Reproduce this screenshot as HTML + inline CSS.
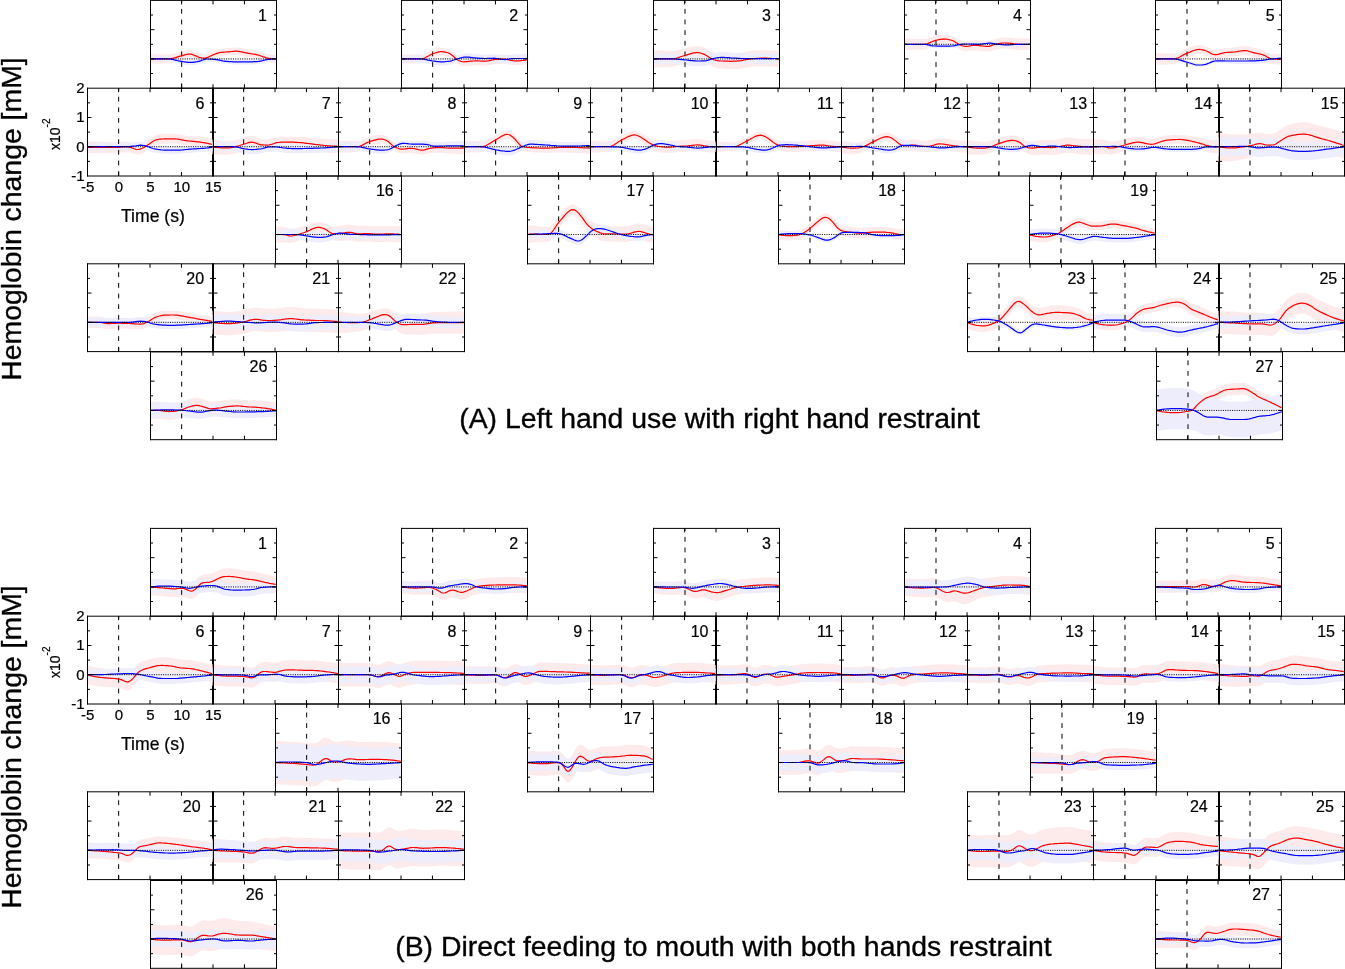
<!DOCTYPE html>
<html><head><meta charset="utf-8"><style>
html,body{margin:0;padding:0;background:#fff;}
svg{display:block;will-change:transform;}
text{font-family:"Liberation Sans",sans-serif;fill:#000;stroke:#000;stroke-width:0.22px;}
.pn{font-size:16px;text-anchor:middle;}
.ax{font-size:15px;}
.x10{font-size:14px;}
.sup{font-size:10px;}
.tl{font-size:17.6px;}
.big{font-size:28.4px;stroke:#000;stroke-width:0.35px;}
</style></head><body>
<svg width="1345" height="969" viewBox="0 0 1345 969">
<clipPath id="cA1"><rect x="150.20" y="0.40" width="125.67" height="87.80"/></clipPath>
<g clip-path="url(#cA1)">
<polygon points="150.2,54.3 152.6,54.3 154.9,54.3 157.3,54.3 159.6,54.3 162.0,54.4 164.3,54.4 166.7,54.4 169.1,54.3 171.4,54.0 173.8,53.5 176.1,52.9 178.5,52.2 180.8,51.6 183.2,51.0 185.5,50.5 187.9,50.1 190.3,50.0 192.6,50.6 195.0,51.6 197.3,52.7 199.7,53.5 202.0,54.1 204.4,54.3 206.8,54.0 209.1,53.1 211.5,52.1 213.8,51.0 216.2,50.1 218.5,49.3 220.9,48.9 223.2,48.6 225.6,48.4 228.0,48.2 230.3,47.9 232.7,47.7 235.0,47.5 237.4,47.6 239.7,47.8 242.1,48.3 244.5,48.8 246.8,49.2 249.2,49.6 251.5,50.0 253.9,50.3 256.2,50.7 258.6,51.2 260.9,52.0 263.3,52.9 265.7,53.6 268.0,54.1 270.4,54.5 272.7,54.7 275.1,54.8 275.9,54.8 275.9,63.0 275.1,63.0 272.7,62.8 270.4,62.5 268.0,62.2 265.7,61.6 263.3,60.8 260.9,59.9 258.6,59.1 256.2,58.5 253.9,58.1 251.5,57.7 249.2,57.3 246.8,56.9 244.5,56.4 242.1,55.8 239.7,55.4 237.4,55.1 235.0,55.0 232.7,55.1 230.3,55.3 228.0,55.5 225.6,55.7 223.2,55.8 220.9,56.0 218.5,56.5 216.2,57.2 213.8,58.1 211.5,59.2 209.1,60.3 206.8,61.4 204.4,61.9 202.0,61.8 199.7,61.3 197.3,60.6 195.0,59.6 192.6,58.7 190.3,58.3 187.9,58.5 185.5,59.0 183.2,59.7 180.8,60.4 178.5,61.1 176.1,61.8 173.8,62.5 171.4,63.0 169.1,63.3 166.7,63.4 164.3,63.5 162.0,63.5 159.6,63.5 157.3,63.6 154.9,63.6 152.6,63.6 150.2,63.6" fill="#fdeaea"/>
<polygon points="150.2,56.3 152.6,56.3 154.9,56.3 157.3,56.3 159.6,56.3 162.0,56.3 164.3,56.3 166.7,56.3 169.1,56.4 171.4,56.6 173.8,57.1 176.1,57.6 178.5,58.2 180.8,58.6 183.2,59.0 185.5,59.4 187.9,59.6 190.3,59.7 192.6,59.6 195.0,59.4 197.3,59.0 199.7,58.4 202.0,57.6 204.4,56.8 206.8,56.4 209.1,56.4 211.5,56.5 213.8,56.7 216.2,57.0 218.5,57.4 220.9,57.9 223.2,58.3 225.6,58.7 228.0,58.9 230.3,59.0 232.7,59.1 235.0,59.2 237.4,59.2 239.7,59.2 242.1,59.2 244.5,59.2 246.8,59.2 249.2,59.2 251.5,59.2 253.9,59.1 256.2,59.0 258.6,58.7 260.9,58.3 263.3,57.7 265.7,57.2 268.0,56.8 270.4,56.6 272.7,56.4 275.1,56.3 275.9,56.3 275.9,61.6 275.1,61.6 272.7,61.7 270.4,61.9 268.0,62.1 265.7,62.5 263.3,63.0 260.9,63.6 258.6,64.0 256.2,64.2 253.9,64.4 251.5,64.4 249.2,64.5 246.8,64.5 244.5,64.5 242.1,64.5 239.7,64.5 237.4,64.5 235.0,64.5 232.7,64.4 230.3,64.3 228.0,64.1 225.6,63.9 223.2,63.6 220.9,63.2 218.5,62.7 216.2,62.3 213.8,62.0 211.5,61.8 209.1,61.7 206.8,61.7 204.4,62.1 202.0,62.9 199.7,63.7 197.3,64.3 195.0,64.7 192.6,64.9 190.3,65.0 187.9,64.9 185.5,64.7 183.2,64.3 180.8,63.9 178.5,63.4 176.1,62.9 173.8,62.3 171.4,61.9 169.1,61.7 166.7,61.6 164.3,61.6 162.0,61.6 159.6,61.6 157.3,61.6 154.9,61.6 152.6,61.6 150.2,61.6" fill="#ededfc"/>
<line x1="181.65" y1="88.20" x2="181.65" y2="0.40" stroke="#000" stroke-width="1" stroke-dasharray="4.8 5.84"/>
<path d="M150.2,58.9L151.8,58.9L153.3,58.9L154.9,58.9L156.5,58.9L158.1,58.9L159.6,58.9L161.2,58.9L162.8,58.9L164.3,58.9L165.9,58.9L167.5,58.9L169.1,58.9L170.6,58.7L172.2,58.4L173.8,58.0L175.3,57.6L176.9,57.1L178.5,56.6L180.0,56.2L181.6,55.8L183.2,55.3L184.8,54.9L186.3,54.5L187.9,54.2L189.5,54.1L191.0,54.2L192.6,54.6L194.2,55.2L195.8,55.9L197.3,56.6L198.9,57.2L200.5,57.7L202.0,58.0L203.6,58.2L205.2,58.1L206.8,57.7L208.3,57.1L209.9,56.3L211.5,55.6L213.0,54.9L214.6,54.2L216.2,53.6L217.7,53.1L219.3,52.7L220.9,52.4L222.5,52.3L224.0,52.1L225.6,52.0L227.2,51.9L228.7,51.8L230.3,51.6L231.9,51.5L233.5,51.3L235.0,51.2L236.6,51.2L238.2,51.4L239.7,51.6L241.3,51.9L242.9,52.2L244.5,52.6L246.0,52.9L247.6,53.2L249.2,53.5L250.7,53.7L252.3,54.0L253.9,54.2L255.4,54.4L257.0,54.8L258.6,55.1L260.2,55.7L261.7,56.3L263.3,56.9L264.9,57.4L266.4,57.9L268.0,58.2L269.6,58.4L271.2,58.6L272.7,58.8L274.3,58.9L275.9,58.9" fill="none" stroke="#ff0000" stroke-width="1.2"/>
<path d="M150.2,58.9L151.8,58.9L153.3,58.9L154.9,58.9L156.5,58.9L158.1,58.9L159.6,58.9L161.2,58.9L162.8,58.9L164.3,58.9L165.9,58.9L167.5,58.9L169.1,59.0L170.6,59.1L172.2,59.4L173.8,59.7L175.3,60.1L176.9,60.5L178.5,60.8L180.0,61.1L181.6,61.4L183.2,61.7L184.8,61.9L186.3,62.1L187.9,62.3L189.5,62.4L191.0,62.4L192.6,62.3L194.2,62.1L195.8,61.9L197.3,61.7L198.9,61.3L200.5,60.9L202.0,60.3L203.6,59.7L205.2,59.2L206.8,59.0L208.3,59.0L209.9,59.1L211.5,59.2L213.0,59.3L214.6,59.4L216.2,59.6L217.7,59.9L219.3,60.2L220.9,60.5L222.5,60.9L224.0,61.1L225.6,61.3L227.2,61.4L228.7,61.6L230.3,61.7L231.9,61.7L233.5,61.8L235.0,61.8L236.6,61.9L238.2,61.9L239.7,61.9L241.3,61.9L242.9,61.9L244.5,61.9L246.0,61.9L247.6,61.9L249.2,61.8L250.7,61.8L252.3,61.8L253.9,61.7L255.4,61.7L257.0,61.6L258.6,61.4L260.2,61.1L261.7,60.8L263.3,60.3L264.9,60.0L266.4,59.7L268.0,59.4L269.6,59.3L271.2,59.2L272.7,59.0L274.3,59.0L275.9,58.9" fill="none" stroke="#0000ff" stroke-width="1.2"/>
<line x1="150.20" y1="58.93" x2="275.87" y2="58.93" stroke="#000" stroke-width="1" stroke-dasharray="1 1.3"/>
</g>
<path d="M181.62,0.40v4M181.62,88.20v-4M213.03,0.40v4M213.03,88.20v-4M244.45,0.40v4M244.45,88.20v-4M150.50,15.03h2.5M276.50,15.03h-2.5M150.50,29.67h4M276.50,29.67h-4M150.50,44.30h2.5M276.50,44.30h-2.5M150.50,58.93h4M276.50,58.93h-4M150.50,73.57h2.5M276.50,73.57h-2.5" stroke="#000" stroke-width="1" fill="none"/>
<path d="M150.00,0.40H277.00M150.00,88.20H277.00M150.50,-0.10V88.70M276.50,-0.10V88.70" stroke="#000" stroke-width="1" fill="none"/>
<text x="262.50" y="20.80" class="pn">1</text>
<clipPath id="cA2"><rect x="401.20" y="0.40" width="125.67" height="87.80"/></clipPath>
<g clip-path="url(#cA2)">
<polygon points="401.2,54.3 403.6,54.3 405.9,54.4 408.3,54.4 410.6,54.5 413.0,54.5 415.3,54.6 417.7,54.6 420.1,54.6 422.4,54.4 424.8,53.7 427.1,52.5 429.5,51.2 431.8,50.1 434.2,49.3 436.5,48.6 438.9,48.1 441.3,47.9 443.6,48.0 446.0,48.4 448.3,49.1 450.7,50.2 453.0,52.0 455.4,53.9 457.8,55.6 460.1,56.8 462.5,57.3 464.8,57.3 467.2,57.2 469.5,56.9 471.9,56.7 474.2,56.5 476.6,56.5 479.0,56.6 481.3,56.7 483.7,56.8 486.0,56.7 488.4,56.4 490.7,56.0 493.1,55.5 495.5,55.1 497.8,54.9 500.2,54.7 502.5,54.6 504.9,54.7 507.2,55.1 509.6,55.7 511.9,56.1 514.3,56.4 516.7,56.4 519.0,56.4 521.4,56.2 523.7,56.0 526.1,55.7 526.9,55.6 526.9,64.3 526.1,64.4 523.7,64.7 521.4,65.0 519.0,65.1 516.7,65.2 514.3,65.2 511.9,64.9 509.6,64.4 507.2,63.9 504.9,63.5 502.5,63.4 500.2,63.5 497.8,63.7 495.5,63.9 493.1,64.2 490.7,64.7 488.4,65.2 486.0,65.5 483.7,65.6 481.3,65.5 479.0,65.3 476.6,65.3 474.2,65.3 471.9,65.5 469.5,65.7 467.2,65.9 464.8,66.1 462.5,66.0 460.1,65.4 457.8,64.1 455.4,62.3 453.0,60.2 450.7,58.3 448.3,57.1 446.0,56.3 443.6,55.8 441.3,55.6 438.9,55.8 436.5,56.4 434.2,57.2 431.8,58.2 429.5,59.4 427.1,60.8 424.8,62.1 422.4,62.9 420.1,63.2 417.7,63.3 415.3,63.3 413.0,63.4 410.6,63.4 408.3,63.5 405.9,63.5 403.6,63.6 401.2,63.6" fill="#fdeaea"/>
<polygon points="401.2,55.4 403.6,55.4 405.9,55.4 408.3,55.4 410.6,55.4 413.0,55.4 415.3,55.4 417.7,55.3 420.1,55.3 422.4,55.4 424.8,55.7 427.1,56.2 429.5,56.8 431.8,57.2 434.2,57.6 436.5,57.8 438.9,58.0 441.3,58.1 443.6,58.0 446.0,57.9 448.3,57.6 450.7,57.2 453.0,56.6 455.4,55.8 457.8,55.0 460.1,54.3 462.5,53.7 464.8,53.4 467.2,53.3 469.5,53.4 471.9,53.7 474.2,53.9 476.6,54.1 479.0,54.3 481.3,54.4 483.7,54.5 486.0,54.5 488.4,54.4 490.7,54.3 493.1,54.2 495.5,54.2 497.8,54.5 500.2,54.9 502.5,55.3 504.9,55.3 507.2,55.1 509.6,54.8 511.9,54.4 514.3,54.3 516.7,54.2 519.0,54.2 521.4,54.2 523.7,54.1 526.1,54.1 526.9,54.1 526.9,62.9 526.1,62.9 523.7,62.9 521.4,62.8 519.0,62.8 516.7,62.8 514.3,62.8 511.9,62.9 509.6,63.2 507.2,63.5 504.9,63.7 502.5,63.6 500.2,63.2 497.8,62.7 495.5,62.4 493.1,62.3 490.7,62.4 488.4,62.4 486.0,62.5 483.7,62.4 481.3,62.3 479.0,62.2 476.6,62.0 474.2,61.7 471.9,61.4 469.5,61.2 467.2,61.0 464.8,61.0 462.5,61.3 460.1,61.9 457.8,62.6 455.4,63.3 453.0,64.1 450.7,64.6 448.3,65.0 446.0,65.3 443.6,65.5 441.3,65.5 438.9,65.4 436.5,65.2 434.2,64.9 431.8,64.5 429.5,64.1 427.1,63.5 424.8,63.0 422.4,62.7 420.1,62.5 417.7,62.5 415.3,62.5 413.0,62.5 410.6,62.5 408.3,62.5 405.9,62.5 403.6,62.5 401.2,62.4" fill="#ededfc"/>
<line x1="432.65" y1="88.20" x2="432.65" y2="0.40" stroke="#000" stroke-width="1" stroke-dasharray="4.8 5.84"/>
<path d="M401.2,58.9L402.8,58.9L404.3,58.9L405.9,58.9L407.5,58.9L409.1,58.9L410.6,58.9L412.2,58.9L413.8,58.9L415.3,58.9L416.9,58.9L418.5,58.9L420.1,58.9L421.6,58.8L423.2,58.6L424.8,58.0L426.3,57.1L427.9,56.2L429.5,55.2L431.0,54.5L432.6,53.8L434.2,53.3L435.8,52.7L437.3,52.3L438.9,51.9L440.5,51.7L442.0,51.7L443.6,51.9L445.2,52.1L446.8,52.5L448.3,53.0L449.9,53.7L451.5,54.7L453.0,56.0L454.6,57.5L456.2,58.8L457.8,59.9L459.3,60.8L460.9,61.4L462.5,61.7L464.0,61.8L465.6,61.7L467.2,61.6L468.7,61.4L470.3,61.2L471.9,61.1L473.5,61.0L475.0,60.9L476.6,60.9L478.2,60.9L479.7,61.0L481.3,61.1L482.9,61.2L484.5,61.2L486.0,61.2L487.6,61.0L489.2,60.7L490.7,60.3L492.3,60.0L493.9,59.7L495.5,59.5L497.0,59.3L498.6,59.2L500.2,59.1L501.7,59.0L503.3,59.0L504.9,59.1L506.4,59.3L508.0,59.6L509.6,60.1L511.2,60.4L512.7,60.7L514.3,60.8L515.9,60.8L517.4,60.8L519.0,60.8L520.6,60.7L522.2,60.5L523.7,60.4L525.3,60.1L526.9,59.9" fill="none" stroke="#ff0000" stroke-width="1.2"/>
<path d="M401.2,58.9L402.8,58.9L404.3,58.9L405.9,58.9L407.5,58.9L409.1,58.9L410.6,58.9L412.2,58.9L413.8,58.9L415.3,58.9L416.9,58.9L418.5,58.9L420.1,58.9L421.6,59.0L423.2,59.1L424.8,59.3L426.3,59.7L427.9,60.1L429.5,60.4L431.0,60.7L432.6,61.0L434.2,61.2L435.8,61.4L437.3,61.6L438.9,61.7L440.5,61.8L442.0,61.8L443.6,61.8L445.2,61.7L446.8,61.5L448.3,61.3L449.9,61.1L451.5,60.8L453.0,60.3L454.6,59.8L456.2,59.3L457.8,58.8L459.3,58.3L460.9,57.9L462.5,57.5L464.0,57.2L465.6,57.1L467.2,57.1L468.7,57.2L470.3,57.4L471.9,57.6L473.5,57.8L475.0,57.9L476.6,58.1L478.2,58.2L479.7,58.3L481.3,58.4L482.9,58.4L484.5,58.5L486.0,58.5L487.6,58.4L489.2,58.4L490.7,58.3L492.3,58.3L493.9,58.2L495.5,58.3L497.0,58.5L498.6,58.7L500.2,59.1L501.7,59.4L503.3,59.5L504.9,59.6L506.4,59.5L508.0,59.2L509.6,59.0L511.2,58.7L512.7,58.6L514.3,58.5L515.9,58.5L517.4,58.5L519.0,58.5L520.6,58.5L522.2,58.5L523.7,58.5L525.3,58.5L526.9,58.5" fill="none" stroke="#0000ff" stroke-width="1.2"/>
<line x1="401.20" y1="58.93" x2="526.87" y2="58.93" stroke="#000" stroke-width="1" stroke-dasharray="1 1.3"/>
</g>
<path d="M432.62,0.40v4M432.62,88.20v-4M464.03,0.40v4M464.03,88.20v-4M495.45,0.40v4M495.45,88.20v-4M401.50,15.03h2.5M527.50,15.03h-2.5M401.50,29.67h4M527.50,29.67h-4M401.50,44.30h2.5M527.50,44.30h-2.5M401.50,58.93h4M527.50,58.93h-4M401.50,73.57h2.5M527.50,73.57h-2.5" stroke="#000" stroke-width="1" fill="none"/>
<path d="M401.00,0.40H528.00M401.00,88.20H528.00M401.50,-0.10V88.70M527.50,-0.10V88.70" stroke="#000" stroke-width="1" fill="none"/>
<text x="513.80" y="20.80" class="pn">2</text>
<clipPath id="cA3"><rect x="653.20" y="0.40" width="125.67" height="87.80"/></clipPath>
<g clip-path="url(#cA3)">
<polygon points="653.2,50.2 655.6,50.3 657.9,50.4 660.3,50.5 662.6,50.7 665.0,50.8 667.3,50.9 669.7,51.0 672.1,51.1 674.4,50.9 676.8,50.5 679.1,49.9 681.5,49.2 683.8,48.6 686.2,48.0 688.5,47.4 690.9,46.9 693.3,46.4 695.6,46.1 698.0,46.1 700.3,46.5 702.7,47.1 705.0,48.0 707.4,49.3 709.8,50.8 712.1,52.0 714.5,52.7 716.8,53.2 719.2,53.4 721.5,53.4 723.9,53.5 726.2,53.5 728.6,53.6 731.0,53.6 733.3,53.5 735.7,53.4 738.0,53.2 740.4,52.9 742.7,52.5 745.1,52.0 747.5,51.5 749.8,51.1 752.2,50.8 754.5,50.6 756.9,50.4 759.2,50.3 761.6,50.2 763.9,50.2 766.3,50.2 768.7,50.2 771.0,50.3 773.4,50.4 775.7,50.5 778.1,50.6 778.9,50.7 778.9,67.0 778.1,67.0 775.7,66.8 773.4,66.6 771.0,66.5 768.7,66.4 766.3,66.3 763.9,66.3 761.6,66.2 759.2,66.3 756.9,66.3 754.5,66.5 752.2,66.7 749.8,66.9 747.5,67.3 745.1,67.7 742.7,68.1 740.4,68.4 738.0,68.7 735.7,68.9 733.3,69.0 731.0,69.0 728.6,68.9 726.2,68.8 723.9,68.7 721.5,68.5 719.2,68.3 716.8,67.9 714.5,67.2 712.1,66.2 709.8,64.8 707.4,63.1 705.0,61.6 702.7,60.5 700.3,59.7 698.0,59.2 695.6,59.3 693.3,59.7 690.9,60.4 688.5,61.2 686.2,62.1 683.8,62.9 681.5,63.8 679.1,64.7 676.8,65.6 674.4,66.2 672.1,66.6 669.7,66.8 667.3,67.0 665.0,67.1 662.6,67.2 660.3,67.3 657.9,67.5 655.6,67.6 653.2,67.7" fill="#fdeaea"/>
<polygon points="653.2,53.7 655.6,53.7 657.9,53.7 660.3,53.7 662.6,53.7 665.0,53.7 667.3,53.7 669.7,53.7 672.1,53.7 674.4,53.8 676.8,53.9 679.1,54.1 681.5,54.3 683.8,54.5 686.2,54.8 688.5,55.0 690.9,55.3 693.3,55.5 695.6,55.6 698.0,55.7 700.3,55.7 702.7,55.6 705.0,55.5 707.4,55.1 709.8,54.3 712.1,53.6 714.5,53.0 716.8,52.6 719.2,52.3 721.5,52.1 723.9,52.1 726.2,52.3 728.6,52.4 731.0,52.6 733.3,52.8 735.7,52.9 738.0,53.1 740.4,53.2 742.7,53.3 745.1,53.3 747.5,53.4 749.8,53.4 752.2,53.4 754.5,53.4 756.9,53.4 759.2,53.4 761.6,53.4 763.9,53.4 766.3,53.3 768.7,53.3 771.0,53.3 773.4,53.3 775.7,53.3 778.1,53.2 778.9,53.2 778.9,63.8 778.1,63.8 775.7,63.8 773.4,63.8 771.0,63.8 768.7,63.9 766.3,63.9 763.9,63.9 761.6,63.9 759.2,63.9 756.9,63.9 754.5,63.9 752.2,63.9 749.8,63.9 747.5,63.9 745.1,63.9 742.7,63.8 740.4,63.7 738.0,63.6 735.7,63.5 733.3,63.3 731.0,63.2 728.6,63.0 726.2,62.8 723.9,62.7 721.5,62.7 719.2,62.8 716.8,63.1 714.5,63.6 712.1,64.1 709.8,64.8 707.4,65.6 705.0,66.0 702.7,66.2 700.3,66.2 698.0,66.2 695.6,66.2 693.3,66.0 690.9,65.8 688.5,65.6 686.2,65.3 683.8,65.1 681.5,64.8 679.1,64.6 676.8,64.4 674.4,64.3 672.1,64.2 669.7,64.2 667.3,64.2 665.0,64.2 662.6,64.2 660.3,64.2 657.9,64.2 655.6,64.2 653.2,64.2" fill="#ededfc"/>
<line x1="685.00" y1="88.20" x2="685.00" y2="0.40" stroke="#000" stroke-width="1" stroke-dasharray="4.8 5.84"/>
<path d="M653.2,58.9L654.8,58.9L656.3,58.9L657.9,58.9L659.5,58.9L661.1,58.9L662.6,58.9L664.2,58.9L665.8,58.9L667.3,58.9L668.9,58.9L670.5,58.9L672.1,58.9L673.6,58.7L675.2,58.5L676.8,58.1L678.3,57.6L679.9,57.0L681.5,56.5L683.0,56.0L684.6,55.5L686.2,55.1L687.8,54.6L689.3,54.1L690.9,53.6L692.5,53.2L694.0,52.9L695.6,52.7L697.2,52.6L698.8,52.7L700.3,53.0L701.9,53.5L703.5,54.1L705.0,54.8L706.6,55.6L708.2,56.7L709.8,57.8L711.3,58.8L712.9,59.5L714.5,60.0L716.0,60.4L717.6,60.7L719.2,60.8L720.7,61.0L722.3,61.0L723.9,61.1L725.5,61.1L727.0,61.2L728.6,61.2L730.2,61.3L731.7,61.3L733.3,61.2L734.9,61.2L736.5,61.1L738.0,60.9L739.6,60.8L741.2,60.6L742.7,60.3L744.3,60.0L745.9,59.7L747.5,59.4L749.0,59.1L750.6,58.9L752.2,58.7L753.7,58.6L755.3,58.5L756.9,58.4L758.4,58.3L760.0,58.2L761.6,58.2L763.2,58.2L764.7,58.2L766.3,58.2L767.9,58.3L769.4,58.3L771.0,58.4L772.6,58.5L774.2,58.5L775.7,58.7L777.3,58.8L778.9,58.9" fill="none" stroke="#ff0000" stroke-width="1.2"/>
<path d="M653.2,58.9L654.8,58.9L656.3,58.9L657.9,58.9L659.5,58.9L661.1,58.9L662.6,58.9L664.2,58.9L665.8,58.9L667.3,58.9L668.9,58.9L670.5,58.9L672.1,58.9L673.6,59.0L675.2,59.1L676.8,59.2L678.3,59.3L679.9,59.4L681.5,59.6L683.0,59.7L684.6,59.9L686.2,60.0L687.8,60.2L689.3,60.4L690.9,60.6L692.5,60.7L694.0,60.8L695.6,60.9L697.2,61.0L698.8,61.0L700.3,61.0L701.9,60.9L703.5,60.9L705.0,60.8L706.6,60.6L708.2,60.1L709.8,59.6L711.3,59.0L712.9,58.6L714.5,58.3L716.0,58.0L717.6,57.7L719.2,57.5L720.7,57.4L722.3,57.4L723.9,57.4L725.5,57.5L727.0,57.6L728.6,57.7L730.2,57.8L731.7,58.0L733.3,58.1L734.9,58.2L736.5,58.2L738.0,58.3L739.6,58.4L741.2,58.5L742.7,58.5L744.3,58.6L745.9,58.6L747.5,58.6L749.0,58.6L750.6,58.6L752.2,58.6L753.7,58.6L755.3,58.6L756.9,58.6L758.4,58.6L760.0,58.6L761.6,58.6L763.2,58.6L764.7,58.6L766.3,58.6L767.9,58.6L769.4,58.6L771.0,58.6L772.6,58.6L774.2,58.5L775.7,58.5L777.3,58.5L778.9,58.5" fill="none" stroke="#0000ff" stroke-width="1.2"/>
<line x1="653.20" y1="58.93" x2="778.87" y2="58.93" stroke="#000" stroke-width="1" stroke-dasharray="1 1.3"/>
</g>
<path d="M684.62,0.40v4M684.62,88.20v-4M716.04,0.40v4M716.04,88.20v-4M747.45,0.40v4M747.45,88.20v-4M653.50,15.03h2.5M779.50,15.03h-2.5M653.50,29.67h4M779.50,29.67h-4M653.50,44.30h2.5M779.50,44.30h-2.5M653.50,58.93h4M779.50,58.93h-4M653.50,73.57h2.5M779.50,73.57h-2.5" stroke="#000" stroke-width="1" fill="none"/>
<path d="M653.00,0.40H780.00M653.00,88.20H780.00M653.50,-0.10V88.70M779.50,-0.10V88.70" stroke="#000" stroke-width="1" fill="none"/>
<text x="766.35" y="20.80" class="pn">3</text>
<clipPath id="cA4"><rect x="904.20" y="0.40" width="125.67" height="87.80"/></clipPath>
<g clip-path="url(#cA4)">
<polygon points="904.2,38.5 906.6,38.5 908.9,38.6 911.3,38.7 913.6,38.8 916.0,38.9 918.3,39.0 920.7,39.0 923.1,39.1 925.4,39.0 927.8,38.5 930.1,37.6 932.5,36.7 934.8,35.9 937.2,35.4 939.5,35.0 941.9,34.8 944.3,34.7 946.6,34.8 949.0,35.2 951.3,35.7 953.7,36.6 956.0,37.8 958.4,39.2 960.8,40.3 963.1,41.1 965.5,41.4 967.8,41.2 970.2,40.8 972.5,40.4 974.9,40.2 977.2,40.2 979.6,40.4 982.0,40.7 984.3,41.0 986.7,41.1 989.0,40.9 991.4,40.3 993.7,39.4 996.1,38.7 998.5,38.2 1000.8,37.8 1003.2,37.6 1005.5,37.5 1007.9,37.6 1010.2,37.7 1012.6,37.9 1014.9,38.3 1017.3,38.5 1019.7,38.6 1022.0,38.6 1024.4,38.5 1026.7,38.5 1029.1,38.5 1029.9,38.5 1029.9,50.1 1029.1,50.1 1026.7,50.1 1024.4,50.1 1022.0,50.0 1019.7,50.0 1017.3,49.9 1014.9,49.6 1012.6,49.2 1010.2,48.9 1007.9,48.7 1005.5,48.6 1003.2,48.5 1000.8,48.7 998.5,49.0 996.1,49.5 993.7,50.1 991.4,50.9 989.0,51.5 986.7,51.6 984.3,51.4 982.0,51.1 979.6,50.7 977.2,50.5 974.9,50.4 972.5,50.5 970.2,50.8 967.8,51.1 965.5,51.2 963.1,50.8 960.8,49.9 958.4,48.7 956.0,47.2 953.7,45.8 951.3,44.9 949.0,44.2 946.6,43.7 944.3,43.6 941.9,43.7 939.5,44.1 937.2,44.7 934.8,45.4 932.5,46.3 930.1,47.5 927.8,48.5 925.4,49.2 923.1,49.4 920.7,49.6 918.3,49.6 916.0,49.7 913.6,49.8 911.3,49.9 908.9,50.0 906.6,50.1 904.2,50.1" fill="#fdeaea"/>
<polygon points="904.2,42.3 906.6,42.3 908.9,42.3 911.3,42.3 913.6,42.3 916.0,42.3 918.3,42.3 920.7,42.3 923.1,42.3 925.4,42.4 927.8,42.8 930.1,43.4 932.5,43.8 934.8,43.9 937.2,44.0 939.5,44.1 941.9,44.1 944.3,44.1 946.6,44.1 949.0,44.0 951.3,43.9 953.7,43.7 956.0,43.3 958.4,42.7 960.8,42.3 963.1,42.1 965.5,42.0 967.8,42.0 970.2,42.0 972.5,42.0 974.9,42.1 977.2,42.2 979.6,42.2 982.0,42.0 984.3,41.7 986.7,41.4 989.0,41.2 991.4,41.3 993.7,41.6 996.1,42.0 998.5,42.3 1000.8,42.5 1003.2,42.7 1005.5,42.8 1007.9,42.8 1010.2,42.7 1012.6,42.5 1014.9,42.4 1017.3,42.3 1019.7,42.3 1022.0,42.3 1024.4,42.3 1026.7,42.3 1029.1,42.3 1029.9,42.3 1029.9,46.3 1029.1,46.3 1026.7,46.3 1024.4,46.3 1022.0,46.3 1019.7,46.4 1017.3,46.4 1014.9,46.5 1012.6,46.6 1010.2,46.8 1007.9,46.9 1005.5,46.9 1003.2,46.8 1000.8,46.6 998.5,46.4 996.1,46.1 993.7,45.7 991.4,45.4 989.0,45.3 986.7,45.5 984.3,45.8 982.0,46.1 979.6,46.3 977.2,46.3 974.9,46.2 972.5,46.1 970.2,46.1 967.8,46.1 965.5,46.1 963.1,46.2 960.8,46.4 958.4,46.8 956.0,47.4 953.7,47.8 951.3,48.0 949.0,48.1 946.6,48.2 944.3,48.2 941.9,48.2 939.5,48.2 937.2,48.1 934.8,48.0 932.5,47.9 930.1,47.5 927.8,46.9 925.4,46.5 923.1,46.4 920.7,46.3 918.3,46.3 916.0,46.3 913.6,46.3 911.3,46.3 908.9,46.3 906.6,46.3 904.2,46.3" fill="#ededfc"/>
<line x1="936.00" y1="88.20" x2="936.00" y2="0.40" stroke="#000" stroke-width="1" stroke-dasharray="4.8 5.84"/>
<path d="M904.2,44.3L905.8,44.3L907.3,44.3L908.9,44.3L910.5,44.3L912.1,44.3L913.6,44.3L915.2,44.3L916.8,44.3L918.3,44.3L919.9,44.3L921.5,44.3L923.1,44.3L924.6,44.2L926.2,44.0L927.8,43.6L929.3,42.9L930.9,42.2L932.5,41.5L934.0,40.9L935.6,40.4L937.2,40.0L938.8,39.7L940.3,39.4L941.9,39.2L943.5,39.1L945.0,39.1L946.6,39.2L948.2,39.5L949.8,39.8L951.3,40.3L952.9,40.8L954.5,41.5L956.0,42.5L957.6,43.5L959.2,44.4L960.8,45.1L962.3,45.8L963.9,46.2L965.5,46.4L967.0,46.3L968.6,46.1L970.2,45.8L971.7,45.5L973.3,45.3L974.9,45.2L976.5,45.3L978.0,45.4L979.6,45.6L981.2,45.8L982.7,46.0L984.3,46.2L985.9,46.3L987.5,46.4L989.0,46.3L990.6,45.9L992.2,45.3L993.7,44.8L995.3,44.3L996.9,43.9L998.5,43.6L1000.0,43.3L1001.6,43.1L1003.2,43.0L1004.7,43.0L1006.3,43.1L1007.9,43.1L1009.4,43.2L1011.0,43.3L1012.6,43.5L1014.2,43.8L1015.7,44.0L1017.3,44.2L1018.9,44.3L1020.4,44.3L1022.0,44.3L1023.6,44.3L1025.2,44.3L1026.7,44.3L1028.3,44.3L1029.9,44.3" fill="none" stroke="#ff0000" stroke-width="1.2"/>
<path d="M904.2,44.3L905.8,44.3L907.3,44.3L908.9,44.3L910.5,44.3L912.1,44.3L913.6,44.3L915.2,44.3L916.8,44.3L918.3,44.3L919.9,44.3L921.5,44.3L923.1,44.3L924.6,44.4L926.2,44.5L927.8,44.8L929.3,45.2L930.9,45.6L932.5,45.8L934.0,46.0L935.6,46.0L937.2,46.1L938.8,46.1L940.3,46.2L941.9,46.2L943.5,46.2L945.0,46.2L946.6,46.2L948.2,46.1L949.8,46.1L951.3,46.0L952.9,45.9L954.5,45.7L956.0,45.4L957.6,44.9L959.2,44.6L960.8,44.3L962.3,44.2L963.9,44.1L965.5,44.1L967.0,44.0L968.6,44.0L970.2,44.0L971.7,44.1L973.3,44.1L974.9,44.2L976.5,44.2L978.0,44.3L979.6,44.2L981.2,44.1L982.7,43.9L984.3,43.7L985.9,43.5L987.5,43.3L989.0,43.2L990.6,43.2L992.2,43.4L993.7,43.6L995.3,43.9L996.9,44.2L998.5,44.3L1000.0,44.5L1001.6,44.6L1003.2,44.7L1004.7,44.8L1006.3,44.9L1007.9,44.8L1009.4,44.8L1011.0,44.7L1012.6,44.6L1014.2,44.5L1015.7,44.4L1017.3,44.3L1018.9,44.3L1020.4,44.3L1022.0,44.3L1023.6,44.3L1025.2,44.3L1026.7,44.3L1028.3,44.3L1029.9,44.3" fill="none" stroke="#0000ff" stroke-width="1.2"/>
<line x1="904.20" y1="44.30" x2="1029.87" y2="44.30" stroke="#000" stroke-width="1" stroke-dasharray="1 1.3"/>
</g>
<path d="M935.62,0.40v4M935.62,88.20v-4M967.04,0.40v4M967.04,88.20v-4M998.45,0.40v4M998.45,88.20v-4M904.50,15.03h2.5M1030.50,15.03h-2.5M904.50,29.67h4M1030.50,29.67h-4M904.50,44.30h2.5M1030.50,44.30h-2.5M904.50,58.93h4M1030.50,58.93h-4M904.50,73.57h2.5M1030.50,73.57h-2.5" stroke="#000" stroke-width="1" fill="none"/>
<path d="M904.00,0.40H1031.00M904.00,88.20H1031.00M904.50,-0.10V88.70M1030.50,-0.10V88.70" stroke="#000" stroke-width="1" fill="none"/>
<text x="1017.55" y="20.80" class="pn">4</text>
<clipPath id="cA5"><rect x="1155.20" y="0.40" width="125.67" height="87.80"/></clipPath>
<g clip-path="url(#cA5)">
<polygon points="1155.2,53.1 1157.6,53.2 1159.9,53.2 1162.3,53.3 1164.6,53.4 1167.0,53.5 1169.3,53.5 1171.7,53.6 1174.1,53.6 1176.4,53.2 1178.8,52.4 1181.1,51.2 1183.5,50.0 1185.8,48.9 1188.2,48.0 1190.5,47.1 1192.9,46.2 1195.3,45.5 1197.6,45.1 1200.0,45.1 1202.3,45.4 1204.7,46.0 1207.0,46.9 1209.4,48.1 1211.8,49.4 1214.1,50.1 1216.5,50.1 1218.8,49.7 1221.2,49.1 1223.5,48.5 1225.9,48.1 1228.2,47.9 1230.6,47.8 1233.0,47.6 1235.3,47.4 1237.7,47.0 1240.0,46.6 1242.4,46.2 1244.7,46.1 1247.1,46.3 1249.5,46.8 1251.8,47.5 1254.2,48.1 1256.5,48.5 1258.9,49.0 1261.2,49.5 1263.6,50.2 1265.9,51.3 1268.3,52.6 1270.7,53.5 1273.0,53.9 1275.4,54.0 1277.7,54.0 1280.1,54.0 1280.9,54.0 1280.9,64.5 1280.1,64.5 1277.7,64.4 1275.4,64.3 1273.0,64.1 1270.7,63.6 1268.3,62.6 1265.9,61.3 1263.6,60.1 1261.2,59.2 1258.9,58.6 1256.5,58.1 1254.2,57.5 1251.8,56.9 1249.5,56.1 1247.1,55.5 1244.7,55.2 1242.4,55.2 1240.0,55.5 1237.7,55.9 1235.3,56.2 1233.0,56.4 1230.6,56.6 1228.2,56.7 1225.9,56.9 1223.5,57.3 1221.2,57.8 1218.8,58.4 1216.5,58.9 1214.1,58.9 1211.8,58.2 1209.4,56.9 1207.0,55.7 1204.7,54.8 1202.3,54.2 1200.0,53.9 1197.6,54.0 1195.3,54.5 1192.9,55.4 1190.5,56.4 1188.2,57.5 1185.8,58.6 1183.5,59.8 1181.1,61.2 1178.8,62.5 1176.4,63.5 1174.1,64.0 1171.7,64.2 1169.3,64.3 1167.0,64.4 1164.6,64.5 1162.3,64.6 1159.9,64.6 1157.6,64.7 1155.2,64.8" fill="#fdeaea"/>
<polygon points="1155.2,56.9 1157.6,56.9 1159.9,56.9 1162.3,56.9 1164.6,56.9 1167.0,57.0 1169.3,57.0 1171.7,57.0 1174.1,57.1 1176.4,57.3 1178.8,57.8 1181.1,58.5 1183.5,59.2 1185.8,59.9 1188.2,60.7 1190.5,61.4 1192.9,62.2 1195.3,62.8 1197.6,63.1 1200.0,63.2 1202.3,63.1 1204.7,62.8 1207.0,62.1 1209.4,61.0 1211.8,59.9 1214.1,59.1 1216.5,58.7 1218.8,58.6 1221.2,58.5 1223.5,58.5 1225.9,58.4 1228.2,58.4 1230.6,58.3 1233.0,58.2 1235.3,58.1 1237.7,58.1 1240.0,58.1 1242.4,58.1 1244.7,58.1 1247.1,58.0 1249.5,58.0 1251.8,58.0 1254.2,57.9 1256.5,57.8 1258.9,57.7 1261.2,57.5 1263.6,57.2 1265.9,56.8 1268.3,56.4 1270.7,56.1 1273.0,55.9 1275.4,55.7 1277.7,55.5 1280.1,55.4 1280.9,55.3 1280.9,61.2 1280.1,61.2 1277.7,61.3 1275.4,61.5 1273.0,61.7 1270.7,62.0 1268.3,62.3 1265.9,62.7 1263.6,63.0 1261.2,63.3 1258.9,63.5 1256.5,63.7 1254.2,63.7 1251.8,63.8 1249.5,63.9 1247.1,63.9 1244.7,63.9 1242.4,63.9 1240.0,63.9 1237.7,63.9 1235.3,63.8 1233.0,63.8 1230.6,63.7 1228.2,63.6 1225.9,63.5 1223.5,63.3 1221.2,63.2 1218.8,63.1 1216.5,63.1 1214.1,63.3 1211.8,63.9 1209.4,64.8 1207.0,65.7 1204.7,66.4 1202.3,66.7 1200.0,66.8 1197.6,66.7 1195.3,66.4 1192.9,65.8 1190.5,65.1 1188.2,64.4 1185.8,63.7 1183.5,63.0 1181.1,62.3 1178.8,61.6 1176.4,61.2 1174.1,60.9 1171.7,60.9 1169.3,60.9 1167.0,60.9 1164.6,60.9 1162.3,60.9 1159.9,61.0 1157.6,61.0 1155.2,61.0" fill="#ededfc"/>
<line x1="1187.00" y1="88.20" x2="1187.00" y2="0.40" stroke="#000" stroke-width="1" stroke-dasharray="4.8 5.84"/>
<path d="M1155.2,58.9L1156.8,58.9L1158.3,58.9L1159.9,58.9L1161.5,58.9L1163.1,58.9L1164.6,58.9L1166.2,58.9L1167.8,58.9L1169.3,58.9L1170.9,58.9L1172.5,58.9L1174.1,58.8L1175.6,58.6L1177.2,58.2L1178.8,57.5L1180.3,56.7L1181.9,55.8L1183.5,54.9L1185.0,54.1L1186.6,53.4L1188.2,52.7L1189.8,52.1L1191.3,51.4L1192.9,50.8L1194.5,50.2L1196.0,49.8L1197.6,49.5L1199.2,49.4L1200.8,49.5L1202.3,49.8L1203.9,50.2L1205.5,50.7L1207.0,51.3L1208.6,52.1L1210.2,53.0L1211.8,53.9L1213.3,54.5L1214.9,54.7L1216.5,54.6L1218.0,54.3L1219.6,53.9L1221.2,53.4L1222.7,53.1L1224.3,52.7L1225.9,52.5L1227.5,52.4L1229.0,52.3L1230.6,52.2L1232.2,52.1L1233.7,52.0L1235.3,51.8L1236.9,51.6L1238.5,51.3L1240.0,51.0L1241.6,50.8L1243.2,50.6L1244.7,50.6L1246.3,50.7L1247.9,51.0L1249.5,51.5L1251.0,51.9L1252.6,52.4L1254.2,52.8L1255.7,53.2L1257.3,53.5L1258.9,53.8L1260.4,54.1L1262.0,54.5L1263.6,55.1L1265.2,55.8L1266.7,56.7L1268.3,57.6L1269.9,58.4L1271.4,58.8L1273.0,59.0L1274.6,59.1L1276.2,59.1L1277.7,59.2L1279.3,59.2L1280.9,59.2" fill="none" stroke="#ff0000" stroke-width="1.2"/>
<path d="M1155.2,58.9L1156.8,58.9L1158.3,58.9L1159.9,58.9L1161.5,58.9L1163.1,58.9L1164.6,58.9L1166.2,58.9L1167.8,58.9L1169.3,58.9L1170.9,58.9L1172.5,58.9L1174.1,59.0L1175.6,59.1L1177.2,59.3L1178.8,59.7L1180.3,60.1L1181.9,60.6L1183.5,61.1L1185.0,61.6L1186.6,62.0L1188.2,62.5L1189.8,63.0L1191.3,63.5L1192.9,64.0L1194.5,64.5L1196.0,64.8L1197.6,65.0L1199.2,65.0L1200.8,65.0L1202.3,64.9L1203.9,64.7L1205.5,64.4L1207.0,63.9L1208.6,63.3L1210.2,62.6L1211.8,61.9L1213.3,61.3L1214.9,61.0L1216.5,60.9L1218.0,60.9L1219.6,60.9L1221.2,60.9L1222.7,60.9L1224.3,60.9L1225.9,61.0L1227.5,61.0L1229.0,61.0L1230.6,61.0L1232.2,61.0L1233.7,61.0L1235.3,61.0L1236.9,61.0L1238.5,61.0L1240.0,61.0L1241.6,61.0L1243.2,61.0L1244.7,61.0L1246.3,61.0L1247.9,61.0L1249.5,60.9L1251.0,60.9L1252.6,60.9L1254.2,60.8L1255.7,60.8L1257.3,60.7L1258.9,60.6L1260.4,60.5L1262.0,60.3L1263.6,60.1L1265.2,59.9L1266.7,59.6L1268.3,59.4L1269.9,59.1L1271.4,58.9L1273.0,58.8L1274.6,58.7L1276.2,58.5L1277.7,58.4L1279.3,58.3L1280.9,58.2" fill="none" stroke="#0000ff" stroke-width="1.2"/>
<line x1="1155.20" y1="58.93" x2="1280.87" y2="58.93" stroke="#000" stroke-width="1" stroke-dasharray="1 1.3"/>
</g>
<path d="M1186.62,0.40v4M1186.62,88.20v-4M1218.04,0.40v4M1218.04,88.20v-4M1249.45,0.40v4M1249.45,88.20v-4M1155.50,15.03h2.5M1281.50,15.03h-2.5M1155.50,29.67h4M1281.50,29.67h-4M1155.50,44.30h2.5M1281.50,44.30h-2.5M1155.50,58.93h4M1281.50,58.93h-4M1155.50,73.57h2.5M1281.50,73.57h-2.5" stroke="#000" stroke-width="1" fill="none"/>
<path d="M1155.00,0.40H1282.00M1155.00,88.20H1282.00M1155.50,-0.10V88.70M1281.50,-0.10V88.70" stroke="#000" stroke-width="1" fill="none"/>
<text x="1270.20" y="20.80" class="pn">5</text>
<clipPath id="cA6"><rect x="87.20" y="88.20" width="125.67" height="87.80"/></clipPath>
<g clip-path="url(#cA6)">
<polygon points="87.2,141.5 89.6,141.5 91.9,141.5 94.3,141.6 96.6,141.6 99.0,141.6 101.3,141.7 103.7,141.7 106.1,141.7 108.4,141.8 110.8,141.8 113.1,141.8 115.5,141.9 117.8,141.9 120.2,141.8 122.5,141.7 124.9,141.6 127.3,141.6 129.6,141.9 132.0,142.7 134.3,143.6 136.7,144.2 139.0,144.1 141.4,143.5 143.8,142.4 146.1,141.0 148.5,139.4 150.8,137.9 153.2,136.4 155.5,135.3 157.9,134.6 160.2,134.3 162.6,134.1 165.0,134.1 167.3,134.0 169.7,134.0 172.0,134.1 174.4,134.1 176.7,134.3 179.1,134.6 181.5,135.1 183.8,135.4 186.2,135.7 188.5,135.9 190.9,136.1 193.2,136.2 195.6,136.4 197.9,136.6 200.3,136.8 202.7,137.0 205.0,137.4 207.4,137.7 209.7,138.1 212.1,138.5 212.9,138.5 212.9,150.2 212.1,150.1 209.7,149.6 207.4,149.0 205.0,148.5 202.7,148.0 200.3,147.5 197.9,147.1 195.6,146.8 193.2,146.5 190.9,146.2 188.5,145.8 186.2,145.5 183.8,145.0 181.5,144.5 179.1,144.1 176.7,143.8 174.4,143.6 172.0,143.6 169.7,143.6 167.3,143.7 165.0,143.7 162.6,143.9 160.2,144.1 157.9,144.4 155.5,145.1 153.2,146.3 150.8,147.8 148.5,149.4 146.1,151.1 143.8,152.5 141.4,153.7 139.0,154.4 136.7,154.5 134.3,154.0 132.0,153.1 129.6,152.4 127.3,152.2 124.9,152.2 122.5,152.4 120.2,152.6 117.8,152.7 115.5,152.8 113.1,152.8 110.8,152.8 108.4,152.9 106.1,152.9 103.7,152.9 101.3,153.0 99.0,153.0 96.6,153.0 94.3,153.1 91.9,153.1 89.6,153.1 87.2,153.2" fill="#fdeaea"/>
<polygon points="87.2,142.9 89.6,142.9 91.9,142.9 94.3,142.9 96.6,143.0 99.0,143.0 101.3,143.0 103.7,143.0 106.1,143.0 108.4,143.0 110.8,143.0 113.1,143.0 115.5,143.0 117.8,143.0 120.2,143.0 122.5,143.0 124.9,143.0 127.3,143.0 129.6,142.9 132.0,142.6 134.3,142.3 136.7,141.9 139.0,141.7 141.4,141.6 143.8,141.9 146.1,142.5 148.5,143.2 150.8,144.0 153.2,144.9 155.5,145.4 157.9,145.8 160.2,146.1 162.6,146.4 165.0,146.5 167.3,146.6 169.7,146.6 172.0,146.6 174.4,146.6 176.7,146.6 179.1,146.5 181.5,146.4 183.8,146.2 186.2,145.9 188.5,145.7 190.9,145.5 193.2,145.4 195.6,145.2 197.9,145.1 200.3,145.0 202.7,144.8 205.0,144.6 207.4,144.4 209.7,144.2 212.1,144.0 212.9,143.9 212.9,150.9 212.1,151.0 209.7,151.2 207.4,151.5 205.0,151.7 202.7,151.9 200.3,152.0 197.9,152.2 195.6,152.3 193.2,152.5 190.9,152.7 188.5,152.9 186.2,153.1 183.8,153.3 181.5,153.6 179.1,153.7 176.7,153.8 174.4,153.8 172.0,153.9 169.7,153.9 167.3,153.8 165.0,153.8 162.6,153.6 160.2,153.4 157.9,153.1 155.5,152.7 153.2,152.2 150.8,151.4 148.5,150.5 146.1,149.8 143.8,149.2 141.4,149.0 139.0,149.0 136.7,149.3 134.3,149.7 132.0,150.0 129.6,150.3 127.3,150.4 124.9,150.4 122.5,150.5 120.2,150.5 117.8,150.5 115.5,150.5 113.1,150.5 110.8,150.5 108.4,150.5 106.1,150.5 103.7,150.5 101.3,150.5 99.0,150.5 96.6,150.5 94.3,150.5 91.9,150.5 89.6,150.5 87.2,150.5" fill="#ededfc"/>
<line x1="118.65" y1="176.00" x2="118.65" y2="88.20" stroke="#000" stroke-width="1" stroke-dasharray="4.8 5.84"/>
<path d="M87.2,147.3L88.8,147.3L90.3,147.3L91.9,147.3L93.5,147.3L95.1,147.3L96.6,147.3L98.2,147.3L99.8,147.3L101.3,147.3L102.9,147.3L104.5,147.3L106.1,147.3L107.6,147.3L109.2,147.3L110.8,147.3L112.3,147.3L113.9,147.3L115.5,147.3L117.0,147.3L118.6,147.3L120.2,147.2L121.8,147.2L123.3,147.0L124.9,146.9L126.5,146.8L128.0,146.9L129.6,147.1L131.2,147.6L132.8,148.2L134.3,148.8L135.9,149.3L137.5,149.5L139.0,149.3L140.6,148.9L142.2,148.3L143.8,147.5L145.3,146.6L146.9,145.5L148.5,144.4L150.0,143.4L151.6,142.3L153.2,141.3L154.7,140.5L156.3,139.8L157.9,139.5L159.5,139.2L161.0,139.1L162.6,139.0L164.2,138.9L165.7,138.9L167.3,138.8L168.9,138.8L170.5,138.8L172.0,138.8L173.6,138.8L175.2,138.9L176.7,139.0L178.3,139.2L179.9,139.5L181.5,139.8L183.0,140.1L184.6,140.4L186.2,140.6L187.7,140.8L189.3,141.0L190.9,141.1L192.4,141.3L194.0,141.4L195.6,141.6L197.2,141.8L198.7,141.9L200.3,142.1L201.9,142.4L203.4,142.6L205.0,142.9L206.6,143.2L208.2,143.5L209.7,143.8L211.3,144.2L212.9,144.4" fill="none" stroke="#ff0000" stroke-width="1.2"/>
<path d="M87.2,146.7L88.8,146.7L90.3,146.7L91.9,146.7L93.5,146.7L95.1,146.7L96.6,146.7L98.2,146.7L99.8,146.7L101.3,146.7L102.9,146.7L104.5,146.7L106.1,146.7L107.6,146.7L109.2,146.7L110.8,146.7L112.3,146.7L113.9,146.7L115.5,146.7L117.0,146.7L118.6,146.7L120.2,146.7L121.8,146.7L123.3,146.7L124.9,146.7L126.5,146.7L128.0,146.7L129.6,146.6L131.2,146.4L132.8,146.2L134.3,146.0L135.9,145.8L137.5,145.5L139.0,145.3L140.6,145.2L142.2,145.3L143.8,145.5L145.3,145.9L146.9,146.3L148.5,146.8L150.0,147.4L151.6,148.0L153.2,148.5L154.7,148.9L156.3,149.2L157.9,149.5L159.5,149.7L161.0,149.9L162.6,150.0L164.2,150.1L165.7,150.2L167.3,150.2L168.9,150.2L170.5,150.2L172.0,150.2L173.6,150.2L175.2,150.2L176.7,150.2L178.3,150.2L179.9,150.1L181.5,150.0L183.0,149.8L184.6,149.7L186.2,149.5L187.7,149.4L189.3,149.2L190.9,149.1L192.4,149.0L194.0,148.9L195.6,148.8L197.2,148.7L198.7,148.6L200.3,148.5L201.9,148.4L203.4,148.3L205.0,148.2L206.6,148.0L208.2,147.9L209.7,147.7L211.3,147.5L212.9,147.4" fill="none" stroke="#0000ff" stroke-width="1.2"/>
<line x1="87.20" y1="146.73" x2="212.87" y2="146.73" stroke="#000" stroke-width="1" stroke-dasharray="1 1.3"/>
</g>
<path d="M118.62,88.20v4M118.62,176.00v-4M150.03,88.20v4M150.03,176.00v-4M181.45,88.20v4M181.45,176.00v-4M87.50,102.83h2.5M212.50,102.83h-2.5M87.50,117.47h4M212.50,117.47h-4M87.50,132.10h2.5M212.50,132.10h-2.5M87.50,146.73h4M212.50,146.73h-4M87.50,161.37h2.5M212.50,161.37h-2.5" stroke="#000" stroke-width="1" fill="none"/>
<path d="M87.00,88.20H213.00M87.00,176.00H213.00M87.50,87.70V176.50M212.50,87.70V176.50" stroke="#000" stroke-width="1" fill="none"/>
<text x="199.95" y="108.60" class="pn">6</text>
<clipPath id="cA7"><rect x="212.20" y="88.20" width="125.67" height="87.80"/></clipPath>
<g clip-path="url(#cA7)">
<polygon points="212.2,139.6 214.6,139.9 216.9,140.3 219.3,140.6 221.6,140.8 224.0,140.9 226.3,141.0 228.7,141.0 231.1,140.8 233.4,140.4 235.8,140.0 238.1,139.4 240.5,138.7 242.8,138.1 245.2,137.4 247.5,136.7 249.9,136.2 252.3,136.1 254.6,136.6 257.0,137.5 259.3,138.4 261.7,138.9 264.0,139.2 266.4,139.3 268.8,139.2 271.1,138.8 273.5,138.1 275.8,137.4 278.2,137.0 280.5,136.8 282.9,136.8 285.2,136.8 287.6,136.7 290.0,136.7 292.3,136.7 294.7,136.8 297.0,136.8 299.4,136.9 301.7,137.0 304.1,137.1 306.5,137.3 308.8,137.6 311.2,137.8 313.5,138.1 315.9,138.3 318.2,138.5 320.6,138.6 322.9,138.8 325.3,139.0 327.7,139.1 330.0,139.2 332.4,139.2 334.7,139.3 337.1,139.3 337.9,139.3 337.9,153.3 337.1,153.2 334.7,153.1 332.4,152.9 330.0,152.7 327.7,152.4 325.3,152.1 322.9,151.8 320.6,151.5 318.2,151.1 315.9,150.8 313.5,150.4 311.2,150.0 308.8,149.6 306.5,149.2 304.1,148.8 301.7,148.5 299.4,148.2 297.0,148.0 294.7,147.8 292.3,147.6 290.0,147.5 287.6,147.4 285.2,147.4 282.9,147.6 280.5,147.7 278.2,148.0 275.8,148.5 273.5,149.3 271.1,150.1 268.8,150.7 266.4,150.9 264.0,150.9 261.7,150.7 259.3,150.4 257.0,149.6 254.6,148.8 252.3,148.4 249.9,148.7 247.5,149.3 245.2,150.1 242.8,150.9 240.5,151.7 238.1,152.5 235.8,153.2 233.4,153.8 231.1,154.3 228.7,154.6 226.3,154.8 224.0,154.8 221.6,154.8 219.3,154.8 216.9,154.6 214.6,154.4 212.2,154.2" fill="#fdeaea"/>
<polygon points="212.2,142.1 214.6,142.1 216.9,142.1 219.3,142.1 221.6,142.1 224.0,142.1 226.3,142.1 228.7,142.1 231.1,142.1 233.4,142.1 235.8,142.2 238.1,142.6 240.5,143.2 242.8,143.8 245.2,144.3 247.5,144.6 249.9,144.8 252.3,144.9 254.6,144.8 257.0,144.6 259.3,144.3 261.7,143.9 264.0,143.4 266.4,142.8 268.8,142.3 271.1,142.1 273.5,142.1 275.8,142.3 278.2,142.4 280.5,142.7 282.9,143.1 285.2,143.4 287.6,143.7 290.0,143.8 292.3,143.9 294.7,143.9 297.0,143.9 299.4,143.9 301.7,143.9 304.1,143.8 306.5,143.8 308.8,143.7 311.2,143.6 313.5,143.6 315.9,143.5 318.2,143.4 320.6,143.4 322.9,143.3 325.3,143.1 327.7,143.0 330.0,142.8 332.4,142.6 334.7,142.4 337.1,142.2 337.9,142.1 337.9,151.5 337.1,151.5 334.7,151.8 332.4,152.0 330.0,152.2 327.7,152.4 325.3,152.5 322.9,152.6 320.6,152.7 318.2,152.8 315.9,152.9 313.5,152.9 311.2,153.0 308.8,153.1 306.5,153.1 304.1,153.2 301.7,153.2 299.4,153.3 297.0,153.3 294.7,153.3 292.3,153.2 290.0,153.2 287.6,153.0 285.2,152.8 282.9,152.5 280.5,152.1 278.2,151.8 275.8,151.6 273.5,151.5 271.1,151.5 268.8,151.7 266.4,152.1 264.0,152.7 261.7,153.3 259.3,153.7 257.0,154.0 254.6,154.2 252.3,154.3 249.9,154.2 247.5,154.0 245.2,153.6 242.8,153.2 240.5,152.6 238.1,152.0 235.8,151.6 233.4,151.4 231.1,151.4 228.7,151.4 226.3,151.4 224.0,151.4 221.6,151.4 219.3,151.4 216.9,151.4 214.6,151.4 212.2,151.4" fill="#ededfc"/>
<line x1="243.65" y1="176.00" x2="243.65" y2="88.20" stroke="#000" stroke-width="1" stroke-dasharray="4.8 5.84"/>
<path d="M212.2,146.9L213.8,147.0L215.3,147.3L216.9,147.5L218.5,147.6L220.1,147.7L221.6,147.8L223.2,147.9L224.8,147.9L226.3,147.9L227.9,147.9L229.5,147.8L231.1,147.6L232.6,147.3L234.2,147.0L235.8,146.6L237.3,146.2L238.9,145.7L240.5,145.2L242.0,144.7L243.6,144.2L245.2,143.7L246.8,143.2L248.3,142.7L249.9,142.4L251.5,142.2L253.0,142.3L254.6,142.6L256.2,143.2L257.8,143.9L259.3,144.4L260.9,144.8L262.5,144.9L264.0,145.0L265.6,145.1L267.2,145.1L268.8,145.0L270.3,144.7L271.9,144.2L273.5,143.7L275.0,143.1L276.6,142.7L278.2,142.5L279.7,142.3L281.3,142.2L282.9,142.2L284.5,142.1L286.0,142.1L287.6,142.1L289.2,142.1L290.7,142.1L292.3,142.2L293.9,142.2L295.5,142.3L297.0,142.4L298.6,142.5L300.2,142.6L301.7,142.7L303.3,142.9L304.9,143.1L306.5,143.3L308.0,143.5L309.6,143.7L311.2,143.9L312.7,144.1L314.3,144.3L315.9,144.5L317.4,144.7L319.0,144.9L320.6,145.1L322.2,145.2L323.7,145.4L325.3,145.5L326.9,145.7L328.4,145.8L330.0,145.9L331.6,146.0L333.2,146.1L334.7,146.2L336.3,146.2L337.9,146.3" fill="none" stroke="#ff0000" stroke-width="1.2"/>
<path d="M212.2,146.7L213.8,146.7L215.3,146.7L216.9,146.7L218.5,146.7L220.1,146.7L221.6,146.7L223.2,146.7L224.8,146.7L226.3,146.7L227.9,146.7L229.5,146.7L231.1,146.7L232.6,146.7L234.2,146.8L235.8,146.8L237.3,147.1L238.9,147.5L240.5,147.9L242.0,148.4L243.6,148.7L245.2,149.0L246.8,149.2L248.3,149.4L249.9,149.5L251.5,149.6L253.0,149.6L254.6,149.5L256.2,149.4L257.8,149.2L259.3,149.0L260.9,148.8L262.5,148.5L264.0,148.1L265.6,147.6L267.2,147.2L268.8,146.9L270.3,146.8L271.9,146.8L273.5,146.8L275.0,146.9L276.6,147.0L278.2,147.1L279.7,147.3L281.3,147.5L282.9,147.8L284.5,148.0L286.0,148.2L287.6,148.4L289.2,148.4L290.7,148.5L292.3,148.6L293.9,148.6L295.5,148.6L297.0,148.6L298.6,148.6L300.2,148.6L301.7,148.6L303.3,148.5L304.9,148.5L306.5,148.4L308.0,148.4L309.6,148.4L311.2,148.3L312.7,148.3L314.3,148.2L315.9,148.2L317.4,148.1L319.0,148.1L320.6,148.0L322.2,148.0L323.7,147.9L325.3,147.8L326.9,147.7L328.4,147.6L330.0,147.5L331.6,147.4L333.2,147.2L334.7,147.1L336.3,146.9L337.9,146.8" fill="none" stroke="#0000ff" stroke-width="1.2"/>
<line x1="212.20" y1="146.73" x2="337.87" y2="146.73" stroke="#000" stroke-width="1" stroke-dasharray="1 1.3"/>
</g>
<path d="M243.62,88.20v4M243.62,176.00v-4M275.03,88.20v4M275.03,176.00v-4M306.45,88.20v4M306.45,176.00v-4M213.50,102.83h2.5M338.50,102.83h-2.5M213.50,117.47h4M338.50,117.47h-4M213.50,132.10h2.5M338.50,132.10h-2.5M213.50,146.73h4M338.50,146.73h-4M213.50,161.37h2.5M338.50,161.37h-2.5" stroke="#000" stroke-width="1" fill="none"/>
<path d="M213.00,88.20H339.00M213.00,176.00H339.00M213.50,87.70V176.50M338.50,87.70V176.50" stroke="#000" stroke-width="1" fill="none"/>
<text x="326.10" y="108.60" class="pn">7</text>
<clipPath id="cA8"><rect x="338.20" y="88.20" width="125.67" height="87.80"/></clipPath>
<g clip-path="url(#cA8)">
<polygon points="338.2,140.6 340.6,140.7 342.9,140.8 345.3,140.9 347.6,141.0 350.0,141.1 352.3,141.2 354.7,141.2 357.1,141.3 359.4,141.0 361.8,140.2 364.1,139.1 366.5,137.9 368.8,137.1 371.2,136.3 373.5,135.7 375.9,135.2 378.3,134.8 380.6,134.7 383.0,135.0 385.3,135.7 387.7,136.9 390.0,138.8 392.4,140.9 394.8,142.5 397.1,143.6 399.5,144.4 401.8,144.7 404.2,144.6 406.5,144.3 408.9,144.0 411.2,143.9 413.6,144.2 416.0,144.6 418.3,145.2 420.7,145.5 423.0,145.5 425.4,145.0 427.7,144.3 430.1,143.6 432.5,143.1 434.8,142.9 437.2,142.7 439.5,142.6 441.9,142.5 444.2,142.6 446.6,142.7 448.9,142.7 451.3,142.7 453.7,142.7 456.0,142.6 458.4,142.5 460.7,142.5 463.1,142.4 463.9,142.4 463.9,154.0 463.1,154.0 460.7,153.9 458.4,153.9 456.0,153.8 453.7,153.7 451.3,153.6 448.9,153.5 446.6,153.2 444.2,153.0 441.9,152.8 439.5,152.7 437.2,152.7 434.8,152.7 432.5,152.7 430.1,153.0 427.7,153.6 425.4,154.2 423.0,154.5 420.7,154.4 418.3,154.0 416.0,153.4 413.6,152.9 411.2,152.7 408.9,152.8 406.5,153.1 404.2,153.4 401.8,153.5 399.5,153.1 397.1,152.4 394.8,151.3 392.4,149.6 390.0,147.6 387.7,145.7 385.3,144.5 383.0,143.8 380.6,143.6 378.3,143.9 375.9,144.4 373.5,145.1 371.2,146.0 368.8,146.9 366.5,148.0 364.1,149.3 361.8,150.6 359.4,151.5 357.1,152.0 354.7,152.2 352.3,152.3 350.0,152.4 347.6,152.5 345.3,152.6 342.9,152.7 340.6,152.8 338.2,152.8" fill="#fdeaea"/>
<polygon points="338.2,142.1 340.6,142.1 342.9,142.2 345.3,142.2 347.6,142.3 350.0,142.4 352.3,142.4 354.7,142.5 357.1,142.6 359.4,142.8 361.8,143.2 364.1,143.8 366.5,144.4 368.8,144.9 371.2,145.3 373.5,145.7 375.9,146.1 378.3,146.4 380.6,146.7 383.0,146.7 385.3,146.7 387.7,146.4 390.0,145.7 392.4,144.6 394.8,143.3 397.1,142.2 399.5,141.2 401.8,140.5 404.2,140.3 406.5,140.5 408.9,140.7 411.2,140.8 413.6,140.9 416.0,140.8 418.3,140.8 420.7,140.7 423.0,140.6 425.4,140.6 427.7,140.9 430.1,141.4 432.5,141.9 434.8,142.1 437.2,142.1 439.5,142.0 441.9,141.9 444.2,141.7 446.6,141.5 448.9,141.4 451.3,141.3 453.7,141.2 456.0,141.1 458.4,141.1 460.7,141.0 463.1,140.9 463.9,140.9 463.9,150.8 463.1,150.8 460.7,150.7 458.4,150.7 456.0,150.6 453.7,150.5 451.3,150.4 448.9,150.4 446.6,150.4 444.2,150.4 441.9,150.4 439.5,150.4 437.2,150.3 434.8,150.2 432.5,149.8 430.1,149.1 427.7,148.5 425.4,148.1 423.0,147.9 420.7,147.8 418.3,147.7 416.0,147.7 413.6,147.6 411.2,147.4 408.9,147.0 406.5,146.7 404.2,146.4 401.8,146.5 399.5,147.2 397.1,148.3 394.8,149.5 392.4,150.9 390.0,152.1 387.7,153.0 385.3,153.4 383.0,153.6 380.6,153.7 378.3,153.6 375.9,153.4 373.5,153.1 371.2,152.8 368.8,152.5 366.5,152.2 364.1,151.7 361.8,151.3 359.4,151.0 357.1,150.9 354.7,151.0 352.3,151.0 350.0,151.1 347.6,151.2 345.3,151.2 342.9,151.3 340.6,151.3 338.2,151.4" fill="#ededfc"/>
<line x1="369.65" y1="176.00" x2="369.65" y2="88.20" stroke="#000" stroke-width="1" stroke-dasharray="4.8 5.84"/>
<path d="M338.2,146.7L339.8,146.7L341.3,146.7L342.9,146.7L344.5,146.7L346.1,146.7L347.6,146.7L349.2,146.7L350.8,146.7L352.3,146.7L353.9,146.7L355.5,146.7L357.1,146.7L358.6,146.5L360.2,146.1L361.8,145.4L363.3,144.6L364.9,143.7L366.5,142.9L368.0,142.2L369.6,141.7L371.2,141.1L372.8,140.6L374.3,140.2L375.9,139.8L377.5,139.4L379.0,139.2L380.6,139.1L382.2,139.2L383.8,139.5L385.3,140.0L386.9,140.8L388.5,141.8L390.0,143.2L391.6,144.6L393.2,145.9L394.8,146.9L396.3,147.7L397.9,148.3L399.5,148.8L401.0,149.1L402.6,149.1L404.2,149.0L405.7,148.8L407.3,148.6L408.9,148.4L410.5,148.3L412.0,148.3L413.6,148.5L415.2,148.8L416.7,149.2L418.3,149.6L419.9,149.9L421.5,150.1L423.0,150.1L424.6,149.8L426.2,149.4L427.7,148.9L429.3,148.5L430.9,148.1L432.5,147.9L434.0,147.8L435.6,147.7L437.2,147.7L438.7,147.6L440.3,147.6L441.9,147.6L443.4,147.7L445.0,147.8L446.6,148.0L448.2,148.1L449.7,148.2L451.3,148.2L452.9,148.2L454.4,148.2L456.0,148.2L457.6,148.2L459.2,148.2L460.7,148.2L462.3,148.2L463.9,148.2" fill="none" stroke="#ff0000" stroke-width="1.2"/>
<path d="M338.2,146.7L339.8,146.7L341.3,146.7L342.9,146.7L344.5,146.7L346.1,146.7L347.6,146.7L349.2,146.7L350.8,146.7L352.3,146.7L353.9,146.7L355.5,146.7L357.1,146.8L358.6,146.8L360.2,147.0L361.8,147.3L363.3,147.6L364.9,147.9L366.5,148.3L368.0,148.6L369.6,148.8L371.2,149.1L372.8,149.3L374.3,149.5L375.9,149.8L377.5,149.9L379.0,150.1L380.6,150.2L382.2,150.2L383.8,150.2L385.3,150.0L386.9,149.8L388.5,149.5L390.0,149.0L391.6,148.2L393.2,147.3L394.8,146.4L396.3,145.6L397.9,144.8L399.5,144.1L401.0,143.6L402.6,143.4L404.2,143.3L405.7,143.5L407.3,143.6L408.9,143.9L410.5,144.0L412.0,144.2L413.6,144.2L415.2,144.2L416.7,144.2L418.3,144.2L419.9,144.2L421.5,144.2L423.0,144.2L424.6,144.3L426.2,144.4L427.7,144.6L429.3,145.0L430.9,145.5L432.5,145.9L434.0,146.1L435.6,146.2L437.2,146.3L438.7,146.2L440.3,146.2L441.9,146.1L443.4,146.0L445.0,146.0L446.6,145.9L448.2,145.9L449.7,145.9L451.3,145.9L452.9,145.9L454.4,145.9L456.0,145.9L457.6,145.9L459.2,145.9L460.7,145.9L462.3,145.9L463.9,145.9" fill="none" stroke="#0000ff" stroke-width="1.2"/>
<line x1="338.20" y1="146.73" x2="463.87" y2="146.73" stroke="#000" stroke-width="1" stroke-dasharray="1 1.3"/>
</g>
<path d="M369.62,88.20v4M369.62,176.00v-4M401.03,88.20v4M401.03,176.00v-4M432.45,88.20v4M432.45,176.00v-4M338.50,102.83h2.5M464.50,102.83h-2.5M338.50,117.47h4M464.50,117.47h-4M338.50,132.10h2.5M464.50,132.10h-2.5M338.50,146.73h4M464.50,146.73h-4M338.50,161.37h2.5M464.50,161.37h-2.5" stroke="#000" stroke-width="1" fill="none"/>
<path d="M338.00,88.20H465.00M338.00,176.00H465.00M338.50,87.70V176.50M464.50,87.70V176.50" stroke="#000" stroke-width="1" fill="none"/>
<text x="451.90" y="108.60" class="pn">8</text>
<clipPath id="cA9"><rect x="464.20" y="88.20" width="125.67" height="87.80"/></clipPath>
<g clip-path="url(#cA9)">
<polygon points="464.2,140.6 466.6,140.7 468.9,140.8 471.3,140.9 473.6,141.0 476.0,141.1 478.3,141.2 480.7,141.3 483.1,141.2 485.4,140.6 487.8,139.6 490.1,138.3 492.5,136.9 494.8,135.7 497.2,134.4 499.5,133.1 501.9,131.8 504.3,130.8 506.6,130.3 509.0,130.7 511.3,131.9 513.7,133.8 516.0,136.2 518.4,139.0 520.8,141.2 523.1,142.4 525.5,142.8 527.8,143.0 530.2,143.2 532.5,143.3 534.9,143.3 537.2,143.4 539.6,143.5 542.0,143.5 544.3,143.5 546.7,143.4 549.0,143.3 551.4,143.1 553.7,142.9 556.1,142.7 558.5,142.5 560.8,142.3 563.2,142.2 565.5,142.1 567.9,142.1 570.2,142.0 572.6,142.0 574.9,142.0 577.3,142.0 579.7,142.0 582.0,142.1 584.4,142.1 586.7,142.2 589.1,142.3 589.9,142.3 589.9,154.0 589.1,153.9 586.7,153.7 584.4,153.5 582.0,153.3 579.7,153.2 577.3,153.0 574.9,152.9 572.6,152.8 570.2,152.7 567.9,152.6 565.5,152.5 563.2,152.5 560.8,152.5 558.5,152.5 556.1,152.6 553.7,152.7 551.4,152.8 549.0,152.9 546.7,152.9 544.3,152.8 542.0,152.8 539.6,152.6 537.2,152.5 534.9,152.4 532.5,152.2 530.2,152.0 527.8,151.8 525.5,151.5 523.1,151.1 520.8,149.8 518.4,147.5 516.0,144.7 513.7,142.2 511.3,140.2 509.0,139.0 506.6,138.7 504.3,139.4 501.9,140.6 499.5,142.1 497.2,143.6 494.8,145.1 492.5,146.6 490.1,148.1 487.8,149.7 485.4,150.9 483.1,151.7 480.7,152.1 478.3,152.2 476.0,152.3 473.6,152.4 471.3,152.6 468.9,152.7 466.6,152.8 464.2,152.8" fill="#fdeaea"/>
<polygon points="464.2,142.6 466.6,142.6 468.9,142.6 471.3,142.6 473.6,142.6 476.0,142.6 478.3,142.6 480.7,142.7 483.1,142.8 485.4,143.1 487.8,143.7 490.1,144.3 492.5,145.0 494.8,145.5 497.2,145.9 499.5,146.3 501.9,146.7 504.3,147.0 506.6,147.2 509.0,147.2 511.3,146.9 513.7,146.2 516.0,145.4 518.4,144.3 520.8,143.2 523.1,142.2 525.5,141.2 527.8,140.5 530.2,140.1 532.5,140.1 534.9,140.2 537.2,140.3 539.6,140.5 542.0,140.6 544.3,140.8 546.7,141.0 549.0,141.2 551.4,141.3 553.7,141.5 556.1,141.7 558.5,141.9 560.8,142.0 563.2,142.0 565.5,142.0 567.9,142.0 570.2,142.0 572.6,142.0 574.9,142.0 577.3,142.0 579.7,141.9 582.0,141.8 584.4,141.8 586.7,141.6 589.1,141.5 589.9,141.5 589.9,149.7 589.1,149.7 586.7,149.8 584.4,150.0 582.0,150.0 579.7,150.1 577.3,150.2 574.9,150.2 572.6,150.2 570.2,150.2 567.9,150.2 565.5,150.2 563.2,150.2 560.8,150.2 558.5,150.0 556.1,149.9 553.7,149.7 551.4,149.5 549.0,149.3 546.7,149.2 544.3,149.0 542.0,148.8 539.6,148.7 537.2,148.5 534.9,148.4 532.5,148.3 530.2,148.3 527.8,148.7 525.5,149.4 523.1,150.4 520.8,151.4 518.4,152.5 516.0,153.6 513.7,154.4 511.3,155.1 509.0,155.4 506.6,155.4 504.3,155.2 501.9,154.9 499.5,154.5 497.2,154.1 494.8,153.7 492.5,153.2 490.1,152.5 487.8,151.9 485.4,151.3 483.1,151.0 480.7,150.9 478.3,150.8 476.0,150.8 473.6,150.8 471.3,150.8 468.9,150.8 466.6,150.8 464.2,150.8" fill="#ededfc"/>
<line x1="495.65" y1="176.00" x2="495.65" y2="88.20" stroke="#000" stroke-width="1" stroke-dasharray="4.8 5.84"/>
<path d="M464.2,146.7L465.8,146.7L467.3,146.7L468.9,146.7L470.5,146.7L472.1,146.7L473.6,146.7L475.2,146.7L476.8,146.7L478.3,146.7L479.9,146.7L481.5,146.7L483.1,146.5L484.6,146.1L486.2,145.5L487.8,144.6L489.3,143.7L490.9,142.7L492.5,141.7L494.0,140.8L495.6,139.9L497.2,139.0L498.8,138.1L500.3,137.1L501.9,136.1L503.5,135.3L505.0,134.7L506.6,134.4L508.2,134.5L509.8,135.0L511.3,136.0L512.9,137.3L514.5,138.7L516.0,140.4L517.6,142.3L519.2,144.2L520.8,145.7L522.3,146.6L523.9,147.0L525.5,147.2L527.0,147.4L528.6,147.5L530.2,147.6L531.7,147.7L533.3,147.8L534.9,147.9L536.5,147.9L538.0,148.0L539.6,148.1L541.2,148.1L542.7,148.2L544.3,148.2L545.9,148.2L547.5,148.1L549.0,148.1L550.6,148.0L552.2,147.9L553.7,147.8L555.3,147.7L556.9,147.6L558.5,147.5L560.0,147.4L561.6,147.4L563.2,147.3L564.7,147.3L566.3,147.3L567.9,147.3L569.4,147.3L571.0,147.4L572.6,147.4L574.2,147.4L575.7,147.5L577.3,147.5L578.9,147.6L580.4,147.6L582.0,147.7L583.6,147.8L585.2,147.9L586.7,148.0L588.3,148.1L589.9,148.1" fill="none" stroke="#ff0000" stroke-width="1.2"/>
<path d="M464.2,146.7L465.8,146.7L467.3,146.7L468.9,146.7L470.5,146.7L472.1,146.7L473.6,146.7L475.2,146.7L476.8,146.7L478.3,146.7L479.9,146.7L481.5,146.8L483.1,146.9L484.6,147.1L486.2,147.4L487.8,147.8L489.3,148.2L490.9,148.7L492.5,149.1L494.0,149.4L495.6,149.8L497.2,150.0L498.8,150.3L500.3,150.6L501.9,150.8L503.5,151.0L505.0,151.2L506.6,151.3L508.2,151.3L509.8,151.3L511.3,151.0L512.9,150.6L514.5,150.1L516.0,149.5L517.6,148.8L519.2,148.1L520.8,147.3L522.3,146.6L523.9,146.0L525.5,145.3L527.0,144.8L528.6,144.4L530.2,144.2L531.7,144.1L533.3,144.2L534.9,144.3L536.5,144.3L538.0,144.5L539.6,144.6L541.2,144.7L542.7,144.8L544.3,144.9L545.9,145.0L547.5,145.1L549.0,145.2L550.6,145.4L552.2,145.5L553.7,145.6L555.3,145.7L556.9,145.9L558.5,146.0L560.0,146.0L561.6,146.1L563.2,146.1L564.7,146.1L566.3,146.1L567.9,146.1L569.4,146.1L571.0,146.1L572.6,146.1L574.2,146.1L575.7,146.1L577.3,146.1L578.9,146.0L580.4,146.0L582.0,145.9L583.6,145.9L585.2,145.8L586.7,145.7L588.3,145.7L589.9,145.6" fill="none" stroke="#0000ff" stroke-width="1.2"/>
<line x1="464.20" y1="146.73" x2="589.87" y2="146.73" stroke="#000" stroke-width="1" stroke-dasharray="1 1.3"/>
</g>
<path d="M495.62,88.20v4M495.62,176.00v-4M527.03,88.20v4M527.03,176.00v-4M558.45,88.20v4M558.45,176.00v-4M464.50,102.83h2.5M590.50,102.83h-2.5M464.50,117.47h4M590.50,117.47h-4M464.50,132.10h2.5M590.50,132.10h-2.5M464.50,146.73h4M590.50,146.73h-4M464.50,161.37h2.5M590.50,161.37h-2.5" stroke="#000" stroke-width="1" fill="none"/>
<path d="M464.00,88.20H591.00M464.00,176.00H591.00M464.50,87.70V176.50M590.50,87.70V176.50" stroke="#000" stroke-width="1" fill="none"/>
<text x="577.70" y="108.60" class="pn">9</text>
<clipPath id="cA10"><rect x="590.20" y="88.20" width="125.67" height="87.80"/></clipPath>
<g clip-path="url(#cA10)">
<polygon points="590.2,140.6 592.6,140.7 594.9,140.8 597.3,141.0 599.6,141.1 602.0,141.2 604.3,141.3 606.7,141.4 609.1,141.4 611.4,141.0 613.8,140.0 616.1,138.6 618.5,137.2 620.8,135.9 623.2,134.8 625.5,133.7 627.9,132.6 630.3,131.8 632.6,131.2 635.0,131.1 637.3,131.5 639.7,132.4 642.0,133.6 644.4,134.9 646.8,136.4 649.1,137.7 651.5,138.8 653.8,139.7 656.2,140.3 658.5,140.6 660.9,140.9 663.2,141.0 665.6,141.2 668.0,141.3 670.3,141.2 672.7,141.1 675.0,140.8 677.4,140.6 679.7,140.4 682.1,140.3 684.5,140.2 686.8,140.1 689.2,139.9 691.5,139.6 693.9,139.3 696.2,139.1 698.6,139.1 700.9,139.4 703.3,139.8 705.7,140.2 708.0,140.5 710.4,140.7 712.7,140.8 715.1,140.9 715.9,140.9 715.9,152.6 715.1,152.6 712.7,152.5 710.4,152.4 708.0,152.2 705.7,151.9 703.3,151.5 700.9,151.1 698.6,150.8 696.2,150.8 693.9,151.0 691.5,151.3 689.2,151.6 686.8,151.8 684.5,151.9 682.1,152.0 679.7,152.1 677.4,152.3 675.0,152.5 672.7,152.8 670.3,152.9 668.0,153.0 665.6,152.9 663.2,152.7 660.9,152.5 658.5,152.1 656.2,151.5 653.8,150.5 651.5,149.3 649.1,147.8 646.8,146.0 644.4,144.2 642.0,142.5 639.7,140.9 637.3,139.6 635.0,139.0 632.6,139.1 630.3,139.8 627.9,140.9 625.5,142.2 623.2,143.6 620.8,145.0 618.5,146.5 616.1,148.2 613.8,149.8 611.4,151.0 609.1,151.7 606.7,152.0 604.3,152.1 602.0,152.3 599.6,152.4 597.3,152.5 594.9,152.6 592.6,152.7 590.2,152.8" fill="#fdeaea"/>
<polygon points="590.2,143.2 592.6,143.2 594.9,143.2 597.3,143.2 599.6,143.2 602.0,143.2 604.3,143.2 606.7,143.2 609.1,143.2 611.4,143.3 613.8,143.3 616.1,143.4 618.5,143.5 620.8,143.7 623.2,144.0 625.5,144.5 627.9,145.0 630.3,145.5 632.6,145.9 635.0,146.3 637.3,146.5 639.7,146.6 642.0,146.4 644.4,145.8 646.8,144.9 649.1,143.8 651.5,142.6 653.8,141.5 656.2,140.8 658.5,140.3 660.9,140.1 663.2,140.3 665.6,140.7 668.0,141.1 670.3,141.5 672.7,142.0 675.0,142.4 677.4,142.8 679.7,143.1 682.1,143.3 684.5,143.4 686.8,143.6 689.2,143.8 691.5,144.1 693.9,144.4 696.2,144.6 698.6,144.6 700.9,144.4 703.3,144.1 705.7,143.8 708.0,143.6 710.4,143.5 712.7,143.3 715.1,143.3 715.9,143.2 715.9,150.3 715.1,150.3 712.7,150.4 710.4,150.5 708.0,150.6 705.7,150.9 703.3,151.1 700.9,151.4 698.6,151.6 696.2,151.6 693.9,151.4 691.5,151.1 689.2,150.8 686.8,150.6 684.5,150.5 682.1,150.3 679.7,150.1 677.4,149.9 675.0,149.5 672.7,149.0 670.3,148.5 668.0,148.1 665.6,147.7 663.2,147.3 660.9,147.2 658.5,147.3 656.2,147.8 653.8,148.6 651.5,149.6 649.1,150.8 646.8,151.9 644.4,152.8 642.0,153.4 639.7,153.6 637.3,153.6 635.0,153.3 632.6,152.9 630.3,152.5 627.9,152.0 625.5,151.5 623.2,151.0 620.8,150.7 618.5,150.5 616.1,150.4 613.8,150.3 611.4,150.3 609.1,150.3 606.7,150.2 604.3,150.2 602.0,150.2 599.6,150.2 597.3,150.2 594.9,150.2 592.6,150.2 590.2,150.2" fill="#ededfc"/>
<line x1="621.65" y1="176.00" x2="621.65" y2="88.20" stroke="#000" stroke-width="1" stroke-dasharray="4.8 5.84"/>
<path d="M590.2,146.7L591.8,146.7L593.3,146.7L594.9,146.7L596.5,146.7L598.1,146.7L599.6,146.7L601.2,146.7L602.8,146.7L604.3,146.7L605.9,146.7L607.5,146.7L609.1,146.6L610.6,146.3L612.2,145.8L613.8,144.9L615.3,143.9L616.9,142.9L618.5,141.8L620.0,140.9L621.6,140.0L623.2,139.2L624.8,138.4L626.3,137.5L627.9,136.8L629.5,136.1L631.0,135.5L632.6,135.1L634.2,134.9L635.8,135.0L637.3,135.5L638.9,136.2L640.5,137.1L642.0,138.1L643.6,139.1L645.2,140.1L646.8,141.2L648.3,142.3L649.9,143.2L651.5,144.1L653.0,144.8L654.6,145.4L656.2,145.9L657.7,146.3L659.3,146.5L660.9,146.7L662.5,146.8L664.0,147.0L665.6,147.1L667.2,147.1L668.7,147.1L670.3,147.1L671.9,147.0L673.5,146.9L675.0,146.7L676.6,146.5L678.2,146.4L679.7,146.3L681.3,146.2L682.9,146.1L684.5,146.0L686.0,146.0L687.6,145.9L689.2,145.7L690.7,145.6L692.3,145.4L693.9,145.2L695.4,145.0L697.0,144.9L698.6,144.9L700.2,145.1L701.7,145.4L703.3,145.7L704.9,146.0L706.4,146.2L708.0,146.4L709.6,146.5L711.2,146.6L712.7,146.6L714.3,146.7L715.9,146.7" fill="none" stroke="#ff0000" stroke-width="1.2"/>
<path d="M590.2,146.7L591.8,146.7L593.3,146.7L594.9,146.7L596.5,146.7L598.1,146.7L599.6,146.7L601.2,146.7L602.8,146.7L604.3,146.7L605.9,146.7L607.5,146.7L609.1,146.7L610.6,146.8L612.2,146.8L613.8,146.8L615.3,146.9L616.9,146.9L618.5,147.0L620.0,147.1L621.6,147.3L623.2,147.5L624.8,147.8L626.3,148.2L627.9,148.5L629.5,148.9L631.0,149.2L632.6,149.4L634.2,149.7L635.8,149.9L637.3,150.1L638.9,150.2L640.5,150.1L642.0,149.9L643.6,149.5L645.2,149.1L646.8,148.5L648.3,147.7L649.9,146.9L651.5,146.0L653.0,145.3L654.6,144.7L656.2,144.2L657.7,143.9L659.3,143.6L660.9,143.6L662.5,143.7L664.0,143.9L665.6,144.2L667.2,144.4L668.7,144.7L670.3,145.0L671.9,145.3L673.5,145.6L675.0,146.0L676.6,146.3L678.2,146.5L679.7,146.6L681.3,146.8L682.9,146.9L684.5,146.9L686.0,147.0L687.6,147.1L689.2,147.3L690.7,147.5L692.3,147.7L693.9,147.9L695.4,148.0L697.0,148.1L698.6,148.1L700.2,148.0L701.7,147.8L703.3,147.6L704.9,147.4L706.4,147.3L708.0,147.1L709.6,147.0L711.2,146.9L712.7,146.8L714.3,146.8L715.9,146.8" fill="none" stroke="#0000ff" stroke-width="1.2"/>
<line x1="590.20" y1="146.73" x2="715.87" y2="146.73" stroke="#000" stroke-width="1" stroke-dasharray="1 1.3"/>
</g>
<path d="M621.62,88.20v4M621.62,176.00v-4M653.04,88.20v4M653.04,176.00v-4M684.45,88.20v4M684.45,176.00v-4M590.50,102.83h2.5M715.50,102.83h-2.5M590.50,117.47h4M715.50,117.47h-4M590.50,132.10h2.5M715.50,132.10h-2.5M590.50,146.73h4M715.50,146.73h-4M590.50,161.37h2.5M715.50,161.37h-2.5" stroke="#000" stroke-width="1" fill="none"/>
<path d="M590.00,88.20H716.00M590.00,176.00H716.00M590.50,87.70V176.50M715.50,87.70V176.50" stroke="#000" stroke-width="1" fill="none"/>
<text x="699.60" y="108.60" class="pn">10</text>
<clipPath id="cA11"><rect x="715.20" y="88.20" width="125.67" height="87.80"/></clipPath>
<g clip-path="url(#cA11)">
<polygon points="715.2,141.5 717.6,141.6 719.9,141.7 722.3,141.8 724.6,141.9 727.0,142.0 729.3,142.1 731.7,142.2 734.1,142.2 736.4,141.9 738.8,141.1 741.1,140.0 743.5,138.9 745.8,137.7 748.2,136.6 750.5,135.4 752.9,134.2 755.3,133.1 757.6,132.3 760.0,131.9 762.3,132.1 764.7,132.8 767.0,133.9 769.4,135.3 771.8,136.9 774.1,138.5 776.5,139.7 778.8,140.5 781.2,141.0 783.5,141.2 785.9,141.2 788.2,141.3 790.6,141.4 793.0,141.4 795.3,141.4 797.7,141.4 800.0,141.3 802.4,141.1 804.7,140.9 807.1,140.7 809.5,140.5 811.8,140.4 814.2,140.2 816.5,140.1 818.9,140.0 821.2,139.9 823.6,140.0 825.9,140.2 828.3,140.5 830.7,140.8 833.0,141.1 835.4,141.2 837.7,141.4 840.1,141.4 840.9,141.4 840.9,152.0 840.1,152.0 837.7,151.9 835.4,151.8 833.0,151.6 830.7,151.4 828.3,151.0 825.9,150.7 823.6,150.5 821.2,150.4 818.9,150.5 816.5,150.6 814.2,150.8 811.8,150.9 809.5,151.1 807.1,151.2 804.7,151.4 802.4,151.6 800.0,151.8 797.7,151.9 795.3,152.0 793.0,152.0 790.6,151.9 788.2,151.9 785.9,151.7 783.5,151.5 781.2,151.0 778.8,150.2 776.5,149.0 774.1,147.4 771.8,145.4 769.4,143.4 767.0,141.6 764.7,140.2 762.3,139.1 760.0,138.6 757.6,139.0 755.3,139.9 752.9,141.2 750.5,142.6 748.2,144.0 745.8,145.4 743.5,146.8 741.1,148.2 738.8,149.5 736.4,150.5 734.1,151.0 731.7,151.2 729.3,151.3 727.0,151.5 724.6,151.6 722.3,151.7 719.9,151.8 717.6,151.9 715.2,152.0" fill="#fdeaea"/>
<polygon points="715.2,143.5 717.6,143.5 719.9,143.5 722.3,143.5 724.6,143.5 727.0,143.5 729.3,143.5 731.7,143.5 734.1,143.5 736.4,143.5 738.8,143.6 741.1,143.7 743.5,143.8 745.8,144.0 748.2,144.3 750.5,144.8 752.9,145.3 755.3,145.8 757.6,146.2 760.0,146.6 762.3,146.9 764.7,146.9 767.0,146.6 769.4,146.1 771.8,145.3 774.1,144.2 776.5,143.0 778.8,142.2 781.2,141.8 783.5,141.6 785.9,141.5 788.2,141.5 790.6,141.6 793.0,141.7 795.3,141.9 797.7,142.1 800.0,142.3 802.4,142.6 804.7,142.9 807.1,143.2 809.5,143.4 811.8,143.7 814.2,144.0 816.5,144.3 818.9,144.5 821.2,144.6 823.6,144.6 825.9,144.6 828.3,144.5 830.7,144.3 833.0,144.2 835.4,144.0 837.7,143.8 840.1,143.6 840.9,143.6 840.9,150.0 840.1,150.1 837.7,150.3 835.4,150.4 833.0,150.6 830.7,150.8 828.3,150.9 825.9,151.0 823.6,151.1 821.2,151.1 818.9,150.9 816.5,150.7 814.2,150.4 811.8,150.2 809.5,149.9 807.1,149.6 804.7,149.3 802.4,149.0 800.0,148.7 797.7,148.5 795.3,148.3 793.0,148.2 790.6,148.0 788.2,148.0 785.9,147.9 783.5,148.0 781.2,148.2 778.8,148.6 776.5,149.5 774.1,150.6 771.8,151.7 769.4,152.5 767.0,153.1 764.7,153.3 762.3,153.3 760.0,153.0 757.6,152.7 755.3,152.2 752.9,151.7 750.5,151.2 748.2,150.7 745.8,150.4 743.5,150.3 741.1,150.1 738.8,150.0 736.4,150.0 734.1,150.0 731.7,150.0 729.3,150.0 727.0,150.0 724.6,150.0 722.3,150.0 719.9,150.0 717.6,150.0 715.2,150.0" fill="#ededfc"/>
<line x1="747.00" y1="176.00" x2="747.00" y2="88.20" stroke="#000" stroke-width="1" stroke-dasharray="4.8 5.84"/>
<path d="M715.2,146.7L716.8,146.7L718.3,146.7L719.9,146.7L721.5,146.7L723.1,146.7L724.6,146.7L726.2,146.7L727.8,146.7L729.3,146.7L730.9,146.7L732.5,146.7L734.1,146.7L735.6,146.4L737.2,146.0L738.8,145.3L740.3,144.5L741.9,143.7L743.5,142.8L745.0,142.0L746.6,141.1L748.2,140.3L749.8,139.4L751.3,138.5L752.9,137.7L754.5,136.8L756.0,136.1L757.6,135.6L759.2,135.3L760.8,135.2L762.3,135.5L763.9,136.1L765.5,136.8L767.0,137.7L768.6,138.7L770.2,139.9L771.8,141.2L773.3,142.4L774.9,143.6L776.5,144.4L778.0,145.1L779.6,145.6L781.2,146.0L782.7,146.3L784.3,146.4L785.9,146.5L787.5,146.6L789.0,146.6L790.6,146.7L792.2,146.7L793.7,146.7L795.3,146.7L796.9,146.7L798.5,146.6L800.0,146.5L801.6,146.4L803.2,146.3L804.7,146.2L806.3,146.0L807.9,145.9L809.5,145.8L811.0,145.7L812.6,145.6L814.2,145.5L815.7,145.4L817.3,145.3L818.9,145.2L820.4,145.2L822.0,145.2L823.6,145.2L825.2,145.3L826.7,145.5L828.3,145.8L829.9,146.0L831.4,146.2L833.0,146.3L834.6,146.5L836.2,146.6L837.7,146.6L839.3,146.7L840.9,146.7" fill="none" stroke="#ff0000" stroke-width="1.2"/>
<path d="M715.2,146.7L716.8,146.7L718.3,146.7L719.9,146.7L721.5,146.7L723.1,146.7L724.6,146.7L726.2,146.7L727.8,146.7L729.3,146.7L730.9,146.7L732.5,146.7L734.1,146.7L735.6,146.8L737.2,146.8L738.8,146.8L740.3,146.9L741.9,146.9L743.5,147.0L745.0,147.1L746.6,147.3L748.2,147.5L749.8,147.8L751.3,148.2L752.9,148.5L754.5,148.9L756.0,149.2L757.6,149.5L759.2,149.7L760.8,149.9L762.3,150.1L763.9,150.2L765.5,150.1L767.0,149.9L768.6,149.5L770.2,149.1L771.8,148.5L773.3,147.8L774.9,147.0L776.5,146.2L778.0,145.6L779.6,145.2L781.2,145.0L782.7,144.8L784.3,144.8L785.9,144.7L787.5,144.7L789.0,144.8L790.6,144.8L792.2,144.9L793.7,145.0L795.3,145.1L796.9,145.2L798.5,145.4L800.0,145.5L801.6,145.7L803.2,145.9L804.7,146.1L806.3,146.3L807.9,146.5L809.5,146.7L811.0,146.8L812.6,147.0L814.2,147.2L815.7,147.4L817.3,147.6L818.9,147.7L820.4,147.8L822.0,147.9L823.6,147.9L825.2,147.8L826.7,147.8L828.3,147.7L829.9,147.6L831.4,147.5L833.0,147.4L834.6,147.3L836.2,147.2L837.7,147.0L839.3,146.9L840.9,146.8" fill="none" stroke="#0000ff" stroke-width="1.2"/>
<line x1="715.20" y1="146.73" x2="840.87" y2="146.73" stroke="#000" stroke-width="1" stroke-dasharray="1 1.3"/>
</g>
<path d="M746.62,88.20v4M746.62,176.00v-4M778.04,88.20v4M778.04,176.00v-4M809.45,88.20v4M809.45,176.00v-4M716.50,102.83h2.5M841.50,102.83h-2.5M716.50,117.47h4M841.50,117.47h-4M716.50,132.10h2.5M841.50,132.10h-2.5M716.50,146.73h4M841.50,146.73h-4M716.50,161.37h2.5M841.50,161.37h-2.5" stroke="#000" stroke-width="1" fill="none"/>
<path d="M716.00,88.20H842.00M716.00,176.00H842.00M716.50,87.70V176.50M841.50,87.70V176.50" stroke="#000" stroke-width="1" fill="none"/>
<text x="825.20" y="108.60" class="pn">11</text>
<clipPath id="cA12"><rect x="841.20" y="88.20" width="125.67" height="87.80"/></clipPath>
<g clip-path="url(#cA12)">
<polygon points="841.2,140.5 843.6,141.0 845.9,141.5 848.3,141.8 850.6,142.1 853.0,142.3 855.3,142.4 857.7,142.3 860.1,142.0 862.4,141.5 864.8,140.8 867.1,139.8 869.5,138.7 871.8,137.6 874.2,136.6 876.5,135.5 878.9,134.5 881.3,133.6 883.6,132.9 886.0,132.5 888.3,132.6 890.7,133.3 893.0,134.5 895.4,136.1 897.8,137.9 900.1,139.3 902.5,140.0 904.8,140.2 907.2,140.1 909.5,139.7 911.9,139.3 914.2,139.2 916.6,139.6 919.0,140.1 921.3,140.4 923.7,140.4 926.0,140.4 928.4,140.4 930.7,140.0 933.1,139.4 935.5,138.7 937.8,138.2 940.2,138.1 942.5,138.2 944.9,138.5 947.2,138.9 949.6,139.2 951.9,139.6 954.3,140.0 956.7,140.3 959.0,140.5 961.4,140.7 963.7,140.8 966.1,140.9 966.9,140.9 966.9,152.6 966.1,152.6 963.7,152.5 961.4,152.4 959.0,152.2 956.7,152.0 954.3,151.7 951.9,151.3 949.6,150.9 947.2,150.6 944.9,150.2 942.5,149.9 940.2,149.8 937.8,149.9 935.5,150.4 933.1,151.1 930.7,151.7 928.4,152.1 926.0,152.1 923.7,152.1 921.3,152.1 919.0,151.8 916.6,151.3 914.2,150.9 911.9,150.9 909.5,151.2 907.2,151.3 904.8,151.1 902.5,150.5 900.1,149.4 897.8,147.6 895.4,145.5 893.0,143.5 890.7,142.0 888.3,141.1 886.0,141.0 883.6,141.5 881.3,142.4 878.9,143.6 876.5,144.8 874.2,146.1 871.8,147.4 869.5,148.7 867.1,150.1 864.8,151.3 862.4,152.2 860.1,152.9 857.7,153.5 855.3,153.8 853.0,154.0 850.6,154.1 848.3,154.0 845.9,153.9 843.6,153.6 841.2,153.3" fill="#fdeaea"/>
<polygon points="841.2,143.2 843.6,143.1 845.9,143.1 848.3,143.0 850.6,143.0 853.0,143.0 855.3,142.9 857.7,142.9 860.1,142.9 862.4,143.0 864.8,143.1 867.1,143.4 869.5,143.7 871.8,144.1 874.2,144.5 876.5,144.9 878.9,145.3 881.3,145.7 883.6,146.0 886.0,146.4 888.3,146.6 890.7,146.5 893.0,146.0 895.4,145.2 897.8,144.1 900.1,142.7 902.5,142.0 904.8,141.8 907.2,141.8 909.5,141.8 911.9,141.8 914.2,142.0 916.6,142.3 919.0,142.6 921.3,142.8 923.7,142.9 926.0,143.0 928.4,143.2 930.7,143.4 933.1,143.7 935.5,144.0 937.8,144.3 940.2,144.3 942.5,144.3 944.9,144.2 947.2,144.1 949.6,144.0 951.9,143.7 954.3,143.5 956.7,143.3 959.0,143.2 961.4,143.2 963.7,143.2 966.1,143.2 966.9,143.2 966.9,150.2 966.1,150.2 963.7,150.2 961.4,150.2 959.0,150.3 956.7,150.3 954.3,150.5 951.9,150.8 949.6,151.0 947.2,151.1 944.9,151.3 942.5,151.3 940.2,151.4 937.8,151.3 935.5,151.0 933.1,150.7 930.7,150.4 928.4,150.2 926.0,150.1 923.7,150.0 921.3,149.8 919.0,149.6 916.6,149.4 914.2,149.1 911.9,148.9 909.5,148.8 907.2,148.8 904.8,148.8 902.5,149.0 900.1,149.8 897.8,151.1 895.4,152.3 893.0,153.1 890.7,153.5 888.3,153.6 886.0,153.4 883.6,153.1 881.3,152.7 878.9,152.3 876.5,151.9 874.2,151.5 871.8,151.2 869.5,150.8 867.1,150.4 864.8,150.1 862.4,150.0 860.1,150.0 857.7,150.0 855.3,150.0 853.0,150.0 850.6,150.0 848.3,150.0 845.9,150.1 843.6,150.2 841.2,150.2" fill="#ededfc"/>
<line x1="873.00" y1="176.00" x2="873.00" y2="88.20" stroke="#000" stroke-width="1" stroke-dasharray="4.8 5.84"/>
<path d="M841.2,146.9L842.8,147.1L844.3,147.4L845.9,147.7L847.5,147.9L849.1,148.0L850.6,148.1L852.2,148.2L853.8,148.2L855.3,148.1L856.9,148.0L858.5,147.8L860.1,147.5L861.6,147.1L863.2,146.7L864.8,146.1L866.3,145.4L867.9,144.6L869.5,143.7L871.0,142.9L872.6,142.1L874.2,141.4L875.8,140.6L877.3,139.8L878.9,139.0L880.5,138.3L882.0,137.7L883.6,137.2L885.2,136.8L886.8,136.6L888.3,136.8L889.9,137.2L891.5,138.0L893.0,138.9L894.6,140.1L896.2,141.4L897.8,142.8L899.3,144.0L900.9,144.8L902.5,145.3L904.0,145.6L905.6,145.7L907.2,145.7L908.7,145.6L910.3,145.3L911.9,145.1L913.5,145.0L915.0,145.1L916.6,145.4L918.2,145.8L919.7,146.1L921.3,146.2L922.9,146.3L924.5,146.3L926.0,146.3L927.6,146.3L929.2,146.2L930.7,145.9L932.3,145.5L933.9,145.1L935.5,144.6L937.0,144.2L938.6,143.9L940.2,143.9L941.7,144.0L943.3,144.2L944.9,144.4L946.4,144.6L948.0,144.8L949.6,145.1L951.2,145.3L952.7,145.6L954.3,145.8L955.9,146.0L957.4,146.2L959.0,146.4L960.6,146.5L962.2,146.6L963.7,146.6L965.3,146.7L966.9,146.7" fill="none" stroke="#ff0000" stroke-width="1.2"/>
<path d="M841.2,146.7L842.8,146.7L844.3,146.6L845.9,146.6L847.5,146.6L849.1,146.5L850.6,146.5L852.2,146.5L853.8,146.5L855.3,146.5L856.9,146.4L858.5,146.4L860.1,146.4L861.6,146.4L863.2,146.5L864.8,146.6L866.3,146.7L867.9,147.0L869.5,147.3L871.0,147.5L872.6,147.8L874.2,148.0L875.8,148.3L877.3,148.5L878.9,148.8L880.5,149.0L882.0,149.3L883.6,149.6L885.2,149.8L886.8,150.0L888.3,150.1L889.9,150.1L891.5,149.9L893.0,149.6L894.6,149.1L896.2,148.5L897.8,147.6L899.3,146.6L900.9,145.8L902.5,145.4L904.0,145.3L905.6,145.3L907.2,145.3L908.7,145.3L910.3,145.3L911.9,145.3L913.5,145.5L915.0,145.6L916.6,145.8L918.2,146.0L919.7,146.2L921.3,146.3L922.9,146.4L924.5,146.5L926.0,146.5L927.6,146.6L929.2,146.7L930.7,146.9L932.3,147.1L933.9,147.3L935.5,147.5L937.0,147.7L938.6,147.8L940.2,147.9L941.7,147.9L943.3,147.8L944.9,147.8L946.4,147.7L948.0,147.6L949.6,147.5L951.2,147.3L952.7,147.2L954.3,147.0L955.9,146.9L957.4,146.8L959.0,146.7L960.6,146.7L962.2,146.7L963.7,146.7L965.3,146.7L966.9,146.7" fill="none" stroke="#0000ff" stroke-width="1.2"/>
<line x1="841.20" y1="146.73" x2="966.87" y2="146.73" stroke="#000" stroke-width="1" stroke-dasharray="1 1.3"/>
</g>
<path d="M872.62,88.20v4M872.62,176.00v-4M904.04,88.20v4M904.04,176.00v-4M935.45,88.20v4M935.45,176.00v-4M841.50,102.83h2.5M967.50,102.83h-2.5M841.50,117.47h4M967.50,117.47h-4M841.50,132.10h2.5M967.50,132.10h-2.5M841.50,146.73h4M967.50,146.73h-4M841.50,161.37h2.5M967.50,161.37h-2.5" stroke="#000" stroke-width="1" fill="none"/>
<path d="M841.00,88.20H968.00M841.00,176.00H968.00M841.50,87.70V176.50M967.50,87.70V176.50" stroke="#000" stroke-width="1" fill="none"/>
<text x="951.90" y="108.60" class="pn">12</text>
<clipPath id="cA13"><rect x="967.20" y="88.20" width="125.67" height="87.80"/></clipPath>
<g clip-path="url(#cA13)">
<polygon points="967.2,139.7 969.6,140.1 971.9,140.6 974.3,141.0 976.6,141.3 979.0,141.5 981.3,141.7 983.7,141.7 986.1,141.6 988.4,141.3 990.8,140.8 993.1,140.1 995.5,139.2 997.8,138.4 1000.2,137.7 1002.5,137.1 1004.9,136.5 1007.3,136.0 1009.6,135.7 1012.0,135.6 1014.3,135.7 1016.7,136.0 1019.0,136.8 1021.4,138.2 1023.8,139.7 1026.1,140.8 1028.5,141.3 1030.8,141.4 1033.2,141.1 1035.5,140.7 1037.9,140.2 1040.2,140.0 1042.6,139.9 1045.0,139.9 1047.3,140.0 1049.7,140.1 1052.0,140.0 1054.4,139.8 1056.7,139.5 1059.1,139.0 1061.5,138.6 1063.8,138.0 1066.2,137.6 1068.5,137.5 1070.9,137.6 1073.2,137.9 1075.6,138.2 1077.9,138.5 1080.3,138.7 1082.7,138.8 1085.0,139.0 1087.4,139.1 1089.7,139.2 1092.1,139.2 1092.9,139.3 1092.9,155.0 1092.1,155.0 1089.7,154.9 1087.4,154.8 1085.0,154.6 1082.7,154.4 1080.3,154.2 1077.9,153.9 1075.6,153.7 1073.2,153.3 1070.9,153.0 1068.5,152.8 1066.2,152.9 1063.8,153.2 1061.5,153.7 1059.1,154.1 1056.7,154.5 1054.4,154.8 1052.0,155.0 1049.7,155.0 1047.3,154.9 1045.0,154.7 1042.6,154.6 1040.2,154.7 1037.9,154.8 1035.5,155.0 1033.2,155.0 1030.8,154.7 1028.5,154.1 1026.1,153.1 1023.8,151.5 1021.4,149.4 1019.0,147.5 1016.7,146.3 1014.3,145.5 1012.0,145.3 1009.6,145.5 1007.3,146.1 1004.9,146.8 1002.5,147.6 1000.2,148.5 997.8,149.5 995.5,150.6 993.1,151.7 990.8,152.7 988.4,153.5 986.1,154.1 983.7,154.5 981.3,154.7 979.0,154.8 976.6,154.8 974.3,154.8 971.9,154.7 969.6,154.4 967.2,154.2" fill="#fdeaea"/>
<polygon points="967.2,143.8 969.6,143.8 971.9,143.8 974.3,143.8 976.6,143.8 979.0,143.8 981.3,143.8 983.7,143.8 986.1,143.8 988.4,143.8 990.8,143.9 993.1,144.1 995.5,144.5 997.8,144.9 1000.2,145.3 1002.5,145.6 1004.9,145.9 1007.3,146.2 1009.6,146.3 1012.0,146.4 1014.3,146.3 1016.7,146.1 1019.0,145.7 1021.4,145.0 1023.8,144.3 1026.1,143.6 1028.5,143.0 1030.8,142.6 1033.2,142.5 1035.5,142.8 1037.9,143.2 1040.2,143.6 1042.6,143.7 1045.0,143.6 1047.3,143.4 1049.7,143.2 1052.0,143.1 1054.4,143.2 1056.7,143.4 1059.1,143.6 1061.5,143.9 1063.8,144.2 1066.2,144.4 1068.5,144.6 1070.9,144.6 1073.2,144.6 1075.6,144.4 1077.9,144.3 1080.3,144.2 1082.7,144.1 1085.0,144.0 1087.4,144.0 1089.7,143.9 1092.1,143.8 1092.9,143.8 1092.9,149.7 1092.1,149.7 1089.7,149.7 1087.4,149.8 1085.0,149.9 1082.7,150.0 1080.3,150.1 1077.9,150.2 1075.6,150.3 1073.2,150.4 1070.9,150.5 1068.5,150.4 1066.2,150.3 1063.8,150.0 1061.5,149.7 1059.1,149.5 1056.7,149.3 1054.4,149.1 1052.0,149.0 1049.7,149.0 1047.3,149.2 1045.0,149.5 1042.6,149.6 1040.2,149.4 1037.9,149.0 1035.5,148.6 1033.2,148.4 1030.8,148.4 1028.5,148.8 1026.1,149.4 1023.8,150.1 1021.4,150.9 1019.0,151.5 1016.7,151.9 1014.3,152.1 1012.0,152.2 1009.6,152.2 1007.3,152.0 1004.9,151.8 1002.5,151.5 1000.2,151.1 997.8,150.8 995.5,150.3 993.1,149.9 990.8,149.7 988.4,149.7 986.1,149.7 983.7,149.7 981.3,149.7 979.0,149.7 976.6,149.7 974.3,149.7 971.9,149.7 969.6,149.7 967.2,149.7" fill="#ededfc"/>
<line x1="999.00" y1="176.00" x2="999.00" y2="88.20" stroke="#000" stroke-width="1" stroke-dasharray="4.8 5.84"/>
<path d="M967.2,146.9L968.8,147.1L970.3,147.4L971.9,147.6L973.5,147.8L975.1,148.0L976.6,148.1L978.2,148.1L979.8,148.2L981.3,148.2L982.9,148.2L984.5,148.1L986.1,147.9L987.6,147.6L989.2,147.2L990.8,146.8L992.3,146.2L993.9,145.6L995.5,144.9L997.0,144.2L998.6,143.6L1000.2,143.1L1001.8,142.6L1003.3,142.1L1004.9,141.6L1006.5,141.2L1008.0,140.9L1009.6,140.6L1011.2,140.4L1012.8,140.4L1014.3,140.5L1015.9,140.9L1017.5,141.4L1019.0,142.1L1020.6,143.1L1022.2,144.4L1023.8,145.7L1025.3,146.7L1026.9,147.3L1028.5,147.8L1030.0,148.0L1031.6,148.1L1033.2,148.1L1034.7,147.9L1036.3,147.7L1037.9,147.5L1039.5,147.4L1041.0,147.2L1042.6,147.2L1044.2,147.3L1045.7,147.3L1047.3,147.4L1048.9,147.5L1050.5,147.6L1052.0,147.6L1053.6,147.4L1055.2,147.3L1056.7,147.0L1058.3,146.7L1059.9,146.5L1061.5,146.1L1063.0,145.8L1064.6,145.5L1066.2,145.2L1067.7,145.1L1069.3,145.1L1070.9,145.3L1072.4,145.5L1074.0,145.8L1075.6,145.9L1077.2,146.1L1078.7,146.3L1080.3,146.4L1081.9,146.6L1083.4,146.7L1085.0,146.8L1086.6,146.9L1088.2,147.0L1089.7,147.0L1091.3,147.1L1092.9,147.2" fill="none" stroke="#ff0000" stroke-width="1.2"/>
<path d="M967.2,146.7L968.8,146.7L970.3,146.7L971.9,146.7L973.5,146.7L975.1,146.7L976.6,146.7L978.2,146.7L979.8,146.7L981.3,146.7L982.9,146.7L984.5,146.7L986.1,146.7L987.6,146.7L989.2,146.7L990.8,146.8L992.3,146.9L993.9,147.1L995.5,147.4L997.0,147.7L998.6,148.0L1000.2,148.2L1001.8,148.4L1003.3,148.7L1004.9,148.9L1006.5,149.0L1008.0,149.2L1009.6,149.3L1011.2,149.3L1012.8,149.3L1014.3,149.2L1015.9,149.1L1017.5,148.9L1019.0,148.6L1020.6,148.2L1022.2,147.7L1023.8,147.2L1025.3,146.7L1026.9,146.3L1028.5,145.9L1030.0,145.6L1031.6,145.4L1033.2,145.4L1034.7,145.5L1036.3,145.8L1037.9,146.1L1039.5,146.4L1041.0,146.6L1042.6,146.7L1044.2,146.6L1045.7,146.5L1047.3,146.3L1048.9,146.2L1050.5,146.1L1052.0,146.0L1053.6,146.1L1055.2,146.2L1056.7,146.3L1058.3,146.5L1059.9,146.6L1061.5,146.8L1063.0,147.0L1064.6,147.2L1066.2,147.4L1067.7,147.5L1069.3,147.6L1070.9,147.6L1072.4,147.5L1074.0,147.4L1075.6,147.4L1077.2,147.3L1078.7,147.2L1080.3,147.1L1081.9,147.1L1083.4,147.0L1085.0,147.0L1086.6,146.9L1088.2,146.9L1089.7,146.8L1091.3,146.8L1092.9,146.7" fill="none" stroke="#0000ff" stroke-width="1.2"/>
<line x1="967.20" y1="146.73" x2="1092.87" y2="146.73" stroke="#000" stroke-width="1" stroke-dasharray="1 1.3"/>
</g>
<path d="M998.62,88.20v4M998.62,176.00v-4M1030.04,88.20v4M1030.04,176.00v-4M1061.45,88.20v4M1061.45,176.00v-4M967.50,102.83h2.5M1093.50,102.83h-2.5M967.50,117.47h4M1093.50,117.47h-4M967.50,132.10h2.5M1093.50,132.10h-2.5M967.50,146.73h4M1093.50,146.73h-4M967.50,161.37h2.5M1093.50,161.37h-2.5" stroke="#000" stroke-width="1" fill="none"/>
<path d="M967.00,88.20H1094.00M967.00,176.00H1094.00M967.50,87.70V176.50M1093.50,87.70V176.50" stroke="#000" stroke-width="1" fill="none"/>
<text x="1078.25" y="108.60" class="pn">13</text>
<clipPath id="cA14"><rect x="1093.20" y="88.20" width="125.67" height="87.80"/></clipPath>
<g clip-path="url(#cA14)">
<polygon points="1093.2,139.5 1095.6,139.5 1097.9,139.6 1100.3,139.7 1102.6,139.8 1105.0,140.1 1107.3,140.6 1109.7,141.2 1112.1,141.4 1114.4,141.2 1116.8,140.8 1119.1,140.3 1121.5,139.7 1123.8,139.2 1126.2,138.6 1128.5,138.1 1130.9,137.5 1133.3,137.1 1135.6,136.7 1138.0,136.7 1140.3,136.9 1142.7,137.5 1145.0,138.1 1147.4,138.7 1149.8,139.1 1152.1,139.1 1154.5,138.8 1156.8,138.2 1159.2,137.4 1161.5,136.6 1163.9,136.0 1166.2,135.6 1168.6,135.4 1171.0,135.2 1173.3,135.1 1175.7,135.0 1178.0,135.0 1180.4,135.0 1182.7,135.1 1185.1,135.3 1187.5,135.5 1189.8,135.9 1192.2,136.2 1194.5,136.6 1196.9,137.0 1199.2,137.5 1201.6,138.0 1203.9,138.6 1206.3,139.2 1208.7,139.7 1211.0,139.9 1213.4,139.9 1215.7,139.8 1218.1,139.8 1218.9,139.8 1218.9,153.7 1218.1,153.6 1215.7,153.4 1213.4,153.2 1211.0,152.8 1208.7,152.3 1206.3,151.5 1203.9,150.6 1201.6,149.7 1199.2,148.8 1196.9,148.0 1194.5,147.2 1192.2,146.5 1189.8,145.9 1187.5,145.2 1185.1,144.6 1182.7,144.1 1180.4,143.9 1178.0,143.9 1175.7,144.1 1173.3,144.3 1171.0,144.5 1168.6,144.8 1166.2,145.1 1163.9,145.6 1161.5,146.3 1159.2,147.2 1156.8,148.1 1154.5,148.8 1152.1,149.3 1149.8,149.3 1147.4,149.0 1145.0,148.6 1142.7,148.1 1140.3,147.7 1138.0,147.7 1135.6,147.9 1133.3,148.4 1130.9,149.1 1128.5,149.8 1126.2,150.6 1123.8,151.3 1121.5,152.1 1119.1,152.8 1116.8,153.5 1114.4,154.1 1112.1,154.5 1109.7,154.5 1107.3,154.1 1105.0,153.8 1102.6,153.7 1100.3,153.8 1097.9,153.9 1095.6,153.9 1093.2,154.0" fill="#fdeaea"/>
<polygon points="1093.2,144.1 1095.6,144.0 1097.9,144.0 1100.3,143.9 1102.6,143.9 1105.0,143.9 1107.3,143.8 1109.7,143.8 1112.1,143.8 1114.4,143.8 1116.8,143.8 1119.1,144.0 1121.5,144.3 1123.8,144.8 1126.2,145.3 1128.5,145.6 1130.9,145.9 1133.3,146.2 1135.6,146.3 1138.0,146.4 1140.3,146.4 1142.7,146.2 1145.0,146.0 1147.4,145.6 1149.8,145.2 1152.1,144.8 1154.5,144.7 1156.8,144.8 1159.2,145.2 1161.5,145.7 1163.9,146.0 1166.2,146.3 1168.6,146.5 1171.0,146.6 1173.3,146.7 1175.7,146.7 1178.0,146.7 1180.4,146.7 1182.7,146.7 1185.1,146.7 1187.5,146.7 1189.8,146.7 1192.2,146.6 1194.5,146.5 1196.9,146.3 1199.2,145.8 1201.6,145.2 1203.9,144.7 1206.3,144.4 1208.7,144.3 1211.0,144.2 1213.4,144.2 1215.7,144.1 1218.1,144.1 1218.9,144.1 1218.9,149.4 1218.1,149.4 1215.7,149.4 1213.4,149.4 1211.0,149.5 1208.7,149.6 1206.3,149.7 1203.9,150.0 1201.6,150.5 1199.2,151.1 1196.9,151.5 1194.5,151.8 1192.2,151.9 1189.8,152.0 1187.5,152.0 1185.1,152.0 1182.7,152.0 1180.4,152.0 1178.0,152.0 1175.7,152.0 1173.3,152.0 1171.0,151.9 1168.6,151.8 1166.2,151.5 1163.9,151.3 1161.5,150.9 1159.2,150.5 1156.8,150.1 1154.5,149.9 1152.1,150.1 1149.8,150.5 1147.4,150.9 1145.0,151.3 1142.7,151.5 1140.3,151.6 1138.0,151.7 1135.6,151.6 1133.3,151.4 1130.9,151.2 1128.5,150.9 1126.2,150.5 1123.8,150.1 1121.5,149.6 1119.1,149.2 1116.8,149.1 1114.4,149.1 1112.1,149.1 1109.7,149.1 1107.3,149.1 1105.0,149.1 1102.6,149.1 1100.3,149.2 1097.9,149.2 1095.6,149.3 1093.2,149.3" fill="#ededfc"/>
<line x1="1125.00" y1="176.00" x2="1125.00" y2="88.20" stroke="#000" stroke-width="1" stroke-dasharray="4.8 5.84"/>
<path d="M1093.2,146.7L1094.8,146.7L1096.3,146.7L1097.9,146.7L1099.5,146.7L1101.1,146.7L1102.6,146.7L1104.2,146.8L1105.8,147.0L1107.3,147.4L1108.9,147.8L1110.5,148.0L1112.1,148.0L1113.6,147.8L1115.2,147.5L1116.8,147.1L1118.3,146.7L1119.9,146.3L1121.5,145.9L1123.0,145.5L1124.6,145.0L1126.2,144.6L1127.8,144.2L1129.3,143.7L1130.9,143.3L1132.5,142.9L1134.0,142.6L1135.6,142.3L1137.2,142.2L1138.8,142.2L1140.3,142.3L1141.9,142.6L1143.5,142.9L1145.0,143.3L1146.6,143.7L1148.2,144.0L1149.8,144.2L1151.3,144.3L1152.9,144.1L1154.5,143.8L1156.0,143.4L1157.6,142.9L1159.2,142.3L1160.7,141.7L1162.3,141.2L1163.9,140.8L1165.5,140.4L1167.0,140.2L1168.6,140.1L1170.2,139.9L1171.7,139.8L1173.3,139.7L1174.9,139.6L1176.5,139.5L1178.0,139.5L1179.6,139.4L1181.2,139.5L1182.7,139.6L1184.3,139.8L1185.9,140.1L1187.5,140.4L1189.0,140.7L1190.6,141.0L1192.2,141.4L1193.7,141.7L1195.3,142.1L1196.9,142.5L1198.4,142.9L1200.0,143.4L1201.6,143.8L1203.2,144.3L1204.7,144.9L1206.3,145.4L1207.9,145.8L1209.4,146.2L1211.0,146.3L1212.6,146.5L1214.2,146.6L1215.7,146.7L1217.3,146.7L1218.9,146.7" fill="none" stroke="#ff0000" stroke-width="1.2"/>
<path d="M1093.2,146.7L1094.8,146.7L1096.3,146.6L1097.9,146.6L1099.5,146.6L1101.1,146.5L1102.6,146.5L1104.2,146.5L1105.8,146.5L1107.3,146.5L1108.9,146.5L1110.5,146.5L1112.1,146.4L1113.6,146.4L1115.2,146.4L1116.8,146.5L1118.3,146.5L1119.9,146.7L1121.5,146.9L1123.0,147.3L1124.6,147.6L1126.2,147.9L1127.8,148.2L1129.3,148.4L1130.9,148.6L1132.5,148.7L1134.0,148.9L1135.6,149.0L1137.2,149.0L1138.8,149.0L1140.3,149.0L1141.9,148.9L1143.5,148.8L1145.0,148.6L1146.6,148.4L1148.2,148.1L1149.8,147.8L1151.3,147.5L1152.9,147.3L1154.5,147.3L1156.0,147.4L1157.6,147.6L1159.2,147.9L1160.7,148.2L1162.3,148.4L1163.9,148.7L1165.5,148.8L1167.0,149.0L1168.6,149.1L1170.2,149.2L1171.7,149.3L1173.3,149.4L1174.9,149.4L1176.5,149.4L1178.0,149.4L1179.6,149.4L1181.2,149.4L1182.7,149.4L1184.3,149.4L1185.9,149.4L1187.5,149.4L1189.0,149.3L1190.6,149.3L1192.2,149.3L1193.7,149.2L1195.3,149.1L1196.9,148.9L1198.4,148.7L1200.0,148.3L1201.6,147.9L1203.2,147.5L1204.7,147.2L1206.3,147.0L1207.9,146.9L1209.4,146.9L1211.0,146.8L1212.6,146.8L1214.2,146.8L1215.7,146.8L1217.3,146.7L1218.9,146.7" fill="none" stroke="#0000ff" stroke-width="1.2"/>
<line x1="1093.20" y1="146.73" x2="1218.87" y2="146.73" stroke="#000" stroke-width="1" stroke-dasharray="1 1.3"/>
</g>
<path d="M1124.62,88.20v4M1124.62,176.00v-4M1156.04,88.20v4M1156.04,176.00v-4M1187.45,88.20v4M1187.45,176.00v-4M1093.50,102.83h2.5M1218.50,102.83h-2.5M1093.50,117.47h4M1218.50,117.47h-4M1093.50,132.10h2.5M1218.50,132.10h-2.5M1093.50,146.73h4M1218.50,146.73h-4M1093.50,161.37h2.5M1218.50,161.37h-2.5" stroke="#000" stroke-width="1" fill="none"/>
<path d="M1093.00,88.20H1219.00M1093.00,176.00H1219.00M1093.50,87.70V176.50M1218.50,87.70V176.50" stroke="#000" stroke-width="1" fill="none"/>
<text x="1203.25" y="108.60" class="pn">14</text>
<clipPath id="cA15"><rect x="1218.20" y="88.20" width="125.67" height="87.80"/></clipPath>
<g clip-path="url(#cA15)">
<polygon points="1218.2,132.3 1220.6,132.7 1222.9,133.2 1225.3,133.6 1227.6,134.0 1230.0,134.3 1232.3,134.5 1234.7,134.6 1237.1,134.7 1239.4,134.6 1241.8,134.5 1244.1,134.4 1246.5,134.3 1248.8,134.1 1251.2,133.9 1253.5,133.4 1255.9,133.0 1258.3,132.7 1260.6,132.8 1263.0,133.3 1265.3,133.8 1267.7,134.0 1270.0,134.0 1272.4,133.8 1274.8,133.2 1277.1,131.9 1279.5,130.3 1281.8,128.6 1284.2,127.0 1286.5,125.7 1288.9,124.7 1291.2,124.1 1293.6,123.5 1296.0,123.1 1298.3,122.7 1300.7,122.5 1303.0,122.3 1305.4,122.4 1307.7,122.6 1310.1,123.0 1312.5,123.7 1314.8,124.4 1317.2,125.1 1319.5,125.7 1321.9,126.3 1324.2,126.8 1326.6,127.4 1328.9,128.0 1331.3,128.6 1333.7,129.3 1336.0,129.9 1338.4,130.7 1340.7,131.4 1343.1,132.0 1343.9,132.1 1343.9,158.4 1343.1,158.3 1340.7,157.5 1338.4,156.6 1336.0,155.8 1333.7,154.9 1331.3,154.1 1328.9,153.4 1326.6,152.6 1324.2,151.9 1321.9,151.2 1319.5,150.5 1317.2,149.7 1314.8,148.9 1312.5,148.0 1310.1,147.2 1307.7,146.6 1305.4,146.2 1303.0,146.1 1300.7,146.1 1298.3,146.2 1296.0,146.4 1293.6,146.7 1291.2,147.2 1288.9,147.7 1286.5,148.6 1284.2,149.8 1281.8,151.2 1279.5,152.8 1277.1,154.3 1274.8,155.5 1272.4,156.0 1270.0,156.1 1267.7,156.0 1265.3,155.7 1263.0,155.1 1260.6,154.7 1258.3,154.9 1255.9,155.5 1253.5,156.4 1251.2,157.3 1248.8,158.0 1246.5,158.5 1244.1,159.0 1241.8,159.6 1239.4,160.1 1237.1,160.6 1234.7,161.0 1232.3,161.2 1230.0,161.4 1227.6,161.6 1225.3,161.6 1222.9,161.6 1220.6,161.5 1218.2,161.4" fill="#fdeaea"/>
<polygon points="1218.2,137.4 1220.6,137.3 1222.9,137.3 1225.3,137.3 1227.6,137.2 1230.0,137.2 1232.3,137.2 1234.7,137.2 1237.1,137.2 1239.4,137.2 1241.8,137.2 1244.1,137.3 1246.5,137.3 1248.8,137.5 1251.2,137.8 1253.5,138.2 1255.9,138.5 1258.3,138.7 1260.6,138.7 1263.0,138.6 1265.3,138.4 1267.7,138.3 1270.0,138.2 1272.4,138.2 1274.8,138.2 1277.1,138.4 1279.5,138.8 1281.8,139.5 1284.2,140.1 1286.5,140.8 1288.9,141.3 1291.2,141.8 1293.6,142.1 1296.0,142.3 1298.3,142.5 1300.7,142.6 1303.0,142.6 1305.4,142.6 1307.7,142.5 1310.1,142.3 1312.5,142.2 1314.8,142.0 1317.2,141.7 1319.5,141.4 1321.9,141.1 1324.2,140.8 1326.6,140.4 1328.9,140.1 1331.3,139.8 1333.7,139.5 1336.0,139.1 1338.4,138.8 1340.7,138.5 1343.1,138.3 1343.9,138.2 1343.9,155.8 1343.1,155.8 1340.7,156.1 1338.4,156.4 1336.0,156.7 1333.7,157.0 1331.3,157.3 1328.9,157.7 1326.6,158.0 1324.2,158.3 1321.9,158.6 1319.5,159.0 1317.2,159.3 1314.8,159.5 1312.5,159.7 1310.1,159.9 1307.7,160.0 1305.4,160.1 1303.0,160.2 1300.7,160.1 1298.3,160.1 1296.0,159.9 1293.6,159.8 1291.2,159.5 1288.9,159.0 1286.5,158.5 1284.2,157.9 1281.8,157.3 1279.5,156.7 1277.1,156.3 1274.8,156.2 1272.4,156.2 1270.0,156.2 1267.7,156.3 1265.3,156.5 1263.0,156.7 1260.6,156.9 1258.3,156.9 1255.9,156.7 1253.5,156.4 1251.2,156.1 1248.8,155.8 1246.5,155.6 1244.1,155.6 1241.8,155.6 1239.4,155.7 1237.1,155.7 1234.7,155.7 1232.3,155.7 1230.0,155.8 1227.6,155.8 1225.3,155.9 1222.9,155.9 1220.6,156.0 1218.2,156.1" fill="#ededfc"/>
<line x1="1250.00" y1="176.00" x2="1250.00" y2="88.20" stroke="#000" stroke-width="1" stroke-dasharray="4.8 5.84"/>
<path d="M1218.2,146.8L1219.8,147.0L1221.3,147.2L1222.9,147.4L1224.5,147.6L1226.1,147.7L1227.6,147.8L1229.2,147.8L1230.8,147.9L1232.3,147.9L1233.9,147.8L1235.5,147.8L1237.1,147.6L1238.6,147.4L1240.2,147.2L1241.8,147.0L1243.3,146.8L1244.9,146.6L1246.5,146.4L1248.0,146.2L1249.6,145.9L1251.2,145.6L1252.8,145.2L1254.3,144.7L1255.9,144.2L1257.5,143.9L1259.0,143.7L1260.6,143.7L1262.2,144.0L1263.8,144.4L1265.3,144.8L1266.9,145.0L1268.5,145.1L1270.0,145.1L1271.6,145.0L1273.2,144.9L1274.8,144.5L1276.3,143.7L1277.9,142.6L1279.5,141.5L1281.0,140.4L1282.6,139.4L1284.2,138.4L1285.7,137.5L1287.3,136.7L1288.9,136.2L1290.5,135.8L1292.0,135.4L1293.6,135.1L1295.2,134.9L1296.7,134.6L1298.3,134.4L1299.9,134.3L1301.5,134.2L1303.0,134.2L1304.6,134.2L1306.2,134.3L1307.7,134.5L1309.3,134.9L1310.9,135.3L1312.5,135.8L1314.0,136.4L1315.6,136.9L1317.2,137.4L1318.7,137.9L1320.3,138.3L1321.9,138.8L1323.4,139.2L1325.0,139.6L1326.6,140.0L1328.2,140.5L1329.7,140.9L1331.3,141.4L1332.9,141.9L1334.4,142.4L1336.0,142.9L1337.6,143.4L1339.2,143.9L1340.7,144.4L1342.3,145.0L1343.9,145.3" fill="none" stroke="#ff0000" stroke-width="1.2"/>
<path d="M1218.2,146.7L1219.8,146.7L1221.3,146.6L1222.9,146.6L1224.5,146.6L1226.1,146.6L1227.6,146.5L1229.2,146.5L1230.8,146.5L1232.3,146.5L1233.9,146.5L1235.5,146.5L1237.1,146.5L1238.6,146.4L1240.2,146.4L1241.8,146.4L1243.3,146.4L1244.9,146.4L1246.5,146.5L1248.0,146.5L1249.6,146.7L1251.2,146.9L1252.8,147.2L1254.3,147.4L1255.9,147.6L1257.5,147.8L1259.0,147.9L1260.6,147.8L1262.2,147.7L1263.8,147.6L1265.3,147.5L1266.9,147.3L1268.5,147.2L1270.0,147.2L1271.6,147.2L1273.2,147.2L1274.8,147.2L1276.3,147.2L1277.9,147.4L1279.5,147.7L1281.0,148.1L1282.6,148.6L1284.2,149.0L1285.7,149.4L1287.3,149.8L1288.9,150.2L1290.5,150.5L1292.0,150.8L1293.6,150.9L1295.2,151.1L1296.7,151.2L1298.3,151.3L1299.9,151.3L1301.5,151.4L1303.0,151.4L1304.6,151.4L1306.2,151.3L1307.7,151.3L1309.3,151.2L1310.9,151.1L1312.5,151.0L1314.0,150.8L1315.6,150.7L1317.2,150.5L1318.7,150.3L1320.3,150.1L1321.9,149.9L1323.4,149.7L1325.0,149.4L1326.6,149.2L1328.2,149.0L1329.7,148.8L1331.3,148.6L1332.9,148.3L1334.4,148.1L1336.0,147.9L1337.6,147.7L1339.2,147.5L1340.7,147.3L1342.3,147.1L1343.9,147.0" fill="none" stroke="#0000ff" stroke-width="1.2"/>
<line x1="1218.20" y1="146.73" x2="1343.87" y2="146.73" stroke="#000" stroke-width="1" stroke-dasharray="1 1.3"/>
</g>
<path d="M1249.62,88.20v4M1249.62,176.00v-4M1281.04,88.20v4M1281.04,176.00v-4M1312.45,88.20v4M1312.45,176.00v-4M1219.50,102.83h2.5M1344.50,102.83h-2.5M1219.50,117.47h4M1344.50,117.47h-4M1219.50,132.10h2.5M1344.50,132.10h-2.5M1219.50,146.73h4M1344.50,146.73h-4M1219.50,161.37h2.5M1344.50,161.37h-2.5" stroke="#000" stroke-width="1" fill="none"/>
<path d="M1219.00,88.20H1345.00M1219.00,176.00H1345.00M1219.50,87.70V176.50M1344.50,87.70V176.50" stroke="#000" stroke-width="1" fill="none"/>
<text x="1329.70" y="108.60" class="pn">15</text>
<clipPath id="cA16"><rect x="275.20" y="176.00" width="125.67" height="87.80"/></clipPath>
<g clip-path="url(#cA16)">
<polygon points="275.2,226.4 277.6,226.5 279.9,226.7 282.3,226.8 284.6,227.2 287.0,227.8 289.3,228.5 291.7,228.8 294.1,228.6 296.4,228.2 298.8,227.7 301.1,227.1 303.5,226.5 305.8,225.8 308.2,225.0 310.5,224.0 312.9,223.1 315.3,222.4 317.6,222.0 320.0,222.0 322.3,222.4 324.7,223.0 327.0,224.2 329.4,225.6 331.8,226.6 334.1,226.8 336.5,226.5 338.8,226.1 341.2,225.7 343.5,225.2 345.9,224.7 348.2,224.5 350.6,224.6 353.0,225.0 355.3,225.5 357.7,225.8 360.0,225.9 362.4,225.8 364.7,225.8 367.1,225.8 369.5,225.8 371.8,225.9 374.2,226.1 376.5,226.2 378.9,226.3 381.2,226.2 383.6,226.1 385.9,226.0 388.3,225.9 390.7,226.0 393.0,226.0 395.4,226.2 397.7,226.3 400.1,226.5 400.9,226.6 400.9,242.4 400.1,242.3 397.7,242.1 395.4,242.0 393.0,241.8 390.7,241.8 388.3,241.7 385.9,241.8 383.6,241.9 381.2,242.0 378.9,242.1 376.5,242.0 374.2,241.9 371.8,241.7 369.5,241.6 367.1,241.6 364.7,241.6 362.4,241.6 360.0,241.7 357.7,241.6 355.3,241.3 353.0,240.8 350.6,240.4 348.2,240.3 345.9,240.4 343.5,240.7 341.2,240.8 338.8,240.8 336.5,240.7 334.1,240.5 331.8,239.9 329.4,238.4 327.0,236.5 324.7,234.9 322.3,233.8 320.0,233.0 317.6,232.9 315.3,233.4 312.9,234.4 310.5,235.6 308.2,236.9 305.8,238.0 303.5,239.0 301.1,240.0 298.8,240.8 296.4,241.7 294.1,242.4 291.7,243.0 289.3,243.0 287.0,242.6 284.6,242.3 282.3,242.3 279.9,242.4 277.6,242.6 275.2,242.7" fill="#fdeaea"/>
<polygon points="275.2,229.3 277.6,229.3 279.9,229.3 282.3,229.3 284.6,229.3 287.0,229.3 289.3,229.3 291.7,229.3 294.1,229.4 296.4,229.4 298.8,229.5 301.1,229.8 303.5,230.2 305.8,230.7 308.2,231.1 310.5,231.4 312.9,231.8 315.3,232.1 317.6,232.3 320.0,232.3 322.3,232.2 324.7,232.0 327.0,231.5 329.4,230.8 331.8,230.0 334.1,229.3 336.5,228.7 338.8,228.3 341.2,228.2 343.5,228.4 345.9,228.8 348.2,229.1 350.6,229.3 353.0,229.4 355.3,229.5 357.7,229.6 360.0,229.7 362.4,229.8 364.7,229.8 367.1,229.9 369.5,230.0 371.8,230.0 374.2,230.0 376.5,230.0 378.9,230.0 381.2,230.0 383.6,230.0 385.9,230.0 388.3,230.0 390.7,230.0 393.0,230.0 395.4,230.0 397.7,229.9 400.1,229.9 400.9,229.9 400.9,239.2 400.1,239.3 397.7,239.3 395.4,239.4 393.0,239.4 390.7,239.5 388.3,239.5 385.9,239.5 383.6,239.6 381.2,239.6 378.9,239.6 376.5,239.6 374.2,239.6 371.8,239.6 369.5,239.6 367.1,239.6 364.7,239.5 362.4,239.5 360.0,239.4 357.7,239.4 355.3,239.3 353.0,239.3 350.6,239.2 348.2,239.0 345.9,238.6 343.5,238.3 341.2,238.2 338.8,238.3 336.5,238.7 334.1,239.3 331.8,240.0 329.4,240.9 327.0,241.6 324.7,242.0 322.3,242.3 320.0,242.5 317.6,242.4 315.3,242.2 312.9,242.0 310.5,241.6 308.2,241.3 305.8,240.9 303.5,240.5 301.1,240.1 298.8,239.8 296.4,239.7 294.1,239.7 291.7,239.7 289.3,239.7 287.0,239.7 284.6,239.8 282.3,239.8 279.9,239.8 277.6,239.8 275.2,239.8" fill="#ededfc"/>
<line x1="306.65" y1="263.80" x2="306.65" y2="176.00" stroke="#000" stroke-width="1" stroke-dasharray="4.8 5.84"/>
<path d="M275.2,234.5L276.8,234.5L278.3,234.5L279.9,234.5L281.5,234.5L283.1,234.6L284.6,234.7L286.2,235.0L287.8,235.4L289.3,235.8L290.9,236.0L292.5,235.8L294.1,235.5L295.6,235.1L297.2,234.7L298.8,234.3L300.3,233.8L301.9,233.3L303.5,232.8L305.0,232.2L306.6,231.6L308.2,230.9L309.8,230.2L311.3,229.4L312.9,228.7L314.5,228.1L316.0,227.6L317.6,227.4L319.2,227.4L320.8,227.6L322.3,228.0L323.9,228.6L325.5,229.3L327.0,230.3L328.6,231.5L330.2,232.6L331.8,233.4L333.3,233.7L334.9,233.7L336.5,233.6L338.0,233.5L339.6,233.4L341.2,233.3L342.7,233.1L344.3,232.8L345.9,232.6L347.5,232.4L349.0,232.3L350.6,232.4L352.2,232.7L353.7,233.1L355.3,233.4L356.9,233.7L358.5,233.8L360.0,233.8L361.6,233.8L363.2,233.7L364.7,233.7L366.3,233.7L367.9,233.7L369.5,233.7L371.0,233.8L372.6,233.9L374.2,234.0L375.7,234.1L377.3,234.2L378.9,234.2L380.4,234.2L382.0,234.1L383.6,234.0L385.2,233.9L386.7,233.8L388.3,233.8L389.9,233.8L391.4,233.9L393.0,233.9L394.6,234.0L396.2,234.1L397.7,234.2L399.3,234.4L400.9,234.5" fill="none" stroke="#ff0000" stroke-width="1.2"/>
<path d="M275.2,234.5L276.8,234.5L278.3,234.5L279.9,234.5L281.5,234.5L283.1,234.5L284.6,234.5L286.2,234.5L287.8,234.5L289.3,234.5L290.9,234.5L292.5,234.5L294.1,234.5L295.6,234.5L297.2,234.6L298.8,234.6L300.3,234.8L301.9,235.1L303.5,235.4L305.0,235.7L306.6,235.9L308.2,236.2L309.8,236.4L311.3,236.7L312.9,236.9L314.5,237.1L316.0,237.2L317.6,237.4L319.2,237.4L320.8,237.4L322.3,237.3L323.9,237.1L325.5,236.9L327.0,236.6L328.6,236.1L330.2,235.6L331.8,235.0L333.3,234.5L334.9,234.1L336.5,233.7L338.0,233.4L339.6,233.2L341.2,233.2L342.7,233.3L344.3,233.5L345.9,233.7L347.5,233.9L349.0,234.1L350.6,234.3L352.2,234.3L353.7,234.4L355.3,234.4L356.9,234.5L358.5,234.5L360.0,234.6L361.6,234.6L363.2,234.6L364.7,234.7L366.3,234.7L367.9,234.8L369.5,234.8L371.0,234.8L372.6,234.8L374.2,234.8L375.7,234.8L377.3,234.8L378.9,234.8L380.4,234.8L382.0,234.8L383.6,234.8L385.2,234.8L386.7,234.8L388.3,234.8L389.9,234.8L391.4,234.7L393.0,234.7L394.6,234.7L396.2,234.7L397.7,234.6L399.3,234.6L400.9,234.6" fill="none" stroke="#0000ff" stroke-width="1.2"/>
<line x1="275.20" y1="234.53" x2="400.87" y2="234.53" stroke="#000" stroke-width="1" stroke-dasharray="1 1.3"/>
</g>
<path d="M306.62,176.00v4M306.62,263.80v-4M338.03,176.00v4M338.03,263.80v-4M369.45,176.00v4M369.45,263.80v-4M275.50,190.63h2.5M401.50,190.63h-2.5M275.50,205.27h4M401.50,205.27h-4M275.50,219.90h2.5M401.50,219.90h-2.5M275.50,234.53h4M401.50,234.53h-4M275.50,249.17h2.5M401.50,249.17h-2.5" stroke="#000" stroke-width="1" fill="none"/>
<path d="M275.00,176.00H402.00M275.00,263.80H402.00M275.50,175.50V264.30M401.50,175.50V264.30" stroke="#000" stroke-width="1" fill="none"/>
<text x="384.85" y="196.40" class="pn">16</text>
<clipPath id="cA17"><rect x="527.20" y="176.00" width="125.67" height="87.80"/></clipPath>
<g clip-path="url(#cA17)">
<polygon points="527.2,225.7 529.6,225.6 531.9,225.6 534.3,225.8 536.6,226.1 539.0,226.4 541.3,226.8 543.7,227.0 546.1,227.2 548.4,227.1 550.8,226.0 553.1,223.7 555.5,220.5 557.8,217.3 560.2,214.5 562.5,211.8 564.9,209.3 567.3,207.0 569.6,205.3 572.0,204.4 574.3,204.6 576.7,205.9 579.0,208.0 581.4,210.6 583.8,213.7 586.1,216.6 588.5,219.0 590.8,220.9 593.2,222.4 595.5,223.6 597.9,224.6 600.2,225.5 602.6,226.1 605.0,226.4 607.3,226.5 609.7,226.4 612.0,226.4 614.4,226.4 616.7,226.3 619.1,226.4 621.5,226.4 623.8,226.4 626.2,226.3 628.5,225.9 630.9,225.3 633.2,224.6 635.6,223.9 637.9,223.5 640.3,223.6 642.7,224.1 645.0,224.8 647.4,225.5 649.7,226.0 652.1,226.3 652.9,226.3 652.9,242.7 652.1,242.6 649.7,242.3 647.4,241.7 645.0,240.9 642.7,240.1 640.3,239.6 637.9,239.5 635.6,239.8 633.2,240.3 630.9,241.0 628.5,241.6 626.2,241.9 623.8,241.9 621.5,241.8 619.1,241.7 616.7,241.6 614.4,241.5 612.0,241.5 609.7,241.5 607.3,241.4 605.0,241.3 602.6,240.9 600.2,240.2 597.9,239.2 595.5,238.0 593.2,236.5 590.8,234.6 588.5,232.3 586.1,229.5 583.8,226.1 581.4,222.7 579.0,219.6 576.7,217.1 574.3,215.5 572.0,215.2 569.6,216.4 567.3,218.4 564.9,221.1 562.5,224.0 560.2,227.0 557.8,230.1 555.5,233.7 553.1,237.3 550.8,240.0 548.4,241.4 546.1,241.8 543.7,242.0 541.3,242.1 539.0,242.2 536.6,242.2 534.3,242.3 531.9,242.5 529.6,242.8 527.2,243.1" fill="#fdeaea"/>
<polygon points="527.2,230.4 529.6,230.3 531.9,230.3 534.3,230.2 536.6,230.1 539.0,230.0 541.3,229.9 543.7,229.8 546.1,229.7 548.4,229.6 550.8,229.5 553.1,229.4 555.5,229.3 557.8,229.4 560.2,229.7 562.5,230.5 564.9,231.5 567.3,232.7 569.6,233.8 572.0,234.9 574.3,235.9 576.7,236.7 579.0,236.7 581.4,235.9 583.8,234.1 586.1,232.0 588.5,229.7 590.8,227.5 593.2,225.9 595.5,225.0 597.9,224.5 600.2,224.4 602.6,224.7 605.0,225.2 607.3,225.9 609.7,226.7 612.0,227.4 614.4,228.2 616.7,229.1 619.1,229.9 621.5,230.5 623.8,231.1 626.2,231.6 628.5,231.9 630.9,232.2 633.2,232.5 635.6,232.7 637.9,232.7 640.3,232.4 642.7,232.0 645.0,231.5 647.4,231.1 649.7,230.7 652.1,230.5 652.9,230.5 652.9,238.7 652.1,238.7 649.7,238.9 647.4,239.2 645.0,239.7 642.7,240.2 640.3,240.6 637.9,240.9 635.6,240.9 633.2,240.7 630.9,240.4 628.5,240.1 626.2,239.8 623.8,239.3 621.5,238.7 619.1,238.1 616.7,237.3 614.4,236.4 612.0,235.6 609.7,234.9 607.3,234.1 605.0,233.4 602.6,232.9 600.2,232.6 597.9,232.7 595.5,233.2 593.2,234.1 590.8,235.7 588.5,237.9 586.1,240.2 583.8,242.3 581.4,244.1 579.0,244.9 576.7,244.8 574.3,244.1 572.0,243.0 569.6,242.0 567.3,240.9 564.9,239.7 562.5,238.7 560.2,237.9 557.8,237.6 555.5,237.5 553.1,237.6 550.8,237.7 548.4,237.8 546.1,237.9 543.7,238.0 541.3,238.1 539.0,238.2 536.6,238.3 534.3,238.4 531.9,238.5 529.6,238.5 527.2,238.6" fill="#ededfc"/>
<line x1="558.65" y1="263.80" x2="558.65" y2="176.00" stroke="#000" stroke-width="1" stroke-dasharray="4.8 5.84"/>
<path d="M527.2,234.4L528.8,234.3L530.3,234.1L531.9,234.0L533.5,234.0L535.1,234.0L536.6,234.1L538.2,234.2L539.8,234.4L541.3,234.5L542.9,234.5L544.5,234.5L546.1,234.5L547.6,234.5L549.2,234.1L550.8,233.2L552.3,231.6L553.9,229.5L555.5,227.1L557.0,224.7L558.6,222.6L560.2,220.7L561.8,218.8L563.3,217.0L564.9,215.2L566.5,213.4L568.0,211.9L569.6,210.7L571.2,209.9L572.8,209.6L574.3,209.8L575.9,210.8L577.5,212.1L579.0,213.7L580.6,215.6L582.2,217.7L583.8,219.9L585.3,222.1L586.9,224.1L588.5,225.7L590.0,227.1L591.6,228.4L593.2,229.5L594.7,230.4L596.3,231.2L597.9,231.9L599.5,232.6L601.0,233.2L602.6,233.6L604.2,233.8L605.7,233.9L607.3,233.9L608.9,233.9L610.5,233.9L612.0,233.9L613.6,233.9L615.2,234.0L616.7,234.0L618.3,234.0L619.9,234.1L621.5,234.1L623.0,234.2L624.6,234.2L626.2,234.1L627.7,234.0L629.3,233.6L630.9,233.2L632.4,232.7L634.0,232.2L635.6,231.8L637.2,231.5L638.7,231.4L640.3,231.5L641.9,231.9L643.4,232.3L645.0,232.8L646.6,233.4L648.2,233.8L649.7,234.2L651.3,234.4L652.9,234.5" fill="none" stroke="#ff0000" stroke-width="1.2"/>
<path d="M527.2,234.5L528.8,234.5L530.3,234.4L531.9,234.4L533.5,234.3L535.1,234.2L536.6,234.2L538.2,234.1L539.8,234.1L541.3,234.0L542.9,233.9L544.5,233.9L546.1,233.8L547.6,233.7L549.2,233.7L550.8,233.6L552.3,233.5L553.9,233.4L555.5,233.4L557.0,233.4L558.6,233.5L560.2,233.8L561.8,234.2L563.3,234.9L564.9,235.6L566.5,236.4L568.0,237.2L569.6,237.9L571.2,238.6L572.8,239.3L574.3,240.0L575.9,240.6L577.5,241.0L579.0,241.0L580.6,240.5L582.2,239.6L583.8,238.3L585.3,236.8L586.9,235.4L588.5,233.8L590.0,232.2L591.6,230.9L593.2,229.9L594.7,229.3L596.3,228.8L597.9,228.6L599.5,228.5L601.0,228.6L602.6,228.8L604.2,229.1L605.7,229.5L607.3,230.0L608.9,230.5L610.5,231.0L612.0,231.5L613.6,232.1L615.2,232.6L616.7,233.2L618.3,233.8L619.9,234.2L621.5,234.7L623.0,235.0L624.6,235.4L626.2,235.7L627.7,235.9L629.3,236.2L630.9,236.4L632.4,236.5L634.0,236.7L635.6,236.8L637.2,236.8L638.7,236.8L640.3,236.6L641.9,236.3L643.4,235.9L645.0,235.6L646.6,235.3L648.2,235.0L649.7,234.8L651.3,234.7L652.9,234.6" fill="none" stroke="#0000ff" stroke-width="1.2"/>
<line x1="527.20" y1="234.53" x2="652.87" y2="234.53" stroke="#000" stroke-width="1" stroke-dasharray="1 1.3"/>
</g>
<path d="M558.62,176.00v4M558.62,263.80v-4M590.04,176.00v4M590.04,263.80v-4M621.45,176.00v4M621.45,263.80v-4M527.50,190.63h2.5M653.50,190.63h-2.5M527.50,205.27h4M653.50,205.27h-4M527.50,219.90h2.5M653.50,219.90h-2.5M527.50,234.53h4M653.50,234.53h-4M527.50,249.17h2.5M653.50,249.17h-2.5" stroke="#000" stroke-width="1" fill="none"/>
<path d="M527.00,176.00H654.00M527.00,263.80H654.00M527.50,175.50V264.30M653.50,175.50V264.30" stroke="#000" stroke-width="1" fill="none"/>
<text x="635.50" y="196.40" class="pn">17</text>
<clipPath id="cA18"><rect x="778.20" y="176.00" width="125.67" height="87.80"/></clipPath>
<g clip-path="url(#cA18)">
<polygon points="778.2,229.7 780.6,230.0 782.9,230.4 785.3,230.6 787.6,230.8 790.0,230.9 792.3,230.9 794.7,230.8 797.1,230.5 799.4,230.0 801.8,229.3 804.1,228.1 806.5,226.6 808.8,224.8 811.2,223.0 813.5,221.0 815.9,219.0 818.3,217.1 820.6,215.3 823.0,213.9 825.3,213.3 827.7,213.7 830.0,215.1 832.4,217.3 834.8,220.1 837.1,222.6 839.5,224.5 841.8,225.7 844.2,226.2 846.5,226.5 848.9,226.8 851.2,227.0 853.6,227.4 856.0,227.7 858.3,227.9 860.7,228.0 863.0,227.8 865.4,227.5 867.7,227.2 870.1,227.1 872.5,227.0 874.8,226.9 877.2,226.8 879.5,226.8 881.9,226.8 884.2,226.9 886.6,227.1 888.9,227.3 891.3,227.7 893.7,228.1 896.0,228.6 898.4,229.0 900.7,229.2 903.1,229.3 903.9,229.3 903.9,239.8 903.1,239.8 900.7,239.8 898.4,239.6 896.0,239.2 893.7,238.6 891.3,238.2 888.9,237.9 886.6,237.6 884.2,237.4 881.9,237.4 879.5,237.3 877.2,237.4 874.8,237.4 872.5,237.5 870.1,237.6 867.7,237.8 865.4,238.0 863.0,238.3 860.7,238.5 858.3,238.5 856.0,238.2 853.6,237.9 851.2,237.6 848.9,237.3 846.5,236.9 844.2,236.4 841.8,235.6 839.5,234.2 837.1,232.1 834.8,229.3 832.4,226.2 830.0,223.8 827.7,222.2 825.3,221.6 823.0,222.2 820.6,223.7 818.3,225.5 815.9,227.5 813.5,229.6 811.2,231.7 808.8,233.6 806.5,235.5 804.1,237.1 801.8,238.4 799.4,239.2 797.1,239.7 794.7,240.1 792.3,240.3 790.0,240.4 787.6,240.4 785.3,240.3 782.9,240.2 780.6,239.9 778.2,239.6" fill="#fdeaea"/>
<polygon points="778.2,232.1 780.6,231.9 782.9,231.7 785.3,231.5 787.6,231.4 790.0,231.3 792.3,231.3 794.7,231.3 797.1,231.3 799.4,231.3 801.8,231.4 804.1,231.6 806.5,232.0 808.8,232.4 811.2,232.9 813.5,233.6 815.9,234.5 818.3,235.3 820.6,236.2 823.0,237.0 825.3,237.7 827.7,237.8 830.0,237.3 832.4,236.3 834.8,235.0 837.1,233.4 839.5,231.7 841.8,230.6 844.2,230.2 846.5,230.1 848.9,230.0 851.2,230.0 853.6,230.0 856.0,230.0 858.3,230.1 860.7,230.2 863.0,230.4 865.4,230.7 867.7,231.2 870.1,231.8 872.5,232.3 874.8,232.7 877.2,233.0 879.5,233.2 881.9,233.3 884.2,233.4 886.6,233.4 888.9,233.4 891.3,233.3 893.7,233.3 896.0,233.2 898.4,233.0 900.7,232.8 903.1,232.6 903.9,232.6 903.9,237.2 903.1,237.3 900.7,237.5 898.4,237.7 896.0,237.8 893.7,238.0 891.3,238.0 888.9,238.0 886.6,238.0 884.2,238.0 881.9,238.0 879.5,237.9 877.2,237.7 874.8,237.4 872.5,237.0 870.1,236.4 867.7,235.9 865.4,235.4 863.0,235.1 860.7,234.9 858.3,234.8 856.0,234.7 853.6,234.7 851.2,234.7 848.9,234.7 846.5,234.7 844.2,234.8 841.8,235.2 839.5,236.4 837.1,238.0 834.8,239.7 832.4,241.0 830.0,241.9 827.7,242.5 825.3,242.3 823.0,241.7 820.6,240.9 818.3,240.0 815.9,239.1 813.5,238.3 811.2,237.6 808.8,237.1 806.5,236.6 804.1,236.3 801.8,236.1 799.4,236.0 797.1,236.0 794.7,236.0 792.3,236.0 790.0,236.0 787.6,236.1 785.3,236.2 782.9,236.4 780.6,236.6 778.2,236.8" fill="#ededfc"/>
<line x1="810.00" y1="263.80" x2="810.00" y2="176.00" stroke="#000" stroke-width="1" stroke-dasharray="4.8 5.84"/>
<path d="M778.2,234.7L779.8,234.8L781.3,235.1L782.9,235.3L784.5,235.4L786.1,235.6L787.6,235.6L789.2,235.7L790.8,235.7L792.3,235.6L793.9,235.5L795.5,235.4L797.1,235.1L798.6,234.8L800.2,234.4L801.8,233.9L803.3,233.1L804.9,232.1L806.5,231.0L808.0,229.9L809.6,228.6L811.2,227.4L812.8,226.0L814.3,224.6L815.9,223.2L817.5,221.9L819.0,220.7L820.6,219.4L822.2,218.3L823.8,217.6L825.3,217.3L826.9,217.5L828.5,218.3L830.0,219.3L831.6,220.8L833.2,222.7L834.8,224.7L836.3,226.7L837.9,228.2L839.5,229.4L841.0,230.4L842.6,231.0L844.2,231.4L845.7,231.6L847.3,231.8L848.9,232.0L850.5,232.2L852.0,232.4L853.6,232.6L855.2,232.9L856.7,233.1L858.3,233.2L859.9,233.3L861.5,233.2L863.0,233.0L864.6,232.8L866.2,232.6L867.7,232.5L869.3,232.4L870.9,232.3L872.5,232.2L874.0,232.2L875.6,232.1L877.2,232.1L878.7,232.1L880.3,232.1L881.9,232.1L883.4,232.1L885.0,232.2L886.6,232.4L888.2,232.5L889.7,232.7L891.3,232.9L892.9,233.2L894.4,233.6L896.0,233.9L897.6,234.2L899.2,234.4L900.7,234.5L902.3,234.5L903.9,234.5" fill="none" stroke="#ff0000" stroke-width="1.2"/>
<path d="M778.2,234.5L779.8,234.4L781.3,234.2L782.9,234.1L784.5,233.9L786.1,233.8L787.6,233.7L789.2,233.7L790.8,233.7L792.3,233.7L793.9,233.7L795.5,233.7L797.1,233.7L798.6,233.7L800.2,233.7L801.8,233.7L803.3,233.9L804.9,234.1L806.5,234.3L808.0,234.6L809.6,234.9L811.2,235.2L812.8,235.7L814.3,236.2L815.9,236.8L817.5,237.4L819.0,237.9L820.6,238.5L822.2,239.1L823.8,239.7L825.3,240.1L826.9,240.2L828.5,240.1L830.0,239.7L831.6,239.0L833.2,238.2L834.8,237.4L836.3,236.3L837.9,235.1L839.5,233.9L841.0,233.1L842.6,232.6L844.2,232.5L845.7,232.4L847.3,232.4L848.9,232.4L850.5,232.4L852.0,232.3L853.6,232.3L855.2,232.4L856.7,232.4L858.3,232.4L859.9,232.5L861.5,232.6L863.0,232.7L864.6,232.9L866.2,233.1L867.7,233.5L869.3,233.9L870.9,234.3L872.5,234.6L874.0,234.9L875.6,235.2L877.2,235.4L878.7,235.5L880.3,235.6L881.9,235.7L883.4,235.7L885.0,235.7L886.6,235.7L888.2,235.7L889.7,235.7L891.3,235.7L892.9,235.7L894.4,235.6L896.0,235.5L897.6,235.4L899.2,235.3L900.7,235.1L902.3,235.0L903.9,234.9" fill="none" stroke="#0000ff" stroke-width="1.2"/>
<line x1="778.20" y1="234.53" x2="903.87" y2="234.53" stroke="#000" stroke-width="1" stroke-dasharray="1 1.3"/>
</g>
<path d="M809.62,176.00v4M809.62,263.80v-4M841.04,176.00v4M841.04,263.80v-4M872.45,176.00v4M872.45,263.80v-4M778.50,190.63h2.5M904.50,190.63h-2.5M778.50,205.27h4M904.50,205.27h-4M778.50,219.90h2.5M904.50,219.90h-2.5M778.50,234.53h4M904.50,234.53h-4M778.50,249.17h2.5M904.50,249.17h-2.5" stroke="#000" stroke-width="1" fill="none"/>
<path d="M778.00,176.00H905.00M778.00,263.80H905.00M778.50,175.50V264.30M904.50,175.50V264.30" stroke="#000" stroke-width="1" fill="none"/>
<text x="887.05" y="196.40" class="pn">18</text>
<clipPath id="cA19"><rect x="1029.20" y="176.00" width="125.67" height="87.80"/></clipPath>
<g clip-path="url(#cA19)">
<polygon points="1029.2,229.0 1031.6,229.6 1033.9,230.2 1036.3,230.8 1038.6,231.2 1041.0,231.5 1043.3,231.6 1045.7,231.6 1048.1,231.4 1050.4,231.0 1052.8,230.4 1055.1,229.7 1057.5,228.8 1059.8,227.7 1062.2,226.3 1064.5,224.8 1066.9,223.2 1069.3,221.8 1071.6,220.5 1074.0,219.3 1076.3,218.4 1078.7,218.1 1081.0,218.4 1083.4,219.2 1085.8,220.1 1088.1,220.9 1090.5,221.6 1092.8,221.9 1095.2,222.0 1097.5,221.9 1099.9,221.8 1102.2,221.5 1104.6,221.1 1107.0,220.6 1109.3,220.2 1111.7,219.9 1114.0,219.9 1116.4,220.1 1118.7,220.4 1121.1,220.9 1123.5,221.3 1125.8,221.7 1128.2,222.2 1130.5,222.7 1132.9,223.2 1135.2,223.7 1137.6,224.4 1139.9,225.1 1142.3,225.8 1144.7,226.5 1147.0,227.2 1149.4,227.7 1151.7,228.1 1154.1,228.5 1154.9,228.6 1154.9,237.3 1154.1,237.3 1151.7,236.9 1149.4,236.4 1147.0,235.9 1144.7,235.2 1142.3,234.5 1139.9,233.7 1137.6,233.0 1135.2,232.4 1132.9,231.8 1130.5,231.3 1128.2,230.8 1125.8,230.3 1123.5,229.8 1121.1,229.4 1118.7,228.9 1116.4,228.5 1114.0,228.3 1111.7,228.4 1109.3,228.6 1107.0,229.0 1104.6,229.5 1102.2,229.9 1099.9,230.1 1097.5,230.3 1095.2,230.3 1092.8,230.2 1090.5,229.9 1088.1,229.2 1085.8,228.3 1083.4,227.4 1081.0,226.7 1078.7,226.4 1076.3,226.8 1074.0,227.8 1071.6,229.2 1069.3,230.7 1066.9,232.3 1064.5,234.0 1062.2,235.7 1059.8,237.2 1057.5,238.5 1055.1,239.5 1052.8,240.4 1050.4,241.2 1048.1,241.8 1045.7,242.1 1043.3,242.3 1041.0,242.3 1038.6,242.2 1036.3,242.0 1033.9,241.6 1031.6,241.1 1029.2,240.6" fill="#fdeaea"/>
<polygon points="1029.2,229.7 1031.6,229.5 1033.9,229.2 1036.3,228.9 1038.6,228.7 1041.0,228.6 1043.3,228.5 1045.7,228.5 1048.1,228.6 1050.4,228.7 1052.8,228.8 1055.1,229.0 1057.5,229.3 1059.8,229.8 1062.2,230.4 1064.5,231.1 1066.9,231.9 1069.3,232.6 1071.6,233.4 1074.0,234.2 1076.3,234.8 1078.7,235.2 1081.0,235.3 1083.4,234.9 1085.8,234.2 1088.1,233.5 1090.5,232.8 1092.8,232.3 1095.2,232.2 1097.5,232.3 1099.9,232.7 1102.2,233.0 1104.6,233.4 1107.0,233.7 1109.3,233.9 1111.7,234.1 1114.0,234.2 1116.4,234.3 1118.7,234.3 1121.1,234.3 1123.5,234.3 1125.8,234.3 1128.2,234.3 1130.5,234.2 1132.9,234.0 1135.2,233.7 1137.6,233.4 1139.9,233.1 1142.3,232.7 1144.7,232.3 1147.0,232.0 1149.4,231.7 1151.7,231.4 1154.1,231.2 1154.9,231.1 1154.9,238.7 1154.1,238.8 1151.7,239.1 1149.4,239.4 1147.0,239.7 1144.7,240.1 1142.3,240.5 1139.9,240.9 1137.6,241.2 1135.2,241.6 1132.9,241.9 1130.5,242.1 1128.2,242.3 1125.8,242.3 1123.5,242.4 1121.1,242.4 1118.7,242.4 1116.4,242.4 1114.0,242.4 1111.7,242.3 1109.3,242.2 1107.0,242.0 1104.6,241.7 1102.2,241.4 1099.9,241.1 1097.5,240.8 1095.2,240.6 1092.8,240.8 1090.5,241.3 1088.1,242.0 1085.8,242.8 1083.4,243.5 1081.0,243.9 1078.7,243.9 1076.3,243.5 1074.0,242.9 1071.6,242.2 1069.3,241.4 1066.9,240.7 1064.5,240.0 1062.2,239.3 1059.8,238.7 1057.5,238.3 1055.1,238.0 1052.8,237.9 1050.4,237.8 1048.1,237.7 1045.7,237.7 1043.3,237.7 1041.0,237.8 1038.6,237.9 1036.3,238.2 1033.9,238.5 1031.6,238.8 1029.2,239.1" fill="#ededfc"/>
<line x1="1061.00" y1="263.80" x2="1061.00" y2="176.00" stroke="#000" stroke-width="1" stroke-dasharray="4.8 5.84"/>
<path d="M1029.2,234.7L1030.8,235.1L1032.3,235.5L1033.9,235.9L1035.5,236.3L1037.1,236.5L1038.6,236.7L1040.2,236.9L1041.8,236.9L1043.3,237.0L1044.9,237.0L1046.5,236.8L1048.1,236.6L1049.6,236.3L1051.2,235.9L1052.8,235.4L1054.3,234.9L1055.9,234.3L1057.5,233.7L1059.0,233.0L1060.6,232.0L1062.2,231.0L1063.8,229.9L1065.3,228.8L1066.9,227.7L1068.5,226.8L1070.0,225.8L1071.6,224.8L1073.2,223.9L1074.8,223.1L1076.3,222.5L1077.9,222.2L1079.5,222.2L1081.0,222.5L1082.6,223.0L1084.2,223.6L1085.8,224.2L1087.3,224.8L1088.9,225.3L1090.5,225.8L1092.0,226.1L1093.6,226.2L1095.2,226.2L1096.7,226.1L1098.3,226.1L1099.9,226.0L1101.5,225.8L1103.0,225.6L1104.6,225.3L1106.2,225.0L1107.7,224.7L1109.3,224.4L1110.9,224.2L1112.5,224.1L1114.0,224.1L1115.6,224.2L1117.2,224.4L1118.7,224.7L1120.3,225.0L1121.9,225.3L1123.5,225.6L1125.0,225.9L1126.6,226.2L1128.2,226.5L1129.7,226.8L1131.3,227.1L1132.9,227.5L1134.4,227.9L1136.0,228.2L1137.6,228.7L1139.2,229.1L1140.7,229.7L1142.3,230.2L1143.9,230.7L1145.4,231.1L1147.0,231.5L1148.6,231.9L1150.2,232.2L1151.7,232.5L1153.3,232.8L1154.9,233.0" fill="none" stroke="#ff0000" stroke-width="1.2"/>
<path d="M1029.2,234.4L1030.8,234.3L1032.3,234.0L1033.9,233.8L1035.5,233.6L1037.1,233.5L1038.6,233.3L1040.2,233.2L1041.8,233.1L1043.3,233.1L1044.9,233.1L1046.5,233.1L1048.1,233.1L1049.6,233.2L1051.2,233.3L1052.8,233.4L1054.3,233.5L1055.9,233.6L1057.5,233.8L1059.0,234.0L1060.6,234.4L1062.2,234.9L1063.8,235.3L1065.3,235.8L1066.9,236.3L1068.5,236.8L1070.0,237.3L1071.6,237.8L1073.2,238.3L1074.8,238.8L1076.3,239.2L1077.9,239.5L1079.5,239.7L1081.0,239.7L1082.6,239.4L1084.2,239.0L1085.8,238.5L1087.3,238.0L1088.9,237.5L1090.5,237.1L1092.0,236.7L1093.6,236.4L1095.2,236.4L1096.7,236.5L1098.3,236.6L1099.9,236.9L1101.5,237.1L1103.0,237.3L1104.6,237.5L1106.2,237.7L1107.7,237.9L1109.3,238.1L1110.9,238.2L1112.5,238.3L1114.0,238.3L1115.6,238.3L1117.2,238.3L1118.7,238.3L1120.3,238.3L1121.9,238.3L1123.5,238.3L1125.0,238.3L1126.6,238.3L1128.2,238.3L1129.7,238.2L1131.3,238.1L1132.9,237.9L1134.4,237.7L1136.0,237.5L1137.6,237.3L1139.2,237.1L1140.7,236.9L1142.3,236.6L1143.9,236.3L1145.4,236.1L1147.0,235.9L1148.6,235.6L1150.2,235.4L1151.7,235.2L1153.3,235.0L1154.9,234.9" fill="none" stroke="#0000ff" stroke-width="1.2"/>
<line x1="1029.20" y1="234.53" x2="1154.87" y2="234.53" stroke="#000" stroke-width="1" stroke-dasharray="1 1.3"/>
</g>
<path d="M1060.62,176.00v4M1060.62,263.80v-4M1092.04,176.00v4M1092.04,263.80v-4M1123.45,176.00v4M1123.45,263.80v-4M1029.50,190.63h2.5M1155.50,190.63h-2.5M1029.50,205.27h4M1155.50,205.27h-4M1029.50,219.90h2.5M1155.50,219.90h-2.5M1029.50,234.53h4M1155.50,234.53h-4M1029.50,249.17h2.5M1155.50,249.17h-2.5" stroke="#000" stroke-width="1" fill="none"/>
<path d="M1029.00,176.00H1156.00M1029.00,263.80H1156.00M1029.50,175.50V264.30M1155.50,175.50V264.30" stroke="#000" stroke-width="1" fill="none"/>
<text x="1139.20" y="196.40" class="pn">19</text>
<clipPath id="cA20"><rect x="87.20" y="263.80" width="125.67" height="87.80"/></clipPath>
<g clip-path="url(#cA20)">
<polygon points="87.2,316.5 89.6,316.5 91.9,316.5 94.3,316.6 96.6,316.6 99.0,316.7 101.3,316.9 103.7,317.4 106.1,317.9 108.4,318.0 110.8,318.0 113.1,317.9 115.5,317.8 117.8,317.8 120.2,317.8 122.5,317.9 124.9,318.0 127.3,318.1 129.6,318.3 132.0,318.4 134.3,318.6 136.7,318.8 139.0,319.0 141.4,318.9 143.8,318.5 146.1,317.6 148.5,316.4 150.8,315.0 153.2,313.6 155.5,312.5 157.9,311.8 160.2,311.2 162.6,310.9 165.0,310.7 167.3,310.7 169.7,310.8 172.0,310.8 174.4,310.9 176.7,311.1 179.1,311.3 181.5,311.7 183.8,312.1 186.2,312.5 188.5,312.9 190.9,313.3 193.2,313.7 195.6,314.1 197.9,314.5 200.3,314.9 202.7,315.2 205.0,315.6 207.4,316.0 209.7,316.3 212.1,316.6 212.9,316.7 212.9,326.0 212.1,325.9 209.7,325.6 207.4,325.2 205.0,324.7 202.7,324.3 200.3,323.9 197.9,323.4 195.6,322.9 193.2,322.5 190.9,322.0 188.5,321.5 186.2,321.1 183.8,320.6 181.5,320.1 179.1,319.7 176.7,319.3 174.4,319.2 172.0,319.2 169.7,319.3 167.3,319.5 165.0,319.6 162.6,319.9 160.2,320.5 157.9,321.2 155.5,322.1 153.2,323.3 150.8,324.9 148.5,326.4 146.1,327.6 143.8,328.6 141.4,329.1 139.0,329.2 136.7,329.1 134.3,329.0 132.0,328.9 129.6,328.8 127.3,328.7 124.9,328.7 122.5,328.6 120.2,328.6 117.8,328.7 115.5,328.8 113.1,328.9 110.8,329.0 108.4,329.1 106.1,329.0 103.7,328.6 101.3,328.2 99.0,328.0 96.6,328.1 94.3,328.1 91.9,328.1 89.6,328.2 87.2,328.2" fill="#fdeaea"/>
<polygon points="87.2,317.7 89.6,317.7 91.9,317.7 94.3,317.7 96.6,317.7 99.0,317.8 101.3,317.8 103.7,317.8 106.1,317.8 108.4,317.8 110.8,317.9 113.1,317.9 115.5,317.9 117.8,317.9 120.2,318.0 122.5,318.0 124.9,318.0 127.3,318.0 129.6,318.0 132.0,317.9 134.3,317.6 136.7,317.3 139.0,317.1 141.4,317.1 143.8,317.3 146.1,317.7 148.5,318.3 150.8,319.1 153.2,319.8 155.5,320.2 157.9,320.6 160.2,320.9 162.6,321.1 165.0,321.2 167.3,321.3 169.7,321.3 172.0,321.4 174.4,321.4 176.7,321.4 179.1,321.3 181.5,321.2 183.8,321.1 186.2,320.9 188.5,320.8 190.9,320.6 193.2,320.5 195.6,320.4 197.9,320.3 200.3,320.2 202.7,320.0 205.0,319.9 207.4,319.7 209.7,319.5 212.1,319.2 212.9,319.2 212.9,326.2 212.1,326.3 209.7,326.5 207.4,326.8 205.0,327.1 202.7,327.3 200.3,327.4 197.9,327.6 195.6,327.8 193.2,327.9 190.9,328.1 188.5,328.3 186.2,328.5 183.8,328.7 181.5,328.9 179.1,329.0 176.7,329.1 174.4,329.1 172.0,329.2 169.7,329.2 167.3,329.2 165.0,329.2 162.6,329.0 160.2,328.9 157.9,328.6 155.5,328.3 153.2,327.9 150.8,327.3 148.5,326.6 146.1,325.9 143.8,325.6 141.4,325.4 139.0,325.5 136.7,325.7 134.3,326.1 132.0,326.4 129.6,326.6 127.3,326.6 124.9,326.7 122.5,326.7 120.2,326.7 117.8,326.7 115.5,326.8 113.1,326.8 110.8,326.8 108.4,326.8 106.1,326.8 103.7,326.9 101.3,326.9 99.0,326.9 96.6,326.9 94.3,327.0 91.9,327.0 89.6,327.0 87.2,327.0" fill="#ededfc"/>
<line x1="118.65" y1="351.60" x2="118.65" y2="263.80" stroke="#000" stroke-width="1" stroke-dasharray="4.8 5.84"/>
<path d="M87.2,322.3L88.8,322.3L90.3,322.3L91.9,322.3L93.5,322.3L95.1,322.3L96.6,322.3L98.2,322.3L99.8,322.4L101.3,322.5L102.9,322.8L104.5,323.2L106.1,323.5L107.6,323.6L109.2,323.6L110.8,323.5L112.3,323.4L113.9,323.4L115.5,323.3L117.0,323.2L118.6,323.2L120.2,323.2L121.8,323.3L123.3,323.3L124.9,323.3L126.5,323.4L128.0,323.5L129.6,323.5L131.2,323.6L132.8,323.7L134.3,323.8L135.9,323.9L137.5,324.0L139.0,324.1L140.6,324.1L142.2,324.0L143.8,323.6L145.3,323.0L146.9,322.3L148.5,321.5L150.0,320.5L151.6,319.4L153.2,318.4L154.7,317.6L156.3,317.0L157.9,316.5L159.5,316.0L161.0,315.6L162.6,315.4L164.2,315.2L165.7,315.1L167.3,315.1L168.9,315.1L170.5,315.0L172.0,315.0L173.6,315.0L175.2,315.1L176.7,315.2L178.3,315.4L179.9,315.6L181.5,315.9L183.0,316.2L184.6,316.5L186.2,316.8L187.7,317.1L189.3,317.4L190.9,317.7L192.4,317.9L194.0,318.2L195.6,318.5L197.2,318.8L198.7,319.1L200.3,319.4L201.9,319.6L203.4,319.9L205.0,320.2L206.6,320.4L208.2,320.7L209.7,320.9L211.3,321.2L212.9,321.4" fill="none" stroke="#ff0000" stroke-width="1.2"/>
<path d="M87.2,322.3L88.8,322.3L90.3,322.3L91.9,322.3L93.5,322.3L95.1,322.3L96.6,322.3L98.2,322.3L99.8,322.3L101.3,322.3L102.9,322.3L104.5,322.3L106.1,322.3L107.6,322.3L109.2,322.3L110.8,322.3L112.3,322.3L113.9,322.3L115.5,322.3L117.0,322.3L118.6,322.3L120.2,322.3L121.8,322.3L123.3,322.3L124.9,322.3L126.5,322.3L128.0,322.3L129.6,322.3L131.2,322.2L132.8,322.1L134.3,321.8L135.9,321.6L137.5,321.4L139.0,321.3L140.6,321.2L142.2,321.3L143.8,321.4L145.3,321.6L146.9,321.9L148.5,322.4L150.0,323.0L151.6,323.5L153.2,323.9L154.7,324.2L156.3,324.4L157.9,324.6L159.5,324.8L161.0,324.9L162.6,325.1L164.2,325.2L165.7,325.2L167.3,325.3L168.9,325.3L170.5,325.3L172.0,325.3L173.6,325.3L175.2,325.3L176.7,325.2L178.3,325.2L179.9,325.1L181.5,325.1L183.0,324.9L184.6,324.8L186.2,324.7L187.7,324.6L189.3,324.5L190.9,324.3L192.4,324.3L194.0,324.2L195.6,324.1L197.2,324.0L198.7,323.9L200.3,323.8L201.9,323.7L203.4,323.6L205.0,323.5L206.6,323.3L208.2,323.2L209.7,323.0L211.3,322.8L212.9,322.7" fill="none" stroke="#0000ff" stroke-width="1.2"/>
<line x1="87.20" y1="322.33" x2="212.87" y2="322.33" stroke="#000" stroke-width="1" stroke-dasharray="1 1.3"/>
</g>
<path d="M118.62,263.80v4M118.62,351.60v-4M150.03,263.80v4M150.03,351.60v-4M181.45,263.80v4M181.45,351.60v-4M87.50,278.43h2.5M212.50,278.43h-2.5M87.50,293.07h4M212.50,293.07h-4M87.50,307.70h2.5M212.50,307.70h-2.5M87.50,322.33h4M212.50,322.33h-4M87.50,336.97h2.5M212.50,336.97h-2.5" stroke="#000" stroke-width="1" fill="none"/>
<path d="M87.00,263.80H213.00M87.00,351.60H213.00M87.50,263.30V352.10M212.50,263.30V352.10" stroke="#000" stroke-width="1" fill="none"/>
<text x="195.20" y="284.20" class="pn">20</text>
<clipPath id="cA21"><rect x="212.20" y="263.80" width="125.67" height="87.80"/></clipPath>
<g clip-path="url(#cA21)">
<polygon points="212.2,310.8 214.6,311.0 216.9,311.3 219.3,311.5 221.6,311.7 224.0,311.8 226.3,311.9 228.7,311.9 231.1,311.8 233.4,311.7 235.8,311.4 238.1,311.1 240.5,310.7 242.8,310.3 245.2,309.8 247.5,309.2 249.9,308.5 252.3,307.9 254.6,307.7 257.0,307.7 259.3,307.9 261.7,308.2 264.0,308.5 266.4,308.8 268.8,308.8 271.1,308.8 273.5,308.7 275.8,308.5 278.2,308.3 280.5,308.1 282.9,307.7 285.2,307.4 287.6,307.1 290.0,306.9 292.3,307.0 294.7,307.2 297.0,307.5 299.4,307.8 301.7,308.0 304.1,308.2 306.5,308.4 308.8,308.5 311.2,308.6 313.5,308.7 315.9,308.7 318.2,308.8 320.6,308.8 322.9,308.9 325.3,308.9 327.7,309.0 330.0,309.2 332.4,309.4 334.7,309.6 337.1,309.8 337.9,309.8 337.9,333.2 337.1,333.2 334.7,333.0 332.4,332.8 330.0,332.6 327.7,332.4 325.3,332.3 322.9,332.3 320.6,332.2 318.2,332.2 315.9,332.2 313.5,332.1 311.2,332.0 308.8,331.9 306.5,331.8 304.1,331.6 301.7,331.5 299.4,331.2 297.0,330.9 294.7,330.6 292.3,330.4 290.0,330.3 287.6,330.5 285.2,330.8 282.9,331.1 280.5,331.5 278.2,331.8 275.8,332.0 273.5,332.1 271.1,332.2 268.8,332.2 266.4,332.2 264.0,332.0 261.7,331.6 259.3,331.3 257.0,331.1 254.6,331.1 252.3,331.4 249.9,331.9 247.5,332.6 245.2,333.2 242.8,333.7 240.5,334.1 238.1,334.5 235.8,334.8 233.4,335.1 231.1,335.2 228.7,335.3 226.3,335.3 224.0,335.3 221.6,335.1 219.3,335.0 216.9,334.7 214.6,334.4 212.2,334.2" fill="#fdeaea"/>
<polygon points="212.2,314.9 214.6,314.7 216.9,314.5 219.3,314.2 221.6,314.1 224.0,314.0 226.3,313.9 228.7,313.9 231.1,313.9 233.4,314.0 235.8,314.2 238.1,314.4 240.5,314.5 242.8,314.7 245.2,314.9 247.5,315.0 249.9,315.2 252.3,315.4 254.6,315.5 257.0,315.6 259.3,315.6 261.7,315.5 264.0,315.3 266.4,315.1 268.8,314.9 271.1,314.8 273.5,314.8 275.8,314.9 278.2,315.0 280.5,315.2 282.9,315.4 285.2,315.7 287.6,316.0 290.0,316.4 292.3,316.6 294.7,316.8 297.0,316.9 299.4,316.9 301.7,316.8 304.1,316.7 306.5,316.5 308.8,316.2 311.2,315.8 313.5,315.5 315.9,315.3 318.2,315.2 320.6,315.2 322.9,315.1 325.3,315.1 327.7,315.1 330.0,315.0 332.4,315.0 334.7,315.0 337.1,315.0 337.9,315.0 337.9,329.7 337.1,329.7 334.7,329.7 332.4,329.7 330.0,329.7 327.7,329.7 325.3,329.7 322.9,329.8 320.6,329.8 318.2,329.9 315.9,329.9 313.5,330.1 311.2,330.4 308.8,330.8 306.5,331.1 304.1,331.3 301.7,331.4 299.4,331.5 297.0,331.5 294.7,331.5 292.3,331.3 290.0,331.0 287.6,330.7 285.2,330.3 282.9,330.1 280.5,329.8 278.2,329.6 275.8,329.5 273.5,329.4 271.1,329.4 268.8,329.5 266.4,329.7 264.0,329.9 261.7,330.1 259.3,330.2 257.0,330.2 254.6,330.1 252.3,330.0 249.9,329.8 247.5,329.7 245.2,329.5 242.8,329.3 240.5,329.2 238.1,329.0 235.8,328.8 233.4,328.7 231.1,328.6 228.7,328.5 226.3,328.5 224.0,328.6 221.6,328.7 219.3,328.9 216.9,329.1 214.6,329.3 212.2,329.5" fill="#ededfc"/>
<line x1="243.65" y1="351.60" x2="243.65" y2="263.80" stroke="#000" stroke-width="1" stroke-dasharray="4.8 5.84"/>
<path d="M212.2,322.4L213.8,322.6L215.3,322.8L216.9,323.0L218.5,323.2L220.1,323.3L221.6,323.4L223.2,323.5L224.8,323.6L226.3,323.6L227.9,323.6L229.5,323.6L231.1,323.6L232.6,323.4L234.2,323.3L235.8,323.1L237.3,322.9L238.9,322.7L240.5,322.4L242.0,322.2L243.6,321.9L245.2,321.5L246.8,321.1L248.3,320.6L249.9,320.2L251.5,319.8L253.0,319.5L254.6,319.3L256.2,319.3L257.8,319.4L259.3,319.6L260.9,319.8L262.5,320.1L264.0,320.3L265.6,320.4L267.2,320.5L268.8,320.5L270.3,320.5L271.9,320.5L273.5,320.4L275.0,320.3L276.6,320.2L278.2,320.1L279.7,319.9L281.3,319.7L282.9,319.4L284.5,319.2L286.0,318.9L287.6,318.8L289.2,318.6L290.7,318.6L292.3,318.6L293.9,318.8L295.5,319.0L297.0,319.2L298.6,319.4L300.2,319.6L301.7,319.8L303.3,319.9L304.9,320.0L306.5,320.1L308.0,320.2L309.6,320.2L311.2,320.3L312.7,320.4L314.3,320.4L315.9,320.5L317.4,320.5L319.0,320.5L320.6,320.5L322.2,320.5L323.7,320.6L325.3,320.6L326.9,320.7L328.4,320.8L330.0,320.9L331.6,321.0L333.2,321.1L334.7,321.3L336.3,321.4L337.9,321.5" fill="none" stroke="#ff0000" stroke-width="1.2"/>
<path d="M212.2,322.3L213.8,322.1L215.3,321.9L216.9,321.8L218.5,321.6L220.1,321.5L221.6,321.4L223.2,321.3L224.8,321.2L226.3,321.2L227.9,321.2L229.5,321.2L231.1,321.2L232.6,321.3L234.2,321.4L235.8,321.5L237.3,321.6L238.9,321.7L240.5,321.9L242.0,322.0L243.6,322.1L245.2,322.2L246.8,322.3L248.3,322.4L249.9,322.5L251.5,322.6L253.0,322.7L254.6,322.8L256.2,322.9L257.8,322.9L259.3,322.9L260.9,322.8L262.5,322.7L264.0,322.6L265.6,322.5L267.2,322.3L268.8,322.2L270.3,322.1L271.9,322.1L273.5,322.1L275.0,322.1L276.6,322.2L278.2,322.3L279.7,322.4L281.3,322.6L282.9,322.7L284.5,322.9L286.0,323.1L287.6,323.3L289.2,323.6L290.7,323.8L292.3,324.0L293.9,324.1L295.5,324.2L297.0,324.2L298.6,324.2L300.2,324.2L301.7,324.1L303.3,324.1L304.9,324.0L306.5,323.8L308.0,323.6L309.6,323.4L311.2,323.1L312.7,322.8L314.3,322.7L315.9,322.6L317.4,322.6L319.0,322.5L320.6,322.5L322.2,322.5L323.7,322.4L325.3,322.4L326.9,322.4L328.4,322.4L330.0,322.4L331.6,322.4L333.2,322.3L334.7,322.3L336.3,322.3L337.9,322.3" fill="none" stroke="#0000ff" stroke-width="1.2"/>
<line x1="212.20" y1="322.33" x2="337.87" y2="322.33" stroke="#000" stroke-width="1" stroke-dasharray="1 1.3"/>
</g>
<path d="M243.62,263.80v4M243.62,351.60v-4M275.03,263.80v4M275.03,351.60v-4M306.45,263.80v4M306.45,351.60v-4M213.50,278.43h2.5M338.50,278.43h-2.5M213.50,293.07h4M338.50,293.07h-4M213.50,307.70h2.5M338.50,307.70h-2.5M213.50,322.33h4M338.50,322.33h-4M213.50,336.97h2.5M338.50,336.97h-2.5" stroke="#000" stroke-width="1" fill="none"/>
<path d="M213.00,263.80H339.00M213.00,351.60H339.00M213.50,263.30V352.10M338.50,263.30V352.10" stroke="#000" stroke-width="1" fill="none"/>
<text x="321.20" y="284.20" class="pn">21</text>
<clipPath id="cA22"><rect x="338.20" y="263.80" width="125.67" height="87.80"/></clipPath>
<g clip-path="url(#cA22)">
<polygon points="338.2,311.6 340.6,311.8 342.9,312.1 345.3,312.4 347.6,312.7 350.0,312.9 352.3,313.2 354.7,313.4 357.1,313.7 359.4,313.8 361.8,313.8 364.1,313.5 366.5,312.9 368.8,312.3 371.2,311.6 373.5,310.9 375.9,310.2 378.3,309.5 380.6,308.8 383.0,308.4 385.3,308.2 387.7,308.5 390.0,309.5 392.4,311.0 394.8,312.8 397.1,314.1 399.5,314.9 401.8,315.2 404.2,315.1 406.5,314.7 408.9,314.3 411.2,314.0 413.6,313.9 416.0,313.9 418.3,313.9 420.7,313.9 423.0,313.8 425.4,313.5 427.7,313.0 430.1,312.6 432.5,312.3 434.8,312.1 437.2,312.0 439.5,311.9 441.9,311.9 444.2,311.8 446.6,311.8 448.9,311.7 451.3,311.7 453.7,311.7 456.0,311.6 458.4,311.6 460.7,311.6 463.1,311.5 463.9,311.5 463.9,333.7 463.1,333.7 460.7,333.7 458.4,333.7 456.0,333.6 453.7,333.6 451.3,333.6 448.9,333.5 446.6,333.5 444.2,333.4 441.9,333.4 439.5,333.4 437.2,333.4 434.8,333.5 432.5,333.6 430.1,333.8 427.7,334.1 425.4,334.5 423.0,334.8 420.7,334.8 418.3,334.7 416.0,334.7 413.6,334.6 411.2,334.6 408.9,334.7 406.5,334.6 404.2,334.3 401.8,333.6 399.5,332.5 397.1,330.8 394.8,328.6 392.4,325.9 390.0,323.5 387.7,321.8 385.3,321.0 383.0,321.2 380.6,322.1 378.3,323.2 375.9,324.3 373.5,325.5 371.2,326.7 368.8,327.9 366.5,329.0 364.1,330.0 361.8,330.8 359.4,331.3 357.1,331.6 354.7,331.8 352.3,332.0 350.0,332.3 347.6,332.5 345.3,332.7 342.9,332.8 340.6,333.0 338.2,333.1" fill="#fdeaea"/>
<polygon points="338.2,316.5 340.6,316.5 342.9,316.5 345.3,316.5 347.6,316.5 350.0,316.5 352.3,316.5 354.7,316.5 357.1,316.5 359.4,316.5 361.8,316.5 364.1,316.5 366.5,316.6 368.8,316.8 371.2,317.0 373.5,317.3 375.9,317.7 378.3,318.1 380.6,318.5 383.0,318.9 385.3,319.2 387.7,319.3 390.0,319.0 392.4,318.3 394.8,317.4 397.1,316.3 399.5,315.3 401.8,314.5 404.2,313.8 406.5,313.5 408.9,313.5 411.2,313.6 413.6,313.7 416.0,313.9 418.3,314.0 420.7,314.1 423.0,314.2 425.4,314.3 427.7,314.5 430.1,314.9 432.5,315.2 434.8,315.6 437.2,315.8 439.5,316.0 441.9,316.1 444.2,316.3 446.6,316.4 448.9,316.4 451.3,316.5 453.7,316.5 456.0,316.5 458.4,316.5 460.7,316.5 463.1,316.5 463.9,316.5 463.9,328.2 463.1,328.2 460.7,328.2 458.4,328.2 456.0,328.2 453.7,328.2 451.3,328.2 448.9,328.2 446.6,328.1 444.2,328.0 441.9,327.9 439.5,327.7 437.2,327.5 434.8,327.3 432.5,326.9 430.1,326.6 427.7,326.2 425.4,326.0 423.0,325.9 420.7,325.8 418.3,325.7 416.0,325.6 413.6,325.4 411.2,325.3 408.9,325.2 406.5,325.2 404.2,325.6 401.8,326.2 399.5,327.1 397.1,328.0 394.8,329.1 392.4,330.0 390.0,330.7 387.7,331.0 385.3,330.9 383.0,330.6 380.6,330.2 378.3,329.8 375.9,329.4 373.5,329.0 371.2,328.7 368.8,328.5 366.5,328.3 364.1,328.2 361.8,328.2 359.4,328.2 357.1,328.2 354.7,328.2 352.3,328.2 350.0,328.2 347.6,328.2 345.3,328.2 342.9,328.2 340.6,328.2 338.2,328.2" fill="#ededfc"/>
<line x1="369.65" y1="351.60" x2="369.65" y2="263.80" stroke="#000" stroke-width="1" stroke-dasharray="4.8 5.84"/>
<path d="M338.2,322.4L339.8,322.4L341.3,322.4L342.9,322.5L344.5,322.5L346.1,322.5L347.6,322.6L349.2,322.6L350.8,322.6L352.3,322.6L353.9,322.6L355.5,322.6L357.1,322.6L358.6,322.6L360.2,322.5L361.8,322.3L363.3,322.0L364.9,321.5L366.5,321.0L368.0,320.4L369.6,319.8L371.2,319.2L372.8,318.6L374.3,317.9L375.9,317.2L377.5,316.6L379.0,316.0L380.6,315.4L382.2,314.9L383.8,314.6L385.3,314.5L386.9,314.8L388.5,315.4L390.0,316.4L391.6,317.7L393.2,319.2L394.8,320.8L396.3,322.0L397.9,323.0L399.5,323.7L401.0,324.3L402.6,324.6L404.2,324.7L405.7,324.7L407.3,324.6L408.9,324.5L410.5,324.4L412.0,324.3L413.6,324.3L415.2,324.3L416.7,324.3L418.3,324.3L419.9,324.3L421.5,324.4L423.0,324.3L424.6,324.1L426.2,323.9L427.7,323.6L429.3,323.3L430.9,323.1L432.5,322.9L434.0,322.8L435.6,322.8L437.2,322.7L438.7,322.7L440.3,322.6L441.9,322.6L443.4,322.6L445.0,322.6L446.6,322.6L448.2,322.6L449.7,322.6L451.3,322.6L452.9,322.6L454.4,322.6L456.0,322.6L457.6,322.6L459.2,322.6L460.7,322.6L462.3,322.6L463.9,322.6" fill="none" stroke="#ff0000" stroke-width="1.2"/>
<path d="M338.2,322.3L339.8,322.3L341.3,322.3L342.9,322.3L344.5,322.3L346.1,322.3L347.6,322.3L349.2,322.3L350.8,322.3L352.3,322.3L353.9,322.3L355.5,322.3L357.1,322.3L358.6,322.3L360.2,322.3L361.8,322.3L363.3,322.4L364.9,322.4L366.5,322.5L368.0,322.6L369.6,322.7L371.2,322.8L372.8,323.0L374.3,323.3L375.9,323.5L377.5,323.8L379.0,324.1L380.6,324.3L382.2,324.6L383.8,324.9L385.3,325.1L386.9,325.2L388.5,325.1L390.0,324.9L391.6,324.5L393.2,323.9L394.8,323.3L396.3,322.5L397.9,321.8L399.5,321.2L401.0,320.6L402.6,320.1L404.2,319.7L405.7,319.4L407.3,319.3L408.9,319.3L410.5,319.4L412.0,319.5L413.6,319.6L415.2,319.7L416.7,319.8L418.3,319.9L419.9,319.9L421.5,320.0L423.0,320.0L424.6,320.1L426.2,320.2L427.7,320.4L429.3,320.6L430.9,320.8L432.5,321.1L434.0,321.3L435.6,321.5L437.2,321.7L438.7,321.8L440.3,321.9L441.9,322.0L443.4,322.1L445.0,322.2L446.6,322.2L448.2,322.3L449.7,322.3L451.3,322.3L452.9,322.3L454.4,322.3L456.0,322.3L457.6,322.3L459.2,322.3L460.7,322.3L462.3,322.3L463.9,322.3" fill="none" stroke="#0000ff" stroke-width="1.2"/>
<line x1="338.20" y1="322.33" x2="463.87" y2="322.33" stroke="#000" stroke-width="1" stroke-dasharray="1 1.3"/>
</g>
<path d="M369.62,263.80v4M369.62,351.60v-4M401.03,263.80v4M401.03,351.60v-4M432.45,263.80v4M432.45,351.60v-4M338.50,278.43h2.5M464.50,278.43h-2.5M338.50,293.07h4M464.50,293.07h-4M338.50,307.70h2.5M464.50,307.70h-2.5M338.50,322.33h4M464.50,322.33h-4M338.50,336.97h2.5M464.50,336.97h-2.5" stroke="#000" stroke-width="1" fill="none"/>
<path d="M338.00,263.80H465.00M338.00,351.60H465.00M338.50,263.30V352.10M464.50,263.30V352.10" stroke="#000" stroke-width="1" fill="none"/>
<text x="447.60" y="284.20" class="pn">22</text>
<clipPath id="cA23"><rect x="967.20" y="263.80" width="125.67" height="87.80"/></clipPath>
<g clip-path="url(#cA23)">
<polygon points="967.2,316.3 969.6,317.0 971.9,317.8 974.3,318.5 976.6,319.0 979.0,319.4 981.3,319.6 983.7,319.6 986.1,319.5 988.4,319.0 990.8,318.4 993.1,317.5 995.5,316.5 997.8,315.3 1000.2,313.6 1002.5,311.3 1004.9,308.6 1007.3,305.9 1009.6,303.2 1012.0,300.4 1014.3,298.0 1016.7,296.3 1019.0,295.9 1021.4,296.7 1023.8,298.3 1026.1,300.1 1028.5,302.3 1030.8,304.4 1033.2,306.1 1035.5,307.5 1037.9,308.2 1040.2,308.1 1042.6,307.6 1045.0,307.0 1047.3,306.5 1049.7,306.0 1052.0,305.5 1054.4,305.2 1056.7,305.2 1059.1,305.2 1061.5,305.3 1063.8,305.5 1066.2,305.7 1068.5,305.9 1070.9,306.2 1073.2,306.7 1075.6,307.4 1077.9,308.2 1080.3,309.2 1082.7,310.5 1085.0,311.7 1087.4,312.6 1089.7,313.2 1092.1,313.6 1092.9,313.6 1092.9,326.5 1092.1,326.5 1089.7,326.2 1087.4,325.8 1085.0,325.0 1082.7,323.9 1080.3,322.7 1077.9,321.8 1075.6,321.0 1073.2,320.5 1070.9,320.1 1068.5,319.9 1066.2,319.8 1063.8,319.7 1061.5,319.7 1059.1,319.7 1056.7,319.7 1054.4,319.7 1052.0,319.9 1049.7,320.1 1047.3,320.4 1045.0,320.7 1042.6,321.1 1040.2,321.3 1037.9,321.2 1035.5,320.3 1033.2,318.7 1030.8,316.7 1028.5,314.4 1026.1,312.1 1023.8,310.0 1021.4,308.2 1019.0,307.2 1016.7,307.5 1014.3,309.2 1012.0,311.8 1009.6,314.6 1007.3,317.4 1004.9,320.2 1002.5,323.0 1000.2,325.3 997.8,327.1 995.5,328.4 993.1,329.5 990.8,330.4 988.4,331.2 986.1,331.7 983.7,331.9 981.3,331.9 979.0,331.8 976.6,331.6 974.3,331.1 971.9,330.5 969.6,329.8 967.2,329.1" fill="#fdeaea"/>
<polygon points="967.2,319.5 969.6,319.0 971.9,318.3 974.3,317.8 976.6,317.4 979.0,317.0 981.3,316.8 983.7,316.7 986.1,316.7 988.4,316.8 990.8,317.0 993.1,317.3 995.5,317.7 997.8,318.1 1000.2,318.8 1002.5,319.9 1004.9,321.2 1007.3,322.7 1009.6,324.2 1012.0,325.8 1014.3,327.6 1016.7,329.1 1019.0,330.0 1021.4,329.8 1023.8,328.4 1026.1,326.5 1028.5,324.7 1030.8,322.9 1033.2,321.8 1035.5,321.4 1037.9,321.5 1040.2,321.8 1042.6,322.1 1045.0,322.5 1047.3,323.0 1049.7,323.4 1052.0,323.8 1054.4,324.2 1056.7,324.5 1059.1,324.7 1061.5,324.9 1063.8,325.0 1066.2,325.2 1068.5,325.2 1070.9,325.2 1073.2,325.1 1075.6,324.8 1077.9,324.5 1080.3,324.1 1082.7,323.7 1085.0,323.0 1087.4,322.3 1089.7,321.5 1092.1,320.8 1092.9,320.6 1092.9,325.9 1092.1,326.0 1089.7,326.8 1087.4,327.6 1085.0,328.3 1082.7,328.9 1080.3,329.4 1077.9,329.8 1075.6,330.1 1073.2,330.3 1070.9,330.5 1068.5,330.5 1066.2,330.4 1063.8,330.3 1061.5,330.1 1059.1,329.9 1056.7,329.7 1054.4,329.5 1052.0,329.1 1049.7,328.7 1047.3,328.2 1045.0,327.8 1042.6,327.4 1040.2,327.1 1037.9,326.7 1035.5,326.6 1033.2,327.0 1030.8,328.2 1028.5,329.9 1026.1,331.8 1023.8,333.7 1021.4,335.0 1019.0,335.2 1016.7,334.4 1014.3,332.8 1012.0,331.1 1009.6,329.5 1007.3,328.0 1004.9,326.5 1002.5,325.2 1000.2,324.1 997.8,323.4 995.5,322.9 993.1,322.5 990.8,322.2 988.4,322.0 986.1,321.9 983.7,322.0 981.3,322.1 979.0,322.3 976.6,322.6 974.3,323.1 971.9,323.6 969.6,324.2 967.2,324.7" fill="#ededfc"/>
<line x1="999.00" y1="351.60" x2="999.00" y2="263.80" stroke="#000" stroke-width="1" stroke-dasharray="4.8 5.84"/>
<path d="M967.2,322.6L968.8,323.1L970.3,323.7L971.9,324.2L973.5,324.6L975.1,325.0L976.6,325.3L978.2,325.5L979.8,325.7L981.3,325.8L982.9,325.8L984.5,325.8L986.1,325.6L987.6,325.3L989.2,324.9L990.8,324.4L992.3,323.8L993.9,323.2L995.5,322.4L997.0,321.6L998.6,320.7L1000.2,319.6L1001.8,318.0L1003.3,316.3L1004.9,314.4L1006.5,312.6L1008.0,310.8L1009.6,308.9L1011.2,307.0L1012.8,305.1L1014.3,303.5L1015.9,302.2L1017.5,301.5L1019.0,301.4L1020.6,301.9L1022.2,302.9L1023.8,304.1L1025.3,305.4L1026.9,306.8L1028.5,308.3L1030.0,309.9L1031.6,311.3L1033.2,312.5L1034.7,313.5L1036.3,314.3L1037.9,314.8L1039.5,314.8L1041.0,314.7L1042.6,314.3L1044.2,314.0L1045.7,313.7L1047.3,313.4L1048.9,313.2L1050.5,312.9L1052.0,312.7L1053.6,312.5L1055.2,312.4L1056.7,312.4L1058.3,312.4L1059.9,312.4L1061.5,312.5L1063.0,312.6L1064.6,312.6L1066.2,312.7L1067.7,312.8L1069.3,312.9L1070.9,313.1L1072.4,313.4L1074.0,313.7L1075.6,314.2L1077.2,314.7L1078.7,315.3L1080.3,315.9L1081.9,316.8L1083.4,317.6L1085.0,318.4L1086.6,319.0L1088.2,319.4L1089.7,319.8L1091.3,320.0L1092.9,320.1" fill="none" stroke="#ff0000" stroke-width="1.2"/>
<path d="M967.2,322.1L968.8,321.8L970.3,321.4L971.9,321.0L973.5,320.6L975.1,320.3L976.6,320.0L978.2,319.8L979.8,319.6L981.3,319.4L982.9,319.3L984.5,319.3L986.1,319.3L987.6,319.3L989.2,319.4L990.8,319.6L992.3,319.8L993.9,320.0L995.5,320.3L997.0,320.6L998.6,320.9L1000.2,321.4L1001.8,322.1L1003.3,322.9L1004.9,323.9L1006.5,324.8L1008.0,325.8L1009.6,326.8L1011.2,327.9L1012.8,329.1L1014.3,330.2L1015.9,331.3L1017.5,332.2L1019.0,332.7L1020.6,332.8L1022.2,332.2L1023.8,331.1L1025.3,329.8L1026.9,328.5L1028.5,327.3L1030.0,326.1L1031.6,325.0L1033.2,324.3L1034.7,324.0L1036.3,323.9L1037.9,324.1L1039.5,324.3L1041.0,324.5L1042.6,324.8L1044.2,325.0L1045.7,325.3L1047.3,325.6L1048.9,325.9L1050.5,326.2L1052.0,326.5L1053.6,326.7L1055.2,326.9L1056.7,327.1L1058.3,327.2L1059.9,327.4L1061.5,327.5L1063.0,327.6L1064.6,327.7L1066.2,327.8L1067.7,327.8L1069.3,327.9L1070.9,327.8L1072.4,327.8L1074.0,327.6L1075.6,327.5L1077.2,327.3L1078.7,327.0L1080.3,326.8L1081.9,326.5L1083.4,326.1L1085.0,325.7L1086.6,325.2L1088.2,324.7L1089.7,324.1L1091.3,323.6L1092.9,323.2" fill="none" stroke="#0000ff" stroke-width="1.2"/>
<line x1="967.20" y1="322.33" x2="1092.87" y2="322.33" stroke="#000" stroke-width="1" stroke-dasharray="1 1.3"/>
</g>
<path d="M998.62,263.80v4M998.62,351.60v-4M1030.04,263.80v4M1030.04,351.60v-4M1061.45,263.80v4M1061.45,351.60v-4M967.50,278.43h2.5M1093.50,278.43h-2.5M967.50,293.07h4M1093.50,293.07h-4M967.50,307.70h2.5M1093.50,307.70h-2.5M967.50,322.33h4M1093.50,322.33h-4M967.50,336.97h2.5M1093.50,336.97h-2.5" stroke="#000" stroke-width="1" fill="none"/>
<path d="M967.00,263.80H1094.00M967.00,351.60H1094.00M967.50,263.30V352.10M1093.50,263.30V352.10" stroke="#000" stroke-width="1" fill="none"/>
<text x="1076.35" y="284.20" class="pn">23</text>
<clipPath id="cA24"><rect x="1093.20" y="263.80" width="125.67" height="87.80"/></clipPath>
<g clip-path="url(#cA24)">
<polygon points="1093.2,317.3 1095.6,317.9 1097.9,318.5 1100.3,319.0 1102.6,319.4 1105.0,319.7 1107.3,319.9 1109.7,320.1 1112.1,320.1 1114.4,320.0 1116.8,319.7 1119.1,319.2 1121.5,318.6 1123.8,317.9 1126.2,316.9 1128.5,315.5 1130.9,313.8 1133.3,311.6 1135.6,309.4 1138.0,307.4 1140.3,305.9 1142.7,304.8 1145.0,304.0 1147.4,303.6 1149.8,303.3 1152.1,302.9 1154.5,302.4 1156.8,301.8 1159.2,301.0 1161.5,300.3 1163.9,299.7 1166.2,299.1 1168.6,298.6 1171.0,298.2 1173.3,297.8 1175.7,297.5 1178.0,297.4 1180.4,297.6 1182.7,298.1 1185.1,299.2 1187.5,300.8 1189.8,302.4 1192.2,303.6 1194.5,304.5 1196.9,305.3 1199.2,306.1 1201.6,307.1 1203.9,308.2 1206.3,309.4 1208.7,310.6 1211.0,311.7 1213.4,312.7 1215.7,313.6 1218.1,314.4 1218.9,314.6 1218.9,325.2 1218.1,325.1 1215.7,324.6 1213.4,323.9 1211.0,323.2 1208.7,322.4 1206.3,321.5 1203.9,320.6 1201.6,319.7 1199.2,318.7 1196.9,317.7 1194.5,316.6 1192.2,315.4 1189.8,313.8 1187.5,311.9 1185.1,310.0 1182.7,308.6 1180.4,307.7 1178.0,307.2 1175.7,307.1 1173.3,307.2 1171.0,307.6 1168.6,308.1 1166.2,308.6 1163.9,309.2 1161.5,309.9 1159.2,310.6 1156.8,311.4 1154.5,312.1 1152.1,312.6 1149.8,313.0 1147.4,313.3 1145.0,313.8 1142.7,314.6 1140.3,315.8 1138.0,317.3 1135.6,319.3 1133.3,321.6 1130.9,323.8 1128.5,325.6 1126.2,327.0 1123.8,328.0 1121.5,328.8 1119.1,329.4 1116.8,329.9 1114.4,330.2 1112.1,330.3 1109.7,330.4 1107.3,330.3 1105.0,330.1 1102.6,329.8 1100.3,329.4 1097.9,329.0 1095.6,328.4 1093.2,327.9" fill="#fdeaea"/>
<polygon points="1093.2,315.5 1095.6,315.1 1097.9,314.7 1100.3,314.3 1102.6,314.0 1105.0,313.9 1107.3,313.8 1109.7,313.9 1112.1,314.0 1114.4,314.0 1116.8,314.1 1119.1,314.2 1121.5,314.2 1123.8,314.3 1126.2,314.6 1128.5,315.2 1130.9,316.0 1133.3,317.0 1135.6,318.2 1138.0,319.4 1140.3,320.5 1142.7,321.3 1145.0,321.6 1147.4,321.7 1149.8,321.6 1152.1,321.5 1154.5,321.5 1156.8,321.8 1159.2,322.4 1161.5,323.1 1163.9,323.9 1166.2,324.7 1168.6,325.3 1171.0,325.8 1173.3,326.3 1175.7,326.8 1178.0,327.1 1180.4,327.2 1182.7,327.0 1185.1,326.6 1187.5,326.0 1189.8,325.4 1192.2,324.9 1194.5,324.4 1196.9,324.0 1199.2,323.5 1201.6,323.1 1203.9,322.6 1206.3,322.1 1208.7,321.5 1211.0,320.9 1213.4,320.2 1215.7,319.5 1218.1,318.9 1218.9,318.8 1218.9,328.2 1218.1,328.3 1215.7,328.9 1213.4,329.7 1211.0,330.4 1208.7,331.0 1206.3,331.6 1203.9,332.2 1201.6,332.7 1199.2,333.2 1196.9,333.7 1194.5,334.2 1192.2,334.7 1189.8,335.2 1187.5,335.9 1185.1,336.5 1182.7,337.0 1180.4,337.2 1178.0,337.1 1175.7,336.8 1173.3,336.4 1171.0,335.9 1168.6,335.4 1166.2,334.8 1163.9,334.1 1161.5,333.4 1159.2,332.7 1156.8,332.1 1154.5,331.9 1152.1,331.9 1149.8,332.0 1147.4,332.1 1145.0,332.2 1142.7,331.9 1140.3,331.2 1138.0,330.3 1135.6,329.2 1133.3,328.1 1130.9,327.2 1128.5,326.6 1126.2,326.1 1123.8,326.0 1121.5,326.0 1119.1,326.1 1116.8,326.2 1114.4,326.3 1112.1,326.3 1109.7,326.4 1107.3,326.5 1105.0,326.7 1102.6,326.9 1100.3,327.4 1097.9,327.9 1095.6,328.4 1093.2,328.9" fill="#ededfc"/>
<line x1="1125.00" y1="351.60" x2="1125.00" y2="263.80" stroke="#000" stroke-width="1" stroke-dasharray="4.8 5.84"/>
<path d="M1093.2,322.5L1094.8,322.9L1096.3,323.3L1097.9,323.7L1099.5,324.1L1101.1,324.4L1102.6,324.6L1104.2,324.8L1105.8,325.0L1107.3,325.1L1108.9,325.2L1110.5,325.2L1112.1,325.2L1113.6,325.2L1115.2,325.0L1116.8,324.8L1118.3,324.5L1119.9,324.1L1121.5,323.7L1123.0,323.2L1124.6,322.7L1126.2,322.0L1127.8,321.1L1129.3,320.1L1130.9,318.8L1132.5,317.4L1134.0,315.9L1135.6,314.3L1137.2,312.9L1138.8,311.8L1140.3,310.8L1141.9,310.0L1143.5,309.3L1145.0,308.9L1146.6,308.6L1148.2,308.3L1149.8,308.1L1151.3,307.9L1152.9,307.6L1154.5,307.3L1156.0,306.8L1157.6,306.3L1159.2,305.8L1160.7,305.3L1162.3,304.8L1163.9,304.4L1165.5,304.1L1167.0,303.7L1168.6,303.3L1170.2,303.0L1171.7,302.7L1173.3,302.5L1174.9,302.3L1176.5,302.2L1178.0,302.2L1179.6,302.4L1181.2,302.8L1182.7,303.3L1184.3,304.1L1185.9,305.1L1187.5,306.4L1189.0,307.6L1190.6,308.7L1192.2,309.6L1193.7,310.3L1195.3,310.9L1196.9,311.5L1198.4,312.1L1200.0,312.7L1201.6,313.4L1203.2,314.1L1204.7,314.8L1206.3,315.5L1207.9,316.1L1209.4,316.8L1211.0,317.4L1212.6,318.0L1214.2,318.6L1215.7,319.1L1217.3,319.6L1218.9,319.9" fill="none" stroke="#ff0000" stroke-width="1.2"/>
<path d="M1093.2,322.2L1094.8,321.9L1096.3,321.6L1097.9,321.3L1099.5,321.0L1101.1,320.7L1102.6,320.5L1104.2,320.3L1105.8,320.2L1107.3,320.2L1108.9,320.1L1110.5,320.1L1112.1,320.1L1113.6,320.1L1115.2,320.1L1116.8,320.1L1118.3,320.1L1119.9,320.1L1121.5,320.1L1123.0,320.1L1124.6,320.2L1126.2,320.3L1127.8,320.6L1129.3,321.1L1130.9,321.6L1132.5,322.2L1134.0,322.9L1135.6,323.6L1137.2,324.5L1138.8,325.2L1140.3,325.9L1141.9,326.5L1143.5,326.8L1145.0,326.9L1146.6,326.9L1148.2,326.9L1149.8,326.8L1151.3,326.7L1152.9,326.6L1154.5,326.7L1156.0,326.8L1157.6,327.1L1159.2,327.5L1160.7,328.0L1162.3,328.5L1163.9,329.0L1165.5,329.5L1167.0,330.0L1168.6,330.4L1170.2,330.7L1171.7,331.0L1173.3,331.4L1174.9,331.7L1176.5,331.9L1178.0,332.1L1179.6,332.2L1181.2,332.2L1182.7,332.0L1184.3,331.7L1185.9,331.4L1187.5,330.9L1189.0,330.5L1190.6,330.1L1192.2,329.8L1193.7,329.4L1195.3,329.1L1196.9,328.8L1198.4,328.5L1200.0,328.2L1201.6,327.9L1203.2,327.6L1204.7,327.2L1206.3,326.9L1207.9,326.5L1209.4,326.0L1211.0,325.6L1212.6,325.2L1214.2,324.7L1215.7,324.2L1217.3,323.8L1218.9,323.4" fill="none" stroke="#0000ff" stroke-width="1.2"/>
<line x1="1093.20" y1="322.33" x2="1218.87" y2="322.33" stroke="#000" stroke-width="1" stroke-dasharray="1 1.3"/>
</g>
<path d="M1124.62,263.80v4M1124.62,351.60v-4M1156.04,263.80v4M1156.04,351.60v-4M1187.45,263.80v4M1187.45,351.60v-4M1093.50,278.43h2.5M1218.50,278.43h-2.5M1093.50,293.07h4M1218.50,293.07h-4M1093.50,307.70h2.5M1218.50,307.70h-2.5M1093.50,322.33h4M1218.50,322.33h-4M1093.50,336.97h2.5M1218.50,336.97h-2.5" stroke="#000" stroke-width="1" fill="none"/>
<path d="M1093.00,263.80H1219.00M1093.00,351.60H1219.00M1093.50,263.30V352.10M1218.50,263.30V352.10" stroke="#000" stroke-width="1" fill="none"/>
<text x="1201.95" y="284.20" class="pn">24</text>
<clipPath id="cA25"><rect x="1218.20" y="263.80" width="125.67" height="87.80"/></clipPath>
<g clip-path="url(#cA25)">
<polygon points="1218.2,311.0 1220.6,311.0 1222.9,311.1 1225.3,311.3 1227.6,311.4 1230.0,311.5 1232.3,311.6 1234.7,311.8 1237.1,312.0 1239.4,312.1 1241.8,312.3 1244.1,312.5 1246.5,312.6 1248.8,312.7 1251.2,312.7 1253.5,312.7 1255.9,312.8 1258.3,312.8 1260.6,312.9 1263.0,313.1 1265.3,313.5 1267.7,313.9 1270.0,314.2 1272.4,313.9 1274.8,312.8 1277.1,311.1 1279.5,308.8 1281.8,305.7 1284.2,302.5 1286.5,299.7 1288.9,297.7 1291.2,296.1 1293.6,294.8 1296.0,293.8 1298.3,293.1 1300.7,292.7 1303.0,292.7 1305.4,293.1 1307.7,293.8 1310.1,294.8 1312.5,296.3 1314.8,297.8 1317.2,299.2 1319.5,300.4 1321.9,301.6 1324.2,302.6 1326.6,303.6 1328.9,304.6 1331.3,305.5 1333.7,306.4 1336.0,307.1 1338.4,307.8 1340.7,308.4 1343.1,308.9 1343.9,309.0 1343.9,332.4 1343.1,332.2 1340.7,331.6 1338.4,330.9 1336.0,330.1 1333.7,329.2 1331.3,328.2 1328.9,327.2 1326.6,326.1 1324.2,324.9 1321.9,323.7 1319.5,322.5 1317.2,321.1 1314.8,319.6 1312.5,317.9 1310.1,316.3 1307.7,315.1 1305.4,314.3 1303.0,313.8 1300.7,313.8 1298.3,314.3 1296.0,315.1 1293.6,316.1 1291.2,317.4 1288.9,319.0 1286.5,321.1 1284.2,323.9 1281.8,327.2 1279.5,330.3 1277.1,332.7 1274.8,334.5 1272.4,335.6 1270.0,335.9 1267.7,335.7 1265.3,335.4 1263.0,335.0 1260.6,334.8 1258.3,334.8 1255.9,334.8 1253.5,334.8 1251.2,334.9 1248.8,334.9 1246.5,334.8 1244.1,334.8 1241.8,334.7 1239.4,334.5 1237.1,334.4 1234.7,334.3 1232.3,334.2 1230.0,334.1 1227.6,334.0 1225.3,333.9 1222.9,333.9 1220.6,333.8 1218.2,333.8" fill="#fdeaea"/>
<polygon points="1218.2,316.2 1220.6,316.2 1222.9,316.1 1225.3,316.1 1227.6,316.0 1230.0,316.0 1232.3,315.9 1234.7,315.8 1237.1,315.7 1239.4,315.6 1241.8,315.5 1244.1,315.3 1246.5,315.2 1248.8,315.1 1251.2,315.0 1253.5,314.9 1255.9,314.8 1258.3,314.7 1260.6,314.6 1263.0,314.5 1265.3,314.3 1267.7,314.1 1270.0,313.9 1272.4,313.7 1274.8,313.8 1277.1,314.4 1279.5,315.5 1281.8,317.1 1284.2,318.7 1286.5,320.1 1288.9,321.4 1291.2,322.4 1293.6,323.0 1296.0,323.4 1298.3,323.6 1300.7,323.7 1303.0,323.7 1305.4,323.5 1307.7,323.2 1310.1,322.9 1312.5,322.5 1314.8,322.1 1317.2,321.6 1319.5,321.2 1321.9,320.7 1324.2,320.3 1326.6,319.9 1328.9,319.5 1331.3,319.1 1333.7,318.7 1336.0,318.3 1338.4,317.9 1340.7,317.6 1343.1,317.3 1343.9,317.2 1343.9,328.9 1343.1,328.9 1340.7,329.2 1338.4,329.5 1336.0,329.8 1333.7,330.1 1331.3,330.5 1328.9,330.8 1326.6,331.1 1324.2,331.5 1321.9,331.9 1319.5,332.3 1317.2,332.6 1314.8,333.0 1312.5,333.3 1310.1,333.7 1307.7,334.0 1305.4,334.2 1303.0,334.3 1300.7,334.3 1298.3,334.2 1296.0,334.0 1293.6,333.7 1291.2,333.1 1288.9,332.2 1286.5,331.0 1284.2,329.6 1281.8,328.0 1279.5,326.5 1277.1,325.4 1274.8,324.9 1272.4,324.8 1270.0,325.1 1267.7,325.4 1265.3,325.6 1263.0,325.8 1260.6,326.0 1258.3,326.1 1255.9,326.3 1253.5,326.4 1251.2,326.6 1248.8,326.7 1246.5,326.9 1244.1,327.1 1241.8,327.3 1239.4,327.4 1237.1,327.6 1234.7,327.8 1232.3,327.9 1230.0,328.0 1227.6,328.1 1225.3,328.2 1222.9,328.3 1220.6,328.4 1218.2,328.5" fill="#ededfc"/>
<line x1="1250.00" y1="351.60" x2="1250.00" y2="263.80" stroke="#000" stroke-width="1" stroke-dasharray="4.8 5.84"/>
<path d="M1218.2,322.4L1219.8,322.4L1221.3,322.4L1222.9,322.5L1224.5,322.6L1226.1,322.6L1227.6,322.7L1229.2,322.8L1230.8,322.8L1232.3,322.9L1233.9,323.0L1235.5,323.1L1237.1,323.2L1238.6,323.3L1240.2,323.4L1241.8,323.5L1243.3,323.6L1244.9,323.7L1246.5,323.7L1248.0,323.8L1249.6,323.8L1251.2,323.8L1252.8,323.8L1254.3,323.8L1255.9,323.8L1257.5,323.8L1259.0,323.8L1260.6,323.8L1262.2,323.9L1263.8,324.1L1265.3,324.4L1266.9,324.7L1268.5,325.0L1270.0,325.1L1271.6,325.0L1273.2,324.5L1274.8,323.7L1276.3,322.6L1277.9,321.3L1279.5,319.7L1281.0,317.7L1282.6,315.4L1284.2,313.1L1285.7,311.2L1287.3,309.6L1288.9,308.3L1290.5,307.2L1292.0,306.2L1293.6,305.4L1295.2,304.7L1296.7,304.1L1298.3,303.6L1299.9,303.3L1301.5,303.1L1303.0,303.2L1304.6,303.5L1306.2,303.9L1307.7,304.4L1309.3,305.1L1310.9,306.0L1312.5,307.1L1314.0,308.2L1315.6,309.2L1317.2,310.2L1318.7,311.0L1320.3,311.9L1321.9,312.6L1323.4,313.4L1325.0,314.1L1326.6,314.9L1328.2,315.5L1329.7,316.2L1331.3,316.9L1332.9,317.5L1334.4,318.1L1336.0,318.6L1337.6,319.1L1339.2,319.6L1340.7,320.1L1342.3,320.4L1343.9,320.7" fill="none" stroke="#ff0000" stroke-width="1.2"/>
<path d="M1218.2,322.3L1219.8,322.3L1221.3,322.3L1222.9,322.2L1224.5,322.2L1226.1,322.1L1227.6,322.1L1229.2,322.0L1230.8,322.0L1232.3,321.9L1233.9,321.8L1235.5,321.8L1237.1,321.7L1238.6,321.6L1240.2,321.5L1241.8,321.4L1243.3,321.3L1244.9,321.2L1246.5,321.1L1248.0,321.0L1249.6,320.9L1251.2,320.8L1252.8,320.7L1254.3,320.6L1255.9,320.5L1257.5,320.5L1259.0,320.4L1260.6,320.3L1262.2,320.2L1263.8,320.1L1265.3,320.0L1266.9,319.8L1268.5,319.7L1270.0,319.5L1271.6,319.3L1273.2,319.2L1274.8,319.3L1276.3,319.6L1277.9,320.2L1279.5,321.0L1281.0,322.0L1282.6,323.1L1284.2,324.2L1285.7,325.1L1287.3,326.0L1288.9,326.8L1290.5,327.5L1292.0,328.1L1293.6,328.4L1295.2,328.6L1296.7,328.8L1298.3,328.9L1299.9,329.0L1301.5,329.0L1303.0,329.0L1304.6,329.0L1306.2,328.8L1307.7,328.6L1309.3,328.4L1310.9,328.1L1312.5,327.9L1314.0,327.7L1315.6,327.4L1317.2,327.1L1318.7,326.9L1320.3,326.6L1321.9,326.3L1323.4,326.0L1325.0,325.8L1326.6,325.5L1328.2,325.3L1329.7,325.0L1331.3,324.8L1332.9,324.5L1334.4,324.3L1336.0,324.1L1337.6,323.8L1339.2,323.6L1340.7,323.4L1342.3,323.2L1343.9,323.0" fill="none" stroke="#0000ff" stroke-width="1.2"/>
<line x1="1218.20" y1="322.33" x2="1343.87" y2="322.33" stroke="#000" stroke-width="1" stroke-dasharray="1 1.3"/>
</g>
<path d="M1249.62,263.80v4M1249.62,351.60v-4M1281.04,263.80v4M1281.04,351.60v-4M1312.45,263.80v4M1312.45,351.60v-4M1219.50,278.43h2.5M1344.50,278.43h-2.5M1219.50,293.07h4M1344.50,293.07h-4M1219.50,307.70h2.5M1344.50,307.70h-2.5M1219.50,322.33h4M1344.50,322.33h-4M1219.50,336.97h2.5M1344.50,336.97h-2.5" stroke="#000" stroke-width="1" fill="none"/>
<path d="M1219.00,263.80H1345.00M1219.00,351.60H1345.00M1219.50,263.30V352.10M1344.50,263.30V352.10" stroke="#000" stroke-width="1" fill="none"/>
<text x="1328.35" y="284.20" class="pn">25</text>
<clipPath id="cA26"><rect x="150.20" y="351.90" width="125.67" height="87.80"/></clipPath>
<g clip-path="url(#cA26)">
<polygon points="150.2,401.7 152.6,401.7 154.9,401.8 157.3,401.8 159.6,401.9 162.0,402.2 164.3,402.6 166.7,403.0 169.1,403.2 171.4,403.2 173.8,403.0 176.1,402.8 178.5,402.4 180.8,401.9 183.2,401.2 185.5,400.3 187.9,399.5 190.3,398.7 192.6,398.2 195.0,397.8 197.3,397.8 199.7,398.2 202.0,398.8 204.4,399.6 206.8,400.5 209.1,401.2 211.5,401.4 213.8,401.4 216.2,401.3 218.5,401.1 220.9,400.8 223.2,400.5 225.6,400.1 228.0,399.8 230.3,399.6 232.7,399.5 235.0,399.4 237.4,399.4 239.7,399.5 242.1,399.7 244.5,399.9 246.8,400.1 249.2,400.2 251.5,400.2 253.9,400.2 256.2,400.3 258.6,400.4 260.9,400.5 263.3,400.8 265.7,401.0 268.0,401.3 270.4,401.6 272.7,402.0 275.1,402.3 275.9,402.4 275.9,417.6 275.1,417.5 272.7,417.0 270.4,416.5 268.0,416.1 265.7,415.6 263.3,415.2 260.9,414.8 258.6,414.5 256.2,414.3 253.9,414.1 251.5,413.9 249.2,413.7 246.8,413.5 244.5,413.1 242.1,412.8 239.7,412.5 237.4,412.4 235.0,412.5 232.7,412.7 230.3,413.0 228.0,413.3 225.6,413.8 223.2,414.3 220.9,414.8 218.5,415.2 216.2,415.5 213.8,415.8 211.5,416.0 209.1,415.8 206.8,415.3 204.4,414.6 202.0,414.0 199.7,413.4 197.3,413.2 195.0,413.3 192.6,413.8 190.3,414.4 187.9,415.3 185.5,416.2 183.2,417.2 180.8,418.1 178.5,418.7 176.1,419.1 173.8,419.5 171.4,419.7 169.1,419.9 166.7,419.8 164.3,419.5 162.0,419.2 159.6,419.1 157.3,419.1 154.9,419.1 152.6,419.2 150.2,419.2" fill="#fdeaea"/>
<polygon points="150.2,402.5 152.6,402.4 154.9,402.4 157.3,402.3 159.6,402.3 162.0,402.3 164.3,402.3 166.7,402.3 169.1,402.4 171.4,402.5 173.8,402.6 176.1,402.7 178.5,402.8 180.8,403.0 183.2,403.2 185.5,403.5 187.9,403.8 190.3,404.2 192.6,404.5 195.0,404.9 197.3,405.3 199.7,405.5 202.0,405.4 204.4,405.0 206.8,404.6 209.1,404.2 211.5,403.9 213.8,403.7 216.2,403.7 218.5,403.8 220.9,404.1 223.2,404.5 225.6,404.7 228.0,405.0 230.3,405.3 232.7,405.5 235.0,405.7 237.4,405.8 239.7,405.8 242.1,405.8 244.5,405.8 246.8,405.8 249.2,405.8 251.5,405.8 253.9,405.7 256.2,405.7 258.6,405.7 260.9,405.6 263.3,405.6 265.7,405.5 268.0,405.4 270.4,405.2 272.7,405.1 275.1,405.0 275.9,404.9 275.9,416.7 275.1,416.7 272.7,416.9 270.4,417.1 268.0,417.2 265.7,417.4 263.3,417.5 260.9,417.6 258.6,417.7 256.2,417.8 253.9,417.9 251.5,417.9 249.2,418.0 246.8,418.0 244.5,418.1 242.1,418.2 239.7,418.2 237.4,418.2 235.0,418.1 232.7,418.0 230.3,417.8 228.0,417.6 225.6,417.4 223.2,417.1 220.9,416.9 218.5,416.6 216.2,416.5 213.8,416.6 211.5,416.9 209.1,417.3 206.8,417.7 204.4,418.3 202.0,418.8 199.7,419.0 197.3,418.9 195.0,418.6 192.6,418.4 190.3,418.1 187.9,417.9 185.5,417.6 183.2,417.5 180.8,417.4 178.5,417.3 176.1,417.3 173.8,417.3 171.4,417.3 169.1,417.3 166.7,417.4 164.3,417.5 162.0,417.6 159.6,417.7 157.3,417.8 154.9,418.0 152.6,418.1 150.2,418.3" fill="#ededfc"/>
<line x1="181.65" y1="439.70" x2="181.65" y2="351.90" stroke="#000" stroke-width="1" stroke-dasharray="4.8 5.84"/>
<path d="M150.2,410.4L151.8,410.4L153.3,410.4L154.9,410.4L156.5,410.4L158.1,410.4L159.6,410.5L161.2,410.6L162.8,410.8L164.3,411.1L165.9,411.3L167.5,411.5L169.1,411.6L170.6,411.5L172.2,411.4L173.8,411.3L175.3,411.1L176.9,410.8L178.5,410.5L180.0,410.2L181.6,409.8L183.2,409.2L184.8,408.6L186.3,407.9L187.9,407.3L189.5,406.8L191.0,406.4L192.6,405.9L194.2,405.6L195.8,405.4L197.3,405.4L198.9,405.6L200.5,406.0L202.0,406.4L203.6,406.9L205.2,407.4L206.8,407.9L208.3,408.4L209.9,408.7L211.5,408.8L213.0,408.7L214.6,408.6L216.2,408.4L217.7,408.2L219.3,408.0L220.9,407.8L222.5,407.5L224.0,407.2L225.6,406.9L227.2,406.6L228.7,406.4L230.3,406.3L231.9,406.2L233.5,406.1L235.0,406.0L236.6,405.9L238.2,405.9L239.7,406.0L241.3,406.1L242.9,406.3L244.5,406.5L246.0,406.7L247.6,406.8L249.2,407.0L250.7,407.0L252.3,407.1L253.9,407.2L255.4,407.2L257.0,407.3L258.6,407.5L260.2,407.6L261.7,407.8L263.3,408.0L264.9,408.2L266.4,408.4L268.0,408.7L269.6,408.9L271.2,409.2L272.7,409.5L274.3,409.8L275.9,410.0" fill="none" stroke="#ff0000" stroke-width="1.2"/>
<path d="M150.2,410.4L151.8,410.3L153.3,410.3L154.9,410.2L156.5,410.1L158.1,410.0L159.6,410.0L161.2,409.9L162.8,409.9L164.3,409.9L165.9,409.9L167.5,409.9L169.1,409.9L170.6,409.9L172.2,409.9L173.8,409.9L175.3,410.0L176.9,410.0L178.5,410.1L180.0,410.1L181.6,410.2L183.2,410.3L184.8,410.5L186.3,410.7L187.9,410.8L189.5,411.0L191.0,411.2L192.6,411.4L194.2,411.7L195.8,411.9L197.3,412.1L198.9,412.2L200.5,412.2L202.0,412.1L203.6,411.9L205.2,411.5L206.8,411.1L208.3,410.8L209.9,410.6L211.5,410.4L213.0,410.2L214.6,410.1L216.2,410.1L217.7,410.1L219.3,410.3L220.9,410.5L222.5,410.7L224.0,410.9L225.6,411.1L227.2,411.2L228.7,411.4L230.3,411.5L231.9,411.7L233.5,411.8L235.0,411.9L236.6,412.0L238.2,412.0L239.7,412.0L241.3,412.0L242.9,412.0L244.5,412.0L246.0,411.9L247.6,411.9L249.2,411.9L250.7,411.9L252.3,411.8L253.9,411.8L255.4,411.8L257.0,411.7L258.6,411.7L260.2,411.7L261.7,411.6L263.3,411.6L264.9,411.5L266.4,411.4L268.0,411.3L269.6,411.2L271.2,411.1L272.7,411.0L274.3,410.9L275.9,410.8" fill="none" stroke="#0000ff" stroke-width="1.2"/>
<line x1="150.20" y1="410.43" x2="275.87" y2="410.43" stroke="#000" stroke-width="1" stroke-dasharray="1 1.3"/>
</g>
<path d="M181.62,351.90v4M181.62,439.70v-4M213.03,351.90v4M213.03,439.70v-4M244.45,351.90v4M244.45,439.70v-4M150.50,366.53h2.5M276.50,366.53h-2.5M150.50,381.17h4M276.50,381.17h-4M150.50,395.80h2.5M276.50,395.80h-2.5M150.50,410.43h4M276.50,410.43h-4M150.50,425.07h2.5M276.50,425.07h-2.5" stroke="#000" stroke-width="1" fill="none"/>
<path d="M150.00,351.90H277.00M150.00,439.70H277.00M150.50,351.40V440.20M276.50,351.40V440.20" stroke="#000" stroke-width="1" fill="none"/>
<text x="258.45" y="372.30" class="pn">26</text>
<clipPath id="cA27"><rect x="1156.20" y="351.90" width="125.67" height="87.80"/></clipPath>
<g clip-path="url(#cA27)">
<polygon points="1156.2,404.8 1158.6,405.2 1160.9,405.6 1163.3,406.0 1165.6,406.4 1168.0,406.6 1170.3,406.8 1172.7,406.9 1175.1,406.9 1177.4,406.8 1179.8,406.6 1182.1,406.3 1184.5,405.9 1186.8,405.5 1189.2,405.1 1191.5,404.4 1193.9,402.7 1196.3,400.3 1198.6,397.8 1201.0,395.7 1203.3,394.0 1205.7,392.5 1208.0,391.4 1210.4,390.6 1212.8,389.9 1215.1,389.1 1217.5,388.0 1219.8,386.7 1222.2,385.4 1224.5,384.5 1226.9,383.9 1229.2,383.6 1231.6,383.5 1234.0,383.3 1236.3,383.2 1238.7,383.0 1241.0,382.8 1243.4,382.8 1245.7,383.3 1248.1,384.4 1250.5,385.7 1252.8,387.1 1255.2,388.7 1257.5,390.3 1259.9,391.6 1262.2,392.8 1264.6,393.8 1266.9,394.8 1269.3,395.8 1271.7,396.9 1274.0,398.1 1276.4,399.2 1278.7,400.4 1281.1,401.4 1281.9,401.7 1281.9,413.4 1281.1,413.2 1278.7,412.1 1276.4,410.9 1274.0,409.8 1271.7,408.6 1269.3,407.5 1266.9,406.5 1264.6,405.5 1262.2,404.5 1259.9,403.4 1257.5,402.0 1255.2,400.5 1252.8,398.9 1250.5,397.4 1248.1,396.1 1245.7,395.0 1243.4,394.5 1241.0,394.5 1238.7,394.7 1236.3,394.9 1234.0,395.0 1231.6,395.2 1229.2,395.3 1226.9,395.6 1224.5,396.2 1222.2,397.1 1219.8,398.4 1217.5,399.7 1215.1,400.8 1212.8,401.6 1210.4,402.3 1208.0,403.1 1205.7,404.2 1203.3,405.7 1201.0,407.4 1198.6,409.5 1196.3,412.0 1193.9,414.4 1191.5,416.1 1189.2,416.8 1186.8,417.2 1184.5,417.6 1182.1,418.0 1179.8,418.3 1177.4,418.5 1175.1,418.6 1172.7,418.6 1170.3,418.5 1168.0,418.3 1165.6,418.1 1163.3,417.7 1160.9,417.3 1158.6,416.9 1156.2,416.5" fill="#fdeaea"/>
<polygon points="1156.2,389.5 1158.6,389.2 1160.9,388.9 1163.3,388.6 1165.6,388.4 1168.0,388.2 1170.3,388.0 1172.7,388.0 1175.1,387.9 1177.4,388.0 1179.8,388.1 1182.1,388.2 1184.5,388.4 1186.8,388.7 1189.2,389.1 1191.5,389.8 1193.9,390.7 1196.3,391.9 1198.6,393.4 1201.0,395.1 1203.3,396.6 1205.7,397.8 1208.0,398.5 1210.4,398.8 1212.8,399.0 1215.1,399.2 1217.5,399.5 1219.8,400.0 1222.2,400.5 1224.5,401.0 1226.9,401.5 1229.2,401.7 1231.6,401.8 1234.0,401.8 1236.3,401.7 1238.7,401.6 1241.0,401.5 1243.4,401.4 1245.7,401.3 1248.1,401.0 1250.5,400.4 1252.8,399.7 1255.2,399.0 1257.5,398.4 1259.9,398.0 1262.2,397.7 1264.6,397.5 1266.9,397.3 1269.3,396.9 1271.7,396.5 1274.0,395.9 1276.4,395.2 1278.7,394.4 1281.1,393.6 1281.9,393.5 1281.9,430.3 1281.1,430.5 1278.7,431.2 1276.4,432.0 1274.0,432.6 1271.7,433.2 1269.3,433.6 1266.9,433.9 1264.6,434.1 1262.2,434.3 1259.9,434.5 1257.5,434.9 1255.2,435.5 1252.8,436.2 1250.5,436.8 1248.1,437.3 1245.7,437.6 1243.4,437.6 1241.0,437.5 1238.7,437.4 1236.3,437.3 1234.0,437.2 1231.6,437.1 1229.2,436.8 1226.9,436.4 1224.5,435.8 1222.2,435.3 1219.8,435.0 1217.5,434.9 1215.1,435.1 1212.8,435.3 1210.4,435.5 1208.0,435.6 1205.7,435.4 1203.3,434.7 1201.0,433.6 1198.6,432.3 1196.3,431.2 1193.9,430.5 1191.5,430.0 1189.2,429.8 1186.8,429.6 1184.5,429.5 1182.1,429.3 1179.8,429.2 1177.4,429.2 1175.1,429.2 1172.7,429.2 1170.3,429.3 1168.0,429.5 1165.6,429.7 1163.3,430.0 1160.9,430.4 1158.6,430.8 1156.2,431.1" fill="#ededfc"/>
<line x1="1188.00" y1="439.70" x2="1188.00" y2="351.90" stroke="#000" stroke-width="1" stroke-dasharray="4.8 5.84"/>
<path d="M1156.2,410.6L1157.8,410.8L1159.3,411.2L1160.9,411.5L1162.5,411.8L1164.1,412.0L1165.6,412.2L1167.2,412.4L1168.8,412.5L1170.3,412.6L1171.9,412.7L1173.5,412.7L1175.1,412.7L1176.6,412.7L1178.2,412.6L1179.8,412.5L1181.3,412.3L1182.9,412.0L1184.5,411.8L1186.0,411.5L1187.6,411.3L1189.2,411.0L1190.8,410.6L1192.3,409.9L1193.9,408.7L1195.5,407.0L1197.0,405.2L1198.6,403.6L1200.2,402.2L1201.8,400.9L1203.3,399.8L1204.9,398.8L1206.5,397.9L1208.0,397.2L1209.6,396.7L1211.2,396.2L1212.8,395.8L1214.3,395.3L1215.9,394.6L1217.5,393.8L1219.0,393.0L1220.6,392.1L1222.2,391.2L1223.7,390.5L1225.3,390.0L1226.9,389.7L1228.5,389.5L1230.0,389.4L1231.6,389.3L1233.2,389.2L1234.7,389.1L1236.3,389.0L1237.9,388.9L1239.5,388.8L1241.0,388.6L1242.6,388.6L1244.2,388.7L1245.7,389.1L1247.3,389.8L1248.9,390.6L1250.5,391.5L1252.0,392.5L1253.6,393.5L1255.2,394.6L1256.7,395.7L1258.3,396.7L1259.9,397.5L1261.4,398.3L1263.0,399.0L1264.6,399.6L1266.2,400.3L1267.7,401.0L1269.3,401.7L1270.9,402.4L1272.4,403.2L1274.0,403.9L1275.6,404.7L1277.2,405.5L1278.7,406.3L1280.3,407.1L1281.9,407.6" fill="none" stroke="#ff0000" stroke-width="1.2"/>
<path d="M1156.2,410.3L1157.8,410.1L1159.3,409.9L1160.9,409.6L1162.5,409.4L1164.1,409.2L1165.6,409.0L1167.2,408.9L1168.8,408.8L1170.3,408.7L1171.9,408.6L1173.5,408.6L1175.1,408.5L1176.6,408.6L1178.2,408.6L1179.8,408.7L1181.3,408.7L1182.9,408.8L1184.5,408.9L1186.0,409.1L1187.6,409.2L1189.2,409.4L1190.8,409.7L1192.3,410.1L1193.9,410.5L1195.5,411.1L1197.0,411.9L1198.6,412.8L1200.2,413.8L1201.8,414.8L1203.3,415.7L1204.9,416.4L1206.5,416.9L1208.0,417.1L1209.6,417.2L1211.2,417.2L1212.8,417.2L1214.3,417.2L1215.9,417.2L1217.5,417.2L1219.0,417.3L1220.6,417.6L1222.2,417.9L1223.7,418.2L1225.3,418.6L1226.9,418.9L1228.5,419.2L1230.0,419.4L1231.6,419.5L1233.2,419.5L1234.7,419.5L1236.3,419.5L1237.9,419.5L1239.5,419.5L1241.0,419.5L1242.6,419.5L1244.2,419.5L1245.7,419.4L1247.3,419.3L1248.9,419.0L1250.5,418.7L1252.0,418.2L1253.6,417.7L1255.2,417.3L1256.7,416.8L1258.3,416.5L1259.9,416.2L1261.4,416.1L1263.0,415.9L1264.6,415.8L1266.2,415.7L1267.7,415.5L1269.3,415.3L1270.9,415.0L1272.4,414.7L1274.0,414.3L1275.6,413.8L1277.2,413.3L1278.7,412.8L1280.3,412.3L1281.9,411.8" fill="none" stroke="#0000ff" stroke-width="1.2"/>
<line x1="1156.20" y1="410.43" x2="1281.87" y2="410.43" stroke="#000" stroke-width="1" stroke-dasharray="1 1.3"/>
</g>
<path d="M1187.62,351.90v4M1187.62,439.70v-4M1219.04,351.90v4M1219.04,439.70v-4M1250.45,351.90v4M1250.45,439.70v-4M1156.50,366.53h2.5M1282.50,366.53h-2.5M1156.50,381.17h4M1282.50,381.17h-4M1156.50,395.80h2.5M1282.50,395.80h-2.5M1156.50,410.43h4M1282.50,410.43h-4M1156.50,425.07h2.5M1282.50,425.07h-2.5" stroke="#000" stroke-width="1" fill="none"/>
<path d="M1156.00,351.90H1283.00M1156.00,439.70H1283.00M1156.50,351.40V440.20M1282.50,351.40V440.20" stroke="#000" stroke-width="1" fill="none"/>
<text x="1264.50" y="372.30" class="pn">27</text>
<text x="84.60" y="93.20" class="ax" text-anchor="end">2</text>
<text x="84.60" y="122.47" class="ax" text-anchor="end">1</text>
<text x="84.60" y="151.73" class="ax" text-anchor="end">0</text>
<text x="84.60" y="181.00" class="ax" text-anchor="end">-1</text>
<text x="87.60" y="192.00" class="ax" text-anchor="middle">-5</text>
<text x="119.02" y="192.00" class="ax" text-anchor="middle">0</text>
<text x="150.44" y="192.00" class="ax" text-anchor="middle">5</text>
<text x="181.85" y="192.00" class="ax" text-anchor="middle">10</text>
<text x="213.27" y="192.00" class="ax" text-anchor="middle">15</text>
<text x="121" y="221.90" class="tl">Time (s)</text>
<text transform="translate(59.9,150.00) rotate(-90)" class="x10">x10</text>
<text transform="translate(50.1,127.40) rotate(-90)" class="sup">-2</text>
<text transform="translate(20.9,380.80) rotate(-90)" class="big">Hemoglobin change [mM]</text>
<clipPath id="cB1"><rect x="150.20" y="528.40" width="125.67" height="87.80"/></clipPath>
<g clip-path="url(#cB1)">
<polygon points="150.2,578.8 152.6,579.0 154.9,579.1 157.3,579.3 159.6,579.5 162.0,579.7 164.3,579.9 166.7,580.2 169.1,580.4 171.4,580.6 173.8,580.7 176.1,580.6 178.5,580.3 180.8,580.1 183.2,580.3 185.5,581.0 187.9,581.9 190.3,582.7 192.6,582.6 195.0,581.2 197.3,578.9 199.7,576.6 202.0,575.1 204.4,574.4 206.8,574.2 209.1,574.0 211.5,573.5 213.8,572.5 216.2,571.4 218.5,570.2 220.9,569.2 223.2,568.6 225.6,568.4 228.0,568.3 230.3,568.3 232.7,568.5 235.0,568.8 237.4,569.2 239.7,569.6 242.1,570.0 244.5,570.5 246.8,570.9 249.2,571.2 251.5,571.4 253.9,571.6 256.2,572.1 258.6,572.6 260.9,573.2 263.3,573.7 265.7,574.2 268.0,574.7 270.4,575.2 272.7,575.7 275.1,576.1 275.9,576.2 275.9,592.6 275.1,592.5 272.7,592.1 270.4,591.6 268.0,591.1 265.7,590.6 263.3,590.1 260.9,589.6 258.6,589.0 256.2,588.5 253.9,588.0 251.5,587.8 249.2,587.6 246.8,587.3 244.5,586.9 242.1,586.4 239.7,585.9 237.4,585.5 235.0,585.2 232.7,584.9 230.3,584.7 228.0,584.6 225.6,584.7 223.2,585.0 220.9,585.6 218.5,586.6 216.2,587.8 213.8,588.9 211.5,589.9 209.1,590.4 206.8,590.6 204.4,590.8 202.0,591.4 199.7,593.0 197.3,595.3 195.0,597.6 192.6,599.0 190.3,599.1 187.9,598.3 185.5,597.4 183.2,596.7 180.8,596.5 178.5,596.7 176.1,597.0 173.8,597.1 171.4,597.0 169.1,596.8 166.7,596.6 164.3,596.3 162.0,596.1 159.6,595.9 157.3,595.7 154.9,595.5 152.6,595.3 150.2,595.2" fill="#fdeaea"/>
<polygon points="150.2,580.1 152.6,580.0 154.9,579.8 157.3,579.6 159.6,579.5 162.0,579.4 164.3,579.4 166.7,579.4 169.1,579.5 171.4,579.6 173.8,579.7 176.1,579.9 178.5,580.1 180.8,580.3 183.2,580.7 185.5,581.2 187.9,581.5 190.3,581.5 192.6,581.2 195.0,580.7 197.3,580.2 199.7,579.9 202.0,579.6 204.4,579.3 206.8,579.1 209.1,578.9 211.5,578.9 213.8,579.1 216.2,579.5 218.5,580.2 220.9,581.2 223.2,582.1 225.6,582.7 228.0,583.1 230.3,583.3 232.7,583.5 235.0,583.6 237.4,583.6 239.7,583.6 242.1,583.5 244.5,583.5 246.8,583.4 249.2,583.3 251.5,583.1 253.9,582.8 256.2,582.3 258.6,581.7 260.9,581.1 263.3,580.8 265.7,580.7 268.0,580.5 270.4,580.5 272.7,580.4 275.1,580.4 275.9,580.4 275.9,593.2 275.1,593.2 272.7,593.3 270.4,593.4 268.0,593.5 265.7,593.6 263.3,593.8 260.9,594.1 258.6,594.6 256.2,595.3 253.9,595.8 251.5,596.1 249.2,596.3 246.8,596.4 244.5,596.5 242.1,596.6 239.7,596.6 237.4,596.7 235.0,596.6 232.7,596.6 230.3,596.4 228.0,596.2 225.6,595.8 223.2,595.2 220.9,594.3 218.5,593.3 216.2,592.6 213.8,592.2 211.5,592.1 209.1,592.1 206.8,592.3 204.4,592.5 202.0,592.8 199.7,593.1 197.3,593.5 195.0,593.9 192.6,594.5 190.3,594.8 187.9,594.8 185.5,594.5 183.2,594.0 180.8,593.7 178.5,593.4 176.1,593.2 173.8,593.1 171.4,593.0 169.1,592.9 166.7,592.8 164.3,592.8 162.0,592.8 159.6,592.9 157.3,593.0 154.9,593.2 152.6,593.4 150.2,593.6" fill="#ededfc"/>
<line x1="181.65" y1="616.20" x2="181.65" y2="528.40" stroke="#000" stroke-width="1" stroke-dasharray="4.8 5.84"/>
<path d="M150.2,587.0L151.8,587.1L153.3,587.2L154.9,587.3L156.5,587.5L158.1,587.6L159.6,587.7L161.2,587.9L162.8,588.0L164.3,588.1L165.9,588.3L167.5,588.4L169.1,588.6L170.6,588.7L172.2,588.8L173.8,588.9L175.3,588.9L176.9,588.7L178.5,588.5L180.0,588.3L181.6,588.3L183.2,588.5L184.8,588.9L186.3,589.4L187.9,590.1L189.5,590.8L191.0,591.2L192.6,591.0L194.2,590.1L195.8,588.7L197.3,587.1L198.9,585.5L200.5,584.1L202.0,583.1L203.6,582.7L205.2,582.5L206.8,582.4L208.3,582.3L209.9,582.1L211.5,581.7L213.0,581.1L214.6,580.4L216.2,579.6L217.7,578.8L219.3,578.0L220.9,577.4L222.5,576.9L224.0,576.7L225.6,576.5L227.2,576.5L228.7,576.4L230.3,576.5L231.9,576.6L233.5,576.7L235.0,577.0L236.6,577.2L238.2,577.5L239.7,577.7L241.3,578.0L242.9,578.4L244.5,578.7L246.0,579.0L247.6,579.2L249.2,579.4L250.7,579.5L252.3,579.6L253.9,579.8L255.4,580.1L257.0,580.4L258.6,580.8L260.2,581.2L261.7,581.6L263.3,581.9L264.9,582.3L266.4,582.6L268.0,582.9L269.6,583.3L271.2,583.6L272.7,583.9L274.3,584.2L275.9,584.5" fill="none" stroke="#ff0000" stroke-width="1.2"/>
<path d="M150.2,586.9L151.8,586.8L153.3,586.6L154.9,586.5L156.5,586.3L158.1,586.2L159.6,586.2L161.2,586.1L162.8,586.1L164.3,586.1L165.9,586.1L167.5,586.1L169.1,586.2L170.6,586.2L172.2,586.3L173.8,586.4L175.3,586.5L176.9,586.6L178.5,586.7L180.0,586.9L181.6,587.1L183.2,587.4L184.8,587.7L186.3,588.0L187.9,588.2L189.5,588.3L191.0,588.1L192.6,587.8L194.2,587.5L195.8,587.1L197.3,586.9L198.9,586.6L200.5,586.4L202.0,586.2L203.6,586.0L205.2,585.8L206.8,585.7L208.3,585.6L209.9,585.5L211.5,585.5L213.0,585.6L214.6,585.7L216.2,586.0L217.7,586.4L219.3,587.1L220.9,587.8L222.5,588.4L224.0,589.0L225.6,589.3L227.2,589.5L228.7,589.7L230.3,589.9L231.9,590.0L233.5,590.1L235.0,590.1L236.6,590.1L238.2,590.1L239.7,590.1L241.3,590.1L242.9,590.0L244.5,590.0L246.0,589.9L247.6,589.9L249.2,589.8L250.7,589.7L252.3,589.5L253.9,589.3L255.4,589.0L257.0,588.6L258.6,588.1L260.2,587.7L261.7,587.5L263.3,587.3L264.9,587.2L266.4,587.1L268.0,587.0L269.6,586.9L271.2,586.9L272.7,586.8L274.3,586.8L275.9,586.8" fill="none" stroke="#0000ff" stroke-width="1.2"/>
<line x1="150.20" y1="586.93" x2="275.87" y2="586.93" stroke="#000" stroke-width="1" stroke-dasharray="1 1.3"/>
</g>
<path d="M181.62,528.40v4M181.62,616.20v-4M213.03,528.40v4M213.03,616.20v-4M244.45,528.40v4M244.45,616.20v-4M150.50,543.03h2.5M276.50,543.03h-2.5M150.50,557.67h4M276.50,557.67h-4M150.50,572.30h2.5M276.50,572.30h-2.5M150.50,586.93h4M276.50,586.93h-4M150.50,601.57h2.5M276.50,601.57h-2.5" stroke="#000" stroke-width="1" fill="none"/>
<path d="M150.00,528.40H277.00M150.00,616.20H277.00M150.50,527.90V616.70M276.50,527.90V616.70" stroke="#000" stroke-width="1" fill="none"/>
<text x="262.50" y="548.80" class="pn">1</text>
<clipPath id="cB2"><rect x="401.20" y="528.40" width="125.67" height="87.80"/></clipPath>
<g clip-path="url(#cB2)">
<polygon points="401.2,580.6 403.6,580.8 405.9,581.0 408.3,581.2 410.6,581.3 413.0,581.4 415.3,581.4 417.7,581.3 420.1,581.1 422.4,580.9 424.8,580.7 427.1,580.5 429.5,580.5 431.8,580.9 434.2,581.6 436.5,582.6 438.9,583.9 441.3,585.1 443.6,585.6 446.0,585.1 448.3,584.0 450.7,583.1 453.0,582.8 455.4,583.3 457.8,584.1 460.1,584.7 462.5,584.7 464.8,584.2 467.2,583.2 469.5,582.1 471.9,581.0 474.2,579.9 476.6,579.2 479.0,578.7 481.3,578.3 483.7,578.0 486.0,577.8 488.4,577.7 490.7,577.5 493.1,577.4 495.5,577.3 497.8,577.2 500.2,577.2 502.5,577.2 504.9,577.1 507.2,577.1 509.6,577.1 511.9,577.1 514.3,577.1 516.7,577.1 519.0,577.2 521.4,577.4 523.7,577.6 526.1,577.8 526.9,577.8 526.9,593.6 526.1,593.5 523.7,593.3 521.4,593.1 519.0,592.9 516.7,592.8 514.3,592.7 511.9,592.7 509.6,592.7 507.2,592.6 504.9,592.6 502.5,592.6 500.2,592.6 497.8,592.6 495.5,592.6 493.1,592.7 490.7,592.8 488.4,592.9 486.0,593.0 483.7,593.2 481.3,593.5 479.0,593.8 476.6,594.3 474.2,595.0 471.9,596.0 469.5,597.1 467.2,598.2 464.8,599.1 462.5,599.6 460.1,599.5 457.8,598.9 455.4,598.1 453.0,597.6 450.7,597.8 448.3,598.7 446.0,599.7 443.6,600.2 441.3,599.6 438.9,598.3 436.5,596.9 434.2,595.8 431.8,595.0 429.5,594.5 427.1,594.4 424.8,594.5 422.4,594.6 420.1,594.7 417.7,594.8 415.3,594.8 413.0,594.7 410.6,594.6 408.3,594.3 405.9,594.1 403.6,593.8 401.2,593.5" fill="#fdeaea"/>
<polygon points="401.2,581.7 403.6,581.7 405.9,581.7 408.3,581.7 410.6,581.7 413.0,581.7 415.3,581.7 417.7,581.7 420.1,581.7 422.4,581.7 424.8,581.7 427.1,581.7 429.5,581.7 431.8,581.8 434.2,582.0 436.5,582.4 438.9,582.9 441.3,583.0 443.6,582.5 446.0,581.7 448.3,581.0 450.7,580.5 453.0,580.1 455.4,579.8 457.8,579.4 460.1,579.0 462.5,578.7 464.8,578.5 467.2,578.5 469.5,579.0 471.9,579.7 474.2,580.8 476.6,581.7 479.0,582.2 481.3,582.6 483.7,582.8 486.0,583.1 488.4,583.4 490.7,583.7 493.1,583.8 495.5,583.9 497.8,583.9 500.2,583.8 502.5,583.7 504.9,583.6 507.2,583.3 509.6,582.9 511.9,582.6 514.3,582.3 516.7,582.2 519.0,582.0 521.4,581.9 523.7,581.9 526.1,581.8 526.9,581.8 526.9,591.8 526.1,591.8 523.7,591.8 521.4,591.9 519.0,592.0 516.7,592.2 514.3,592.4 511.9,592.6 509.6,593.0 507.2,593.3 504.9,593.6 502.5,593.8 500.2,593.9 497.8,594.0 495.5,594.0 493.1,593.9 490.7,593.8 488.4,593.5 486.0,593.3 483.7,593.0 481.3,592.7 479.0,592.4 476.6,591.8 474.2,590.9 471.9,590.0 469.5,589.2 467.2,588.8 464.8,588.7 462.5,588.9 460.1,589.3 457.8,589.7 455.4,590.1 453.0,590.4 450.7,590.8 448.3,591.3 446.0,592.0 443.6,592.8 441.3,593.3 438.9,593.2 436.5,592.8 434.2,592.4 431.8,592.2 429.5,592.1 427.1,592.1 424.8,592.1 422.4,592.2 420.1,592.2 417.7,592.2 415.3,592.2 413.0,592.2 410.6,592.2 408.3,592.2 405.9,592.2 403.6,592.2 401.2,592.2" fill="#ededfc"/>
<line x1="432.65" y1="616.20" x2="432.65" y2="528.40" stroke="#000" stroke-width="1" stroke-dasharray="4.8 5.84"/>
<path d="M401.2,587.0L402.8,587.2L404.3,587.4L405.9,587.5L407.5,587.7L409.1,587.8L410.6,587.9L412.2,588.0L413.8,588.1L415.3,588.1L416.9,588.1L418.5,588.0L420.1,587.9L421.6,587.8L423.2,587.7L424.8,587.6L426.3,587.5L427.9,587.4L429.5,587.5L431.0,587.7L432.6,588.1L434.2,588.7L435.8,589.3L437.3,590.1L438.9,591.1L440.5,592.0L442.0,592.8L443.6,593.0L445.2,592.8L446.8,592.1L448.3,591.3L449.9,590.6L451.5,590.1L453.0,590.1L454.6,590.4L456.2,590.9L457.8,591.5L459.3,592.0L460.9,592.3L462.5,592.3L464.0,591.9L465.6,591.4L467.2,590.7L468.7,590.0L470.3,589.2L471.9,588.5L473.5,587.7L475.0,587.1L476.6,586.7L478.2,586.4L479.7,586.1L481.3,585.9L482.9,585.7L484.5,585.6L486.0,585.4L487.6,585.3L489.2,585.2L490.7,585.2L492.3,585.1L493.9,585.0L495.5,585.0L497.0,584.9L498.6,584.9L500.2,584.9L501.7,584.9L503.3,584.9L504.9,584.9L506.4,584.9L508.0,584.9L509.6,584.9L511.2,584.9L512.7,584.9L514.3,584.9L515.9,584.9L517.4,585.0L519.0,585.1L520.6,585.2L522.2,585.3L523.7,585.5L525.3,585.6L526.9,585.7" fill="none" stroke="#ff0000" stroke-width="1.2"/>
<path d="M401.2,586.9L402.8,586.9L404.3,586.9L405.9,586.9L407.5,586.9L409.1,586.9L410.6,586.9L412.2,586.9L413.8,586.9L415.3,586.9L416.9,586.9L418.5,586.9L420.1,586.9L421.6,586.9L423.2,586.9L424.8,586.9L426.3,586.9L427.9,586.9L429.5,586.9L431.0,586.9L432.6,587.0L434.2,587.2L435.8,587.5L437.3,587.8L438.9,588.1L440.5,588.2L442.0,588.1L443.6,587.7L445.2,587.2L446.8,586.6L448.3,586.1L449.9,585.8L451.5,585.5L453.0,585.3L454.6,585.0L456.2,584.8L457.8,584.6L459.3,584.3L460.9,584.0L462.5,583.8L464.0,583.6L465.6,583.5L467.2,583.6L468.7,583.9L470.3,584.3L471.9,584.8L473.5,585.5L475.0,586.2L476.6,586.8L478.2,587.2L479.7,587.5L481.3,587.7L482.9,587.8L484.5,588.0L486.0,588.2L487.6,588.4L489.2,588.6L490.7,588.7L492.3,588.9L493.9,588.9L495.5,589.0L497.0,589.0L498.6,588.9L500.2,588.9L501.7,588.8L503.3,588.7L504.9,588.6L506.4,588.4L508.0,588.2L509.6,587.9L511.2,587.7L512.7,587.5L514.3,587.3L515.9,587.2L517.4,587.1L519.0,587.0L520.6,587.0L522.2,586.9L523.7,586.8L525.3,586.8L526.9,586.8" fill="none" stroke="#0000ff" stroke-width="1.2"/>
<line x1="401.20" y1="586.93" x2="526.87" y2="586.93" stroke="#000" stroke-width="1" stroke-dasharray="1 1.3"/>
</g>
<path d="M432.62,528.40v4M432.62,616.20v-4M464.03,528.40v4M464.03,616.20v-4M495.45,528.40v4M495.45,616.20v-4M401.50,543.03h2.5M527.50,543.03h-2.5M401.50,557.67h4M527.50,557.67h-4M401.50,572.30h2.5M527.50,572.30h-2.5M401.50,586.93h4M527.50,586.93h-4M401.50,601.57h2.5M527.50,601.57h-2.5" stroke="#000" stroke-width="1" fill="none"/>
<path d="M401.00,528.40H528.00M401.00,616.20H528.00M401.50,527.90V616.70M527.50,527.90V616.70" stroke="#000" stroke-width="1" fill="none"/>
<text x="513.80" y="548.80" class="pn">2</text>
<clipPath id="cB3"><rect x="653.20" y="528.40" width="125.67" height="87.80"/></clipPath>
<g clip-path="url(#cB3)">
<polygon points="653.2,580.9 655.6,581.1 657.9,581.4 660.3,581.6 662.6,581.7 665.0,581.8 667.3,581.8 669.7,581.8 672.1,581.8 674.4,581.6 676.8,581.3 679.1,581.0 681.5,580.7 683.8,580.8 686.2,581.3 688.5,582.2 690.9,583.2 693.3,584.0 695.6,584.2 698.0,583.8 700.3,583.1 702.7,582.5 705.0,582.5 707.4,582.9 709.8,583.4 712.1,583.8 714.5,584.2 716.8,584.3 719.2,584.1 721.5,583.7 723.9,583.1 726.2,582.5 728.6,582.0 731.0,581.4 733.3,580.8 735.7,580.3 738.0,579.9 740.4,579.5 742.7,579.2 745.1,578.9 747.5,578.7 749.8,578.5 752.2,578.2 754.5,578.0 756.9,577.9 759.2,577.8 761.6,577.7 763.9,577.6 766.3,577.6 768.7,577.6 771.0,577.6 773.4,577.7 775.7,577.9 778.1,578.0 778.9,578.1 778.9,592.7 778.1,592.7 775.7,592.5 773.4,592.3 771.0,592.2 768.7,592.2 766.3,592.2 763.9,592.3 761.6,592.3 759.2,592.4 756.9,592.5 754.5,592.7 752.2,592.9 749.8,593.1 747.5,593.3 745.1,593.6 742.7,593.8 740.4,594.2 738.0,594.6 735.7,595.0 733.3,595.7 731.0,596.5 728.6,597.4 726.2,598.3 723.9,599.1 721.5,600.0 719.2,600.7 716.8,601.0 714.5,600.7 712.1,600.1 709.8,599.2 707.4,598.3 705.0,597.5 702.7,597.2 700.3,597.6 698.0,598.2 695.6,598.5 693.3,598.1 690.9,597.2 688.5,596.1 686.2,595.1 683.8,594.5 681.5,594.4 679.1,594.5 676.8,594.7 674.4,594.9 672.1,594.9 669.7,594.9 667.3,594.8 665.0,594.6 662.6,594.4 660.3,594.2 657.9,593.9 655.6,593.5 653.2,593.2" fill="#fdeaea"/>
<polygon points="653.2,582.2 655.6,582.2 657.9,582.2 660.3,582.2 662.6,582.2 665.0,582.2 667.3,582.2 669.7,582.2 672.1,582.2 674.4,582.2 676.8,582.2 679.1,582.2 681.5,582.2 683.8,582.3 686.2,582.6 688.5,583.0 690.9,583.3 693.3,583.3 695.6,583.0 698.0,582.5 700.3,581.9 702.7,581.4 705.0,580.8 707.4,580.3 709.8,579.9 712.1,579.5 714.5,579.1 716.8,578.7 719.2,578.5 721.5,578.6 723.9,578.8 726.2,579.2 728.6,579.7 731.0,580.3 733.3,580.9 735.7,581.6 738.0,582.1 740.4,582.5 742.7,582.9 745.1,583.2 747.5,583.2 749.8,583.2 752.2,583.1 754.5,583.0 756.9,582.9 759.2,582.6 761.6,582.3 763.9,582.0 766.3,581.9 768.7,581.8 771.0,581.7 773.4,581.6 775.7,581.6 778.1,581.5 778.9,581.5 778.9,592.1 778.1,592.1 775.7,592.1 773.4,592.1 771.0,592.1 768.7,592.2 766.3,592.3 763.9,592.4 761.6,592.7 759.2,593.0 756.9,593.2 754.5,593.3 752.2,593.4 749.8,593.5 747.5,593.5 745.1,593.4 742.7,593.1 740.4,592.7 738.0,592.3 735.7,591.7 733.3,591.0 731.0,590.4 728.6,589.8 726.2,589.3 723.9,588.8 721.5,588.6 719.2,588.5 716.8,588.7 714.5,589.0 712.1,589.4 709.8,589.8 707.4,590.2 705.0,590.7 702.7,591.2 700.3,591.7 698.0,592.3 695.6,592.8 693.3,593.1 690.9,593.0 688.5,592.7 686.2,592.2 683.8,592.0 681.5,591.9 679.1,591.8 676.8,591.8 674.4,591.8 672.1,591.8 669.7,591.7 667.3,591.7 665.0,591.7 662.6,591.7 660.3,591.7 657.9,591.6 655.6,591.6 653.2,591.6" fill="#ededfc"/>
<line x1="685.00" y1="616.20" x2="685.00" y2="528.40" stroke="#000" stroke-width="1" stroke-dasharray="4.8 5.84"/>
<path d="M653.2,587.0L654.8,587.2L656.3,587.4L657.9,587.6L659.5,587.8L661.1,587.9L662.6,588.1L664.2,588.2L665.8,588.3L667.3,588.3L668.9,588.4L670.5,588.4L672.1,588.4L673.6,588.3L675.2,588.2L676.8,588.0L678.3,587.8L679.9,587.7L681.5,587.5L683.0,587.5L684.6,587.7L686.2,588.1L687.8,588.8L689.3,589.5L690.9,590.2L692.5,590.9L694.0,591.3L695.6,591.4L697.2,591.2L698.8,590.8L700.3,590.3L701.9,589.9L703.5,589.8L705.0,589.9L706.6,590.3L708.2,590.9L709.8,591.3L711.3,591.8L712.9,592.2L714.5,592.5L716.0,592.7L717.6,592.6L719.2,592.4L720.7,592.1L722.3,591.6L723.9,591.1L725.5,590.6L727.0,590.2L728.6,589.7L730.2,589.2L731.7,588.7L733.3,588.2L734.9,587.8L736.5,587.5L738.0,587.2L739.6,587.0L741.2,586.7L742.7,586.5L744.3,586.3L745.9,586.2L747.5,586.0L749.0,585.8L750.6,585.7L752.2,585.6L753.7,585.4L755.3,585.3L756.9,585.2L758.4,585.1L760.0,585.1L761.6,585.0L763.2,585.0L764.7,584.9L766.3,584.9L767.9,584.9L769.4,584.9L771.0,584.9L772.6,585.0L774.2,585.1L775.7,585.2L777.3,585.3L778.9,585.4" fill="none" stroke="#ff0000" stroke-width="1.2"/>
<path d="M653.2,586.9L654.8,586.9L656.3,586.9L657.9,586.9L659.5,586.9L661.1,586.9L662.6,586.9L664.2,586.9L665.8,587.0L667.3,587.0L668.9,587.0L670.5,587.0L672.1,587.0L673.6,587.0L675.2,587.0L676.8,587.0L678.3,587.0L679.9,587.0L681.5,587.1L683.0,587.1L684.6,587.2L686.2,587.4L687.8,587.7L689.3,588.0L690.9,588.2L692.5,588.3L694.0,588.2L695.6,587.9L697.2,587.6L698.8,587.2L700.3,586.8L701.9,586.4L703.5,586.1L705.0,585.8L706.6,585.4L708.2,585.1L709.8,584.8L711.3,584.5L712.9,584.3L714.5,584.0L716.0,583.8L717.6,583.6L719.2,583.5L720.7,583.5L722.3,583.6L723.9,583.8L725.5,584.1L727.0,584.4L728.6,584.8L730.2,585.1L731.7,585.5L733.3,586.0L734.9,586.4L736.5,586.8L738.0,587.2L739.6,587.5L741.2,587.8L742.7,588.0L744.3,588.2L745.9,588.3L747.5,588.4L749.0,588.4L750.6,588.3L752.2,588.3L753.7,588.2L755.3,588.1L756.9,588.0L758.4,587.9L760.0,587.7L761.6,587.5L763.2,587.3L764.7,587.2L766.3,587.1L767.9,587.0L769.4,587.0L771.0,586.9L772.6,586.9L774.2,586.8L775.7,586.8L777.3,586.8L778.9,586.8" fill="none" stroke="#0000ff" stroke-width="1.2"/>
<line x1="653.20" y1="586.93" x2="778.87" y2="586.93" stroke="#000" stroke-width="1" stroke-dasharray="1 1.3"/>
</g>
<path d="M684.62,528.40v4M684.62,616.20v-4M716.04,528.40v4M716.04,616.20v-4M747.45,528.40v4M747.45,616.20v-4M653.50,543.03h2.5M779.50,543.03h-2.5M653.50,557.67h4M779.50,557.67h-4M653.50,572.30h2.5M779.50,572.30h-2.5M653.50,586.93h4M779.50,586.93h-4M653.50,601.57h2.5M779.50,601.57h-2.5" stroke="#000" stroke-width="1" fill="none"/>
<path d="M653.00,528.40H780.00M653.00,616.20H780.00M653.50,527.90V616.70M779.50,527.90V616.70" stroke="#000" stroke-width="1" fill="none"/>
<text x="766.35" y="548.80" class="pn">3</text>
<clipPath id="cB4"><rect x="904.20" y="528.40" width="125.67" height="87.80"/></clipPath>
<g clip-path="url(#cB4)">
<polygon points="904.2,578.2 906.6,578.4 908.9,578.6 911.3,578.8 913.6,578.9 916.0,578.9 918.3,579.0 920.7,579.0 923.1,578.9 925.4,578.8 927.8,578.6 930.1,578.3 932.5,578.2 934.8,578.2 937.2,578.8 939.5,579.9 941.9,581.1 944.3,582.3 946.6,582.8 949.0,582.4 951.3,581.6 953.7,580.8 956.0,580.6 958.4,580.9 960.8,581.5 963.1,581.9 965.5,582.0 967.8,581.8 970.2,581.4 972.5,580.9 974.9,580.4 977.2,579.9 979.6,579.3 982.0,578.7 984.3,578.2 986.7,577.9 989.0,577.7 991.4,577.4 993.7,577.2 996.1,576.9 998.5,576.6 1000.8,576.3 1003.2,576.1 1005.5,576.0 1007.9,576.0 1010.2,576.0 1012.6,576.1 1014.9,576.1 1017.3,576.2 1019.7,576.3 1022.0,576.4 1024.4,576.7 1026.7,577.1 1029.1,577.5 1029.9,577.5 1029.9,595.1 1029.1,595.0 1026.7,594.7 1024.4,594.4 1022.0,594.1 1019.7,594.1 1017.3,594.0 1014.9,594.0 1012.6,594.0 1010.2,594.1 1007.9,594.1 1005.5,594.2 1003.2,594.3 1000.8,594.6 998.5,594.9 996.1,595.2 993.7,595.6 991.4,595.9 989.0,596.2 986.7,596.5 984.3,596.9 982.0,597.4 979.6,598.2 977.2,599.3 974.9,600.4 972.5,601.6 970.2,602.7 967.8,603.7 965.5,604.3 963.1,604.2 960.8,603.5 958.4,602.5 956.0,601.6 953.7,601.3 951.3,601.6 949.0,602.0 946.6,602.1 944.3,601.4 941.9,600.2 939.5,598.9 937.2,597.7 934.8,597.0 932.5,596.8 930.1,596.9 927.8,597.1 925.4,597.2 923.1,597.2 920.7,597.2 918.3,597.1 916.0,597.0 913.6,596.8 911.3,596.6 908.9,596.3 906.6,596.1 904.2,595.8" fill="#fdeaea"/>
<polygon points="904.2,580.2 906.6,580.2 908.9,580.3 911.3,580.3 913.6,580.3 916.0,580.3 918.3,580.4 920.7,580.4 923.1,580.4 925.4,580.4 927.8,580.4 930.1,580.4 932.5,580.4 934.8,580.4 937.2,580.4 939.5,580.4 941.9,580.4 944.3,580.3 946.6,580.2 949.0,579.8 951.3,579.4 953.7,578.9 956.0,578.4 958.4,577.9 960.8,577.4 963.1,577.0 965.5,576.7 967.8,576.6 970.2,576.8 972.5,577.1 974.9,577.6 977.2,578.2 979.6,578.9 982.0,579.7 984.3,580.3 986.7,580.8 989.0,581.0 991.4,581.3 993.7,581.5 996.1,581.5 998.5,581.5 1000.8,581.5 1003.2,581.4 1005.5,581.2 1007.9,581.1 1010.2,581.0 1012.6,580.9 1014.9,580.9 1017.3,580.8 1019.7,580.7 1022.0,580.6 1024.4,580.5 1026.7,580.4 1029.1,580.4 1029.9,580.4 1029.9,593.3 1029.1,593.3 1026.7,593.3 1024.4,593.4 1022.0,593.5 1019.7,593.6 1017.3,593.7 1014.9,593.8 1012.6,593.9 1010.2,594.0 1007.9,594.1 1005.5,594.2 1003.2,594.4 1000.8,594.5 998.5,594.6 996.1,594.6 993.7,594.5 991.4,594.3 989.0,594.1 986.7,593.8 984.3,593.4 982.0,592.8 979.6,592.0 977.2,591.3 974.9,590.7 972.5,590.2 970.2,589.9 967.8,589.8 965.5,589.9 963.1,590.2 960.8,590.6 958.4,591.1 956.0,591.6 953.7,592.1 951.3,592.6 949.0,593.1 946.6,593.4 944.3,593.6 941.9,593.7 939.5,593.7 937.2,593.7 934.8,593.7 932.5,593.7 930.1,593.7 927.8,593.8 925.4,593.8 923.1,593.8 920.7,593.8 918.3,593.8 916.0,593.7 913.6,593.7 911.3,593.7 908.9,593.7 906.6,593.7 904.2,593.7" fill="#ededfc"/>
<line x1="936.00" y1="616.20" x2="936.00" y2="528.40" stroke="#000" stroke-width="1" stroke-dasharray="4.8 5.84"/>
<path d="M904.2,587.0L905.8,587.1L907.3,587.3L908.9,587.5L910.5,587.6L912.1,587.7L913.6,587.8L915.2,587.9L916.8,588.0L918.3,588.0L919.9,588.1L921.5,588.1L923.1,588.1L924.6,588.0L926.2,587.9L927.8,587.8L929.3,587.7L930.9,587.6L932.5,587.5L934.0,587.5L935.6,587.7L937.2,588.2L938.8,589.0L940.3,589.8L941.9,590.7L943.5,591.5L945.0,592.2L946.6,592.5L948.2,592.5L949.8,592.1L951.3,591.6L952.9,591.1L954.5,590.9L956.0,591.0L957.6,591.4L959.2,591.9L960.8,592.5L962.3,592.9L963.9,593.2L965.5,593.2L967.0,593.0L968.6,592.6L970.2,592.1L971.7,591.5L973.3,591.0L974.9,590.4L976.5,589.9L978.0,589.3L979.6,588.7L981.2,588.3L982.7,587.8L984.3,587.5L985.9,587.3L987.5,587.1L989.0,586.9L990.6,586.7L992.2,586.6L993.7,586.4L995.3,586.2L996.9,586.0L998.5,585.7L1000.0,585.5L1001.6,585.4L1003.2,585.2L1004.7,585.1L1006.3,585.1L1007.9,585.0L1009.4,585.0L1011.0,585.0L1012.6,585.1L1014.2,585.1L1015.7,585.1L1017.3,585.1L1018.9,585.1L1020.4,585.2L1022.0,585.3L1023.6,585.4L1025.2,585.6L1026.7,585.9L1028.3,586.2L1029.9,586.4" fill="none" stroke="#ff0000" stroke-width="1.2"/>
<path d="M904.2,586.9L905.8,587.0L907.3,587.0L908.9,587.0L910.5,587.0L912.1,587.0L913.6,587.0L915.2,587.0L916.8,587.0L918.3,587.1L919.9,587.1L921.5,587.1L923.1,587.1L924.6,587.1L926.2,587.1L927.8,587.1L929.3,587.1L930.9,587.1L932.5,587.1L934.0,587.1L935.6,587.1L937.2,587.1L938.8,587.1L940.3,587.0L941.9,587.0L943.5,587.0L945.0,586.9L946.6,586.8L948.2,586.6L949.8,586.3L951.3,586.0L952.9,585.6L954.5,585.3L956.0,585.0L957.6,584.7L959.2,584.3L960.8,584.0L962.3,583.7L963.9,583.5L965.5,583.3L967.0,583.2L968.6,583.2L970.2,583.3L971.7,583.5L973.3,583.8L974.9,584.1L976.5,584.5L978.0,584.9L979.6,585.5L981.2,586.0L982.7,586.5L984.3,586.9L985.9,587.2L987.5,587.4L989.0,587.6L990.6,587.8L992.2,587.9L993.7,588.0L995.3,588.1L996.9,588.1L998.5,588.1L1000.0,588.0L1001.6,587.9L1003.2,587.9L1004.7,587.8L1006.3,587.7L1007.9,587.6L1009.4,587.5L1011.0,587.5L1012.6,587.4L1014.2,587.4L1015.7,587.3L1017.3,587.2L1018.9,587.2L1020.4,587.1L1022.0,587.1L1023.6,587.0L1025.2,586.9L1026.7,586.9L1028.3,586.8L1029.9,586.8" fill="none" stroke="#0000ff" stroke-width="1.2"/>
<line x1="904.20" y1="586.93" x2="1029.87" y2="586.93" stroke="#000" stroke-width="1" stroke-dasharray="1 1.3"/>
</g>
<path d="M935.62,528.40v4M935.62,616.20v-4M967.04,528.40v4M967.04,616.20v-4M998.45,528.40v4M998.45,616.20v-4M904.50,543.03h2.5M1030.50,543.03h-2.5M904.50,557.67h4M1030.50,557.67h-4M904.50,572.30h2.5M1030.50,572.30h-2.5M904.50,586.93h4M1030.50,586.93h-4M904.50,601.57h2.5M1030.50,601.57h-2.5" stroke="#000" stroke-width="1" fill="none"/>
<path d="M904.00,528.40H1031.00M904.00,616.20H1031.00M904.50,527.90V616.70M1030.50,527.90V616.70" stroke="#000" stroke-width="1" fill="none"/>
<text x="1017.55" y="548.80" class="pn">4</text>
<clipPath id="cB5"><rect x="1155.20" y="528.40" width="125.67" height="87.80"/></clipPath>
<g clip-path="url(#cB5)">
<polygon points="1155.2,580.8 1157.6,580.7 1159.9,580.6 1162.3,580.6 1164.6,580.5 1167.0,580.5 1169.3,580.4 1171.7,580.4 1174.1,580.4 1176.4,580.4 1178.8,580.4 1181.1,580.4 1183.5,580.4 1185.8,580.4 1188.2,580.5 1190.5,580.6 1192.9,580.8 1195.3,580.7 1197.6,580.2 1200.0,579.4 1202.3,578.7 1204.7,578.5 1207.0,579.0 1209.4,579.7 1211.8,580.1 1214.1,580.0 1216.5,579.6 1218.8,578.9 1221.2,577.9 1223.5,576.7 1225.9,575.7 1228.2,575.0 1230.6,574.6 1233.0,574.5 1235.3,574.6 1237.7,575.0 1240.0,575.5 1242.4,575.8 1244.7,576.1 1247.1,576.2 1249.5,576.3 1251.8,576.3 1254.2,576.4 1256.5,576.5 1258.9,576.6 1261.2,576.8 1263.6,577.1 1265.9,577.4 1268.3,577.8 1270.7,578.1 1273.0,578.5 1275.4,578.8 1277.7,579.2 1280.1,579.4 1280.9,579.5 1280.9,591.8 1280.1,591.7 1277.7,591.4 1275.4,591.1 1273.0,590.8 1270.7,590.4 1268.3,590.1 1265.9,589.7 1263.6,589.4 1261.2,589.1 1258.9,588.9 1256.5,588.8 1254.2,588.7 1251.8,588.6 1249.5,588.6 1247.1,588.5 1244.7,588.4 1242.4,588.1 1240.0,587.7 1237.7,587.3 1235.3,586.9 1233.0,586.8 1230.6,586.9 1228.2,587.3 1225.9,588.0 1223.5,589.0 1221.2,590.2 1218.8,591.2 1216.5,591.9 1214.1,592.3 1211.8,592.4 1209.4,592.0 1207.0,591.2 1204.7,590.8 1202.3,590.9 1200.0,591.7 1197.6,592.5 1195.3,593.0 1192.9,593.1 1190.5,592.9 1188.2,592.8 1185.8,592.7 1183.5,592.6 1181.1,592.6 1178.8,592.6 1176.4,592.7 1174.1,592.7 1171.7,592.7 1169.3,592.7 1167.0,592.7 1164.6,592.8 1162.3,592.8 1159.9,592.9 1157.6,593.0 1155.2,593.0" fill="#fdeaea"/>
<polygon points="1155.2,582.9 1157.6,582.9 1159.9,583.0 1162.3,583.2 1164.6,583.3 1167.0,583.4 1169.3,583.5 1171.7,583.6 1174.1,583.7 1176.4,583.7 1178.8,583.8 1181.1,583.9 1183.5,584.0 1185.8,584.2 1188.2,584.5 1190.5,585.0 1192.9,585.4 1195.3,585.6 1197.6,585.6 1200.0,585.5 1202.3,585.3 1204.7,585.0 1207.0,584.5 1209.4,583.8 1211.8,583.1 1214.1,582.4 1216.5,581.9 1218.8,581.6 1221.2,581.8 1223.5,582.5 1225.9,583.2 1228.2,583.8 1230.6,584.3 1233.0,584.8 1235.3,585.1 1237.7,585.3 1240.0,585.5 1242.4,585.7 1244.7,585.8 1247.1,585.9 1249.5,585.9 1251.8,585.8 1254.2,585.7 1256.5,585.5 1258.9,585.2 1261.2,584.9 1263.6,584.4 1265.9,584.0 1268.3,583.8 1270.7,583.7 1273.0,583.6 1275.4,583.5 1277.7,583.4 1280.1,583.4 1280.9,583.4 1280.9,590.5 1280.1,590.5 1277.7,590.5 1275.4,590.6 1273.0,590.7 1270.7,590.8 1268.3,590.9 1265.9,591.2 1263.6,591.6 1261.2,592.1 1258.9,592.5 1256.5,592.7 1254.2,593.0 1251.8,593.1 1249.5,593.2 1247.1,593.2 1244.7,593.2 1242.4,593.1 1240.0,592.9 1237.7,592.8 1235.3,592.6 1233.0,592.3 1230.6,591.8 1228.2,591.3 1225.9,590.7 1223.5,590.0 1221.2,589.4 1218.8,589.2 1216.5,589.5 1214.1,590.1 1211.8,590.8 1209.4,591.5 1207.0,592.2 1204.7,592.7 1202.3,593.0 1200.0,593.2 1197.6,593.4 1195.3,593.4 1192.9,593.2 1190.5,592.8 1188.2,592.4 1185.8,592.1 1183.5,591.9 1181.1,591.9 1178.8,591.8 1176.4,591.7 1174.1,591.7 1171.7,591.6 1169.3,591.5 1167.0,591.4 1164.6,591.4 1162.3,591.3 1159.9,591.2 1157.6,591.1 1155.2,591.1" fill="#ededfc"/>
<line x1="1187.00" y1="616.20" x2="1187.00" y2="528.40" stroke="#000" stroke-width="1" stroke-dasharray="4.8 5.84"/>
<path d="M1155.2,586.9L1156.8,586.9L1158.3,586.8L1159.9,586.8L1161.5,586.7L1163.1,586.7L1164.6,586.6L1166.2,586.6L1167.8,586.6L1169.3,586.6L1170.9,586.5L1172.5,586.5L1174.1,586.5L1175.6,586.5L1177.2,586.5L1178.8,586.5L1180.3,586.5L1181.9,586.5L1183.5,586.5L1185.0,586.5L1186.6,586.5L1188.2,586.6L1189.8,586.7L1191.3,586.9L1192.9,587.0L1194.5,587.0L1196.0,586.8L1197.6,586.4L1199.2,585.8L1200.8,585.2L1202.3,584.7L1203.9,584.5L1205.5,584.6L1207.0,585.1L1208.6,585.6L1210.2,586.1L1211.8,586.3L1213.3,586.3L1214.9,586.1L1216.5,585.8L1218.0,585.3L1219.6,584.8L1221.2,584.1L1222.7,583.2L1224.3,582.4L1225.9,581.8L1227.5,581.3L1229.0,581.0L1230.6,580.7L1232.2,580.6L1233.7,580.6L1235.3,580.8L1236.9,581.0L1238.5,581.3L1240.0,581.6L1241.6,581.9L1243.2,582.1L1244.7,582.2L1246.3,582.3L1247.9,582.4L1249.5,582.4L1251.0,582.5L1252.6,582.5L1254.2,582.5L1255.7,582.6L1257.3,582.7L1258.9,582.7L1260.4,582.9L1262.0,583.0L1263.6,583.2L1265.2,583.4L1266.7,583.7L1268.3,583.9L1269.9,584.2L1271.4,584.4L1273.0,584.6L1274.6,584.9L1276.2,585.1L1277.7,585.3L1279.3,585.5L1280.9,585.7" fill="none" stroke="#ff0000" stroke-width="1.2"/>
<path d="M1155.2,587.0L1156.8,587.0L1158.3,587.1L1159.9,587.1L1161.5,587.2L1163.1,587.2L1164.6,587.3L1166.2,587.4L1167.8,587.4L1169.3,587.5L1170.9,587.5L1172.5,587.6L1174.1,587.7L1175.6,587.7L1177.2,587.8L1178.8,587.8L1180.3,587.9L1181.9,587.9L1183.5,588.0L1185.0,588.1L1186.6,588.2L1188.2,588.4L1189.8,588.7L1191.3,589.1L1192.9,589.3L1194.5,589.5L1196.0,589.5L1197.6,589.5L1199.2,589.4L1200.8,589.3L1202.3,589.2L1203.9,589.0L1205.5,588.7L1207.0,588.3L1208.6,587.9L1210.2,587.4L1211.8,586.9L1213.3,586.5L1214.9,586.0L1216.5,585.6L1218.0,585.4L1219.6,585.3L1221.2,585.6L1222.7,586.0L1224.3,586.5L1225.9,587.0L1227.5,587.4L1229.0,587.8L1230.6,588.1L1232.2,588.4L1233.7,588.7L1235.3,588.8L1236.9,589.0L1238.5,589.1L1240.0,589.2L1241.6,589.3L1243.2,589.4L1244.7,589.5L1246.3,589.5L1247.9,589.5L1249.5,589.5L1251.0,589.5L1252.6,589.4L1254.2,589.3L1255.7,589.2L1257.3,589.1L1258.9,588.9L1260.4,588.6L1262.0,588.3L1263.6,588.0L1265.2,587.7L1266.7,587.5L1268.3,587.4L1269.9,587.3L1271.4,587.2L1273.0,587.1L1274.6,587.1L1276.2,587.0L1277.7,587.0L1279.3,586.9L1280.9,586.9" fill="none" stroke="#0000ff" stroke-width="1.2"/>
<line x1="1155.20" y1="586.93" x2="1280.87" y2="586.93" stroke="#000" stroke-width="1" stroke-dasharray="1 1.3"/>
</g>
<path d="M1186.62,528.40v4M1186.62,616.20v-4M1218.04,528.40v4M1218.04,616.20v-4M1249.45,528.40v4M1249.45,616.20v-4M1155.50,543.03h2.5M1281.50,543.03h-2.5M1155.50,557.67h4M1281.50,557.67h-4M1155.50,572.30h2.5M1281.50,572.30h-2.5M1155.50,586.93h4M1281.50,586.93h-4M1155.50,601.57h2.5M1281.50,601.57h-2.5" stroke="#000" stroke-width="1" fill="none"/>
<path d="M1155.00,528.40H1282.00M1155.00,616.20H1282.00M1155.50,527.90V616.70M1281.50,527.90V616.70" stroke="#000" stroke-width="1" fill="none"/>
<text x="1270.20" y="548.80" class="pn">5</text>
<clipPath id="cB6"><rect x="87.20" y="616.20" width="125.67" height="87.80"/></clipPath>
<g clip-path="url(#cB6)">
<polygon points="87.2,665.6 89.6,666.1 91.9,666.6 94.3,667.2 96.6,667.6 99.0,668.0 101.3,668.3 103.7,668.6 106.1,668.8 108.4,669.0 110.8,669.2 113.1,669.4 115.5,669.7 117.8,670.0 120.2,670.5 122.5,671.4 124.9,672.4 127.3,673.0 129.6,672.4 132.0,670.7 134.3,668.2 136.7,665.5 139.0,663.2 141.4,661.8 143.8,660.9 146.1,660.2 148.5,659.6 150.8,658.9 153.2,658.3 155.5,657.8 157.9,657.4 160.2,657.2 162.6,657.2 165.0,657.3 167.3,657.5 169.7,657.7 172.0,657.9 174.4,658.4 176.7,658.8 179.1,659.2 181.5,659.5 183.8,659.7 186.2,659.8 188.5,659.9 190.9,660.1 193.2,660.4 195.6,660.9 197.9,661.4 200.3,662.0 202.7,662.5 205.0,663.1 207.4,663.7 209.7,664.3 212.1,664.8 212.9,664.9 212.9,682.4 212.1,682.3 209.7,681.7 207.4,681.1 205.0,680.5 202.7,679.9 200.3,679.3 197.9,678.7 195.6,678.1 193.2,677.5 190.9,677.2 188.5,676.9 186.2,676.8 183.8,676.6 181.5,676.4 179.1,676.0 176.7,675.5 174.4,675.0 172.0,674.6 169.7,674.2 167.3,674.0 165.0,673.8 162.6,673.7 160.2,673.7 157.9,673.9 155.5,674.4 153.2,675.0 150.8,675.7 148.5,676.4 146.1,677.1 143.8,677.9 141.4,678.9 139.0,680.4 136.7,682.7 134.3,685.5 132.0,688.1 129.6,689.9 127.3,690.6 124.9,690.1 122.5,689.1 120.2,688.3 117.8,687.9 115.5,687.6 113.1,687.4 110.8,687.3 108.4,687.2 106.1,687.0 103.7,686.8 101.3,686.6 99.0,686.4 96.6,686.1 94.3,685.7 91.9,685.2 89.6,684.7 87.2,684.3" fill="#fdeaea"/>
<polygon points="87.2,669.2 89.6,669.2 91.9,669.2 94.3,669.2 96.6,669.2 99.0,669.2 101.3,669.1 103.7,669.0 106.1,668.9 108.4,668.8 110.8,668.7 113.1,668.6 115.5,668.5 117.8,668.4 120.2,668.3 122.5,668.2 124.9,668.2 127.3,668.1 129.6,668.1 132.0,668.2 134.3,668.4 136.7,668.6 139.0,669.0 141.4,669.4 143.8,669.9 146.1,670.4 148.5,670.9 150.8,671.4 153.2,671.8 155.5,672.2 157.9,672.6 160.2,673.0 162.6,673.1 165.0,673.2 167.3,673.2 169.7,673.2 172.0,673.2 174.4,673.2 176.7,673.1 179.1,672.9 181.5,672.7 183.8,672.5 186.2,672.3 188.5,672.1 190.9,671.9 193.2,671.7 195.6,671.5 197.9,671.3 200.3,671.0 202.7,670.8 205.0,670.6 207.4,670.3 209.7,670.1 212.1,669.9 212.9,669.8 212.9,680.4 212.1,680.4 209.7,680.6 207.4,680.9 205.0,681.2 202.7,681.4 200.3,681.6 197.9,681.9 195.6,682.1 193.2,682.3 190.9,682.5 188.5,682.8 186.2,683.0 183.8,683.2 181.5,683.4 179.1,683.6 176.7,683.8 174.4,683.9 172.0,683.9 169.7,683.9 167.3,683.9 165.0,683.9 162.6,683.9 160.2,683.7 157.9,683.4 155.5,683.0 153.2,682.6 150.8,682.2 148.5,681.7 146.1,681.2 143.8,680.8 141.4,680.3 139.0,679.9 136.7,679.5 134.3,679.3 132.0,679.1 129.6,679.1 127.3,679.1 124.9,679.1 122.5,679.2 120.2,679.3 117.8,679.4 115.5,679.5 113.1,679.6 110.8,679.7 108.4,679.8 106.1,680.0 103.7,680.1 101.3,680.2 99.0,680.2 96.6,680.3 94.3,680.3 91.9,680.3 89.6,680.3 87.2,680.3" fill="#ededfc"/>
<line x1="118.65" y1="704.00" x2="118.65" y2="616.20" stroke="#000" stroke-width="1" stroke-dasharray="4.8 5.84"/>
<path d="M87.2,674.9L88.8,675.2L90.3,675.6L91.9,675.9L93.5,676.3L95.1,676.6L96.6,676.9L98.2,677.1L99.8,677.3L101.3,677.5L102.9,677.6L104.5,677.8L106.1,677.9L107.6,678.1L109.2,678.2L110.8,678.3L112.3,678.4L113.9,678.5L115.5,678.6L117.0,678.8L118.6,679.0L120.2,679.4L121.8,679.9L123.3,680.6L124.9,681.3L126.5,681.9L128.0,681.9L129.6,681.3L131.2,680.2L132.8,678.7L134.3,676.9L135.9,675.0L137.5,673.1L139.0,671.7L140.6,670.7L142.2,670.0L143.8,669.4L145.3,668.9L146.9,668.4L148.5,668.0L150.0,667.6L151.6,667.1L153.2,666.7L154.7,666.3L156.3,665.9L157.9,665.6L159.5,665.5L161.0,665.4L162.6,665.4L164.2,665.5L165.7,665.6L167.3,665.7L168.9,665.8L170.5,666.0L172.0,666.2L173.6,666.5L175.2,666.8L176.7,667.2L178.3,667.5L179.9,667.8L181.5,668.0L183.0,668.1L184.6,668.2L186.2,668.3L187.7,668.4L189.3,668.5L190.9,668.6L192.4,668.8L194.0,669.1L195.6,669.5L197.2,669.8L198.7,670.2L200.3,670.6L201.9,671.0L203.4,671.4L205.0,671.8L206.6,672.2L208.2,672.6L209.7,673.0L211.3,673.4L212.9,673.7" fill="none" stroke="#ff0000" stroke-width="1.2"/>
<path d="M87.2,674.7L88.8,674.7L90.3,674.7L91.9,674.7L93.5,674.7L95.1,674.7L96.6,674.7L98.2,674.7L99.8,674.7L101.3,674.6L102.9,674.6L104.5,674.5L106.1,674.5L107.6,674.4L109.2,674.3L110.8,674.2L112.3,674.1L113.9,674.1L115.5,674.0L117.0,673.9L118.6,673.9L120.2,673.8L121.8,673.8L123.3,673.7L124.9,673.7L126.5,673.6L128.0,673.6L129.6,673.6L131.2,673.6L132.8,673.7L134.3,673.8L135.9,674.0L137.5,674.2L139.0,674.4L140.6,674.7L142.2,675.0L143.8,675.3L145.3,675.6L146.9,676.0L148.5,676.3L150.0,676.6L151.6,676.9L153.2,677.2L154.7,677.5L156.3,677.8L157.9,678.1L159.5,678.3L161.0,678.4L162.6,678.5L164.2,678.5L165.7,678.5L167.3,678.5L168.9,678.5L170.5,678.5L172.0,678.5L173.6,678.5L175.2,678.5L176.7,678.5L178.3,678.4L179.9,678.2L181.5,678.1L183.0,677.9L184.6,677.8L186.2,677.6L187.7,677.5L189.3,677.4L190.9,677.2L192.4,677.1L194.0,676.9L195.6,676.8L197.2,676.6L198.7,676.5L200.3,676.3L201.9,676.2L203.4,676.0L205.0,675.9L206.6,675.7L208.2,675.5L209.7,675.4L211.3,675.2L212.9,675.1" fill="none" stroke="#0000ff" stroke-width="1.2"/>
<line x1="87.20" y1="674.73" x2="212.87" y2="674.73" stroke="#000" stroke-width="1" stroke-dasharray="1 1.3"/>
</g>
<path d="M118.62,616.20v4M118.62,704.00v-4M150.03,616.20v4M150.03,704.00v-4M181.45,616.20v4M181.45,704.00v-4M87.50,630.83h2.5M212.50,630.83h-2.5M87.50,645.47h4M212.50,645.47h-4M87.50,660.10h2.5M212.50,660.10h-2.5M87.50,674.73h4M212.50,674.73h-4M87.50,689.37h2.5M212.50,689.37h-2.5" stroke="#000" stroke-width="1" fill="none"/>
<path d="M87.00,616.20H213.00M87.00,704.00H213.00M87.50,615.70V704.50M212.50,615.70V704.50" stroke="#000" stroke-width="1" fill="none"/>
<text x="199.95" y="636.60" class="pn">6</text>
<clipPath id="cB7"><rect x="212.20" y="616.20" width="125.67" height="87.80"/></clipPath>
<g clip-path="url(#cB7)">
<polygon points="212.2,664.3 214.6,664.5 216.9,664.8 219.3,665.1 221.6,665.4 224.0,665.6 226.3,665.7 228.7,665.8 231.1,665.9 233.4,665.9 235.8,666.0 238.1,666.1 240.5,666.2 242.8,666.3 245.2,666.5 247.5,666.9 249.9,667.5 252.3,667.7 254.6,666.9 257.0,665.2 259.3,663.4 261.7,662.1 264.0,661.7 266.4,661.8 268.8,662.0 271.1,662.4 273.5,662.7 275.8,662.5 278.2,662.0 280.5,661.4 282.9,660.8 285.2,660.4 287.6,660.2 290.0,660.1 292.3,660.1 294.7,660.2 297.0,660.3 299.4,660.4 301.7,660.4 304.1,660.5 306.5,660.5 308.8,660.5 311.2,660.6 313.5,660.6 315.9,660.7 318.2,660.9 320.6,661.1 322.9,661.4 325.3,661.7 327.7,662.0 330.0,662.3 332.4,662.7 334.7,663.1 337.1,663.4 337.9,663.5 337.9,683.4 337.1,683.3 334.7,682.9 332.4,682.5 330.0,682.2 327.7,681.8 325.3,681.5 322.9,681.1 320.6,680.9 318.2,680.6 315.9,680.4 313.5,680.3 311.2,680.2 308.8,680.2 306.5,680.1 304.1,680.1 301.7,680.0 299.4,679.9 297.0,679.8 294.7,679.7 292.3,679.6 290.0,679.5 287.6,679.6 285.2,679.8 282.9,680.2 280.5,680.7 278.2,681.4 275.8,681.9 273.5,682.0 271.1,681.8 268.8,681.5 266.4,681.3 264.0,681.3 261.7,681.8 259.3,683.2 257.0,685.0 254.6,686.7 252.3,687.7 249.9,687.6 247.5,687.0 245.2,686.7 242.8,686.5 240.5,686.5 238.1,686.4 235.8,686.4 233.4,686.4 231.1,686.4 228.7,686.4 226.3,686.4 224.0,686.3 221.6,686.2 219.3,686.0 216.9,685.8 214.6,685.5 212.2,685.4" fill="#fdeaea"/>
<polygon points="212.2,667.7 214.6,667.7 216.9,667.7 219.3,667.8 221.6,667.8 224.0,667.8 226.3,667.8 228.7,667.9 231.1,667.9 233.4,667.9 235.8,668.0 238.1,668.0 240.5,668.1 242.8,668.2 245.2,668.5 247.5,669.0 249.9,669.4 252.3,669.6 254.6,669.2 257.0,668.7 259.3,668.3 261.7,668.1 264.0,668.1 266.4,668.0 268.8,667.9 271.1,667.8 273.5,667.6 275.8,667.5 278.2,667.6 280.5,668.0 282.9,668.7 285.2,669.3 287.6,669.7 290.0,669.9 292.3,670.0 294.7,670.1 297.0,670.2 299.4,670.3 301.7,670.3 304.1,670.3 306.5,670.2 308.8,670.1 311.2,670.0 313.5,669.8 315.9,669.6 318.2,669.3 320.6,669.0 322.9,668.7 325.3,668.5 327.7,668.3 330.0,668.2 332.4,668.1 334.7,668.0 337.1,668.0 337.9,668.0 337.9,680.9 337.1,680.9 334.7,680.9 332.4,681.0 330.0,681.1 327.7,681.3 325.3,681.5 322.9,681.7 320.6,682.0 318.2,682.4 315.9,682.7 313.5,683.0 311.2,683.1 308.8,683.3 306.5,683.4 304.1,683.5 301.7,683.5 299.4,683.5 297.0,683.5 294.7,683.4 292.3,683.3 290.0,683.2 287.6,683.0 285.2,682.6 282.9,682.0 280.5,681.4 278.2,681.0 275.8,681.0 273.5,681.1 271.1,681.3 268.8,681.4 266.4,681.6 264.0,681.6 261.7,681.7 259.3,681.9 257.0,682.3 254.6,682.9 252.3,683.2 249.9,683.1 247.5,682.7 245.2,682.3 242.8,682.0 240.5,681.9 238.1,681.8 235.8,681.8 233.4,681.8 231.1,681.8 228.7,681.8 226.3,681.7 224.0,681.7 221.6,681.7 219.3,681.7 216.9,681.7 214.6,681.7 212.2,681.8" fill="#ededfc"/>
<line x1="243.65" y1="704.00" x2="243.65" y2="616.20" stroke="#000" stroke-width="1" stroke-dasharray="4.8 5.84"/>
<path d="M212.2,674.8L213.8,675.0L215.3,675.1L216.9,675.3L218.5,675.5L220.1,675.6L221.6,675.8L223.2,675.9L224.8,676.0L226.3,676.1L227.9,676.1L229.5,676.1L231.1,676.2L232.6,676.2L234.2,676.2L235.8,676.2L237.3,676.2L238.9,676.3L240.5,676.3L242.0,676.4L243.6,676.5L245.2,676.6L246.8,676.8L248.3,677.1L249.9,677.6L251.5,677.9L253.0,677.7L254.6,676.9L256.2,675.8L257.8,674.5L259.3,673.3L260.9,672.2L262.5,671.6L264.0,671.5L265.6,671.5L267.2,671.6L268.8,671.8L270.3,672.0L271.9,672.2L273.5,672.4L275.0,672.4L276.6,672.1L278.2,671.7L279.7,671.2L281.3,670.8L282.9,670.5L284.5,670.2L286.0,670.0L287.6,669.9L289.2,669.8L290.7,669.8L292.3,669.8L293.9,669.9L295.5,670.0L297.0,670.0L298.6,670.1L300.2,670.2L301.7,670.2L303.3,670.3L304.9,670.3L306.5,670.3L308.0,670.3L309.6,670.4L311.2,670.4L312.7,670.4L314.3,670.5L315.9,670.6L317.4,670.7L319.0,670.8L320.6,671.0L322.2,671.2L323.7,671.4L325.3,671.6L326.9,671.8L328.4,672.0L330.0,672.2L331.6,672.5L333.2,672.7L334.7,673.0L336.3,673.3L337.9,673.4" fill="none" stroke="#ff0000" stroke-width="1.2"/>
<path d="M212.2,674.7L213.8,674.7L215.3,674.7L216.9,674.7L218.5,674.7L220.1,674.7L221.6,674.8L223.2,674.8L224.8,674.8L226.3,674.8L227.9,674.8L229.5,674.8L231.1,674.8L232.6,674.9L234.2,674.9L235.8,674.9L237.3,674.9L238.9,674.9L240.5,675.0L242.0,675.0L243.6,675.1L245.2,675.4L246.8,675.7L248.3,676.0L249.9,676.3L251.5,676.5L253.0,676.4L254.6,676.1L256.2,675.6L257.8,675.3L259.3,675.0L260.9,674.9L262.5,674.9L264.0,674.8L265.6,674.8L267.2,674.8L268.8,674.7L270.3,674.6L271.9,674.5L273.5,674.4L275.0,674.3L276.6,674.2L278.2,674.3L279.7,674.5L281.3,674.9L282.9,675.4L284.5,675.8L286.0,676.1L287.6,676.4L289.2,676.5L290.7,676.6L292.3,676.7L293.9,676.8L295.5,676.8L297.0,676.9L298.6,676.9L300.2,676.9L301.7,676.9L303.3,676.9L304.9,676.9L306.5,676.8L308.0,676.7L309.6,676.7L311.2,676.6L312.7,676.5L314.3,676.3L315.9,676.2L317.4,676.0L319.0,675.7L320.6,675.5L322.2,675.3L323.7,675.1L325.3,675.0L326.9,674.8L328.4,674.8L330.0,674.7L331.6,674.6L333.2,674.5L334.7,674.5L336.3,674.5L337.9,674.4" fill="none" stroke="#0000ff" stroke-width="1.2"/>
<line x1="212.20" y1="674.73" x2="337.87" y2="674.73" stroke="#000" stroke-width="1" stroke-dasharray="1 1.3"/>
</g>
<path d="M243.62,616.20v4M243.62,704.00v-4M275.03,616.20v4M275.03,704.00v-4M306.45,616.20v4M306.45,704.00v-4M213.50,630.83h2.5M338.50,630.83h-2.5M213.50,645.47h4M338.50,645.47h-4M213.50,660.10h2.5M338.50,660.10h-2.5M213.50,674.73h4M338.50,674.73h-4M213.50,689.37h2.5M338.50,689.37h-2.5" stroke="#000" stroke-width="1" fill="none"/>
<path d="M213.00,616.20H339.00M213.00,704.00H339.00M213.50,615.70V704.50M338.50,615.70V704.50" stroke="#000" stroke-width="1" fill="none"/>
<text x="326.10" y="636.60" class="pn">7</text>
<clipPath id="cB8"><rect x="338.20" y="616.20" width="125.67" height="87.80"/></clipPath>
<g clip-path="url(#cB8)">
<polygon points="338.2,663.0 340.6,663.0 342.9,663.0 345.3,663.0 347.6,663.0 350.0,663.0 352.3,663.0 354.7,663.0 357.1,663.0 359.4,663.0 361.8,663.0 364.1,663.0 366.5,663.0 368.8,663.1 371.2,663.4 373.5,663.9 375.9,664.5 378.3,664.8 380.6,664.3 383.0,663.2 385.3,662.1 387.7,661.2 390.0,661.2 392.4,661.9 394.8,663.0 397.1,664.1 399.5,664.5 401.8,664.1 404.2,663.2 406.5,662.3 408.9,661.5 411.2,661.0 413.6,660.7 416.0,660.7 418.3,660.7 420.7,660.7 423.0,660.7 425.4,660.7 427.7,660.7 430.1,660.7 432.5,660.7 434.8,660.7 437.2,660.7 439.5,660.7 441.9,660.8 444.2,660.8 446.6,660.9 448.9,660.9 451.3,661.0 453.7,661.1 456.0,661.2 458.4,661.3 460.7,661.5 463.1,661.6 463.9,661.7 463.9,685.1 463.1,685.0 460.7,684.9 458.4,684.8 456.0,684.6 453.7,684.5 451.3,684.4 448.9,684.4 446.6,684.3 444.2,684.2 441.9,684.2 439.5,684.2 437.2,684.1 434.8,684.1 432.5,684.1 430.1,684.1 427.7,684.1 425.4,684.1 423.0,684.1 420.7,684.1 418.3,684.1 416.0,684.1 413.6,684.2 411.2,684.4 408.9,684.9 406.5,685.7 404.2,686.6 401.8,687.5 399.5,687.9 397.1,687.5 394.8,686.5 392.4,685.4 390.0,684.6 387.7,684.7 385.3,685.5 383.0,686.7 380.6,687.7 378.3,688.2 375.9,687.9 373.5,687.3 371.2,686.8 368.8,686.5 366.5,686.4 364.1,686.4 361.8,686.4 359.4,686.4 357.1,686.4 354.7,686.4 352.3,686.4 350.0,686.4 347.6,686.4 345.3,686.4 342.9,686.4 340.6,686.4 338.2,686.4" fill="#fdeaea"/>
<polygon points="338.2,666.2 340.6,666.2 342.9,666.2 345.3,666.2 347.6,666.2 350.0,666.2 352.3,666.2 354.7,666.2 357.1,666.2 359.4,666.2 361.8,666.2 364.1,666.2 366.5,666.3 368.8,666.3 371.2,666.6 373.5,667.3 375.9,668.0 378.3,668.3 380.6,668.1 383.0,667.4 385.3,666.8 387.7,666.4 390.0,666.1 392.4,665.8 394.8,665.4 397.1,664.9 399.5,664.3 401.8,663.9 404.2,664.0 406.5,664.5 408.9,665.2 411.2,665.8 413.6,666.3 416.0,666.7 418.3,667.0 420.7,667.3 423.0,667.6 425.4,667.8 427.7,668.0 430.1,668.1 432.5,668.1 434.8,668.1 437.2,668.0 439.5,667.8 441.9,667.7 444.2,667.5 446.6,667.3 448.9,667.1 451.3,666.9 453.7,666.8 456.0,666.6 458.4,666.5 460.7,666.4 463.1,666.3 463.9,666.3 463.9,683.3 463.1,683.3 460.7,683.4 458.4,683.5 456.0,683.6 453.7,683.8 451.3,683.9 448.9,684.1 446.6,684.3 444.2,684.5 441.9,684.6 439.5,684.8 437.2,684.9 434.8,685.0 432.5,685.1 430.1,685.1 427.7,685.0 425.4,684.8 423.0,684.5 420.7,684.3 418.3,684.0 416.0,683.6 413.6,683.2 411.2,682.8 408.9,682.2 406.5,681.5 404.2,680.9 401.8,680.9 399.5,681.3 397.1,681.9 394.8,682.4 392.4,682.8 390.0,683.1 387.7,683.4 385.3,683.8 383.0,684.4 380.6,685.0 378.3,685.3 375.9,685.0 373.5,684.2 371.2,683.6 368.8,683.3 366.5,683.2 364.1,683.2 361.8,683.2 359.4,683.2 357.1,683.2 354.7,683.2 352.3,683.2 350.0,683.2 347.6,683.2 345.3,683.2 342.9,683.2 340.6,683.2 338.2,683.2" fill="#ededfc"/>
<line x1="369.65" y1="704.00" x2="369.65" y2="616.20" stroke="#000" stroke-width="1" stroke-dasharray="4.8 5.84"/>
<path d="M338.2,674.7L339.8,674.7L341.3,674.7L342.9,674.7L344.5,674.7L346.1,674.7L347.6,674.7L349.2,674.7L350.8,674.7L352.3,674.7L353.9,674.7L355.5,674.7L357.1,674.7L358.6,674.7L360.2,674.7L361.8,674.7L363.3,674.7L364.9,674.7L366.5,674.7L368.0,674.7L369.6,674.8L371.2,675.0L372.8,675.4L374.3,675.9L375.9,676.3L377.5,676.5L379.0,676.5L380.6,676.0L382.2,675.3L383.8,674.6L385.3,673.8L386.9,673.1L388.5,672.7L390.0,672.8L391.6,673.3L393.2,674.0L394.8,674.8L396.3,675.5L397.9,676.1L399.5,676.3L401.0,676.1L402.6,675.5L404.2,674.8L405.7,674.2L407.3,673.7L408.9,673.2L410.5,672.8L412.0,672.5L413.6,672.4L415.2,672.4L416.7,672.4L418.3,672.4L419.9,672.4L421.5,672.4L423.0,672.4L424.6,672.4L426.2,672.4L427.7,672.4L429.3,672.4L430.9,672.4L432.5,672.4L434.0,672.4L435.6,672.4L437.2,672.4L438.7,672.4L440.3,672.5L441.9,672.5L443.4,672.5L445.0,672.6L446.6,672.6L448.2,672.6L449.7,672.7L451.3,672.7L452.9,672.8L454.4,672.8L456.0,672.9L457.6,673.0L459.2,673.1L460.7,673.2L462.3,673.3L463.9,673.4" fill="none" stroke="#ff0000" stroke-width="1.2"/>
<path d="M338.2,674.7L339.8,674.7L341.3,674.7L342.9,674.7L344.5,674.7L346.1,674.7L347.6,674.7L349.2,674.7L350.8,674.7L352.3,674.7L353.9,674.7L355.5,674.7L357.1,674.7L358.6,674.7L360.2,674.7L361.8,674.7L363.3,674.7L364.9,674.7L366.5,674.7L368.0,674.7L369.6,674.8L371.2,675.1L372.8,675.5L374.3,676.0L375.9,676.5L377.5,676.8L379.0,676.9L380.6,676.6L382.2,676.1L383.8,675.7L385.3,675.2L386.9,675.0L388.5,674.8L390.0,674.6L391.6,674.4L393.2,674.2L394.8,673.9L396.3,673.6L397.9,673.2L399.5,672.7L401.0,672.4L402.6,672.3L404.2,672.4L405.7,672.8L407.3,673.2L408.9,673.7L410.5,674.1L412.0,674.5L413.6,674.8L415.2,675.0L416.7,675.3L418.3,675.5L419.9,675.7L421.5,675.9L423.0,676.1L424.6,676.2L426.2,676.4L427.7,676.5L429.3,676.6L430.9,676.6L432.5,676.6L434.0,676.6L435.6,676.5L437.2,676.4L438.7,676.4L440.3,676.3L441.9,676.2L443.4,676.0L445.0,675.9L446.6,675.8L448.2,675.7L449.7,675.5L451.3,675.4L452.9,675.3L454.4,675.2L456.0,675.1L457.6,675.0L459.2,675.0L460.7,674.9L462.3,674.8L463.9,674.8" fill="none" stroke="#0000ff" stroke-width="1.2"/>
<line x1="338.20" y1="674.73" x2="463.87" y2="674.73" stroke="#000" stroke-width="1" stroke-dasharray="1 1.3"/>
</g>
<path d="M369.62,616.20v4M369.62,704.00v-4M401.03,616.20v4M401.03,704.00v-4M432.45,616.20v4M432.45,704.00v-4M338.50,630.83h2.5M464.50,630.83h-2.5M338.50,645.47h4M464.50,645.47h-4M338.50,660.10h2.5M464.50,660.10h-2.5M338.50,674.73h4M464.50,674.73h-4M338.50,689.37h2.5M464.50,689.37h-2.5" stroke="#000" stroke-width="1" fill="none"/>
<path d="M338.00,616.20H465.00M338.00,704.00H465.00M338.50,615.70V704.50M464.50,615.70V704.50" stroke="#000" stroke-width="1" fill="none"/>
<text x="451.90" y="636.60" class="pn">8</text>
<clipPath id="cB9"><rect x="464.20" y="616.20" width="125.67" height="87.80"/></clipPath>
<g clip-path="url(#cB9)">
<polygon points="464.2,666.0 466.6,666.1 468.9,666.2 471.3,666.3 473.6,666.4 476.0,666.5 478.3,666.5 480.7,666.5 483.1,666.5 485.4,666.5 487.8,666.3 490.1,666.2 492.5,666.1 494.8,666.1 497.2,666.4 499.5,667.2 501.9,668.2 504.3,668.8 506.6,668.4 509.0,667.3 511.3,665.7 513.7,664.4 516.0,664.0 518.4,664.7 520.8,665.8 523.1,666.9 525.5,667.5 527.8,667.2 530.2,666.4 532.5,665.4 534.9,664.2 537.2,663.2 539.6,662.6 542.0,662.5 544.3,662.5 546.7,662.6 549.0,662.7 551.4,662.8 553.7,662.9 556.1,663.0 558.5,663.0 560.8,663.1 563.2,663.2 565.5,663.2 567.9,663.3 570.2,663.4 572.6,663.5 574.9,663.7 577.3,663.8 579.7,663.9 582.0,664.1 584.4,664.2 586.7,664.3 589.1,664.4 589.9,664.4 589.9,682.0 589.1,682.0 586.7,681.9 584.4,681.8 582.0,681.6 579.7,681.5 577.3,681.4 574.9,681.2 572.6,681.1 570.2,681.0 567.9,680.9 565.5,680.8 563.2,680.7 560.8,680.7 558.5,680.6 556.1,680.5 553.7,680.4 551.4,680.4 549.0,680.3 546.7,680.2 544.3,680.1 542.0,680.1 539.6,680.2 537.2,680.8 534.9,681.8 532.5,683.0 530.2,684.0 527.8,684.8 525.5,685.1 523.1,684.5 520.8,683.4 518.4,682.2 516.0,681.6 513.7,681.9 511.3,683.3 509.0,684.8 506.6,686.0 504.3,686.3 501.9,685.8 499.5,684.8 497.2,684.0 494.8,683.6 492.5,683.6 490.1,683.8 487.8,683.9 485.4,684.0 483.1,684.1 480.7,684.1 478.3,684.1 476.0,684.0 473.6,684.0 471.3,683.9 468.9,683.8 466.6,683.7 464.2,683.6" fill="#fdeaea"/>
<polygon points="464.2,667.4 466.6,667.4 468.9,667.4 471.3,667.4 473.6,667.4 476.0,667.4 478.3,667.4 480.7,667.5 483.1,667.5 485.4,667.5 487.8,667.5 490.1,667.5 492.5,667.5 494.8,667.6 497.2,668.1 499.5,668.9 501.9,669.9 504.3,670.6 506.6,670.5 509.0,669.9 511.3,669.1 513.7,668.4 516.0,667.9 518.4,667.3 520.8,666.8 523.1,666.3 525.5,665.9 527.8,665.7 530.2,665.8 532.5,666.3 534.9,667.0 537.2,667.6 539.6,668.2 542.0,668.7 544.3,669.0 546.7,669.3 549.0,669.5 551.4,669.6 553.7,669.8 556.1,669.9 558.5,669.9 560.8,669.8 563.2,669.7 565.5,669.5 567.9,669.3 570.2,669.1 572.6,668.9 574.9,668.7 577.3,668.4 579.7,668.2 582.0,668.0 584.4,667.8 586.7,667.6 589.1,667.5 589.9,667.5 589.9,682.1 589.1,682.1 586.7,682.3 584.4,682.4 582.0,682.6 579.7,682.8 577.3,683.1 574.9,683.3 572.6,683.5 570.2,683.7 567.9,683.9 565.5,684.1 563.2,684.3 560.8,684.4 558.5,684.5 556.1,684.5 553.7,684.4 551.4,684.3 549.0,684.1 546.7,683.9 544.3,683.7 542.0,683.3 539.6,682.8 537.2,682.3 534.9,681.6 532.5,681.0 530.2,680.4 527.8,680.3 525.5,680.6 523.1,681.0 520.8,681.5 518.4,682.0 516.0,682.5 513.7,683.1 511.3,683.7 509.0,684.5 506.6,685.1 504.3,685.2 501.9,684.6 499.5,683.5 497.2,682.7 494.8,682.3 492.5,682.2 490.1,682.1 487.8,682.1 485.4,682.1 483.1,682.1 480.7,682.1 478.3,682.1 476.0,682.1 473.6,682.1 471.3,682.1 468.9,682.1 466.6,682.1 464.2,682.1" fill="#ededfc"/>
<line x1="495.65" y1="704.00" x2="495.65" y2="616.20" stroke="#000" stroke-width="1" stroke-dasharray="4.8 5.84"/>
<path d="M464.2,674.8L465.8,674.8L467.3,674.9L468.9,675.0L470.5,675.1L472.1,675.2L473.6,675.2L475.2,675.2L476.8,675.3L478.3,675.3L479.9,675.3L481.5,675.3L483.1,675.3L484.6,675.3L486.2,675.2L487.8,675.1L489.3,675.0L490.9,674.9L492.5,674.8L494.0,674.8L495.6,674.9L497.2,675.1L498.8,675.7L500.3,676.3L501.9,677.0L503.5,677.5L505.0,677.7L506.6,677.3L508.2,676.6L509.8,675.6L511.3,674.5L512.9,673.4L514.5,672.7L516.0,672.7L517.6,673.1L519.2,673.8L520.8,674.6L522.3,675.4L523.9,676.1L525.5,676.4L527.0,676.3L528.6,675.8L530.2,675.2L531.7,674.5L533.3,673.8L534.9,673.0L536.5,672.2L538.0,671.7L539.6,671.3L541.2,671.3L542.7,671.3L544.3,671.3L545.9,671.4L547.5,671.4L549.0,671.5L550.6,671.6L552.2,671.6L553.7,671.7L555.3,671.7L556.9,671.8L558.5,671.8L560.0,671.8L561.6,671.9L563.2,671.9L564.7,672.0L566.3,672.0L567.9,672.1L569.4,672.2L571.0,672.2L572.6,672.3L574.2,672.4L575.7,672.5L577.3,672.6L578.9,672.7L580.4,672.8L582.0,672.8L583.6,672.9L585.2,673.0L586.7,673.1L588.3,673.2L589.9,673.2" fill="none" stroke="#ff0000" stroke-width="1.2"/>
<path d="M464.2,674.7L465.8,674.7L467.3,674.7L468.9,674.7L470.5,674.7L472.1,674.7L473.6,674.7L475.2,674.7L476.8,674.8L478.3,674.8L479.9,674.8L481.5,674.8L483.1,674.8L484.6,674.8L486.2,674.8L487.8,674.8L489.3,674.8L490.9,674.8L492.5,674.8L494.0,674.9L495.6,675.0L497.2,675.3L498.8,675.9L500.3,676.6L501.9,677.3L503.5,677.8L505.0,678.0L506.6,677.9L508.2,677.4L509.8,676.9L511.3,676.4L512.9,675.9L514.5,675.5L516.0,675.2L517.6,674.8L519.2,674.5L520.8,674.1L522.3,673.8L523.9,673.5L525.5,673.2L527.0,673.0L528.6,672.9L530.2,673.1L531.7,673.4L533.3,673.9L534.9,674.3L536.5,674.7L538.0,675.1L539.6,675.5L541.2,675.9L542.7,676.1L544.3,676.4L545.9,676.5L547.5,676.7L549.0,676.8L550.6,676.9L552.2,677.0L553.7,677.1L555.3,677.2L556.9,677.2L558.5,677.2L560.0,677.2L561.6,677.1L563.2,677.0L564.7,676.9L566.3,676.8L567.9,676.6L569.4,676.5L571.0,676.4L572.6,676.2L574.2,676.1L575.7,675.9L577.3,675.7L578.9,675.6L580.4,675.4L582.0,675.3L583.6,675.2L585.2,675.1L586.7,674.9L588.3,674.8L589.9,674.8" fill="none" stroke="#0000ff" stroke-width="1.2"/>
<line x1="464.20" y1="674.73" x2="589.87" y2="674.73" stroke="#000" stroke-width="1" stroke-dasharray="1 1.3"/>
</g>
<path d="M495.62,616.20v4M495.62,704.00v-4M527.03,616.20v4M527.03,704.00v-4M558.45,616.20v4M558.45,704.00v-4M464.50,630.83h2.5M590.50,630.83h-2.5M464.50,645.47h4M590.50,645.47h-4M464.50,660.10h2.5M590.50,660.10h-2.5M464.50,674.73h4M590.50,674.73h-4M464.50,689.37h2.5M590.50,689.37h-2.5" stroke="#000" stroke-width="1" fill="none"/>
<path d="M464.00,616.20H591.00M464.00,704.00H591.00M464.50,615.70V704.50M590.50,615.70V704.50" stroke="#000" stroke-width="1" fill="none"/>
<text x="577.70" y="636.60" class="pn">9</text>
<clipPath id="cB10"><rect x="590.20" y="616.20" width="125.67" height="87.80"/></clipPath>
<g clip-path="url(#cB10)">
<polygon points="590.2,664.8 592.6,665.0 594.9,665.1 597.3,665.2 599.6,665.3 602.0,665.4 604.3,665.4 606.7,665.4 609.1,665.3 611.4,665.1 613.8,664.9 616.1,664.8 618.5,664.7 620.8,664.8 623.2,665.2 625.5,666.0 627.9,666.9 630.3,667.7 632.6,667.8 635.0,667.1 637.3,666.0 639.7,665.3 642.0,665.1 644.4,665.2 646.8,665.6 649.1,666.4 651.5,667.2 653.8,667.7 656.2,667.8 658.5,667.4 660.9,666.8 663.2,666.2 665.6,665.5 668.0,664.8 670.3,664.1 672.7,663.6 675.0,663.3 677.4,663.1 679.7,663.0 682.1,662.9 684.5,662.9 686.8,662.8 689.2,662.8 691.5,662.8 693.9,662.8 696.2,662.9 698.6,663.0 700.9,663.1 703.3,663.3 705.7,663.5 708.0,663.6 710.4,663.8 712.7,664.0 715.1,664.1 715.9,664.1 715.9,682.9 715.1,682.8 712.7,682.7 710.4,682.6 708.0,682.4 705.7,682.3 703.3,682.1 700.9,682.0 698.6,681.9 696.2,681.8 693.9,681.7 691.5,681.7 689.2,681.8 686.8,681.8 684.5,681.9 682.1,682.0 679.7,682.1 677.4,682.2 675.0,682.4 672.7,682.7 670.3,683.3 668.0,684.0 665.6,684.7 663.2,685.4 660.9,686.1 658.5,686.7 656.2,687.1 653.8,687.1 651.5,686.6 649.1,685.8 646.8,685.0 644.4,684.6 642.0,684.5 639.7,684.7 637.3,685.5 635.0,686.6 632.6,687.3 630.3,687.2 627.9,686.5 625.5,685.5 623.2,684.8 620.8,684.4 618.5,684.3 616.1,684.5 613.8,684.6 611.4,684.8 609.1,685.0 606.7,685.1 604.3,685.2 602.0,685.2 599.6,685.2 597.3,685.1 594.9,685.0 592.6,684.9 590.2,684.7" fill="#fdeaea"/>
<polygon points="590.2,668.3 592.6,668.3 594.9,668.3 597.3,668.3 599.6,668.3 602.0,668.4 604.3,668.4 606.7,668.4 609.1,668.4 611.4,668.5 613.8,668.5 616.1,668.5 618.5,668.6 620.8,668.7 623.2,669.2 625.5,670.1 627.9,671.1 630.3,671.7 632.6,671.6 635.0,670.9 637.3,670.0 639.7,669.3 642.0,668.7 644.4,668.3 646.8,667.9 649.1,667.4 651.5,666.7 653.8,666.1 656.2,665.6 658.5,665.5 660.9,665.9 663.2,666.7 665.6,667.6 668.0,668.3 670.3,668.8 672.7,669.3 675.0,669.7 677.4,670.1 679.7,670.6 682.1,671.0 684.5,671.3 686.8,671.5 689.2,671.5 691.5,671.4 693.9,671.3 696.2,671.1 698.6,670.9 700.9,670.6 703.3,670.2 705.7,669.9 708.0,669.6 710.4,669.4 712.7,669.2 715.1,669.0 715.9,668.9 715.9,680.7 715.1,680.7 712.7,680.9 710.4,681.1 708.0,681.4 705.7,681.7 703.3,682.1 700.9,682.4 698.6,682.7 696.2,683.0 693.9,683.2 691.5,683.3 689.2,683.4 686.8,683.4 684.5,683.3 682.1,683.0 679.7,682.6 677.4,682.2 675.0,681.8 672.7,681.4 670.3,680.9 668.0,680.4 665.6,679.7 663.2,678.9 660.9,678.1 658.5,677.7 656.2,677.8 653.8,678.4 651.5,679.0 649.1,679.7 646.8,680.2 644.4,680.7 642.0,681.1 639.7,681.7 637.3,682.5 635.0,683.4 632.6,684.1 630.3,684.2 627.9,683.6 625.5,682.6 623.2,681.8 620.8,681.3 618.5,681.2 616.1,681.2 613.8,681.1 611.4,681.1 609.1,681.1 606.7,681.1 604.3,681.1 602.0,681.1 599.6,681.1 597.3,681.1 594.9,681.2 592.6,681.2 590.2,681.2" fill="#ededfc"/>
<line x1="621.65" y1="704.00" x2="621.65" y2="616.20" stroke="#000" stroke-width="1" stroke-dasharray="4.8 5.84"/>
<path d="M590.2,674.8L591.8,674.9L593.3,675.0L594.9,675.1L596.5,675.1L598.1,675.2L599.6,675.3L601.2,675.3L602.8,675.3L604.3,675.3L605.9,675.3L607.5,675.2L609.1,675.1L610.6,675.0L612.2,674.9L613.8,674.8L615.3,674.7L616.9,674.6L618.5,674.5L620.0,674.5L621.6,674.6L623.2,674.9L624.8,675.4L626.3,676.1L627.9,676.7L629.5,677.3L631.0,677.7L632.6,677.7L634.2,677.3L635.8,676.5L637.3,675.7L638.9,675.1L640.5,674.8L642.0,674.7L643.6,674.8L645.2,674.9L646.8,675.3L648.3,675.8L649.9,676.4L651.5,676.9L653.0,677.3L654.6,677.5L656.2,677.5L657.7,677.2L659.3,676.9L660.9,676.5L662.5,676.0L664.0,675.6L665.6,675.1L667.2,674.7L668.7,674.2L670.3,673.7L671.9,673.3L673.5,673.0L675.0,672.8L676.6,672.7L678.2,672.6L679.7,672.6L681.3,672.5L682.9,672.4L684.5,672.4L686.0,672.3L687.6,672.3L689.2,672.3L690.7,672.3L692.3,672.3L693.9,672.3L695.4,672.3L697.0,672.3L698.6,672.4L700.2,672.5L701.7,672.6L703.3,672.7L704.9,672.8L706.4,672.9L708.0,673.0L709.6,673.1L711.2,673.2L712.7,673.3L714.3,673.4L715.9,673.5" fill="none" stroke="#ff0000" stroke-width="1.2"/>
<path d="M590.2,674.7L591.8,674.7L593.3,674.7L594.9,674.7L596.5,674.7L598.1,674.7L599.6,674.7L601.2,674.7L602.8,674.8L604.3,674.8L605.9,674.8L607.5,674.8L609.1,674.8L610.6,674.8L612.2,674.8L613.8,674.8L615.3,674.8L616.9,674.8L618.5,674.9L620.0,674.9L621.6,675.1L623.2,675.4L624.8,676.0L626.3,676.7L627.9,677.4L629.5,677.9L631.0,678.1L632.6,677.9L634.2,677.5L635.8,676.9L637.3,676.2L638.9,675.7L640.5,675.2L642.0,674.9L643.6,674.6L645.2,674.4L646.8,674.1L648.3,673.7L649.9,673.3L651.5,672.9L653.0,672.4L654.6,672.0L656.2,671.7L657.7,671.5L659.3,671.6L660.9,671.9L662.5,672.5L664.0,673.1L665.6,673.7L667.2,674.2L668.7,674.6L670.3,674.9L671.9,675.2L673.5,675.5L675.0,675.7L676.6,676.0L678.2,676.3L679.7,676.6L681.3,676.9L682.9,677.1L684.5,677.3L686.0,677.4L687.6,677.5L689.2,677.5L690.7,677.4L692.3,677.3L693.9,677.2L695.4,677.1L697.0,677.0L698.6,676.8L700.2,676.6L701.7,676.4L703.3,676.2L704.9,675.9L706.4,675.7L708.0,675.5L709.6,675.3L711.2,675.2L712.7,675.0L714.3,674.9L715.9,674.8" fill="none" stroke="#0000ff" stroke-width="1.2"/>
<line x1="590.20" y1="674.73" x2="715.87" y2="674.73" stroke="#000" stroke-width="1" stroke-dasharray="1 1.3"/>
</g>
<path d="M621.62,616.20v4M621.62,704.00v-4M653.04,616.20v4M653.04,704.00v-4M684.45,616.20v4M684.45,704.00v-4M590.50,630.83h2.5M715.50,630.83h-2.5M590.50,645.47h4M715.50,645.47h-4M590.50,660.10h2.5M715.50,660.10h-2.5M590.50,674.73h4M715.50,674.73h-4M590.50,689.37h2.5M715.50,689.37h-2.5" stroke="#000" stroke-width="1" fill="none"/>
<path d="M590.00,616.20H716.00M590.00,704.00H716.00M590.50,615.70V704.50M715.50,615.70V704.50" stroke="#000" stroke-width="1" fill="none"/>
<text x="699.60" y="636.60" class="pn">10</text>
<clipPath id="cB11"><rect x="715.20" y="616.20" width="125.67" height="87.80"/></clipPath>
<g clip-path="url(#cB11)">
<polygon points="715.2,665.1 717.6,665.2 719.9,665.3 722.3,665.4 724.6,665.4 727.0,665.4 729.3,665.4 731.7,665.4 734.1,665.2 736.4,664.9 738.8,664.7 741.1,664.4 743.5,664.3 745.8,664.3 748.2,664.9 750.5,666.1 752.9,667.3 755.3,667.8 757.6,667.3 760.0,666.2 762.3,665.3 764.7,664.9 767.0,664.9 769.4,665.3 771.8,666.2 774.1,667.2 776.5,667.8 778.8,667.8 781.2,667.5 783.5,667.1 785.9,666.7 788.2,666.4 790.6,666.0 793.0,665.6 795.3,665.3 797.7,664.8 800.0,664.4 802.4,664.0 804.7,663.8 807.1,663.7 809.5,663.7 811.8,663.6 814.2,663.6 816.5,663.6 818.9,663.6 821.2,663.6 823.6,663.7 825.9,663.8 828.3,663.8 830.7,663.9 833.0,664.1 835.4,664.3 837.7,664.7 840.1,665.0 840.9,665.1 840.9,682.7 840.1,682.6 837.7,682.3 835.4,682.0 833.0,681.8 830.7,681.6 828.3,681.6 825.9,681.5 823.6,681.5 821.2,681.5 818.9,681.5 816.5,681.5 814.2,681.5 811.8,681.6 809.5,681.7 807.1,681.8 804.7,681.9 802.4,682.1 800.0,682.5 797.7,683.0 795.3,683.5 793.0,683.9 790.6,684.3 788.2,684.7 785.9,685.0 783.5,685.4 781.2,685.9 778.8,686.2 776.5,686.2 774.1,685.7 771.8,684.7 769.4,683.8 767.0,683.5 764.7,683.6 762.3,684.0 760.0,684.9 757.6,686.1 755.3,686.6 752.9,686.1 750.5,684.9 748.2,683.8 745.8,683.2 743.5,683.2 741.1,683.4 738.8,683.7 736.4,684.0 734.1,684.2 731.7,684.5 729.3,684.6 727.0,684.6 724.6,684.6 722.3,684.6 719.9,684.6 717.6,684.5 715.2,684.4" fill="#fdeaea"/>
<polygon points="715.2,668.6 717.6,668.6 719.9,668.6 722.3,668.6 724.6,668.6 727.0,668.6 729.3,668.6 731.7,668.6 734.1,668.6 736.4,668.6 738.8,668.6 741.1,668.6 743.5,668.7 745.8,668.7 748.2,669.0 750.5,669.6 752.9,670.1 755.3,670.4 757.6,670.2 760.0,669.6 762.3,669.0 764.7,668.6 767.0,668.3 769.4,668.0 771.8,667.7 774.1,667.3 776.5,666.7 778.8,666.1 781.2,665.6 783.5,665.5 785.9,665.8 788.2,666.2 790.6,666.8 793.0,667.4 795.3,668.1 797.7,668.6 800.0,669.0 802.4,669.3 804.7,669.6 807.1,669.8 809.5,670.0 811.8,670.2 814.2,670.3 816.5,670.4 818.9,670.4 821.2,670.3 823.6,670.2 825.9,670.0 828.3,669.8 830.7,669.6 833.0,669.4 835.4,669.2 837.7,669.1 840.1,669.0 840.9,668.9 840.9,680.6 840.1,680.7 837.7,680.8 835.4,681.0 833.0,681.1 830.7,681.3 828.3,681.5 825.9,681.8 823.6,682.0 821.2,682.1 818.9,682.2 816.5,682.2 814.2,682.1 811.8,682.0 809.5,681.9 807.1,681.7 804.7,681.5 802.4,681.2 800.0,680.9 797.7,680.5 795.3,680.0 793.0,679.3 790.6,678.7 788.2,678.2 785.9,677.7 783.5,677.5 781.2,677.6 778.8,678.1 776.5,678.7 774.1,679.3 771.8,679.8 769.4,680.1 767.0,680.3 764.7,680.7 762.3,681.1 760.0,681.7 757.6,682.3 755.3,682.5 752.9,682.2 750.5,681.7 748.2,681.2 745.8,680.9 743.5,680.8 741.1,680.8 738.8,680.8 736.4,680.8 734.1,680.8 731.7,680.8 729.3,680.8 727.0,680.9 724.6,680.9 722.3,680.9 719.9,680.9 717.6,680.9 715.2,680.9" fill="#ededfc"/>
<line x1="747.00" y1="704.00" x2="747.00" y2="616.20" stroke="#000" stroke-width="1" stroke-dasharray="4.8 5.84"/>
<path d="M715.2,674.8L716.8,674.8L718.3,674.9L719.9,674.9L721.5,675.0L723.1,675.0L724.6,675.0L726.2,675.0L727.8,675.0L729.3,675.0L730.9,675.0L732.5,674.9L734.1,674.7L735.6,674.6L737.2,674.4L738.8,674.2L740.3,674.0L741.9,673.8L743.5,673.7L745.0,673.7L746.6,673.8L748.2,674.2L749.8,675.0L751.3,675.9L752.9,676.8L754.5,677.3L756.0,677.3L757.6,676.8L759.2,676.0L760.8,675.2L762.3,674.6L763.9,674.3L765.5,674.1L767.0,674.1L768.6,674.3L770.2,674.7L771.8,675.5L773.3,676.2L774.9,676.8L776.5,677.1L778.0,677.1L779.6,676.9L781.2,676.7L782.7,676.4L784.3,676.1L785.9,675.9L787.5,675.6L789.0,675.4L790.6,675.1L792.2,674.9L793.7,674.6L795.3,674.4L796.9,674.1L798.5,673.8L800.0,673.4L801.6,673.2L803.2,673.0L804.7,672.8L806.3,672.8L807.9,672.7L809.5,672.7L811.0,672.6L812.6,672.6L814.2,672.6L815.7,672.6L817.3,672.5L818.9,672.5L820.4,672.6L822.0,672.6L823.6,672.6L825.2,672.6L826.7,672.7L828.3,672.7L829.9,672.8L831.4,672.8L833.0,672.9L834.6,673.0L836.2,673.2L837.7,673.5L839.3,673.7L840.9,673.9" fill="none" stroke="#ff0000" stroke-width="1.2"/>
<path d="M715.2,674.7L716.8,674.7L718.3,674.7L719.9,674.7L721.5,674.7L723.1,674.7L724.6,674.7L726.2,674.7L727.8,674.7L729.3,674.7L730.9,674.7L732.5,674.7L734.1,674.7L735.6,674.7L737.2,674.7L738.8,674.7L740.3,674.7L741.9,674.7L743.5,674.7L745.0,674.8L746.6,674.8L748.2,675.1L749.8,675.4L751.3,675.8L752.9,676.2L754.5,676.5L756.0,676.5L757.6,676.3L759.2,675.9L760.8,675.5L762.3,675.1L763.9,674.7L765.5,674.5L767.0,674.3L768.6,674.1L770.2,674.0L771.8,673.8L773.3,673.5L774.9,673.2L776.5,672.8L778.0,672.3L779.6,671.9L781.2,671.6L782.7,671.5L784.3,671.5L785.9,671.7L787.5,672.0L789.0,672.3L790.6,672.7L792.2,673.1L793.7,673.6L795.3,674.0L796.9,674.4L798.5,674.7L800.0,674.9L801.6,675.2L803.2,675.4L804.7,675.5L806.3,675.7L807.9,675.8L809.5,675.9L811.0,676.0L812.6,676.1L814.2,676.2L815.7,676.3L817.3,676.3L818.9,676.3L820.4,676.3L822.0,676.2L823.6,676.1L825.2,675.9L826.7,675.8L828.3,675.6L829.9,675.5L831.4,675.4L833.0,675.3L834.6,675.1L836.2,675.0L837.7,674.9L839.3,674.8L840.9,674.8" fill="none" stroke="#0000ff" stroke-width="1.2"/>
<line x1="715.20" y1="674.73" x2="840.87" y2="674.73" stroke="#000" stroke-width="1" stroke-dasharray="1 1.3"/>
</g>
<path d="M746.62,616.20v4M746.62,704.00v-4M778.04,616.20v4M778.04,704.00v-4M809.45,616.20v4M809.45,704.00v-4M716.50,630.83h2.5M841.50,630.83h-2.5M716.50,645.47h4M841.50,645.47h-4M716.50,660.10h2.5M841.50,660.10h-2.5M716.50,674.73h4M841.50,674.73h-4M716.50,689.37h2.5M841.50,689.37h-2.5" stroke="#000" stroke-width="1" fill="none"/>
<path d="M716.00,616.20H842.00M716.00,704.00H842.00M716.50,615.70V704.50M841.50,615.70V704.50" stroke="#000" stroke-width="1" fill="none"/>
<text x="825.20" y="636.60" class="pn">11</text>
<clipPath id="cB12"><rect x="841.20" y="616.20" width="125.67" height="87.80"/></clipPath>
<g clip-path="url(#cB12)">
<polygon points="841.2,666.9 843.6,667.0 845.9,667.1 848.3,667.2 850.6,667.3 853.0,667.3 855.3,667.3 857.7,667.2 860.1,667.0 862.4,666.8 864.8,666.6 867.1,666.3 869.5,666.2 871.8,666.2 874.2,666.5 876.5,667.5 878.9,668.7 881.3,669.5 883.6,669.5 886.0,668.6 888.3,667.7 890.7,667.2 893.0,667.1 895.4,667.4 897.8,668.2 900.1,669.2 902.5,669.8 904.8,669.4 907.2,668.3 909.5,667.2 911.9,666.4 914.2,666.1 916.6,665.9 919.0,665.7 921.3,665.6 923.7,665.4 926.0,665.3 928.4,665.1 930.7,664.9 933.1,664.7 935.5,664.6 937.8,664.4 940.2,664.3 942.5,664.2 944.9,664.2 947.2,664.3 949.6,664.4 951.9,664.5 954.3,664.6 956.7,664.8 959.0,664.9 961.4,665.0 963.7,665.2 966.1,665.3 966.9,665.3 966.9,682.9 966.1,682.8 963.7,682.7 961.4,682.5 959.0,682.3 956.7,682.2 954.3,682.0 951.9,681.8 949.6,681.7 947.2,681.6 944.9,681.5 942.5,681.5 940.2,681.5 937.8,681.6 935.5,681.7 933.1,681.8 930.7,682.0 928.4,682.1 926.0,682.3 923.7,682.4 921.3,682.5 919.0,682.6 916.6,682.7 914.2,682.9 911.9,683.2 909.5,683.9 907.2,685.0 904.8,686.1 902.5,686.4 900.1,685.9 897.8,684.8 895.4,683.9 893.0,683.6 890.7,683.7 888.3,684.1 886.0,685.1 883.6,685.9 881.3,685.9 878.9,685.0 876.5,683.8 874.2,682.8 871.8,682.4 869.5,682.4 867.1,682.5 864.8,682.7 862.4,682.9 860.1,683.1 857.7,683.2 855.3,683.3 853.0,683.3 850.6,683.2 848.3,683.1 845.9,683.0 843.6,682.8 841.2,682.7" fill="#fdeaea"/>
<polygon points="841.2,668.6 843.6,668.6 845.9,668.6 848.3,668.6 850.6,668.6 853.0,668.6 855.3,668.6 857.7,668.7 860.1,668.7 862.4,668.7 864.8,668.7 867.1,668.7 869.5,668.8 871.8,668.8 874.2,669.1 876.5,669.5 878.9,670.1 881.3,670.5 883.6,670.6 886.0,670.3 888.3,669.8 890.7,669.3 893.0,668.8 895.4,668.3 897.8,667.7 900.1,667.2 902.5,666.8 904.8,666.7 907.2,666.8 909.5,667.2 911.9,667.7 914.2,668.1 916.6,668.4 919.0,668.7 921.3,668.9 923.7,669.1 926.0,669.4 928.4,669.6 930.7,669.8 933.1,670.1 935.5,670.3 937.8,670.4 940.2,670.4 942.5,670.3 944.9,670.2 947.2,670.0 949.6,669.8 951.9,669.7 954.3,669.5 956.7,669.4 959.0,669.3 961.4,669.2 963.7,669.1 966.1,669.1 966.9,669.1 966.9,680.8 966.1,680.8 963.7,680.9 961.4,680.9 959.0,681.1 956.7,681.2 954.3,681.3 951.9,681.4 949.6,681.6 947.2,681.8 944.9,682.0 942.5,682.1 940.2,682.2 937.8,682.2 935.5,682.1 933.1,681.9 930.7,681.7 928.4,681.5 926.0,681.2 923.7,681.0 921.3,680.8 919.0,680.6 916.6,680.3 914.2,680.0 911.9,679.7 909.5,679.2 907.2,678.8 904.8,678.7 902.5,678.8 900.1,679.2 897.8,679.7 895.4,680.3 893.0,680.8 890.7,681.4 888.3,681.9 886.0,682.4 883.6,682.7 881.3,682.6 878.9,682.2 876.5,681.6 874.2,681.2 871.8,681.0 869.5,680.9 867.1,680.9 864.8,680.9 862.4,680.9 860.1,680.9 857.7,680.9 855.3,680.9 853.0,680.9 850.6,680.9 848.3,680.9 845.9,680.9 843.6,680.9 841.2,680.9" fill="#ededfc"/>
<line x1="873.00" y1="704.00" x2="873.00" y2="616.20" stroke="#000" stroke-width="1" stroke-dasharray="4.8 5.84"/>
<path d="M841.2,674.8L842.8,674.9L844.3,675.0L845.9,675.1L847.5,675.2L849.1,675.2L850.6,675.3L852.2,675.3L853.8,675.3L855.3,675.3L856.9,675.2L858.5,675.2L860.1,675.0L861.6,674.9L863.2,674.8L864.8,674.6L866.3,674.5L867.9,674.4L869.5,674.3L871.0,674.2L872.6,674.3L874.2,674.6L875.8,675.2L877.3,676.0L878.9,676.9L880.5,677.6L882.0,677.9L883.6,677.8L885.2,677.2L886.8,676.5L888.3,675.8L889.9,675.4L891.5,675.3L893.0,675.3L894.6,675.4L896.2,675.8L897.8,676.4L899.3,677.3L900.9,677.9L902.5,678.2L904.0,678.1L905.6,677.5L907.2,676.7L908.7,675.9L910.3,675.2L911.9,674.8L913.5,674.6L915.0,674.4L916.6,674.3L918.2,674.2L919.7,674.1L921.3,674.0L922.9,674.0L924.5,673.9L926.0,673.8L927.6,673.7L929.2,673.6L930.7,673.4L932.3,673.3L933.9,673.2L935.5,673.1L937.0,673.0L938.6,673.0L940.2,672.9L941.7,672.9L943.3,672.8L944.9,672.9L946.4,672.9L948.0,672.9L949.6,673.0L951.2,673.1L952.7,673.2L954.3,673.3L955.9,673.4L957.4,673.5L959.0,673.6L960.6,673.7L962.2,673.8L963.7,673.9L965.3,674.0L966.9,674.1" fill="none" stroke="#ff0000" stroke-width="1.2"/>
<path d="M841.2,674.7L842.8,674.7L844.3,674.7L845.9,674.7L847.5,674.7L849.1,674.7L850.6,674.7L852.2,674.7L853.8,674.8L855.3,674.8L856.9,674.8L858.5,674.8L860.1,674.8L861.6,674.8L863.2,674.8L864.8,674.8L866.3,674.8L867.9,674.8L869.5,674.8L871.0,674.9L872.6,674.9L874.2,675.1L875.8,675.4L877.3,675.8L878.9,676.2L880.5,676.5L882.0,676.7L883.6,676.7L885.2,676.5L886.8,676.2L888.3,675.9L889.9,675.5L891.5,675.2L893.0,674.8L894.6,674.5L896.2,674.1L897.8,673.7L899.3,673.4L900.9,673.0L902.5,672.8L904.0,672.6L905.6,672.6L907.2,672.8L908.7,673.0L910.3,673.4L911.9,673.7L913.5,674.0L915.0,674.2L916.6,674.4L918.2,674.5L919.7,674.7L921.3,674.9L922.9,675.0L924.5,675.1L926.0,675.3L927.6,675.5L929.2,675.6L930.7,675.8L932.3,675.9L933.9,676.1L935.5,676.2L937.0,676.3L938.6,676.3L940.2,676.3L941.7,676.3L943.3,676.2L944.9,676.1L946.4,676.0L948.0,675.8L949.6,675.7L951.2,675.6L952.7,675.5L954.3,675.4L955.9,675.3L957.4,675.3L959.0,675.2L960.6,675.1L962.2,675.1L963.7,675.0L965.3,674.9L966.9,674.9" fill="none" stroke="#0000ff" stroke-width="1.2"/>
<line x1="841.20" y1="674.73" x2="966.87" y2="674.73" stroke="#000" stroke-width="1" stroke-dasharray="1 1.3"/>
</g>
<path d="M872.62,616.20v4M872.62,704.00v-4M904.04,616.20v4M904.04,704.00v-4M935.45,616.20v4M935.45,704.00v-4M841.50,630.83h2.5M967.50,630.83h-2.5M841.50,645.47h4M967.50,645.47h-4M841.50,660.10h2.5M967.50,660.10h-2.5M841.50,674.73h4M967.50,674.73h-4M841.50,689.37h2.5M967.50,689.37h-2.5" stroke="#000" stroke-width="1" fill="none"/>
<path d="M841.00,616.20H968.00M841.00,704.00H968.00M841.50,615.70V704.50M967.50,615.70V704.50" stroke="#000" stroke-width="1" fill="none"/>
<text x="947.90" y="636.60" class="pn">12</text>
<clipPath id="cB13"><rect x="967.20" y="616.20" width="125.67" height="87.80"/></clipPath>
<g clip-path="url(#cB13)">
<polygon points="967.2,667.2 969.6,667.3 971.9,667.4 974.3,667.5 976.6,667.5 979.0,667.6 981.3,667.6 983.7,667.5 986.1,667.5 988.4,667.4 990.8,667.1 993.1,666.8 995.5,666.5 997.8,666.4 1000.2,666.6 1002.5,667.2 1004.9,668.1 1007.3,668.8 1009.6,669.0 1012.0,668.6 1014.3,668.0 1016.7,667.5 1019.0,667.6 1021.4,668.2 1023.8,669.0 1026.1,669.7 1028.5,669.7 1030.8,669.1 1033.2,667.9 1035.5,666.8 1037.9,666.0 1040.2,665.6 1042.6,665.4 1045.0,665.2 1047.3,665.1 1049.7,665.0 1052.0,664.8 1054.4,664.7 1056.7,664.6 1059.1,664.6 1061.5,664.5 1063.8,664.4 1066.2,664.3 1068.5,664.3 1070.9,664.3 1073.2,664.4 1075.6,664.5 1077.9,664.6 1080.3,664.8 1082.7,664.8 1085.0,664.8 1087.4,664.8 1089.7,664.8 1092.1,664.8 1092.9,664.8 1092.9,682.3 1092.1,682.3 1089.7,682.3 1087.4,682.3 1085.0,682.3 1082.7,682.2 1080.3,682.1 1077.9,681.9 1075.6,681.7 1073.2,681.6 1070.9,681.4 1068.5,681.4 1066.2,681.4 1063.8,681.4 1061.5,681.4 1059.1,681.5 1056.7,681.5 1054.4,681.6 1052.0,681.6 1049.7,681.7 1047.3,681.8 1045.0,681.9 1042.6,682.0 1040.2,682.1 1037.9,682.5 1035.5,683.3 1033.2,684.4 1030.8,685.5 1028.5,686.1 1026.1,686.0 1023.8,685.3 1021.4,684.5 1019.0,683.8 1016.7,683.7 1014.3,684.1 1012.0,684.7 1009.6,685.0 1007.3,684.7 1004.9,684.0 1002.5,683.1 1000.2,682.4 997.8,682.2 995.5,682.2 993.1,682.5 990.8,682.8 988.4,683.0 986.1,683.1 983.7,683.1 981.3,683.0 979.0,683.0 976.6,682.9 974.3,682.8 971.9,682.7 969.6,682.6 967.2,682.4" fill="#fdeaea"/>
<polygon points="967.2,669.2 969.6,669.2 971.9,669.2 974.3,669.2 976.6,669.2 979.0,669.2 981.3,669.2 983.7,669.2 986.1,669.3 988.4,669.3 990.8,669.3 993.1,669.3 995.5,669.4 997.8,669.4 1000.2,669.7 1002.5,670.1 1004.9,670.6 1007.3,671.0 1009.6,671.0 1012.0,670.6 1014.3,670.1 1016.7,669.6 1019.0,669.1 1021.4,668.5 1023.8,667.9 1026.1,667.4 1028.5,667.1 1030.8,667.0 1033.2,667.3 1035.5,667.9 1037.9,668.5 1040.2,668.9 1042.6,669.3 1045.0,669.6 1047.3,669.9 1049.7,670.1 1052.0,670.3 1054.4,670.4 1056.7,670.6 1059.1,670.7 1061.5,670.7 1063.8,670.7 1066.2,670.7 1068.5,670.7 1070.9,670.7 1073.2,670.7 1075.6,670.7 1077.9,670.7 1080.3,670.6 1082.7,670.4 1085.0,670.2 1087.4,670.0 1089.7,669.8 1092.1,669.6 1092.9,669.5 1092.9,680.1 1092.1,680.1 1089.7,680.4 1087.4,680.6 1085.0,680.8 1082.7,681.0 1080.3,681.2 1077.9,681.3 1075.6,681.3 1073.2,681.4 1070.9,681.4 1068.5,681.4 1066.2,681.4 1063.8,681.4 1061.5,681.4 1059.1,681.4 1056.7,681.3 1054.4,681.2 1052.0,681.0 1049.7,680.8 1047.3,680.6 1045.0,680.4 1042.6,680.0 1040.2,679.7 1037.9,679.3 1035.5,678.7 1033.2,678.1 1030.8,677.8 1028.5,677.9 1026.1,678.3 1023.8,678.8 1021.4,679.4 1019.0,680.0 1016.7,680.5 1014.3,681.0 1012.0,681.6 1009.6,681.9 1007.3,681.9 1004.9,681.6 1002.5,681.1 1000.2,680.6 997.8,680.4 995.5,680.3 993.1,680.3 990.8,680.3 988.4,680.3 986.1,680.3 983.7,680.3 981.3,680.3 979.0,680.3 976.6,680.3 974.3,680.3 971.9,680.3 969.6,680.3 967.2,680.3" fill="#ededfc"/>
<line x1="999.00" y1="704.00" x2="999.00" y2="616.20" stroke="#000" stroke-width="1" stroke-dasharray="4.8 5.84"/>
<path d="M967.2,674.8L968.8,674.9L970.3,675.0L971.9,675.1L973.5,675.1L975.1,675.2L976.6,675.2L978.2,675.3L979.8,675.3L981.3,675.3L982.9,675.3L984.5,675.3L986.1,675.3L987.6,675.2L989.2,675.1L990.8,674.9L992.3,674.7L993.9,674.5L995.5,674.4L997.0,674.2L998.6,674.3L1000.2,674.5L1001.8,674.9L1003.3,675.4L1004.9,676.1L1006.5,676.6L1008.0,677.0L1009.6,677.0L1011.2,676.9L1012.8,676.5L1014.3,676.0L1015.9,675.6L1017.5,675.5L1019.0,675.6L1020.6,676.0L1022.2,676.6L1023.8,677.2L1025.3,677.7L1026.9,678.0L1028.5,678.0L1030.0,677.6L1031.6,677.0L1033.2,676.2L1034.7,675.3L1036.3,674.6L1037.9,674.2L1039.5,673.9L1041.0,673.8L1042.6,673.7L1044.2,673.6L1045.7,673.5L1047.3,673.4L1048.9,673.4L1050.5,673.3L1052.0,673.2L1053.6,673.2L1055.2,673.1L1056.7,673.1L1058.3,673.0L1059.9,673.0L1061.5,673.0L1063.0,672.9L1064.6,672.9L1066.2,672.9L1067.7,672.8L1069.3,672.8L1070.9,672.9L1072.4,672.9L1074.0,673.0L1075.6,673.1L1077.2,673.2L1078.7,673.3L1080.3,673.4L1081.9,673.5L1083.4,673.5L1085.0,673.6L1086.6,673.6L1088.2,673.6L1089.7,673.6L1091.3,673.6L1092.9,673.6" fill="none" stroke="#ff0000" stroke-width="1.2"/>
<path d="M967.2,674.7L968.8,674.7L970.3,674.7L971.9,674.7L973.5,674.7L975.1,674.7L976.6,674.7L978.2,674.7L979.8,674.8L981.3,674.8L982.9,674.8L984.5,674.8L986.1,674.8L987.6,674.8L989.2,674.8L990.8,674.8L992.3,674.8L993.9,674.8L995.5,674.8L997.0,674.9L998.6,674.9L1000.2,675.1L1001.8,675.4L1003.3,675.8L1004.9,676.1L1006.5,676.4L1008.0,676.5L1009.6,676.5L1011.2,676.3L1012.8,676.0L1014.3,675.6L1015.9,675.2L1017.5,674.9L1019.0,674.5L1020.6,674.1L1022.2,673.7L1023.8,673.3L1025.3,673.0L1026.9,672.7L1028.5,672.4L1030.0,672.3L1031.6,672.4L1033.2,672.7L1034.7,673.1L1036.3,673.5L1037.9,673.9L1039.5,674.2L1041.0,674.4L1042.6,674.7L1044.2,674.9L1045.7,675.1L1047.3,675.2L1048.9,675.4L1050.5,675.5L1052.0,675.6L1053.6,675.8L1055.2,675.8L1056.7,675.9L1058.3,676.0L1059.9,676.0L1061.5,676.0L1063.0,676.0L1064.6,676.1L1066.2,676.1L1067.7,676.1L1069.3,676.1L1070.9,676.1L1072.4,676.0L1074.0,676.0L1075.6,676.0L1077.2,676.0L1078.7,676.0L1080.3,675.9L1081.9,675.8L1083.4,675.7L1085.0,675.5L1086.6,675.4L1088.2,675.2L1089.7,675.1L1091.3,674.9L1092.9,674.8" fill="none" stroke="#0000ff" stroke-width="1.2"/>
<line x1="967.20" y1="674.73" x2="1092.87" y2="674.73" stroke="#000" stroke-width="1" stroke-dasharray="1 1.3"/>
</g>
<path d="M998.62,616.20v4M998.62,704.00v-4M1030.04,616.20v4M1030.04,704.00v-4M1061.45,616.20v4M1061.45,704.00v-4M967.50,630.83h2.5M1093.50,630.83h-2.5M967.50,645.47h4M1093.50,645.47h-4M967.50,660.10h2.5M1093.50,660.10h-2.5M967.50,674.73h4M1093.50,674.73h-4M967.50,689.37h2.5M1093.50,689.37h-2.5" stroke="#000" stroke-width="1" fill="none"/>
<path d="M967.00,616.20H1094.00M967.00,704.00H1094.00M967.50,615.70V704.50M1093.50,615.70V704.50" stroke="#000" stroke-width="1" fill="none"/>
<text x="1074.25" y="636.60" class="pn">13</text>
<clipPath id="cB14"><rect x="1093.20" y="616.20" width="125.67" height="87.80"/></clipPath>
<g clip-path="url(#cB14)">
<polygon points="1093.2,666.1 1095.6,666.3 1097.9,666.5 1100.3,666.8 1102.6,667.0 1105.0,667.2 1107.3,667.3 1109.7,667.3 1112.1,667.4 1114.4,667.4 1116.8,667.4 1119.1,667.5 1121.5,667.5 1123.8,667.5 1126.2,667.7 1128.5,667.9 1130.9,668.1 1133.3,668.3 1135.6,668.1 1138.0,667.4 1140.3,666.3 1142.7,665.5 1145.0,665.2 1147.4,665.2 1149.8,665.2 1152.1,665.2 1154.5,665.2 1156.8,665.0 1159.2,664.6 1161.5,663.6 1163.9,662.3 1166.2,661.3 1168.6,660.8 1171.0,660.8 1173.3,660.9 1175.7,661.1 1178.0,661.3 1180.4,661.4 1182.7,661.6 1185.1,661.6 1187.5,661.7 1189.8,661.7 1192.2,661.8 1194.5,661.8 1196.9,661.9 1199.2,662.1 1201.6,662.3 1203.9,662.6 1206.3,662.9 1208.7,663.3 1211.0,663.6 1213.4,663.9 1215.7,664.3 1218.1,664.6 1218.9,664.7 1218.9,682.2 1218.1,682.1 1215.7,681.8 1213.4,681.5 1211.0,681.2 1208.7,680.8 1206.3,680.5 1203.9,680.2 1201.6,679.9 1199.2,679.6 1196.9,679.5 1194.5,679.4 1192.2,679.3 1189.8,679.3 1187.5,679.2 1185.1,679.2 1182.7,679.1 1180.4,679.0 1178.0,678.9 1175.7,678.7 1173.3,678.5 1171.0,678.4 1168.6,678.4 1166.2,678.9 1163.9,679.9 1161.5,681.2 1159.2,682.1 1156.8,682.6 1154.5,682.7 1152.1,682.8 1149.8,682.8 1147.4,682.7 1145.0,682.7 1142.7,683.0 1140.3,683.9 1138.0,685.0 1135.6,685.7 1133.3,685.8 1130.9,685.7 1128.5,685.4 1126.2,685.2 1123.8,685.1 1121.5,685.0 1119.1,685.0 1116.8,685.0 1114.4,685.0 1112.1,684.9 1109.7,684.9 1107.3,684.8 1105.0,684.7 1102.6,684.6 1100.3,684.3 1097.9,684.1 1095.6,683.8 1093.2,683.6" fill="#fdeaea"/>
<polygon points="1093.2,670.1 1095.6,670.1 1097.9,670.1 1100.3,670.1 1102.6,670.1 1105.0,670.2 1107.3,670.2 1109.7,670.2 1112.1,670.3 1114.4,670.3 1116.8,670.4 1119.1,670.4 1121.5,670.5 1123.8,670.5 1126.2,670.7 1128.5,670.9 1130.9,671.2 1133.3,671.5 1135.6,671.6 1138.0,671.5 1140.3,671.4 1142.7,671.2 1145.0,671.0 1147.4,670.8 1149.8,670.6 1152.1,670.4 1154.5,670.3 1156.8,670.3 1159.2,670.5 1161.5,671.1 1163.9,671.9 1166.2,672.6 1168.6,673.0 1171.0,673.2 1173.3,673.3 1175.7,673.4 1178.0,673.5 1180.4,673.6 1182.7,673.6 1185.1,673.5 1187.5,673.4 1189.8,673.3 1192.2,673.1 1194.5,673.0 1196.9,672.8 1199.2,672.5 1201.6,672.3 1203.9,672.0 1206.3,671.8 1208.7,671.6 1211.0,671.4 1213.4,671.3 1215.7,671.2 1218.1,671.1 1218.9,671.1 1218.9,678.7 1218.1,678.7 1215.7,678.8 1213.4,679.0 1211.0,679.1 1208.7,679.3 1206.3,679.6 1203.9,679.8 1201.6,680.1 1199.2,680.4 1196.9,680.7 1194.5,680.9 1192.2,681.1 1189.8,681.3 1187.5,681.5 1185.1,681.6 1182.7,681.7 1180.4,681.7 1178.0,681.7 1175.7,681.7 1173.3,681.6 1171.0,681.5 1168.6,681.3 1166.2,681.0 1163.9,680.3 1161.5,679.5 1159.2,678.9 1156.8,678.8 1154.5,678.8 1152.1,679.0 1149.8,679.2 1147.4,679.4 1145.0,679.6 1142.7,679.8 1140.3,680.1 1138.0,680.3 1135.6,680.4 1133.3,680.3 1130.9,680.1 1128.5,679.8 1126.2,679.6 1123.8,679.5 1121.5,679.4 1119.1,679.4 1116.8,679.4 1114.4,679.4 1112.1,679.4 1109.7,679.4 1107.3,679.4 1105.0,679.4 1102.6,679.4 1100.3,679.4 1097.9,679.4 1095.6,679.4 1093.2,679.4" fill="#ededfc"/>
<line x1="1125.00" y1="704.00" x2="1125.00" y2="616.20" stroke="#000" stroke-width="1" stroke-dasharray="4.8 5.84"/>
<path d="M1093.2,674.8L1094.8,674.9L1096.3,675.1L1097.9,675.3L1099.5,675.5L1101.1,675.7L1102.6,675.8L1104.2,675.9L1105.8,676.0L1107.3,676.1L1108.9,676.1L1110.5,676.1L1112.1,676.1L1113.6,676.2L1115.2,676.2L1116.8,676.2L1118.3,676.2L1119.9,676.2L1121.5,676.3L1123.0,676.3L1124.6,676.3L1126.2,676.4L1127.8,676.6L1129.3,676.7L1130.9,676.9L1132.5,677.0L1134.0,677.1L1135.6,677.0L1137.2,676.6L1138.8,675.9L1140.3,675.0L1141.9,674.4L1143.5,674.0L1145.0,673.9L1146.6,673.9L1148.2,674.0L1149.8,674.0L1151.3,674.0L1152.9,674.0L1154.5,674.0L1156.0,673.9L1157.6,673.8L1159.2,673.4L1160.7,672.8L1162.3,672.0L1163.9,671.1L1165.5,670.3L1167.0,669.8L1168.6,669.6L1170.2,669.5L1171.7,669.6L1173.3,669.7L1174.9,669.8L1176.5,670.0L1178.0,670.1L1179.6,670.2L1181.2,670.3L1182.7,670.3L1184.3,670.4L1185.9,670.4L1187.5,670.5L1189.0,670.5L1190.6,670.5L1192.2,670.5L1193.7,670.6L1195.3,670.6L1196.9,670.7L1198.4,670.8L1200.0,670.9L1201.6,671.1L1203.2,671.3L1204.7,671.5L1206.3,671.7L1207.9,671.9L1209.4,672.2L1211.0,672.4L1212.6,672.6L1214.2,672.8L1215.7,673.1L1217.3,673.3L1218.9,673.5" fill="none" stroke="#ff0000" stroke-width="1.2"/>
<path d="M1093.2,674.7L1094.8,674.7L1096.3,674.7L1097.9,674.7L1099.5,674.7L1101.1,674.7L1102.6,674.8L1104.2,674.8L1105.8,674.8L1107.3,674.8L1108.9,674.8L1110.5,674.8L1112.1,674.8L1113.6,674.8L1115.2,674.9L1116.8,674.9L1118.3,674.9L1119.9,674.9L1121.5,675.0L1123.0,675.0L1124.6,675.0L1126.2,675.1L1127.8,675.3L1129.3,675.4L1130.9,675.7L1132.5,675.8L1134.0,676.0L1135.6,676.0L1137.2,676.0L1138.8,675.9L1140.3,675.7L1141.9,675.6L1143.5,675.4L1145.0,675.3L1146.6,675.2L1148.2,675.0L1149.8,674.9L1151.3,674.8L1152.9,674.7L1154.5,674.6L1156.0,674.5L1157.6,674.5L1159.2,674.7L1160.7,675.0L1162.3,675.5L1163.9,676.1L1165.5,676.6L1167.0,677.0L1168.6,677.2L1170.2,677.3L1171.7,677.4L1173.3,677.5L1174.9,677.5L1176.5,677.6L1178.0,677.6L1179.6,677.6L1181.2,677.6L1182.7,677.6L1184.3,677.6L1185.9,677.6L1187.5,677.5L1189.0,677.4L1190.6,677.3L1192.2,677.1L1193.7,677.0L1195.3,676.9L1196.9,676.7L1198.4,676.6L1200.0,676.4L1201.6,676.2L1203.2,676.0L1204.7,675.8L1206.3,675.7L1207.9,675.5L1209.4,675.4L1211.0,675.3L1212.6,675.2L1214.2,675.1L1215.7,675.0L1217.3,674.9L1218.9,674.9" fill="none" stroke="#0000ff" stroke-width="1.2"/>
<line x1="1093.20" y1="674.73" x2="1218.87" y2="674.73" stroke="#000" stroke-width="1" stroke-dasharray="1 1.3"/>
</g>
<path d="M1124.62,616.20v4M1124.62,704.00v-4M1156.04,616.20v4M1156.04,704.00v-4M1187.45,616.20v4M1187.45,704.00v-4M1093.50,630.83h2.5M1218.50,630.83h-2.5M1093.50,645.47h4M1218.50,645.47h-4M1093.50,660.10h2.5M1218.50,660.10h-2.5M1093.50,674.73h4M1218.50,674.73h-4M1093.50,689.37h2.5M1218.50,689.37h-2.5" stroke="#000" stroke-width="1" fill="none"/>
<path d="M1093.00,616.20H1219.00M1093.00,704.00H1219.00M1093.50,615.70V704.50M1218.50,615.70V704.50" stroke="#000" stroke-width="1" fill="none"/>
<text x="1199.75" y="636.60" class="pn">14</text>
<clipPath id="cB15"><rect x="1218.20" y="616.20" width="125.67" height="87.80"/></clipPath>
<g clip-path="url(#cB15)">
<polygon points="1218.2,663.7 1220.6,664.0 1222.9,664.3 1225.3,664.6 1227.6,664.9 1230.0,665.1 1232.3,665.3 1234.7,665.5 1237.1,665.7 1239.4,665.8 1241.8,665.9 1244.1,666.0 1246.5,666.0 1248.8,665.8 1251.2,665.7 1253.5,665.8 1255.9,666.1 1258.3,666.2 1260.6,665.7 1263.0,664.6 1265.3,663.1 1267.7,661.9 1270.0,661.0 1272.4,660.6 1274.8,660.3 1277.1,659.9 1279.5,659.3 1281.8,658.6 1284.2,657.9 1286.5,657.0 1288.9,656.2 1291.2,655.6 1293.6,655.5 1296.0,655.5 1298.3,655.7 1300.7,656.0 1303.0,656.3 1305.4,656.7 1307.7,657.0 1310.1,657.3 1312.5,657.5 1314.8,657.7 1317.2,658.0 1319.5,658.5 1321.9,659.1 1324.2,659.7 1326.6,660.2 1328.9,660.5 1331.3,660.8 1333.7,661.0 1336.0,661.3 1338.4,661.6 1340.7,661.9 1343.1,662.1 1343.9,662.2 1343.9,680.9 1343.1,680.8 1340.7,680.5 1338.4,680.2 1336.0,679.8 1333.7,679.5 1331.3,679.2 1328.9,678.9 1326.6,678.5 1324.2,678.0 1321.9,677.3 1319.5,676.7 1317.2,676.1 1314.8,675.8 1312.5,675.5 1310.1,675.2 1307.7,674.9 1305.4,674.5 1303.0,674.1 1300.7,673.7 1298.3,673.4 1296.0,673.2 1293.6,673.1 1291.2,673.4 1288.9,674.0 1286.5,675.0 1284.2,676.0 1281.8,676.9 1279.5,677.7 1277.1,678.4 1274.8,679.0 1272.4,679.5 1270.0,680.1 1267.7,681.0 1265.3,682.5 1263.0,684.0 1260.6,685.3 1258.3,686.0 1255.9,686.0 1253.5,685.8 1251.2,685.9 1248.8,686.2 1246.5,686.5 1244.1,686.6 1241.8,686.7 1239.4,686.7 1237.1,686.7 1234.7,686.7 1232.3,686.7 1230.0,686.7 1227.6,686.6 1225.3,686.4 1222.9,686.3 1220.6,686.1 1218.2,685.9" fill="#fdeaea"/>
<polygon points="1218.2,667.4 1220.6,667.4 1222.9,667.4 1225.3,667.4 1227.6,667.3 1230.0,667.3 1232.3,667.2 1234.7,667.1 1237.1,667.0 1239.4,666.9 1241.8,666.8 1244.1,666.8 1246.5,667.0 1248.8,667.4 1251.2,667.7 1253.5,667.9 1255.9,668.0 1258.3,668.1 1260.6,668.2 1263.0,668.4 1265.3,668.6 1267.7,668.8 1270.0,668.9 1272.4,669.0 1274.8,669.0 1277.1,669.0 1279.5,669.0 1281.8,669.1 1284.2,669.4 1286.5,670.0 1288.9,670.8 1291.2,671.3 1293.6,671.5 1296.0,671.6 1298.3,671.7 1300.7,671.8 1303.0,671.8 1305.4,671.8 1307.7,671.7 1310.1,671.7 1312.5,671.6 1314.8,671.4 1317.2,671.3 1319.5,671.1 1321.9,670.8 1324.2,670.5 1326.6,670.1 1328.9,669.8 1331.3,669.5 1333.7,669.3 1336.0,669.1 1338.4,668.9 1340.7,668.7 1343.1,668.5 1343.9,668.5 1343.9,681.4 1343.1,681.4 1340.7,681.6 1338.4,681.8 1336.0,682.1 1333.7,682.3 1331.3,682.6 1328.9,682.9 1326.6,683.3 1324.2,683.6 1321.9,684.0 1319.5,684.3 1317.2,684.5 1314.8,684.7 1312.5,684.9 1310.1,685.0 1307.7,685.1 1305.4,685.2 1303.0,685.2 1300.7,685.3 1298.3,685.2 1296.0,685.2 1293.6,685.1 1291.2,684.9 1288.9,684.4 1286.5,683.7 1284.2,683.1 1281.8,682.9 1279.5,682.8 1277.1,682.8 1274.8,682.8 1272.4,682.8 1270.0,682.8 1267.7,682.7 1265.3,682.6 1263.0,682.4 1260.6,682.2 1258.3,682.1 1255.9,682.1 1253.5,682.0 1251.2,681.9 1248.8,681.6 1246.5,681.2 1244.1,681.1 1241.8,681.1 1239.4,681.2 1237.1,681.4 1234.7,681.5 1232.3,681.7 1230.0,681.7 1227.6,681.8 1225.3,681.9 1222.9,682.0 1220.6,682.0 1218.2,682.0" fill="#ededfc"/>
<line x1="1250.00" y1="704.00" x2="1250.00" y2="616.20" stroke="#000" stroke-width="1" stroke-dasharray="4.8 5.84"/>
<path d="M1218.2,674.8L1219.8,674.9L1221.3,675.1L1222.9,675.3L1224.5,675.5L1226.1,675.6L1227.6,675.7L1229.2,675.9L1230.8,676.0L1232.3,676.0L1233.9,676.1L1235.5,676.1L1237.1,676.2L1238.6,676.2L1240.2,676.3L1241.8,676.3L1243.3,676.3L1244.9,676.3L1246.5,676.3L1248.0,676.1L1249.6,675.9L1251.2,675.7L1252.8,675.7L1254.3,675.9L1255.9,676.0L1257.5,676.2L1259.0,676.1L1260.6,675.6L1262.2,674.8L1263.8,673.8L1265.3,672.8L1266.9,671.8L1268.5,671.0L1270.0,670.5L1271.6,670.1L1273.2,669.9L1274.8,669.6L1276.3,669.3L1277.9,669.0L1279.5,668.5L1281.0,668.0L1282.6,667.5L1284.2,666.9L1285.7,666.3L1287.3,665.7L1288.9,665.1L1290.5,664.6L1292.0,664.3L1293.6,664.3L1295.2,664.3L1296.7,664.4L1298.3,664.5L1299.9,664.7L1301.5,665.0L1303.0,665.2L1304.6,665.5L1306.2,665.8L1307.7,666.0L1309.3,666.2L1310.9,666.3L1312.5,666.5L1314.0,666.6L1315.6,666.8L1317.2,667.1L1318.7,667.4L1320.3,667.8L1321.9,668.2L1323.4,668.6L1325.0,669.0L1326.6,669.3L1328.2,669.6L1329.7,669.8L1331.3,670.0L1332.9,670.2L1334.4,670.3L1336.0,670.5L1337.6,670.7L1339.2,671.0L1340.7,671.2L1342.3,671.4L1343.9,671.6" fill="none" stroke="#ff0000" stroke-width="1.2"/>
<path d="M1218.2,674.7L1219.8,674.7L1221.3,674.7L1222.9,674.7L1224.5,674.6L1226.1,674.6L1227.6,674.6L1229.2,674.5L1230.8,674.5L1232.3,674.4L1233.9,674.4L1235.5,674.3L1237.1,674.2L1238.6,674.1L1240.2,674.0L1241.8,673.9L1243.3,673.9L1244.9,673.9L1246.5,674.1L1248.0,674.3L1249.6,674.6L1251.2,674.8L1252.8,674.9L1254.3,675.0L1255.9,675.0L1257.5,675.1L1259.0,675.1L1260.6,675.2L1262.2,675.3L1263.8,675.5L1265.3,675.6L1266.9,675.7L1268.5,675.8L1270.0,675.9L1271.6,675.9L1273.2,675.9L1274.8,675.9L1276.3,675.9L1277.9,675.9L1279.5,675.9L1281.0,675.9L1282.6,676.0L1284.2,676.2L1285.7,676.6L1287.3,677.1L1288.9,677.6L1290.5,678.0L1292.0,678.2L1293.6,678.3L1295.2,678.4L1296.7,678.4L1298.3,678.5L1299.9,678.5L1301.5,678.5L1303.0,678.5L1304.6,678.5L1306.2,678.5L1307.7,678.4L1309.3,678.4L1310.9,678.3L1312.5,678.2L1314.0,678.1L1315.6,678.0L1317.2,677.9L1318.7,677.8L1320.3,677.6L1321.9,677.4L1323.4,677.2L1325.0,676.9L1326.6,676.7L1328.2,676.5L1329.7,676.3L1331.3,676.1L1332.9,675.9L1334.4,675.7L1336.0,675.6L1337.6,675.4L1339.2,675.3L1340.7,675.1L1342.3,675.0L1343.9,674.9" fill="none" stroke="#0000ff" stroke-width="1.2"/>
<line x1="1218.20" y1="674.73" x2="1343.87" y2="674.73" stroke="#000" stroke-width="1" stroke-dasharray="1 1.3"/>
</g>
<path d="M1249.62,616.20v4M1249.62,704.00v-4M1281.04,616.20v4M1281.04,704.00v-4M1312.45,616.20v4M1312.45,704.00v-4M1219.50,630.83h2.5M1344.50,630.83h-2.5M1219.50,645.47h4M1344.50,645.47h-4M1219.50,660.10h2.5M1344.50,660.10h-2.5M1219.50,674.73h4M1344.50,674.73h-4M1219.50,689.37h2.5M1344.50,689.37h-2.5" stroke="#000" stroke-width="1" fill="none"/>
<path d="M1219.00,616.20H1345.00M1219.00,704.00H1345.00M1219.50,615.70V704.50M1344.50,615.70V704.50" stroke="#000" stroke-width="1" fill="none"/>
<text x="1326.05" y="636.60" class="pn">15</text>
<clipPath id="cB16"><rect x="275.20" y="704.00" width="125.67" height="87.80"/></clipPath>
<g clip-path="url(#cB16)">
<polygon points="275.2,740.9 277.6,741.0 279.9,741.1 282.3,741.3 284.6,741.4 287.0,741.6 289.3,741.7 291.7,741.9 294.1,742.0 296.4,742.2 298.8,742.3 301.1,742.5 303.5,742.7 305.8,743.0 308.2,743.2 310.5,743.4 312.9,743.6 315.3,743.3 317.6,742.2 320.0,740.5 322.3,738.8 324.7,737.6 327.0,737.7 329.4,739.1 331.8,740.6 334.1,741.4 336.5,741.7 338.8,741.8 341.2,741.6 343.5,741.1 345.9,740.5 348.2,740.3 350.6,740.6 353.0,741.1 355.3,741.6 357.7,742.0 360.0,742.1 362.4,742.1 364.7,742.0 367.1,741.9 369.5,741.8 371.8,741.8 374.2,741.8 376.5,741.8 378.9,741.8 381.2,741.9 383.6,742.0 385.9,742.1 388.3,742.2 390.7,742.4 393.0,742.7 395.4,743.0 397.7,743.3 400.1,743.6 400.9,743.7 400.9,778.8 400.1,778.7 397.7,778.4 395.4,778.1 393.0,777.8 390.7,777.5 388.3,777.4 385.9,777.2 383.6,777.1 381.2,777.0 378.9,777.0 376.5,776.9 374.2,776.9 371.8,776.9 369.5,777.0 367.1,777.1 364.7,777.2 362.4,777.2 360.0,777.3 357.7,777.3 355.3,777.2 353.0,777.2 350.6,777.2 348.2,777.5 345.9,778.3 343.5,779.4 341.2,780.5 338.8,781.3 336.5,781.8 334.1,782.1 331.8,781.8 329.4,780.8 327.0,780.0 324.7,780.2 322.3,781.5 320.0,783.3 317.6,785.1 315.3,786.2 312.9,786.5 310.5,786.4 308.2,786.1 305.8,785.9 303.5,785.7 301.1,785.5 298.8,785.4 296.4,785.2 294.1,785.1 291.7,785.0 289.3,784.9 287.0,784.7 284.6,784.6 282.3,784.5 279.9,784.4 277.6,784.3 275.2,784.2" fill="#fdeaea"/>
<polygon points="275.2,744.0 277.6,743.9 279.9,743.8 282.3,743.8 284.6,743.7 287.0,743.8 289.3,743.9 291.7,744.0 294.1,744.1 296.4,744.2 298.8,744.3 301.1,744.4 303.5,744.6 305.8,744.8 308.2,745.2 310.5,745.9 312.9,746.6 315.3,747.0 317.6,747.0 320.0,746.6 322.3,746.1 324.7,745.6 327.0,745.1 329.4,744.7 331.8,744.3 334.1,744.0 336.5,744.0 338.8,744.3 341.2,744.8 343.5,745.3 345.9,745.7 348.2,746.2 350.6,746.5 353.0,746.8 355.3,747.0 357.7,747.2 360.0,747.3 362.4,747.5 364.7,747.6 367.1,747.7 369.5,747.7 371.8,747.7 374.2,747.7 376.5,747.6 378.9,747.5 381.2,747.4 383.6,747.3 385.9,747.2 388.3,747.1 390.7,747.0 393.0,746.9 395.4,746.8 397.7,746.6 400.1,746.5 400.9,746.5 400.9,778.7 400.1,778.7 397.7,778.9 395.4,779.1 393.0,779.3 390.7,779.5 388.3,779.7 385.9,779.8 383.6,780.0 381.2,780.2 378.9,780.3 376.5,780.5 374.2,780.6 371.8,780.7 369.5,780.8 367.1,780.8 364.7,780.8 362.4,780.8 360.0,780.7 357.7,780.6 355.3,780.4 353.0,780.3 350.6,780.1 348.2,779.8 345.9,779.5 343.5,779.1 341.2,778.6 338.8,778.3 336.5,778.1 334.1,778.2 331.8,778.5 329.4,779.0 327.0,779.6 324.7,780.2 322.3,780.8 320.0,781.4 317.6,781.9 315.3,782.0 312.9,781.8 310.5,781.2 308.2,780.6 305.8,780.3 303.5,780.2 301.1,780.1 298.8,780.1 296.4,780.1 294.1,780.1 291.7,780.1 289.3,780.1 287.0,780.1 284.6,780.2 282.3,780.3 279.9,780.5 277.6,780.7 275.2,780.9" fill="#ededfc"/>
<line x1="306.65" y1="791.80" x2="306.65" y2="704.00" stroke="#000" stroke-width="1" stroke-dasharray="4.8 5.84"/>
<path d="M275.2,762.6L276.8,762.6L278.3,762.7L279.9,762.8L281.5,762.9L283.1,762.9L284.6,763.0L286.2,763.1L287.8,763.2L289.3,763.3L290.9,763.4L292.5,763.5L294.1,763.5L295.6,763.6L297.2,763.7L298.8,763.8L300.3,763.9L301.9,764.1L303.5,764.2L305.0,764.3L306.6,764.5L308.2,764.7L309.8,764.8L311.3,765.0L312.9,765.1L314.5,765.0L316.0,764.6L317.6,763.7L319.2,762.5L320.8,761.3L322.3,760.1L323.9,759.1L325.5,758.6L327.0,758.7L328.6,759.4L330.2,760.5L331.8,761.3L333.3,761.8L334.9,761.9L336.5,761.8L338.0,761.6L339.6,761.4L341.2,761.1L342.7,760.6L344.3,759.9L345.9,759.3L347.5,759.0L349.0,758.8L350.6,758.9L352.2,759.0L353.7,759.2L355.3,759.4L356.9,759.6L358.5,759.7L360.0,759.7L361.6,759.7L363.2,759.7L364.7,759.6L366.3,759.5L367.9,759.5L369.5,759.4L371.0,759.4L372.6,759.3L374.2,759.3L375.7,759.3L377.3,759.4L378.9,759.4L380.4,759.4L382.0,759.5L383.6,759.6L385.2,759.6L386.7,759.7L388.3,759.8L389.9,759.9L391.4,760.1L393.0,760.2L394.6,760.4L396.2,760.6L397.7,760.9L399.3,761.1L400.9,761.3" fill="none" stroke="#ff0000" stroke-width="1.2"/>
<path d="M275.2,762.5L276.8,762.4L278.3,762.3L279.9,762.1L281.5,762.1L283.1,762.0L284.6,762.0L286.2,762.0L287.8,762.0L289.3,762.0L290.9,762.0L292.5,762.0L294.1,762.1L295.6,762.1L297.2,762.1L298.8,762.2L300.3,762.2L301.9,762.3L303.5,762.4L305.0,762.5L306.6,762.6L308.2,762.9L309.8,763.3L311.3,763.8L312.9,764.2L314.5,764.5L316.0,764.6L317.6,764.4L319.2,764.2L320.8,763.8L322.3,763.4L323.9,763.1L325.5,762.7L327.0,762.4L328.6,762.0L330.2,761.7L331.8,761.4L333.3,761.2L334.9,761.0L336.5,761.0L338.0,761.1L339.6,761.4L341.2,761.7L342.7,762.0L344.3,762.3L345.9,762.6L347.5,762.9L349.0,763.1L350.6,763.3L352.2,763.5L353.7,763.6L355.3,763.7L356.9,763.8L358.5,763.9L360.0,764.0L361.6,764.1L363.2,764.2L364.7,764.2L366.3,764.3L367.9,764.3L369.5,764.3L371.0,764.3L372.6,764.2L374.2,764.2L375.7,764.1L377.3,764.0L378.9,763.9L380.4,763.8L382.0,763.7L383.6,763.7L385.2,763.6L386.7,763.5L388.3,763.4L389.9,763.3L391.4,763.2L393.0,763.1L394.6,763.0L396.2,762.9L397.7,762.8L399.3,762.7L400.9,762.6" fill="none" stroke="#0000ff" stroke-width="1.2"/>
<line x1="275.20" y1="762.53" x2="400.87" y2="762.53" stroke="#000" stroke-width="1" stroke-dasharray="1 1.3"/>
</g>
<path d="M306.62,704.00v4M306.62,791.80v-4M338.03,704.00v4M338.03,791.80v-4M369.45,704.00v4M369.45,791.80v-4M275.50,718.63h2.5M401.50,718.63h-2.5M275.50,733.27h4M401.50,733.27h-4M275.50,747.90h2.5M401.50,747.90h-2.5M275.50,762.53h4M401.50,762.53h-4M275.50,777.17h2.5M401.50,777.17h-2.5" stroke="#000" stroke-width="1" fill="none"/>
<path d="M275.00,704.00H402.00M275.00,791.80H402.00M275.50,703.50V792.30M401.50,703.50V792.30" stroke="#000" stroke-width="1" fill="none"/>
<text x="381.55" y="724.40" class="pn">16</text>
<clipPath id="cB17"><rect x="527.20" y="704.00" width="125.67" height="87.80"/></clipPath>
<g clip-path="url(#cB17)">
<polygon points="527.2,750.4 529.6,750.6 531.9,750.9 534.3,751.1 536.6,751.3 539.0,751.5 541.3,751.6 543.7,751.6 546.1,751.6 548.4,751.5 550.8,751.3 553.1,751.0 555.5,750.8 557.8,750.9 560.2,751.6 562.5,753.5 564.9,756.5 567.3,759.0 569.6,758.5 572.0,755.4 574.3,751.3 576.7,747.3 579.0,744.7 581.4,744.5 583.8,746.0 586.1,747.9 588.5,749.5 590.8,749.9 593.2,749.3 595.5,748.5 597.9,747.7 600.2,747.1 602.6,746.8 605.0,746.7 607.3,746.6 609.7,746.5 612.0,746.4 614.4,746.3 616.7,746.1 619.1,745.9 621.5,745.7 623.8,745.3 626.2,745.0 628.5,744.8 630.9,744.7 633.2,744.7 635.6,744.8 637.9,744.9 640.3,745.1 642.7,745.3 645.0,745.7 647.4,746.4 649.7,747.5 652.1,748.5 652.9,748.8 652.9,769.8 652.1,769.6 649.7,768.5 647.4,767.5 645.0,766.8 642.7,766.4 640.3,766.2 637.9,766.0 635.6,765.9 633.2,765.8 630.9,765.8 628.5,765.9 626.2,766.1 623.8,766.4 621.5,766.7 619.1,767.0 616.7,767.2 614.4,767.3 612.0,767.5 609.7,767.6 607.3,767.6 605.0,767.7 602.6,767.9 600.2,768.2 597.9,768.8 595.5,769.9 593.2,771.1 590.8,772.1 588.5,772.2 586.1,771.2 583.8,769.7 581.4,768.6 579.0,769.0 576.7,771.5 574.3,775.3 572.0,779.2 569.6,782.2 567.3,782.5 564.9,780.0 562.5,777.0 560.2,775.3 557.8,774.6 555.5,774.6 553.1,774.9 550.8,775.2 548.4,775.5 546.1,775.7 543.7,775.7 541.3,775.7 539.0,775.7 536.6,775.6 534.3,775.5 531.9,775.3 529.6,775.1 527.2,774.9" fill="#fdeaea"/>
<polygon points="527.2,753.7 529.6,753.6 531.9,753.5 534.3,753.3 536.6,753.3 539.0,753.2 541.3,753.2 543.7,753.3 546.1,753.3 548.4,753.4 550.8,753.4 553.1,753.5 555.5,753.7 557.8,754.0 560.2,754.8 562.5,756.3 564.9,757.9 567.3,758.8 569.6,758.5 572.0,757.0 574.3,755.7 576.7,755.2 579.0,755.5 581.4,756.0 583.8,756.2 586.1,755.8 588.5,754.8 590.8,753.9 593.2,753.2 595.5,752.8 597.9,753.0 600.2,753.9 602.6,755.3 605.0,756.6 607.3,757.6 609.7,758.2 612.0,758.7 614.4,759.1 616.7,759.5 619.1,759.8 621.5,760.2 623.8,760.4 626.2,760.4 628.5,760.1 630.9,759.7 633.2,759.2 635.6,758.7 637.9,758.3 640.3,758.0 642.7,757.6 645.0,757.3 647.4,757.0 649.7,756.7 652.1,756.5 652.9,756.5 652.9,772.3 652.1,772.3 649.7,772.5 647.4,772.8 645.0,773.1 642.7,773.4 640.3,773.8 637.9,774.1 635.6,774.5 633.2,775.0 630.9,775.5 628.5,775.9 626.2,776.2 623.8,776.2 621.5,776.0 619.1,775.6 616.7,775.3 614.4,774.9 612.0,774.5 609.7,774.0 607.3,773.4 605.0,772.4 602.6,771.1 600.2,769.7 597.9,768.8 595.5,768.6 593.2,769.0 590.8,769.7 588.5,770.7 586.1,771.7 583.8,772.2 581.4,772.1 579.0,771.6 576.7,771.4 574.3,771.9 572.0,773.4 569.6,774.8 567.3,775.3 564.9,774.4 562.5,772.9 560.2,771.4 557.8,770.7 555.5,770.4 553.1,770.4 550.8,770.3 548.4,770.3 546.1,770.3 543.7,770.4 541.3,770.4 539.0,770.5 536.6,770.6 534.3,770.7 531.9,770.9 529.6,771.1 527.2,771.2" fill="#ededfc"/>
<line x1="558.65" y1="791.80" x2="558.65" y2="704.00" stroke="#000" stroke-width="1" stroke-dasharray="4.8 5.84"/>
<path d="M527.2,762.6L528.8,762.8L530.3,763.0L531.9,763.1L533.5,763.3L535.1,763.4L536.6,763.5L538.2,763.6L539.8,763.6L541.3,763.7L542.9,763.7L544.5,763.7L546.1,763.7L547.6,763.6L549.2,763.4L550.8,763.2L552.3,763.0L553.9,762.8L555.5,762.7L557.0,762.6L558.6,762.8L560.2,763.3L561.8,764.3L563.3,766.0L564.9,768.3L566.5,770.5L568.0,771.4L569.6,770.7L571.2,768.7L572.8,766.1L574.3,763.3L575.9,760.5L577.5,758.1L579.0,756.5L580.6,756.2L582.2,756.8L583.8,757.8L585.3,759.0L586.9,760.2L588.5,761.0L590.0,761.3L591.6,760.9L593.2,760.2L594.7,759.5L596.3,758.8L597.9,758.2L599.5,757.8L601.0,757.5L602.6,757.3L604.2,757.2L605.7,757.2L607.3,757.1L608.9,757.1L610.5,757.0L612.0,756.9L613.6,756.8L615.2,756.7L616.7,756.6L618.3,756.5L619.9,756.4L621.5,756.2L623.0,756.0L624.6,755.8L626.2,755.5L627.7,755.4L629.3,755.3L630.9,755.2L632.4,755.3L634.0,755.3L635.6,755.4L637.2,755.4L638.7,755.5L640.3,755.6L641.9,755.8L643.4,755.9L645.0,756.2L646.6,756.6L648.2,757.2L649.7,758.0L651.3,758.8L652.9,759.4" fill="none" stroke="#ff0000" stroke-width="1.2"/>
<path d="M527.2,762.5L528.8,762.4L530.3,762.3L531.9,762.2L533.5,762.1L535.1,762.0L536.6,761.9L538.2,761.9L539.8,761.8L541.3,761.8L542.9,761.8L544.5,761.8L546.1,761.8L547.6,761.8L549.2,761.9L550.8,761.9L552.3,761.9L553.9,762.0L555.5,762.0L557.0,762.1L558.6,762.4L560.2,763.0L561.8,764.0L563.3,765.1L564.9,766.2L566.5,767.0L568.0,767.3L569.6,766.8L571.2,765.8L572.8,764.6L574.3,763.7L575.9,763.2L577.5,763.3L579.0,763.6L580.6,763.9L582.2,764.2L583.8,764.3L585.3,764.0L586.9,763.5L588.5,762.8L590.0,762.1L591.6,761.4L593.2,761.0L594.7,760.7L596.3,760.6L597.9,760.8L599.5,761.4L601.0,762.2L602.6,763.2L604.2,764.2L605.7,764.9L607.3,765.5L608.9,765.9L610.5,766.3L612.0,766.6L613.6,766.9L615.2,767.1L616.7,767.4L618.3,767.6L619.9,767.9L621.5,768.1L623.0,768.2L624.6,768.3L626.2,768.3L627.7,768.1L629.3,767.9L630.9,767.6L632.4,767.2L634.0,766.9L635.6,766.6L637.2,766.4L638.7,766.1L640.3,765.9L641.9,765.6L643.4,765.4L645.0,765.2L646.6,765.0L648.2,764.8L649.7,764.6L651.3,764.5L652.9,764.4" fill="none" stroke="#0000ff" stroke-width="1.2"/>
<line x1="527.20" y1="762.53" x2="652.87" y2="762.53" stroke="#000" stroke-width="1" stroke-dasharray="1 1.3"/>
</g>
<path d="M558.62,704.00v4M558.62,791.80v-4M590.04,704.00v4M590.04,791.80v-4M621.45,704.00v4M621.45,791.80v-4M527.50,718.63h2.5M653.50,718.63h-2.5M527.50,733.27h4M653.50,733.27h-4M527.50,747.90h2.5M653.50,747.90h-2.5M527.50,762.53h4M653.50,762.53h-4M527.50,777.17h2.5M653.50,777.17h-2.5" stroke="#000" stroke-width="1" fill="none"/>
<path d="M527.00,704.00H654.00M527.00,791.80H654.00M527.50,703.50V792.30M653.50,703.50V792.30" stroke="#000" stroke-width="1" fill="none"/>
<text x="632.30" y="724.40" class="pn">17</text>
<clipPath id="cB18"><rect x="778.20" y="704.00" width="125.67" height="87.80"/></clipPath>
<g clip-path="url(#cB18)">
<polygon points="778.2,750.2 780.6,750.2 782.9,750.2 785.3,750.2 787.6,750.2 790.0,750.2 792.3,750.2 794.7,750.2 797.1,750.2 799.4,750.0 801.8,749.6 804.1,749.1 806.5,748.7 808.8,748.5 811.2,748.9 813.5,749.7 815.9,750.5 818.3,750.6 820.6,749.7 823.0,747.9 825.3,746.0 827.7,744.7 830.0,744.7 832.4,746.0 834.8,747.5 837.1,748.4 839.5,748.5 841.8,748.4 844.2,748.1 846.5,747.5 848.9,746.8 851.2,746.3 853.6,746.3 856.0,746.4 858.3,746.5 860.7,746.7 863.0,746.7 865.4,746.7 867.7,746.7 870.1,746.7 872.5,746.7 874.8,746.7 877.2,746.7 879.5,746.8 881.9,746.9 884.2,747.0 886.6,747.2 888.9,747.3 891.3,747.5 893.7,747.7 896.0,747.9 898.4,748.1 900.7,748.3 903.1,748.5 903.9,748.6 903.9,773.1 903.1,773.1 900.7,772.9 898.4,772.7 896.0,772.5 893.7,772.3 891.3,772.1 888.9,771.9 886.6,771.8 884.2,771.6 881.9,771.5 879.5,771.4 877.2,771.3 874.8,771.3 872.5,771.3 870.1,771.3 867.7,771.3 865.4,771.3 863.0,771.3 860.7,771.2 858.3,771.1 856.0,771.0 853.6,770.8 851.2,770.9 848.9,771.4 846.5,772.1 844.2,772.6 841.8,773.0 839.5,773.1 837.1,773.0 834.8,772.1 832.4,770.6 830.0,769.3 827.7,769.3 825.3,770.6 823.0,772.5 820.6,774.3 818.3,775.2 815.9,775.1 813.5,774.3 811.2,773.5 808.8,773.1 806.5,773.3 804.1,773.7 801.8,774.2 799.4,774.6 797.1,774.8 794.7,774.8 792.3,774.8 790.0,774.8 787.6,774.8 785.3,774.8 782.9,774.8 780.6,774.8 778.2,774.8" fill="#fdeaea"/>
<polygon points="778.2,754.3 780.6,754.3 782.9,754.3 785.3,754.3 787.6,754.3 790.0,754.3 792.3,754.3 794.7,754.3 797.1,754.3 799.4,754.3 801.8,754.3 804.1,754.3 806.5,754.3 808.8,754.4 811.2,754.7 813.5,755.4 815.9,756.2 818.3,756.6 820.6,756.7 823.0,756.6 825.3,756.3 827.7,756.0 830.0,755.5 832.4,754.9 834.8,754.3 837.1,753.7 839.5,753.2 841.8,752.7 844.2,752.6 846.5,752.8 848.9,753.4 851.2,753.9 853.6,754.2 856.0,754.4 858.3,754.4 860.7,754.5 863.0,754.5 865.4,754.7 867.7,755.0 870.1,755.2 872.5,755.5 874.8,755.7 877.2,755.8 879.5,755.8 881.9,755.8 884.2,755.8 886.6,755.8 888.9,755.8 891.3,755.8 893.7,755.7 896.0,755.5 898.4,755.3 900.7,755.0 903.1,754.8 903.9,754.7 903.9,771.1 903.1,771.2 900.7,771.4 898.4,771.7 896.0,771.9 893.7,772.1 891.3,772.2 888.9,772.2 886.6,772.2 884.2,772.2 881.9,772.2 879.5,772.2 877.2,772.2 874.8,772.1 872.5,771.9 870.1,771.6 867.7,771.4 865.4,771.1 863.0,770.9 860.7,770.9 858.3,770.8 856.0,770.8 853.6,770.6 851.2,770.3 848.9,769.7 846.5,769.2 844.2,769.0 841.8,769.1 839.5,769.6 837.1,770.1 834.8,770.7 832.4,771.3 830.0,771.9 827.7,772.4 825.3,772.7 823.0,772.9 820.6,773.1 818.3,773.0 815.9,772.6 813.5,771.8 811.2,771.1 808.8,770.8 806.5,770.7 804.1,770.7 801.8,770.7 799.4,770.7 797.1,770.7 794.7,770.7 792.3,770.7 790.0,770.7 787.6,770.7 785.3,770.7 782.9,770.7 780.6,770.7 778.2,770.7" fill="#ededfc"/>
<line x1="810.00" y1="791.80" x2="810.00" y2="704.00" stroke="#000" stroke-width="1" stroke-dasharray="4.8 5.84"/>
<path d="M778.2,762.5L779.8,762.5L781.3,762.5L782.9,762.5L784.5,762.5L786.1,762.5L787.6,762.5L789.2,762.5L790.8,762.5L792.3,762.5L793.9,762.5L795.5,762.5L797.1,762.5L798.6,762.4L800.2,762.2L801.8,761.9L803.3,761.5L804.9,761.2L806.5,760.9L808.0,760.8L809.6,760.8L811.2,761.1L812.8,761.7L814.3,762.3L815.9,762.9L817.5,763.1L819.0,762.9L820.6,762.1L822.2,760.9L823.8,759.6L825.3,758.2L826.9,757.2L828.5,756.7L830.0,756.8L831.6,757.7L833.2,758.8L834.8,759.9L836.3,760.6L837.9,760.8L839.5,760.8L841.0,760.7L842.6,760.6L844.2,760.4L845.7,760.0L847.3,759.5L848.9,759.0L850.5,758.7L852.0,758.5L853.6,758.5L855.2,758.6L856.7,758.7L858.3,758.8L859.9,758.9L861.5,759.0L863.0,759.0L864.6,759.0L866.2,759.0L867.7,759.0L869.3,759.0L870.9,759.0L872.5,759.0L874.0,759.0L875.6,759.0L877.2,759.0L878.7,759.1L880.3,759.1L881.9,759.2L883.4,759.3L885.0,759.4L886.6,759.5L888.2,759.6L889.7,759.7L891.3,759.8L892.9,759.9L894.4,760.0L896.0,760.2L897.6,760.3L899.2,760.5L900.7,760.6L902.3,760.7L903.9,760.9" fill="none" stroke="#ff0000" stroke-width="1.2"/>
<path d="M778.2,762.5L779.8,762.5L781.3,762.5L782.9,762.5L784.5,762.5L786.1,762.5L787.6,762.5L789.2,762.5L790.8,762.5L792.3,762.5L793.9,762.5L795.5,762.5L797.1,762.5L798.6,762.5L800.2,762.5L801.8,762.5L803.3,762.5L804.9,762.5L806.5,762.5L808.0,762.5L809.6,762.6L811.2,762.9L812.8,763.3L814.3,763.9L815.9,764.4L817.5,764.8L819.0,764.9L820.6,764.9L822.2,764.8L823.8,764.7L825.3,764.5L826.9,764.3L828.5,764.0L830.0,763.7L831.6,763.3L833.2,762.9L834.8,762.5L836.3,762.1L837.9,761.7L839.5,761.4L841.0,761.0L842.6,760.8L844.2,760.7L845.7,760.9L847.3,761.2L848.9,761.6L850.5,762.0L852.0,762.3L853.6,762.5L855.2,762.6L856.7,762.6L858.3,762.6L859.9,762.6L861.5,762.7L863.0,762.7L864.6,762.8L866.2,763.0L867.7,763.2L869.3,763.3L870.9,763.5L872.5,763.7L874.0,763.9L875.6,763.9L877.2,764.0L878.7,764.0L880.3,764.0L881.9,764.0L883.4,764.0L885.0,764.0L886.6,764.0L888.2,764.0L889.7,764.0L891.3,764.0L892.9,763.9L894.4,763.8L896.0,763.7L897.6,763.6L899.2,763.4L900.7,763.2L902.3,763.0L903.9,762.9" fill="none" stroke="#0000ff" stroke-width="1.2"/>
<line x1="778.20" y1="762.53" x2="903.87" y2="762.53" stroke="#000" stroke-width="1" stroke-dasharray="1 1.3"/>
</g>
<path d="M809.62,704.00v4M809.62,791.80v-4M841.04,704.00v4M841.04,791.80v-4M872.45,704.00v4M872.45,791.80v-4M778.50,718.63h2.5M904.50,718.63h-2.5M778.50,733.27h4M904.50,733.27h-4M778.50,747.90h2.5M904.50,747.90h-2.5M778.50,762.53h4M904.50,762.53h-4M778.50,777.17h2.5M904.50,777.17h-2.5" stroke="#000" stroke-width="1" fill="none"/>
<path d="M778.00,704.00H905.00M778.00,791.80H905.00M778.50,703.50V792.30M904.50,703.50V792.30" stroke="#000" stroke-width="1" fill="none"/>
<text x="883.65" y="724.40" class="pn">18</text>
<clipPath id="cB19"><rect x="1030.20" y="704.00" width="125.67" height="87.80"/></clipPath>
<g clip-path="url(#cB19)">
<polygon points="1030.2,751.8 1032.6,751.9 1034.9,752.0 1037.3,752.2 1039.6,752.4 1042.0,752.5 1044.3,752.7 1046.7,752.9 1049.1,753.1 1051.4,753.2 1053.8,753.4 1056.1,753.6 1058.5,753.8 1060.8,754.1 1063.2,754.4 1065.5,754.7 1067.9,755.0 1070.3,755.0 1072.6,754.6 1075.0,753.6 1077.3,752.3 1079.7,751.2 1082.0,750.6 1084.4,751.0 1086.8,752.0 1089.1,752.8 1091.5,753.2 1093.8,753.4 1096.2,753.1 1098.5,752.3 1100.9,751.0 1103.2,749.8 1105.6,749.1 1108.0,748.8 1110.3,748.6 1112.7,748.5 1115.0,748.3 1117.4,748.3 1119.7,748.2 1122.1,748.2 1124.5,748.2 1126.8,748.3 1129.2,748.5 1131.5,748.7 1133.9,748.9 1136.2,749.2 1138.6,749.5 1140.9,749.7 1143.3,750.0 1145.7,750.4 1148.0,750.7 1150.4,751.1 1152.7,751.6 1155.1,751.9 1155.9,752.0 1155.9,768.4 1155.1,768.3 1152.7,768.0 1150.4,767.6 1148.0,767.3 1145.7,767.0 1143.3,766.7 1140.9,766.4 1138.6,766.2 1136.2,765.9 1133.9,765.7 1131.5,765.5 1129.2,765.4 1126.8,765.2 1124.5,765.2 1122.1,765.2 1119.7,765.3 1117.4,765.4 1115.0,765.5 1112.7,765.7 1110.3,765.8 1108.0,766.1 1105.6,766.4 1103.2,767.2 1100.9,768.4 1098.5,769.8 1096.2,770.6 1093.8,770.9 1091.5,770.9 1089.1,770.6 1086.8,770.0 1084.4,769.1 1082.0,768.9 1079.7,769.6 1077.3,770.9 1075.0,772.3 1072.6,773.5 1070.3,774.1 1067.9,774.2 1065.5,774.1 1063.2,773.9 1060.8,773.7 1058.5,773.6 1056.1,773.6 1053.8,773.5 1051.4,773.5 1049.1,773.5 1046.7,773.5 1044.3,773.4 1042.0,773.4 1039.6,773.4 1037.3,773.4 1034.9,773.4 1032.6,773.4 1030.2,773.4" fill="#fdeaea"/>
<polygon points="1030.2,757.3 1032.6,757.3 1034.9,757.3 1037.3,757.3 1039.6,757.3 1042.0,757.4 1044.3,757.4 1046.7,757.4 1049.1,757.4 1051.4,757.5 1053.8,757.5 1056.1,757.6 1058.5,757.6 1060.8,757.7 1063.2,758.0 1065.5,758.6 1067.9,759.2 1070.3,759.4 1072.6,759.2 1075.0,758.7 1077.3,758.2 1079.7,758.0 1082.0,757.8 1084.4,757.6 1086.8,757.4 1089.1,757.1 1091.5,756.8 1093.8,756.6 1096.2,756.7 1098.5,757.3 1100.9,758.3 1103.2,759.2 1105.6,759.8 1108.0,760.0 1110.3,760.1 1112.7,760.2 1115.0,760.3 1117.4,760.4 1119.7,760.4 1122.1,760.5 1124.5,760.5 1126.8,760.5 1129.2,760.4 1131.5,760.4 1133.9,760.4 1136.2,760.3 1138.6,760.2 1140.9,760.1 1143.3,759.9 1145.7,759.7 1148.0,759.5 1150.4,759.2 1152.7,758.9 1155.1,758.6 1155.9,758.5 1155.9,767.9 1155.1,768.0 1152.7,768.3 1150.4,768.6 1148.0,768.9 1145.7,769.2 1143.3,769.4 1140.9,769.6 1138.6,769.7 1136.2,769.8 1133.9,769.9 1131.5,770.0 1129.2,770.1 1126.8,770.1 1124.5,770.1 1122.1,770.1 1119.7,770.1 1117.4,770.1 1115.0,770.1 1112.7,770.0 1110.3,769.9 1108.0,769.8 1105.6,769.6 1103.2,769.1 1100.9,768.2 1098.5,767.2 1096.2,766.6 1093.8,766.5 1091.5,766.8 1089.1,767.1 1086.8,767.4 1084.4,767.7 1082.0,767.9 1079.7,768.0 1077.3,768.3 1075.0,768.8 1072.6,769.3 1070.3,769.6 1067.9,769.3 1065.5,768.8 1063.2,768.3 1060.8,768.0 1058.5,767.9 1056.1,767.9 1053.8,767.8 1051.4,767.8 1049.1,767.8 1046.7,767.8 1044.3,767.8 1042.0,767.8 1039.6,767.8 1037.3,767.8 1034.9,767.8 1032.6,767.8 1030.2,767.8" fill="#ededfc"/>
<line x1="1062.00" y1="791.80" x2="1062.00" y2="704.00" stroke="#000" stroke-width="1" stroke-dasharray="4.8 5.84"/>
<path d="M1030.2,762.6L1031.8,762.6L1033.3,762.6L1034.9,762.7L1036.5,762.8L1038.1,762.8L1039.6,762.9L1041.2,762.9L1042.8,763.0L1044.3,763.1L1045.9,763.1L1047.5,763.2L1049.1,763.3L1050.6,763.3L1052.2,763.4L1053.8,763.5L1055.3,763.5L1056.9,763.6L1058.5,763.7L1060.0,763.8L1061.6,764.0L1063.2,764.1L1064.8,764.3L1066.3,764.5L1067.9,764.6L1069.5,764.6L1071.0,764.5L1072.6,764.1L1074.2,763.4L1075.8,762.5L1077.3,761.6L1078.9,760.7L1080.5,760.0L1082.0,759.6L1083.6,759.8L1085.2,760.3L1086.8,761.0L1088.3,761.6L1089.9,761.9L1091.5,762.1L1093.0,762.2L1094.6,762.2L1096.2,762.0L1097.7,761.5L1099.3,760.7L1100.9,759.7L1102.5,758.8L1104.0,758.1L1105.6,757.7L1107.2,757.5L1108.7,757.3L1110.3,757.2L1111.9,757.1L1113.5,757.0L1115.0,756.9L1116.6,756.8L1118.2,756.8L1119.7,756.7L1121.3,756.7L1122.9,756.7L1124.5,756.7L1126.0,756.7L1127.6,756.8L1129.2,756.9L1130.7,757.0L1132.3,757.2L1133.9,757.3L1135.4,757.5L1137.0,757.6L1138.6,757.8L1140.2,758.0L1141.7,758.2L1143.3,758.4L1144.9,758.6L1146.4,758.8L1148.0,759.0L1149.6,759.3L1151.2,759.5L1152.7,759.8L1154.3,760.0L1155.9,760.2" fill="none" stroke="#ff0000" stroke-width="1.2"/>
<path d="M1030.2,762.5L1031.8,762.5L1033.3,762.5L1034.9,762.5L1036.5,762.5L1038.1,762.5L1039.6,762.6L1041.2,762.6L1042.8,762.6L1044.3,762.6L1045.9,762.6L1047.5,762.6L1049.1,762.6L1050.6,762.6L1052.2,762.7L1053.8,762.7L1055.3,762.7L1056.9,762.7L1058.5,762.8L1060.0,762.8L1061.6,762.9L1063.2,763.1L1064.8,763.5L1066.3,763.9L1067.9,764.3L1069.5,764.5L1071.0,764.5L1072.6,764.3L1074.2,763.9L1075.8,763.5L1077.3,763.2L1078.9,763.1L1080.5,762.9L1082.0,762.8L1083.6,762.7L1085.2,762.6L1086.8,762.4L1088.3,762.2L1089.9,762.0L1091.5,761.8L1093.0,761.6L1094.6,761.5L1096.2,761.6L1097.7,761.9L1099.3,762.5L1100.9,763.3L1102.5,763.9L1104.0,764.4L1105.6,764.7L1107.2,764.8L1108.7,764.9L1110.3,765.0L1111.9,765.1L1113.5,765.1L1115.0,765.2L1116.6,765.2L1118.2,765.3L1119.7,765.3L1121.3,765.3L1122.9,765.3L1124.5,765.3L1126.0,765.3L1127.6,765.3L1129.2,765.3L1130.7,765.2L1132.3,765.2L1133.9,765.1L1135.4,765.1L1137.0,765.0L1138.6,765.0L1140.2,764.9L1141.7,764.8L1143.3,764.7L1144.9,764.5L1146.4,764.4L1148.0,764.2L1149.6,764.0L1151.2,763.8L1152.7,763.6L1154.3,763.4L1155.9,763.2" fill="none" stroke="#0000ff" stroke-width="1.2"/>
<line x1="1030.20" y1="762.53" x2="1155.87" y2="762.53" stroke="#000" stroke-width="1" stroke-dasharray="1 1.3"/>
</g>
<path d="M1061.62,704.00v4M1061.62,791.80v-4M1093.04,704.00v4M1093.04,791.80v-4M1124.45,704.00v4M1124.45,791.80v-4M1030.50,718.63h2.5M1156.50,718.63h-2.5M1030.50,733.27h4M1156.50,733.27h-4M1030.50,747.90h2.5M1156.50,747.90h-2.5M1030.50,762.53h4M1156.50,762.53h-4M1030.50,777.17h2.5M1156.50,777.17h-2.5" stroke="#000" stroke-width="1" fill="none"/>
<path d="M1030.00,704.00H1157.00M1030.00,791.80H1157.00M1030.50,703.50V792.30M1156.50,703.50V792.30" stroke="#000" stroke-width="1" fill="none"/>
<text x="1135.40" y="724.40" class="pn">19</text>
<clipPath id="cB20"><rect x="87.20" y="791.80" width="125.67" height="87.80"/></clipPath>
<g clip-path="url(#cB20)">
<polygon points="87.2,842.5 89.6,842.6 91.9,842.7 94.3,842.9 96.6,843.1 99.0,843.3 101.3,843.5 103.7,843.7 106.1,844.0 108.4,844.2 110.8,844.5 113.1,844.8 115.5,845.0 117.8,845.3 120.2,845.7 122.5,846.3 124.9,847.3 127.3,847.9 129.6,847.6 132.0,846.3 134.3,844.3 136.7,841.9 139.0,840.2 141.4,839.3 143.8,838.9 146.1,838.6 148.5,838.2 150.8,837.7 153.2,837.2 155.5,836.7 157.9,836.5 160.2,836.4 162.6,836.5 165.0,836.7 167.3,836.8 169.7,837.0 172.0,837.3 174.4,837.6 176.7,837.8 179.1,838.1 181.5,838.4 183.8,838.7 186.2,839.0 188.5,839.3 190.9,839.6 193.2,839.9 195.6,840.2 197.9,840.4 200.3,840.7 202.7,841.0 205.0,841.3 207.4,841.7 209.7,842.0 212.1,842.4 212.9,842.4 212.9,857.0 212.1,857.0 209.7,856.6 207.4,856.1 205.0,855.7 202.7,855.3 200.3,854.9 197.9,854.6 195.6,854.2 193.2,853.9 190.9,853.5 188.5,853.1 186.2,852.7 183.8,852.3 181.5,852.0 179.1,851.6 176.7,851.2 174.4,850.9 172.0,850.5 169.7,850.2 167.3,849.9 165.0,849.7 162.6,849.5 160.2,849.4 157.9,849.6 155.5,850.0 153.2,850.5 150.8,851.2 148.5,851.8 146.1,852.3 143.8,852.7 141.4,853.3 139.0,854.3 136.7,856.1 134.3,858.6 132.0,860.7 129.6,862.2 127.3,862.6 124.9,862.0 122.5,861.1 120.2,860.5 117.8,860.2 115.5,860.0 113.1,859.8 110.8,859.6 108.4,859.4 106.1,859.2 103.7,859.0 101.3,858.9 99.0,858.8 96.6,858.6 94.3,858.5 91.9,858.4 89.6,858.3 87.2,858.3" fill="#fdeaea"/>
<polygon points="87.2,843.3 89.6,843.2 91.9,843.1 94.3,843.0 96.6,842.9 99.0,842.9 101.3,842.9 103.7,842.8 106.1,842.8 108.4,842.8 110.8,842.8 113.1,842.8 115.5,842.9 117.8,843.0 120.2,843.2 122.5,843.3 124.9,843.5 127.3,843.5 129.6,843.5 132.0,843.5 134.3,843.6 136.7,843.7 139.0,843.8 141.4,844.1 143.8,844.3 146.1,844.6 148.5,844.8 150.8,845.1 153.2,845.4 155.5,845.7 157.9,845.8 160.2,846.0 162.6,846.1 165.0,846.3 167.3,846.4 169.7,846.4 172.0,846.5 174.4,846.5 176.7,846.4 179.1,846.3 181.5,846.2 183.8,846.1 186.2,845.9 188.5,845.7 190.9,845.5 193.2,845.2 195.6,845.0 197.9,844.7 200.3,844.5 202.7,844.4 205.0,844.2 207.4,844.1 209.7,844.0 212.1,843.9 212.9,843.9 212.9,856.8 212.1,856.8 209.7,856.9 207.4,857.0 205.0,857.2 202.7,857.3 200.3,857.5 197.9,857.7 195.6,858.0 193.2,858.3 190.9,858.6 188.5,858.8 186.2,859.1 183.8,859.2 181.5,859.4 179.1,859.5 176.7,859.6 174.4,859.7 172.0,859.7 169.7,859.7 167.3,859.7 165.0,859.6 162.6,859.5 160.2,859.4 157.9,859.2 155.5,859.1 153.2,858.8 150.8,858.6 148.5,858.3 146.1,858.1 143.8,857.8 141.4,857.6 139.0,857.4 136.7,857.2 134.3,857.2 132.0,857.2 129.6,857.2 127.3,857.2 124.9,857.2 122.5,857.1 120.2,856.9 117.8,856.8 115.5,856.7 113.1,856.7 110.8,856.7 108.4,856.7 106.1,856.7 103.7,856.7 101.3,856.8 99.0,856.8 96.6,856.9 94.3,857.0 91.9,857.1 89.6,857.2 87.2,857.3" fill="#ededfc"/>
<line x1="118.65" y1="879.60" x2="118.65" y2="791.80" stroke="#000" stroke-width="1" stroke-dasharray="4.8 5.84"/>
<path d="M87.2,850.4L88.8,850.4L90.3,850.5L91.9,850.6L93.5,850.7L95.1,850.8L96.6,850.9L98.2,851.0L99.8,851.1L101.3,851.2L102.9,851.3L104.5,851.4L106.1,851.6L107.6,851.7L109.2,851.9L110.8,852.0L112.3,852.2L113.9,852.4L115.5,852.5L117.0,852.7L118.6,852.8L120.2,853.0L121.8,853.4L123.3,854.0L124.9,854.7L126.5,855.3L128.0,855.4L129.6,855.0L131.2,854.2L132.8,853.0L134.3,851.5L135.9,849.8L137.5,848.2L139.0,847.1L140.6,846.5L142.2,846.1L143.8,845.8L145.3,845.6L146.9,845.3L148.5,845.0L150.0,844.7L151.6,844.3L153.2,843.9L154.7,843.5L156.3,843.2L157.9,843.0L159.5,842.9L161.0,842.9L162.6,843.0L164.2,843.1L165.7,843.2L167.3,843.4L168.9,843.5L170.5,843.7L172.0,843.9L173.6,844.1L175.2,844.3L176.7,844.5L178.3,844.7L179.9,845.0L181.5,845.2L183.0,845.4L184.6,845.7L186.2,845.9L187.7,846.1L189.3,846.3L190.9,846.6L192.4,846.8L194.0,847.0L195.6,847.2L197.2,847.4L198.7,847.6L200.3,847.8L201.9,848.0L203.4,848.2L205.0,848.5L206.6,848.7L208.2,849.0L209.7,849.3L211.3,849.6L212.9,849.8" fill="none" stroke="#ff0000" stroke-width="1.2"/>
<path d="M87.2,850.3L88.8,850.2L90.3,850.2L91.9,850.1L93.5,850.0L95.1,850.0L96.6,849.9L98.2,849.9L99.8,849.9L101.3,849.8L102.9,849.8L104.5,849.8L106.1,849.8L107.6,849.8L109.2,849.8L110.8,849.8L112.3,849.7L113.9,849.8L115.5,849.8L117.0,849.8L118.6,849.9L120.2,850.0L121.8,850.2L123.3,850.3L124.9,850.3L126.5,850.3L128.0,850.3L129.6,850.3L131.2,850.3L132.8,850.3L134.3,850.3L135.9,850.4L137.5,850.5L139.0,850.6L140.6,850.8L142.2,850.9L143.8,851.1L145.3,851.2L146.9,851.4L148.5,851.6L150.0,851.8L151.6,852.0L153.2,852.1L154.7,852.3L156.3,852.4L157.9,852.5L159.5,852.6L161.0,852.7L162.6,852.8L164.2,852.9L165.7,853.0L167.3,853.0L168.9,853.1L170.5,853.1L172.0,853.1L173.6,853.1L175.2,853.1L176.7,853.0L178.3,852.9L179.9,852.9L181.5,852.8L183.0,852.7L184.6,852.6L186.2,852.5L187.7,852.4L189.3,852.2L190.9,852.0L192.4,851.9L194.0,851.7L195.6,851.5L197.2,851.3L198.7,851.2L200.3,851.0L201.9,850.9L203.4,850.8L205.0,850.7L206.6,850.6L208.2,850.5L209.7,850.5L211.3,850.4L212.9,850.4" fill="none" stroke="#0000ff" stroke-width="1.2"/>
<line x1="87.20" y1="850.33" x2="212.87" y2="850.33" stroke="#000" stroke-width="1" stroke-dasharray="1 1.3"/>
</g>
<path d="M118.62,791.80v4M118.62,879.60v-4M150.03,791.80v4M150.03,879.60v-4M181.45,791.80v4M181.45,879.60v-4M87.50,806.43h2.5M212.50,806.43h-2.5M87.50,821.07h4M212.50,821.07h-4M87.50,835.70h2.5M212.50,835.70h-2.5M87.50,850.33h4M212.50,850.33h-4M87.50,864.97h2.5M212.50,864.97h-2.5" stroke="#000" stroke-width="1" fill="none"/>
<path d="M87.00,791.80H213.00M87.00,879.60H213.00M87.50,791.30V880.10M212.50,791.30V880.10" stroke="#000" stroke-width="1" fill="none"/>
<text x="191.70" y="811.90" class="pn">20</text>
<clipPath id="cB21"><rect x="212.20" y="791.80" width="125.67" height="87.80"/></clipPath>
<g clip-path="url(#cB21)">
<polygon points="212.2,838.7 214.6,838.8 216.9,839.0 219.3,839.2 221.6,839.4 224.0,839.6 226.3,839.8 228.7,840.0 231.1,840.2 233.4,840.3 235.8,840.5 238.1,840.7 240.5,840.9 242.8,841.1 245.2,841.5 247.5,842.1 249.9,842.6 252.3,842.7 254.6,842.2 257.0,841.1 259.3,839.8 261.7,838.6 264.0,837.9 266.4,837.8 268.8,838.1 271.1,838.5 273.5,838.6 275.8,838.4 278.2,838.0 280.5,837.5 282.9,837.1 285.2,836.8 287.6,836.9 290.0,837.1 292.3,837.4 294.7,837.7 297.0,837.9 299.4,838.0 301.7,838.0 304.1,838.0 306.5,838.1 308.8,838.1 311.2,838.1 313.5,838.2 315.9,838.2 318.2,838.3 320.6,838.4 322.9,838.5 325.3,838.6 327.7,838.7 330.0,838.9 332.4,839.1 334.7,839.4 337.1,839.6 337.9,839.7 337.9,859.0 337.1,858.9 334.7,858.7 332.4,858.4 330.0,858.2 327.7,858.0 325.3,857.9 322.9,857.8 320.6,857.7 318.2,857.6 315.9,857.5 313.5,857.5 311.2,857.4 308.8,857.4 306.5,857.4 304.1,857.4 301.7,857.3 299.4,857.3 297.0,857.2 294.7,857.0 292.3,856.8 290.0,856.4 287.6,856.2 285.2,856.2 282.9,856.4 280.5,856.8 278.2,857.3 275.8,857.8 273.5,858.0 271.1,858.0 268.8,857.9 266.4,857.7 264.0,857.9 261.7,858.8 259.3,860.1 257.0,861.6 254.6,862.9 252.3,863.5 249.9,863.5 247.5,863.2 245.2,862.8 242.8,862.6 240.5,862.4 238.1,862.4 235.8,862.4 233.4,862.4 231.1,862.4 228.7,862.3 226.3,862.3 224.0,862.3 221.6,862.2 219.3,862.2 216.9,862.1 214.6,862.1 212.2,862.1" fill="#fdeaea"/>
<polygon points="212.2,840.8 214.6,840.5 216.9,840.1 219.3,839.9 221.6,839.9 224.0,839.9 226.3,840.0 228.7,840.1 231.1,840.3 233.4,840.4 235.8,840.6 238.1,840.8 240.5,840.9 242.8,841.1 245.2,841.3 247.5,841.5 249.9,841.7 252.3,841.8 254.6,841.8 257.0,841.7 259.3,841.5 261.7,841.3 264.0,841.2 266.4,841.1 268.8,841.0 271.1,841.0 273.5,841.0 275.8,841.2 278.2,841.6 280.5,842.0 282.9,842.5 285.2,842.8 287.6,842.9 290.0,842.8 292.3,842.6 294.7,842.5 297.0,842.3 299.4,842.2 301.7,842.1 304.1,842.2 306.5,842.2 308.8,842.2 311.2,842.3 313.5,842.3 315.9,842.3 318.2,842.3 320.6,842.3 322.9,842.2 325.3,842.2 327.7,842.1 330.0,842.0 332.4,841.9 334.7,841.7 337.1,841.6 337.9,841.6 337.9,859.2 337.1,859.2 334.7,859.3 332.4,859.5 330.0,859.6 327.7,859.7 325.3,859.8 322.9,859.9 320.6,860.0 318.2,860.1 315.9,860.1 313.5,860.1 311.2,860.1 308.8,860.1 306.5,860.0 304.1,860.0 301.7,860.0 299.4,860.1 297.0,860.2 294.7,860.4 292.3,860.6 290.0,860.8 287.6,860.9 285.2,860.8 282.9,860.5 280.5,860.1 278.2,859.7 275.8,859.4 273.5,859.2 271.1,859.2 268.8,859.2 266.4,859.3 264.0,859.5 261.7,859.6 259.3,859.8 257.0,860.0 254.6,860.1 252.3,860.2 249.9,860.1 247.5,859.9 245.2,859.7 242.8,859.6 240.5,859.4 238.1,859.3 235.8,859.1 233.4,859.0 231.1,858.8 228.7,858.7 226.3,858.6 224.0,858.5 221.6,858.5 219.3,858.6 216.9,858.8 214.6,859.2 212.2,859.5" fill="#ededfc"/>
<line x1="243.65" y1="879.60" x2="243.65" y2="791.80" stroke="#000" stroke-width="1" stroke-dasharray="4.8 5.84"/>
<path d="M212.2,850.4L213.8,850.4L215.3,850.5L216.9,850.6L218.5,850.7L220.1,850.8L221.6,850.8L223.2,850.9L224.8,851.0L226.3,851.1L227.9,851.1L229.5,851.2L231.1,851.3L232.6,851.3L234.2,851.4L235.8,851.4L237.3,851.5L238.9,851.6L240.5,851.6L242.0,851.8L243.6,851.9L245.2,852.2L246.8,852.5L248.3,852.8L249.9,853.1L251.5,853.2L253.0,853.1L254.6,852.6L256.2,851.8L257.8,850.9L259.3,850.0L260.9,849.0L262.5,848.3L264.0,847.8L265.6,847.7L267.2,847.8L268.8,848.0L270.3,848.2L271.9,848.3L273.5,848.3L275.0,848.2L276.6,848.0L278.2,847.7L279.7,847.3L281.3,847.0L282.9,846.7L284.5,846.5L286.0,846.5L287.6,846.5L289.2,846.7L290.7,846.9L292.3,847.1L293.9,847.3L295.5,847.5L297.0,847.6L298.6,847.6L300.2,847.6L301.7,847.7L303.3,847.7L304.9,847.7L306.5,847.7L308.0,847.7L309.6,847.8L311.2,847.8L312.7,847.8L314.3,847.8L315.9,847.9L317.4,847.9L319.0,848.0L320.6,848.0L322.2,848.1L323.7,848.2L325.3,848.2L326.9,848.3L328.4,848.4L330.0,848.5L331.6,848.7L333.2,848.8L334.7,849.0L336.3,849.2L337.9,849.4" fill="none" stroke="#ff0000" stroke-width="1.2"/>
<path d="M212.2,850.2L213.8,850.0L215.3,849.7L216.9,849.4L218.5,849.3L220.1,849.2L221.6,849.2L223.2,849.2L224.8,849.3L226.3,849.3L227.9,849.4L229.5,849.5L231.1,849.5L232.6,849.6L234.2,849.7L235.8,849.8L237.3,850.0L238.9,850.1L240.5,850.2L242.0,850.3L243.6,850.4L245.2,850.5L246.8,850.7L248.3,850.8L249.9,850.9L251.5,851.0L253.0,851.0L254.6,851.0L256.2,850.9L257.8,850.8L259.3,850.6L260.9,850.5L262.5,850.4L264.0,850.3L265.6,850.3L267.2,850.2L268.8,850.1L270.3,850.1L271.9,850.1L273.5,850.1L275.0,850.2L276.6,850.4L278.2,850.6L279.7,850.9L281.3,851.2L282.9,851.5L284.5,851.7L286.0,851.9L287.6,851.9L289.2,851.9L290.7,851.8L292.3,851.6L293.9,851.5L295.5,851.4L297.0,851.2L298.6,851.1L300.2,851.1L301.7,851.1L303.3,851.1L304.9,851.1L306.5,851.1L308.0,851.1L309.6,851.2L311.2,851.2L312.7,851.2L314.3,851.2L315.9,851.2L317.4,851.2L319.0,851.2L320.6,851.1L322.2,851.1L323.7,851.1L325.3,851.0L326.9,850.9L328.4,850.9L330.0,850.8L331.6,850.7L333.2,850.6L334.7,850.5L336.3,850.4L337.9,850.4" fill="none" stroke="#0000ff" stroke-width="1.2"/>
<line x1="212.20" y1="850.33" x2="337.87" y2="850.33" stroke="#000" stroke-width="1" stroke-dasharray="1 1.3"/>
</g>
<path d="M243.62,791.80v4M243.62,879.60v-4M275.03,791.80v4M275.03,879.60v-4M306.45,791.80v4M306.45,879.60v-4M213.50,806.43h2.5M338.50,806.43h-2.5M213.50,821.07h4M338.50,821.07h-4M213.50,835.70h2.5M338.50,835.70h-2.5M213.50,850.33h4M338.50,850.33h-4M213.50,864.97h2.5M338.50,864.97h-2.5" stroke="#000" stroke-width="1" fill="none"/>
<path d="M213.00,791.80H339.00M213.00,879.60H339.00M213.50,791.30V880.10M338.50,791.30V880.10" stroke="#000" stroke-width="1" fill="none"/>
<text x="317.40" y="811.90" class="pn">21</text>
<clipPath id="cB22"><rect x="338.20" y="791.80" width="125.67" height="87.80"/></clipPath>
<g clip-path="url(#cB22)">
<polygon points="338.2,832.2 340.6,832.3 342.9,832.4 345.3,832.6 347.6,832.6 350.0,832.7 352.3,832.7 354.7,832.6 357.1,832.6 359.4,832.5 361.8,832.5 364.1,832.5 366.5,832.4 368.8,832.4 371.2,832.4 373.5,832.5 375.9,832.5 378.3,832.5 380.6,832.2 383.0,830.9 385.3,829.0 387.7,827.5 390.0,827.3 392.4,828.5 394.8,829.9 397.1,830.6 399.5,830.7 401.8,830.5 404.2,830.2 406.5,829.8 408.9,829.3 411.2,829.0 413.6,829.0 416.0,829.2 418.3,829.5 420.7,829.7 423.0,829.9 425.4,829.9 427.7,829.9 430.1,829.8 432.5,829.7 434.8,829.6 437.2,829.6 439.5,829.6 441.9,829.6 444.2,829.7 446.6,829.8 448.9,830.0 451.3,830.2 453.7,830.4 456.0,830.7 458.4,830.9 460.7,831.2 463.1,831.4 463.9,831.5 463.9,866.7 463.1,866.6 460.7,866.4 458.4,866.2 456.0,866.1 453.7,865.9 451.3,865.8 448.9,865.7 446.6,865.6 444.2,865.6 441.9,865.6 439.5,865.6 437.2,865.7 434.8,865.9 432.5,866.1 430.1,866.2 427.7,866.4 425.4,866.5 423.0,866.6 420.7,866.5 418.3,866.4 416.0,866.1 413.6,866.1 411.2,866.2 408.9,866.6 406.5,867.1 404.2,867.6 401.8,868.0 399.5,868.3 397.1,868.4 394.8,867.7 392.4,866.4 390.0,865.3 387.7,865.5 385.3,867.0 383.0,868.8 380.6,869.9 378.3,870.2 375.9,870.1 373.5,870.0 371.2,869.8 368.8,869.8 366.5,869.7 364.1,869.7 361.8,869.6 359.4,869.6 357.1,869.5 354.7,869.5 352.3,869.4 350.0,869.4 347.6,869.3 345.3,869.1 342.9,868.9 340.6,868.7 338.2,868.6" fill="#fdeaea"/>
<polygon points="338.2,838.6 340.6,838.4 342.9,838.3 345.3,838.2 347.6,838.1 350.0,838.1 352.3,838.1 354.7,838.2 357.1,838.2 359.4,838.3 361.8,838.4 364.1,838.5 366.5,838.6 368.8,838.8 371.2,839.2 373.5,839.7 375.9,840.3 378.3,840.6 380.6,840.6 383.0,840.4 385.3,840.2 387.7,839.9 390.0,839.5 392.4,839.2 394.8,838.8 397.1,838.5 399.5,838.2 401.8,838.1 404.2,838.3 406.5,838.6 408.9,839.0 411.2,839.3 413.6,839.6 416.0,839.7 418.3,839.8 420.7,839.9 423.0,840.0 425.4,840.1 427.7,840.1 430.1,840.2 432.5,840.2 434.8,840.2 437.2,840.2 439.5,840.2 441.9,840.2 444.2,840.1 446.6,840.0 448.9,839.9 451.3,839.9 453.7,839.8 456.0,839.7 458.4,839.5 460.7,839.4 463.1,839.3 463.9,839.3 463.9,861.5 463.1,861.5 460.7,861.7 458.4,861.8 456.0,862.0 453.7,862.1 451.3,862.2 448.9,862.3 446.6,862.4 444.2,862.5 441.9,862.6 439.5,862.7 437.2,862.7 434.8,862.8 432.5,862.7 430.1,862.7 427.7,862.7 425.4,862.7 423.0,862.6 420.7,862.5 418.3,862.5 416.0,862.4 413.6,862.3 411.2,862.1 408.9,861.8 406.5,861.4 404.2,861.1 401.8,861.0 399.5,861.0 397.1,861.3 394.8,861.7 392.4,862.1 390.0,862.5 387.7,862.8 385.3,863.1 383.0,863.4 380.6,863.6 378.3,863.6 375.9,863.3 373.5,862.8 371.2,862.3 368.8,861.9 366.5,861.8 364.1,861.7 361.8,861.6 359.4,861.5 357.1,861.5 354.7,861.4 352.3,861.4 350.0,861.4 347.6,861.4 345.3,861.5 342.9,861.6 340.6,861.8 338.2,862.0" fill="#ededfc"/>
<line x1="369.65" y1="879.60" x2="369.65" y2="791.80" stroke="#000" stroke-width="1" stroke-dasharray="4.8 5.84"/>
<path d="M338.2,850.4L339.8,850.5L341.3,850.6L342.9,850.7L344.5,850.8L346.1,850.9L347.6,850.9L349.2,851.0L350.8,851.0L352.3,851.1L353.9,851.1L355.5,851.1L357.1,851.1L358.6,851.1L360.2,851.1L361.8,851.1L363.3,851.1L364.9,851.1L366.5,851.1L368.0,851.1L369.6,851.1L371.2,851.1L372.8,851.2L374.3,851.3L375.9,851.3L377.5,851.4L379.0,851.4L380.6,851.2L382.2,850.5L383.8,849.3L385.3,847.9L386.9,846.7L388.5,846.0L390.0,846.1L391.6,846.9L393.2,848.0L394.8,848.9L396.3,849.5L397.9,849.6L399.5,849.5L401.0,849.3L402.6,849.1L404.2,848.9L405.7,848.6L407.3,848.3L408.9,848.0L410.5,847.7L412.0,847.5L413.6,847.5L415.2,847.6L416.7,847.7L418.3,847.9L419.9,848.1L421.5,848.2L423.0,848.3L424.6,848.2L426.2,848.2L427.7,848.1L429.3,848.1L430.9,848.0L432.5,847.9L434.0,847.8L435.6,847.7L437.2,847.6L438.7,847.6L440.3,847.6L441.9,847.6L443.4,847.6L445.0,847.6L446.6,847.7L448.2,847.8L449.7,847.9L451.3,848.0L452.9,848.1L454.4,848.2L456.0,848.4L457.6,848.5L459.2,848.6L460.7,848.8L462.3,849.0L463.9,849.1" fill="none" stroke="#ff0000" stroke-width="1.2"/>
<path d="M338.2,850.3L339.8,850.2L341.3,850.1L342.9,849.9L344.5,849.9L346.1,849.8L347.6,849.8L349.2,849.8L350.8,849.8L352.3,849.8L353.9,849.8L355.5,849.8L357.1,849.9L358.6,849.9L360.2,850.0L361.8,850.0L363.3,850.1L364.9,850.1L366.5,850.2L368.0,850.3L369.6,850.4L371.2,850.7L372.8,851.1L374.3,851.5L375.9,851.8L377.5,852.1L379.0,852.2L380.6,852.1L382.2,852.0L383.8,851.8L385.3,851.6L386.9,851.4L388.5,851.2L390.0,851.0L391.6,850.8L393.2,850.5L394.8,850.3L396.3,850.0L397.9,849.8L399.5,849.6L401.0,849.5L402.6,849.5L404.2,849.7L405.7,849.9L407.3,850.1L408.9,850.4L410.5,850.6L412.0,850.8L413.6,850.9L415.2,851.0L416.7,851.1L418.3,851.1L419.9,851.2L421.5,851.2L423.0,851.3L424.6,851.3L426.2,851.4L427.7,851.4L429.3,851.4L430.9,851.5L432.5,851.5L434.0,851.5L435.6,851.5L437.2,851.5L438.7,851.5L440.3,851.5L441.9,851.4L443.4,851.4L445.0,851.3L446.6,851.2L448.2,851.2L449.7,851.1L451.3,851.0L452.9,851.0L454.4,850.9L456.0,850.8L457.6,850.7L459.2,850.6L460.7,850.5L462.3,850.4L463.9,850.4" fill="none" stroke="#0000ff" stroke-width="1.2"/>
<line x1="338.20" y1="850.33" x2="463.87" y2="850.33" stroke="#000" stroke-width="1" stroke-dasharray="1 1.3"/>
</g>
<path d="M369.62,791.80v4M369.62,879.60v-4M401.03,791.80v4M401.03,879.60v-4M432.45,791.80v4M432.45,879.60v-4M338.50,806.43h2.5M464.50,806.43h-2.5M338.50,821.07h4M464.50,821.07h-4M338.50,835.70h2.5M464.50,835.70h-2.5M338.50,850.33h4M464.50,850.33h-4M338.50,864.97h2.5M464.50,864.97h-2.5" stroke="#000" stroke-width="1" fill="none"/>
<path d="M338.00,791.80H465.00M338.00,879.60H465.00M338.50,791.30V880.10M464.50,791.30V880.10" stroke="#000" stroke-width="1" fill="none"/>
<text x="444.10" y="811.90" class="pn">22</text>
<clipPath id="cB23"><rect x="967.20" y="791.80" width="125.67" height="87.80"/></clipPath>
<g clip-path="url(#cB23)">
<polygon points="967.2,834.3 969.6,834.6 971.9,834.8 974.3,835.0 976.6,835.2 979.0,835.3 981.3,835.4 983.7,835.4 986.1,835.3 988.4,835.2 990.8,835.1 993.1,835.1 995.5,835.0 997.8,835.0 1000.2,835.1 1002.5,835.2 1004.9,835.3 1007.3,835.2 1009.6,834.7 1012.0,833.8 1014.3,832.3 1016.7,830.7 1019.0,829.9 1021.4,830.4 1023.8,831.7 1026.1,833.1 1028.5,834.1 1030.8,834.5 1033.2,834.2 1035.5,833.3 1037.9,832.1 1040.2,830.8 1042.6,829.8 1045.0,829.1 1047.3,828.6 1049.7,828.2 1052.0,827.9 1054.4,827.6 1056.7,827.5 1059.1,827.3 1061.5,827.2 1063.8,827.1 1066.2,827.1 1068.5,827.1 1070.9,827.3 1073.2,827.6 1075.6,828.0 1077.9,828.5 1080.3,828.9 1082.7,829.3 1085.0,829.7 1087.4,830.2 1089.7,830.6 1092.1,831.1 1092.9,831.1 1092.9,863.3 1092.1,863.2 1089.7,862.8 1087.4,862.4 1085.0,861.9 1082.7,861.5 1080.3,861.1 1077.9,860.7 1075.6,860.2 1073.2,859.8 1070.9,859.5 1068.5,859.3 1066.2,859.3 1063.8,859.3 1061.5,859.4 1059.1,859.5 1056.7,859.7 1054.4,859.8 1052.0,860.1 1049.7,860.4 1047.3,860.8 1045.0,861.3 1042.6,862.0 1040.2,863.0 1037.9,864.3 1035.5,865.5 1033.2,866.4 1030.8,866.7 1028.5,866.3 1026.1,865.3 1023.8,863.9 1021.4,862.6 1019.0,862.1 1016.7,862.9 1014.3,864.5 1012.0,866.0 1009.6,866.9 1007.3,867.4 1004.9,867.5 1002.5,867.4 1000.2,867.3 997.8,867.2 995.5,867.2 993.1,867.3 990.8,867.3 988.4,867.4 986.1,867.5 983.7,867.6 981.3,867.6 979.0,867.5 976.6,867.4 974.3,867.2 971.9,867.0 969.6,866.7 967.2,866.5" fill="#fdeaea"/>
<polygon points="967.2,839.4 969.6,839.2 971.9,839.0 974.3,838.9 976.6,838.8 979.0,838.9 981.3,838.9 983.7,839.0 986.1,839.1 988.4,839.1 990.8,839.2 993.1,839.4 995.5,839.6 997.8,840.1 1000.2,840.8 1002.5,841.7 1004.9,842.4 1007.3,842.8 1009.6,842.9 1012.0,842.7 1014.3,842.3 1016.7,841.9 1019.0,841.6 1021.4,841.3 1023.8,841.0 1026.1,840.5 1028.5,839.7 1030.8,839.1 1033.2,839.0 1035.5,839.6 1037.9,840.5 1040.2,841.4 1042.6,842.3 1045.0,843.1 1047.3,843.7 1049.7,844.1 1052.0,844.5 1054.4,844.8 1056.7,845.0 1059.1,845.1 1061.5,845.2 1063.8,845.2 1066.2,845.3 1068.5,845.3 1070.9,845.3 1073.2,845.1 1075.6,844.9 1077.9,844.6 1080.3,844.2 1082.7,843.8 1085.0,843.5 1087.4,843.1 1089.7,842.8 1092.1,842.5 1092.9,842.4 1092.9,860.0 1092.1,860.1 1089.7,860.4 1087.4,860.9 1085.0,861.3 1082.7,861.7 1080.3,862.1 1077.9,862.5 1075.6,862.9 1073.2,863.2 1070.9,863.4 1068.5,863.5 1066.2,863.6 1063.8,863.6 1061.5,863.6 1059.1,863.6 1056.7,863.6 1054.4,863.4 1052.0,863.2 1049.7,862.9 1047.3,862.5 1045.0,862.0 1042.6,861.3 1040.2,860.5 1037.9,859.6 1035.5,858.7 1033.2,858.2 1030.8,858.4 1028.5,859.1 1026.1,859.9 1023.8,860.5 1021.4,860.9 1019.0,861.3 1016.7,861.7 1014.3,862.2 1012.0,862.7 1009.6,863.0 1007.3,863.0 1004.9,862.7 1002.5,862.0 1000.2,861.3 997.8,860.6 995.5,860.2 993.1,860.1 990.8,860.0 988.4,860.0 986.1,860.0 983.7,860.0 981.3,860.0 979.0,860.1 976.6,860.1 974.3,860.3 971.9,860.5 969.6,860.8 967.2,861.0" fill="#ededfc"/>
<line x1="999.00" y1="879.60" x2="999.00" y2="791.80" stroke="#000" stroke-width="1" stroke-dasharray="4.8 5.84"/>
<path d="M967.2,850.4L968.8,850.6L970.3,850.7L971.9,850.9L973.5,851.1L975.1,851.2L976.6,851.3L978.2,851.4L979.8,851.5L981.3,851.5L982.9,851.5L984.5,851.5L986.1,851.4L987.6,851.4L989.2,851.3L990.8,851.2L992.3,851.2L993.9,851.1L995.5,851.1L997.0,851.1L998.6,851.1L1000.2,851.2L1001.8,851.3L1003.3,851.4L1004.9,851.4L1006.5,851.4L1008.0,851.2L1009.6,850.8L1011.2,850.3L1012.8,849.5L1014.3,848.5L1015.9,847.3L1017.5,846.3L1019.0,845.8L1020.6,846.0L1022.2,846.8L1023.8,847.8L1025.3,848.8L1026.9,849.6L1028.5,850.3L1030.0,850.7L1031.6,850.7L1033.2,850.3L1034.7,849.8L1036.3,849.1L1037.9,848.2L1039.5,847.3L1041.0,846.5L1042.6,845.8L1044.2,845.4L1045.7,845.0L1047.3,844.7L1048.9,844.4L1050.5,844.2L1052.0,844.0L1053.6,843.8L1055.2,843.7L1056.7,843.6L1058.3,843.5L1059.9,843.4L1061.5,843.3L1063.0,843.3L1064.6,843.2L1066.2,843.2L1067.7,843.2L1069.3,843.2L1070.9,843.4L1072.4,843.6L1074.0,843.8L1075.6,844.1L1077.2,844.4L1078.7,844.7L1080.3,845.0L1081.9,845.3L1083.4,845.5L1085.0,845.8L1086.6,846.1L1088.2,846.4L1089.7,846.7L1091.3,847.1L1092.9,847.3" fill="none" stroke="#ff0000" stroke-width="1.2"/>
<path d="M967.2,850.3L968.8,850.1L970.3,849.9L971.9,849.8L973.5,849.6L975.1,849.5L976.6,849.5L978.2,849.5L979.8,849.5L981.3,849.5L982.9,849.5L984.5,849.5L986.1,849.5L987.6,849.6L989.2,849.6L990.8,849.6L992.3,849.7L993.9,849.7L995.5,849.9L997.0,850.1L998.6,850.5L1000.2,851.0L1001.8,851.6L1003.3,852.1L1004.9,852.6L1006.5,852.9L1008.0,853.0L1009.6,853.0L1011.2,852.8L1012.8,852.6L1014.3,852.3L1015.9,852.0L1017.5,851.7L1019.0,851.4L1020.6,851.2L1022.2,851.0L1023.8,850.8L1025.3,850.5L1026.9,850.0L1028.5,849.4L1030.0,848.9L1031.6,848.5L1033.2,848.5L1034.7,848.9L1036.3,849.4L1037.9,850.0L1039.5,850.7L1041.0,851.3L1042.6,851.8L1044.2,852.4L1045.7,852.8L1047.3,853.1L1048.9,853.4L1050.5,853.6L1052.0,853.8L1053.6,854.0L1055.2,854.2L1056.7,854.3L1058.3,854.4L1059.9,854.4L1061.5,854.4L1063.0,854.4L1064.6,854.4L1066.2,854.4L1067.7,854.4L1069.3,854.4L1070.9,854.4L1072.4,854.3L1074.0,854.1L1075.6,853.9L1077.2,853.7L1078.7,853.4L1080.3,853.2L1081.9,852.9L1083.4,852.6L1085.0,852.4L1086.6,852.1L1088.2,851.9L1089.7,851.6L1091.3,851.4L1092.9,851.2" fill="none" stroke="#0000ff" stroke-width="1.2"/>
<line x1="967.20" y1="850.33" x2="1092.87" y2="850.33" stroke="#000" stroke-width="1" stroke-dasharray="1 1.3"/>
</g>
<path d="M998.62,791.80v4M998.62,879.60v-4M1030.04,791.80v4M1030.04,879.60v-4M1061.45,791.80v4M1061.45,879.60v-4M967.50,806.43h2.5M1093.50,806.43h-2.5M967.50,821.07h4M1093.50,821.07h-4M967.50,835.70h2.5M1093.50,835.70h-2.5M967.50,850.33h4M1093.50,850.33h-4M967.50,864.97h2.5M1093.50,864.97h-2.5" stroke="#000" stroke-width="1" fill="none"/>
<path d="M967.00,791.80H1094.00M967.00,879.60H1094.00M967.50,791.30V880.10M1093.50,791.30V880.10" stroke="#000" stroke-width="1" fill="none"/>
<text x="1072.85" y="811.90" class="pn">23</text>
<clipPath id="cB24"><rect x="1093.20" y="791.80" width="125.67" height="87.80"/></clipPath>
<g clip-path="url(#cB24)">
<polygon points="1093.2,840.8 1095.6,841.1 1097.9,841.5 1100.3,841.9 1102.6,842.2 1105.0,842.5 1107.3,842.7 1109.7,842.8 1112.1,842.9 1114.4,843.0 1116.8,843.1 1119.1,843.2 1121.5,843.3 1123.8,843.5 1126.2,843.8 1128.5,844.4 1130.9,845.2 1133.3,845.7 1135.6,845.3 1138.0,843.6 1140.3,841.4 1142.7,839.4 1145.0,838.0 1147.4,837.6 1149.8,837.7 1152.1,837.9 1154.5,838.1 1156.8,838.0 1159.2,837.4 1161.5,836.3 1163.9,835.0 1166.2,833.8 1168.6,833.0 1171.0,832.6 1173.3,832.2 1175.7,832.0 1178.0,831.9 1180.4,832.0 1182.7,832.1 1185.1,832.2 1187.5,832.4 1189.8,832.6 1192.2,832.9 1194.5,833.5 1196.9,834.1 1199.2,834.7 1201.6,835.2 1203.9,835.6 1206.3,836.0 1208.7,836.3 1211.0,836.5 1213.4,836.8 1215.7,836.9 1218.1,837.0 1218.9,837.0 1218.9,855.7 1218.1,855.7 1215.7,855.6 1213.4,855.5 1211.0,855.3 1208.7,855.0 1206.3,854.7 1203.9,854.3 1201.6,854.0 1199.2,853.5 1196.9,852.9 1194.5,852.2 1192.2,851.7 1189.8,851.4 1187.5,851.1 1185.1,850.9 1182.7,850.8 1180.4,850.7 1178.0,850.7 1175.7,850.7 1173.3,850.9 1171.0,851.3 1168.6,851.8 1166.2,852.5 1163.9,853.7 1161.5,855.0 1159.2,856.1 1156.8,856.7 1154.5,856.8 1152.1,856.6 1149.8,856.4 1147.4,856.4 1145.0,856.8 1142.7,858.1 1140.3,860.2 1138.0,862.3 1135.6,864.0 1133.3,864.5 1130.9,864.0 1128.5,863.3 1126.2,862.7 1123.8,862.4 1121.5,862.2 1119.1,862.1 1116.8,862.1 1114.4,862.0 1112.1,862.0 1109.7,861.9 1107.3,861.8 1105.0,861.6 1102.6,861.4 1100.3,861.1 1097.9,860.8 1095.6,860.4 1093.2,860.1" fill="#fdeaea"/>
<polygon points="1093.2,845.3 1095.6,845.3 1097.9,845.2 1100.3,845.1 1102.6,845.0 1105.0,844.9 1107.3,844.8 1109.7,844.6 1112.1,844.4 1114.4,844.1 1116.8,843.8 1119.1,843.6 1121.5,843.4 1123.8,843.3 1126.2,843.5 1128.5,844.1 1130.9,844.7 1133.3,845.1 1135.6,845.1 1138.0,844.9 1140.3,844.6 1142.7,844.4 1145.0,844.4 1147.4,844.4 1149.8,844.6 1152.1,844.8 1154.5,845.0 1156.8,845.3 1159.2,845.7 1161.5,846.4 1163.9,847.3 1166.2,848.1 1168.6,848.6 1171.0,848.9 1173.3,849.2 1175.7,849.4 1178.0,849.5 1180.4,849.6 1182.7,849.6 1185.1,849.6 1187.5,849.6 1189.8,849.5 1192.2,849.4 1194.5,849.2 1196.9,849.0 1199.2,848.8 1201.6,848.4 1203.9,848.1 1206.3,847.7 1208.7,847.5 1211.0,847.2 1213.4,846.9 1215.7,846.7 1218.1,846.5 1218.9,846.5 1218.9,855.8 1218.1,855.9 1215.7,856.1 1213.4,856.3 1211.0,856.6 1208.7,856.9 1206.3,857.2 1203.9,857.5 1201.6,857.9 1199.2,858.2 1196.9,858.5 1194.5,858.7 1192.2,858.8 1189.8,859.0 1187.5,859.1 1185.1,859.1 1182.7,859.2 1180.4,859.2 1178.0,859.1 1175.7,858.9 1173.3,858.8 1171.0,858.5 1168.6,858.2 1166.2,857.7 1163.9,856.9 1161.5,856.1 1159.2,855.4 1156.8,855.0 1154.5,854.7 1152.1,854.5 1149.8,854.3 1147.4,854.1 1145.0,854.1 1142.7,854.1 1140.3,854.3 1138.0,854.6 1135.6,854.9 1133.3,854.9 1130.9,854.5 1128.5,853.9 1126.2,853.3 1123.8,853.1 1121.5,853.2 1119.1,853.4 1116.8,853.7 1114.4,853.9 1112.1,854.2 1109.7,854.5 1107.3,854.7 1105.0,854.8 1102.6,854.9 1100.3,855.0 1097.9,855.1 1095.6,855.2 1093.2,855.3" fill="#ededfc"/>
<line x1="1125.00" y1="879.60" x2="1125.00" y2="791.80" stroke="#000" stroke-width="1" stroke-dasharray="4.8 5.84"/>
<path d="M1093.2,850.4L1094.8,850.6L1096.3,850.9L1097.9,851.1L1099.5,851.4L1101.1,851.6L1102.6,851.8L1104.2,852.0L1105.8,852.1L1107.3,852.2L1108.9,852.3L1110.5,852.4L1112.1,852.5L1113.6,852.5L1115.2,852.5L1116.8,852.6L1118.3,852.6L1119.9,852.7L1121.5,852.7L1123.0,852.8L1124.6,853.0L1126.2,853.2L1127.8,853.6L1129.3,854.1L1130.9,854.6L1132.5,855.1L1134.0,855.3L1135.6,854.8L1137.2,853.7L1138.8,852.3L1140.3,850.8L1141.9,849.4L1143.5,848.1L1145.0,847.3L1146.6,847.0L1148.2,847.0L1149.8,847.1L1151.3,847.2L1152.9,847.3L1154.5,847.4L1156.0,847.5L1157.6,847.3L1159.2,846.8L1160.7,846.1L1162.3,845.2L1163.9,844.3L1165.5,843.5L1167.0,842.8L1168.6,842.4L1170.2,842.0L1171.7,841.8L1173.3,841.6L1174.9,841.4L1176.5,841.3L1178.0,841.3L1179.6,841.3L1181.2,841.3L1182.7,841.4L1184.3,841.5L1185.9,841.6L1187.5,841.8L1189.0,841.9L1190.6,842.1L1192.2,842.3L1193.7,842.6L1195.3,843.0L1196.9,843.5L1198.4,843.9L1200.0,844.3L1201.6,844.6L1203.2,844.9L1204.7,845.1L1206.3,845.3L1207.9,845.5L1209.4,845.7L1211.0,845.9L1212.6,846.1L1214.2,846.2L1215.7,846.3L1217.3,846.3L1218.9,846.4" fill="none" stroke="#ff0000" stroke-width="1.2"/>
<path d="M1093.2,850.3L1094.8,850.3L1096.3,850.2L1097.9,850.2L1099.5,850.1L1101.1,850.1L1102.6,850.0L1104.2,849.9L1105.8,849.8L1107.3,849.7L1108.9,849.6L1110.5,849.5L1112.1,849.3L1113.6,849.1L1115.2,848.9L1116.8,848.7L1118.3,848.6L1119.9,848.4L1121.5,848.3L1123.0,848.2L1124.6,848.2L1126.2,848.4L1127.8,848.7L1129.3,849.2L1130.9,849.7L1132.5,850.0L1134.0,850.1L1135.6,850.0L1137.2,849.8L1138.8,849.6L1140.3,849.4L1141.9,849.3L1143.5,849.2L1145.0,849.2L1146.6,849.2L1148.2,849.3L1149.8,849.4L1151.3,849.5L1152.9,849.7L1154.5,849.8L1156.0,850.0L1157.6,850.2L1159.2,850.5L1160.7,851.0L1162.3,851.5L1163.9,852.1L1165.5,852.7L1167.0,853.1L1168.6,853.4L1170.2,853.7L1171.7,853.8L1173.3,854.0L1174.9,854.1L1176.5,854.2L1178.0,854.3L1179.6,854.4L1181.2,854.4L1182.7,854.4L1184.3,854.4L1185.9,854.4L1187.5,854.3L1189.0,854.3L1190.6,854.2L1192.2,854.1L1193.7,854.0L1195.3,853.9L1196.9,853.8L1198.4,853.6L1200.0,853.4L1201.6,853.1L1203.2,852.9L1204.7,852.7L1206.3,852.5L1207.9,852.3L1209.4,852.1L1211.0,851.9L1212.6,851.7L1214.2,851.5L1215.7,851.4L1217.3,851.2L1218.9,851.1" fill="none" stroke="#0000ff" stroke-width="1.2"/>
<line x1="1093.20" y1="850.33" x2="1218.87" y2="850.33" stroke="#000" stroke-width="1" stroke-dasharray="1 1.3"/>
</g>
<path d="M1124.62,791.80v4M1124.62,879.60v-4M1156.04,791.80v4M1156.04,879.60v-4M1187.45,791.80v4M1187.45,879.60v-4M1093.50,806.43h2.5M1218.50,806.43h-2.5M1093.50,821.07h4M1218.50,821.07h-4M1093.50,835.70h2.5M1218.50,835.70h-2.5M1093.50,850.33h4M1218.50,850.33h-4M1093.50,864.97h2.5M1218.50,864.97h-2.5" stroke="#000" stroke-width="1" fill="none"/>
<path d="M1093.00,791.80H1219.00M1093.00,879.60H1219.00M1093.50,791.30V880.10M1218.50,791.30V880.10" stroke="#000" stroke-width="1" fill="none"/>
<text x="1198.85" y="811.90" class="pn">24</text>
<clipPath id="cB25"><rect x="1218.20" y="791.80" width="125.67" height="87.80"/></clipPath>
<g clip-path="url(#cB25)">
<polygon points="1218.2,836.1 1220.6,836.4 1222.9,836.7 1225.3,837.1 1227.6,837.4 1230.0,837.7 1232.3,838.1 1234.7,838.4 1237.1,838.7 1239.4,839.0 1241.8,839.3 1244.1,839.6 1246.5,839.9 1248.8,840.2 1251.2,840.7 1253.5,841.3 1255.9,842.3 1258.3,843.1 1260.6,842.4 1263.0,840.5 1265.3,838.1 1267.7,835.8 1270.0,834.0 1272.4,832.9 1274.8,832.1 1277.1,831.5 1279.5,830.8 1281.8,829.9 1284.2,829.0 1286.5,828.1 1288.9,827.3 1291.2,826.8 1293.6,826.5 1296.0,826.3 1298.3,826.4 1300.7,826.6 1303.0,826.9 1305.4,827.3 1307.7,827.6 1310.1,828.0 1312.5,828.4 1314.8,828.8 1317.2,829.3 1319.5,829.8 1321.9,830.5 1324.2,831.1 1326.6,831.7 1328.9,832.2 1331.3,832.7 1333.7,833.1 1336.0,833.6 1338.4,834.0 1340.7,834.4 1343.1,834.7 1343.9,834.7 1343.9,861.6 1343.1,861.5 1340.7,861.1 1338.4,860.5 1336.0,860.0 1333.7,859.4 1331.3,858.7 1328.9,858.1 1326.6,857.4 1324.2,856.7 1321.9,855.9 1319.5,855.1 1317.2,854.3 1314.8,853.7 1312.5,853.1 1310.1,852.6 1307.7,852.1 1305.4,851.5 1303.0,851.0 1300.7,850.5 1298.3,850.1 1296.0,849.9 1293.6,850.1 1291.2,850.5 1288.9,851.2 1286.5,852.1 1284.2,853.2 1281.8,854.3 1279.5,855.4 1277.1,856.3 1274.8,857.1 1272.4,858.1 1270.0,859.4 1267.7,861.4 1265.3,863.9 1263.0,866.5 1260.6,868.6 1258.3,869.5 1255.9,868.9 1253.5,868.0 1251.2,867.6 1248.8,867.3 1246.5,867.1 1244.1,867.0 1241.8,866.8 1239.4,866.7 1237.1,866.6 1234.7,866.5 1232.3,866.3 1230.0,866.2 1227.6,866.0 1225.3,865.8 1222.9,865.6 1220.6,865.5 1218.2,865.3" fill="#fdeaea"/>
<polygon points="1218.2,840.8 1220.6,840.8 1222.9,840.8 1225.3,840.7 1227.6,840.6 1230.0,840.6 1232.3,840.4 1234.7,840.3 1237.1,840.1 1239.4,839.8 1241.8,839.5 1244.1,839.3 1246.5,839.1 1248.8,839.0 1251.2,838.9 1253.5,839.0 1255.9,839.0 1258.3,839.0 1260.6,839.1 1263.0,839.2 1265.3,839.7 1267.7,840.5 1270.0,841.4 1272.4,842.0 1274.8,842.6 1277.1,843.1 1279.5,843.5 1281.8,843.9 1284.2,844.4 1286.5,844.8 1288.9,845.3 1291.2,845.7 1293.6,846.1 1296.0,846.4 1298.3,846.6 1300.7,846.7 1303.0,846.7 1305.4,846.8 1307.7,846.8 1310.1,846.7 1312.5,846.7 1314.8,846.5 1317.2,846.4 1319.5,846.1 1321.9,845.9 1324.2,845.5 1326.6,845.2 1328.9,844.8 1331.3,844.5 1333.7,844.2 1336.0,843.8 1338.4,843.5 1340.7,843.2 1343.1,842.9 1343.9,842.8 1343.9,860.4 1343.1,860.5 1340.7,860.8 1338.4,861.1 1336.0,861.5 1333.7,861.8 1331.3,862.2 1328.9,862.5 1326.6,862.9 1324.2,863.3 1321.9,863.6 1319.5,863.9 1317.2,864.2 1314.8,864.4 1312.5,864.5 1310.1,864.6 1307.7,864.7 1305.4,864.7 1303.0,864.7 1300.7,864.6 1298.3,864.6 1296.0,864.4 1293.6,864.2 1291.2,863.8 1288.9,863.4 1286.5,862.9 1284.2,862.5 1281.8,862.1 1279.5,861.7 1277.1,861.2 1274.8,860.8 1272.4,860.3 1270.0,859.6 1267.7,858.8 1265.3,858.0 1263.0,857.5 1260.6,857.4 1258.3,857.4 1255.9,857.4 1253.5,857.4 1251.2,857.4 1248.8,857.4 1246.5,857.5 1244.1,857.7 1241.8,858.0 1239.4,858.3 1237.1,858.6 1234.7,858.9 1232.3,859.0 1230.0,859.2 1227.6,859.3 1225.3,859.4 1222.9,859.5 1220.6,859.5 1218.2,859.5" fill="#ededfc"/>
<line x1="1250.00" y1="879.60" x2="1250.00" y2="791.80" stroke="#000" stroke-width="1" stroke-dasharray="4.8 5.84"/>
<path d="M1218.2,850.7L1219.8,850.8L1221.3,851.0L1222.9,851.2L1224.5,851.4L1226.1,851.5L1227.6,851.7L1229.2,851.9L1230.8,852.0L1232.3,852.2L1233.9,852.4L1235.5,852.5L1237.1,852.6L1238.6,852.8L1240.2,852.9L1241.8,853.1L1243.3,853.2L1244.9,853.3L1246.5,853.5L1248.0,853.7L1249.6,853.9L1251.2,854.1L1252.8,854.4L1254.3,854.9L1255.9,855.6L1257.5,856.3L1259.0,856.5L1260.6,855.7L1262.2,854.3L1263.8,852.7L1265.3,851.0L1266.9,849.3L1268.5,847.8L1270.0,846.6L1271.6,845.8L1273.2,845.1L1274.8,844.6L1276.3,844.2L1277.9,843.7L1279.5,843.1L1281.0,842.5L1282.6,841.8L1284.2,841.1L1285.7,840.4L1287.3,839.7L1288.9,839.2L1290.5,838.8L1292.0,838.5L1293.6,838.2L1295.2,838.1L1296.7,838.1L1298.3,838.2L1299.9,838.4L1301.5,838.7L1303.0,839.0L1304.6,839.3L1306.2,839.6L1307.7,839.9L1309.3,840.1L1310.9,840.4L1312.5,840.7L1314.0,841.1L1315.6,841.4L1317.2,841.8L1318.7,842.2L1320.3,842.7L1321.9,843.2L1323.4,843.7L1325.0,844.1L1326.6,844.5L1328.2,844.9L1329.7,845.3L1331.3,845.7L1332.9,846.1L1334.4,846.4L1336.0,846.8L1337.6,847.1L1339.2,847.4L1340.7,847.7L1342.3,848.0L1343.9,848.2" fill="none" stroke="#ff0000" stroke-width="1.2"/>
<path d="M1218.2,850.2L1219.8,850.2L1221.3,850.2L1222.9,850.1L1224.5,850.1L1226.1,850.0L1227.6,850.0L1229.2,849.9L1230.8,849.8L1232.3,849.8L1233.9,849.7L1235.5,849.5L1237.1,849.4L1238.6,849.2L1240.2,849.0L1241.8,848.8L1243.3,848.6L1244.9,848.4L1246.5,848.3L1248.0,848.2L1249.6,848.2L1251.2,848.1L1252.8,848.1L1254.3,848.2L1255.9,848.2L1257.5,848.2L1259.0,848.2L1260.6,848.2L1262.2,848.3L1263.8,848.4L1265.3,848.8L1266.9,849.3L1268.5,850.0L1270.0,850.5L1271.6,851.0L1273.2,851.4L1274.8,851.7L1276.3,852.0L1277.9,852.3L1279.5,852.6L1281.0,852.9L1282.6,853.1L1284.2,853.4L1285.7,853.7L1287.3,854.0L1288.9,854.3L1290.5,854.6L1292.0,854.9L1293.6,855.2L1295.2,855.4L1296.7,855.5L1298.3,855.6L1299.9,855.6L1301.5,855.7L1303.0,855.7L1304.6,855.7L1306.2,855.7L1307.7,855.7L1309.3,855.7L1310.9,855.7L1312.5,855.6L1314.0,855.5L1315.6,855.4L1317.2,855.3L1318.7,855.1L1320.3,855.0L1321.9,854.8L1323.4,854.5L1325.0,854.3L1326.6,854.0L1328.2,853.8L1329.7,853.5L1331.3,853.3L1332.9,853.1L1334.4,852.9L1336.0,852.6L1337.6,852.4L1339.2,852.2L1340.7,852.0L1342.3,851.8L1343.9,851.6" fill="none" stroke="#0000ff" stroke-width="1.2"/>
<line x1="1218.20" y1="850.33" x2="1343.87" y2="850.33" stroke="#000" stroke-width="1" stroke-dasharray="1 1.3"/>
</g>
<path d="M1249.62,791.80v4M1249.62,879.60v-4M1281.04,791.80v4M1281.04,879.60v-4M1312.45,791.80v4M1312.45,879.60v-4M1219.50,806.43h2.5M1344.50,806.43h-2.5M1219.50,821.07h4M1344.50,821.07h-4M1219.50,835.70h2.5M1344.50,835.70h-2.5M1219.50,850.33h4M1344.50,850.33h-4M1219.50,864.97h2.5M1344.50,864.97h-2.5" stroke="#000" stroke-width="1" fill="none"/>
<path d="M1219.00,791.80H1345.00M1219.00,879.60H1345.00M1219.50,791.30V880.10M1344.50,791.30V880.10" stroke="#000" stroke-width="1" fill="none"/>
<text x="1324.95" y="811.90" class="pn">25</text>
<clipPath id="cB26"><rect x="150.20" y="880.50" width="125.67" height="87.80"/></clipPath>
<g clip-path="url(#cB26)">
<polygon points="150.2,924.5 152.6,924.7 154.9,924.9 157.3,925.2 159.6,925.3 162.0,925.4 164.3,925.4 166.7,925.4 169.1,925.3 171.4,925.2 173.8,925.1 176.1,925.0 178.5,924.9 180.8,925.0 183.2,925.3 185.5,925.8 187.9,926.4 190.3,926.7 192.6,926.1 195.0,924.8 197.3,923.1 199.7,921.5 202.0,920.4 204.4,920.3 206.8,920.5 209.1,920.8 211.5,920.8 213.8,920.4 216.2,919.7 218.5,919.0 220.9,918.5 223.2,918.3 225.6,918.4 228.0,918.8 230.3,919.3 232.7,919.8 235.0,920.3 237.4,920.7 239.7,920.9 242.1,921.0 244.5,921.2 246.8,921.3 249.2,921.4 251.5,921.6 253.9,921.9 256.2,922.4 258.6,922.9 260.9,923.4 263.3,923.9 265.7,924.4 268.0,924.9 270.4,925.4 272.7,925.9 275.1,926.3 275.9,926.4 275.9,951.1 275.1,951.0 272.7,950.8 270.4,950.6 268.0,950.3 265.7,950.1 263.3,949.8 260.9,949.6 258.6,949.3 256.2,949.0 253.9,948.8 251.5,948.7 249.2,948.8 246.8,948.9 244.5,949.0 242.1,949.1 239.7,949.2 237.4,949.3 235.0,949.1 232.7,948.9 230.3,948.6 228.0,948.4 225.6,948.2 223.2,948.3 220.9,948.7 218.5,949.4 216.2,950.1 213.8,950.7 211.5,951.1 209.1,951.0 206.8,950.8 204.4,950.5 202.0,950.6 199.7,951.6 197.3,953.2 195.0,954.8 192.6,956.1 190.3,956.6 187.9,956.3 185.5,955.7 183.2,955.1 180.8,954.8 178.5,954.7 176.1,954.7 173.8,954.8 171.4,954.8 169.1,954.9 166.7,954.9 164.3,954.9 162.0,954.9 159.6,954.7 157.3,954.5 154.9,954.3 152.6,954.0 150.2,953.8" fill="#fdeaea"/>
<polygon points="150.2,930.7 152.6,930.6 154.9,930.3 157.3,930.2 159.6,930.1 162.0,930.1 164.3,930.1 166.7,930.1 169.1,930.2 171.4,930.3 173.8,930.3 176.1,930.4 178.5,930.6 180.8,930.8 183.2,931.2 185.5,931.8 187.9,932.3 190.3,932.6 192.6,932.5 195.0,932.3 197.3,932.0 199.7,931.7 202.0,931.4 204.4,931.1 206.8,930.9 209.1,930.7 211.5,930.5 213.8,930.5 216.2,930.7 218.5,931.2 220.9,931.8 223.2,932.2 225.6,932.3 228.0,932.3 230.3,932.1 232.7,931.9 235.0,931.8 237.4,931.7 239.7,931.7 242.1,931.8 244.5,932.0 246.8,932.2 249.2,932.3 251.5,932.3 253.9,932.2 256.2,931.9 258.6,931.6 260.9,931.3 263.3,931.1 265.7,930.9 268.0,930.7 270.4,930.6 272.7,930.4 275.1,930.3 275.9,930.3 275.9,947.8 275.1,947.9 272.7,948.0 270.4,948.1 268.0,948.2 265.7,948.4 263.3,948.5 260.9,948.8 258.6,949.0 256.2,949.3 253.9,949.5 251.5,949.7 249.2,949.6 246.8,949.5 244.5,949.2 242.1,949.0 239.7,948.9 237.4,948.9 235.0,948.9 232.7,949.1 230.3,949.3 228.0,949.4 225.6,949.4 223.2,949.2 220.9,948.8 218.5,948.2 216.2,947.7 213.8,947.5 211.5,947.5 209.1,947.6 206.8,947.8 204.4,948.0 202.0,948.3 199.7,948.5 197.3,948.8 195.0,949.1 192.6,949.3 190.3,949.3 187.9,949.1 185.5,948.5 183.2,947.9 180.8,947.5 178.5,947.2 176.1,947.1 173.8,947.0 171.4,946.8 169.1,946.7 166.7,946.7 164.3,946.6 162.0,946.6 159.6,946.6 157.3,946.6 154.9,946.8 152.6,947.0 150.2,947.1" fill="#ededfc"/>
<line x1="181.65" y1="968.30" x2="181.65" y2="880.50" stroke="#000" stroke-width="1" stroke-dasharray="4.8 5.84"/>
<path d="M150.2,939.1L151.8,939.3L153.3,939.4L154.9,939.6L156.5,939.8L158.1,939.9L159.6,940.0L161.2,940.1L162.8,940.2L164.3,940.2L165.9,940.2L167.5,940.1L169.1,940.1L170.6,940.1L172.2,940.0L173.8,939.9L175.3,939.9L176.9,939.8L178.5,939.8L180.0,939.8L181.6,939.9L183.2,940.2L184.8,940.5L186.3,941.0L187.9,941.4L189.5,941.7L191.0,941.7L192.6,941.2L194.2,940.4L195.8,939.3L197.3,938.1L198.9,937.0L200.5,936.0L202.0,935.4L203.6,935.3L205.2,935.4L206.8,935.6L208.3,935.9L209.9,936.0L211.5,936.0L213.0,935.8L214.6,935.4L216.2,934.9L217.7,934.4L219.3,934.0L220.9,933.6L222.5,933.3L224.0,933.3L225.6,933.3L227.2,933.5L228.7,933.7L230.3,934.0L231.9,934.2L233.5,934.5L235.0,934.8L236.6,934.9L238.2,935.0L239.7,935.1L241.3,935.1L242.9,935.1L244.5,935.1L246.0,935.1L247.6,935.1L249.2,935.1L250.7,935.1L252.3,935.2L253.9,935.3L255.4,935.5L257.0,935.8L258.6,936.1L260.2,936.4L261.7,936.6L263.3,936.9L264.9,937.1L266.4,937.4L268.0,937.6L269.6,937.9L271.2,938.1L272.7,938.4L274.3,938.6L275.9,938.8" fill="none" stroke="#ff0000" stroke-width="1.2"/>
<path d="M150.2,939.0L151.8,938.8L153.3,938.7L154.9,938.5L156.5,938.4L158.1,938.4L159.6,938.3L161.2,938.3L162.8,938.3L164.3,938.3L165.9,938.4L167.5,938.4L169.1,938.5L170.6,938.5L172.2,938.6L173.8,938.6L175.3,938.7L176.9,938.8L178.5,938.9L180.0,939.0L181.6,939.2L183.2,939.5L184.8,939.9L186.3,940.4L187.9,940.7L189.5,941.0L191.0,941.0L192.6,940.9L194.2,940.8L195.8,940.6L197.3,940.4L198.9,940.2L200.5,940.0L202.0,939.8L203.6,939.7L205.2,939.5L206.8,939.3L208.3,939.2L209.9,939.1L211.5,939.0L213.0,938.9L214.6,939.0L216.2,939.2L217.7,939.5L219.3,939.9L220.9,940.3L222.5,940.6L224.0,940.8L225.6,940.9L227.2,940.9L228.7,940.8L230.3,940.7L231.9,940.6L233.5,940.5L235.0,940.4L236.6,940.3L238.2,940.2L239.7,940.3L241.3,940.3L242.9,940.5L244.5,940.6L246.0,940.8L247.6,940.9L249.2,941.0L250.7,941.0L252.3,941.0L253.9,940.9L255.4,940.7L257.0,940.5L258.6,940.3L260.2,940.1L261.7,940.0L263.3,939.8L264.9,939.7L266.4,939.6L268.0,939.5L269.6,939.4L271.2,939.3L272.7,939.2L274.3,939.1L275.9,939.1" fill="none" stroke="#0000ff" stroke-width="1.2"/>
<line x1="150.20" y1="939.03" x2="275.87" y2="939.03" stroke="#000" stroke-width="1" stroke-dasharray="1 1.3"/>
</g>
<path d="M181.62,880.50v4M181.62,968.30v-4M213.03,880.50v4M213.03,968.30v-4M244.45,880.50v4M244.45,968.30v-4M150.50,895.13h2.5M276.50,895.13h-2.5M150.50,909.77h4M276.50,909.77h-4M150.50,924.40h2.5M276.50,924.40h-2.5M150.50,939.03h4M276.50,939.03h-4M150.50,953.67h2.5M276.50,953.67h-2.5" stroke="#000" stroke-width="1" fill="none"/>
<path d="M150.00,880.50H277.00M150.00,968.30H277.00M150.50,880.00V968.80M276.50,880.00V968.80" stroke="#000" stroke-width="1" fill="none"/>
<text x="254.65" y="899.90" class="pn">26</text>
<clipPath id="cB27"><rect x="1155.20" y="880.50" width="125.67" height="87.80"/></clipPath>
<g clip-path="url(#cB27)">
<polygon points="1155.2,930.3 1157.6,930.5 1159.9,930.8 1162.3,931.0 1164.6,931.3 1167.0,931.5 1169.3,931.6 1171.7,931.8 1174.1,931.9 1176.4,932.0 1178.8,932.1 1181.1,932.3 1183.5,932.4 1185.8,932.7 1188.2,933.2 1190.5,934.1 1192.9,935.0 1195.3,935.1 1197.6,934.1 1200.0,932.1 1202.3,929.5 1204.7,926.9 1207.0,925.5 1209.4,925.5 1211.8,926.0 1214.1,926.5 1216.5,926.6 1218.8,926.3 1221.2,925.6 1223.5,924.8 1225.9,924.1 1228.2,923.4 1230.6,922.9 1233.0,922.6 1235.3,922.5 1237.7,922.6 1240.0,922.7 1242.4,922.8 1244.7,922.9 1247.1,923.1 1249.5,923.2 1251.8,923.4 1254.2,923.7 1256.5,924.0 1258.9,924.6 1261.2,925.3 1263.6,926.1 1265.9,926.9 1268.3,927.6 1270.7,928.2 1273.0,928.7 1275.4,929.2 1277.7,929.7 1280.1,930.0 1280.9,930.1 1280.9,944.1 1280.1,944.1 1277.7,943.7 1275.4,943.2 1273.0,942.6 1270.7,942.0 1268.3,941.4 1265.9,940.6 1263.6,939.8 1261.2,938.9 1258.9,938.1 1256.5,937.5 1254.2,937.1 1251.8,936.8 1249.5,936.5 1247.1,936.3 1244.7,936.1 1242.4,936.0 1240.0,935.8 1237.7,935.6 1235.3,935.5 1233.0,935.5 1230.6,935.8 1228.2,936.4 1225.9,937.2 1223.5,938.0 1221.2,938.9 1218.8,939.7 1216.5,940.2 1214.1,940.1 1211.8,939.8 1209.4,939.4 1207.0,939.6 1204.7,941.0 1202.3,943.7 1200.0,946.5 1197.6,948.6 1195.3,949.7 1192.9,949.8 1190.5,949.1 1188.2,948.3 1185.8,947.9 1183.5,947.9 1181.1,947.9 1178.8,948.0 1176.4,948.0 1174.1,948.1 1171.7,948.1 1169.3,948.1 1167.0,948.2 1164.6,948.1 1162.3,948.1 1159.9,948.0 1157.6,947.9 1155.2,947.8" fill="#fdeaea"/>
<polygon points="1155.2,932.8 1157.6,932.7 1159.9,932.5 1162.3,932.3 1164.6,932.2 1167.0,932.2 1169.3,932.2 1171.7,932.2 1174.1,932.3 1176.4,932.4 1178.8,932.5 1181.1,932.7 1183.5,932.9 1185.8,933.2 1188.2,933.5 1190.5,934.0 1192.9,934.6 1195.3,935.0 1197.6,935.2 1200.0,935.3 1202.3,935.3 1204.7,935.4 1207.0,935.4 1209.4,935.4 1211.8,935.2 1214.1,934.8 1216.5,934.3 1218.8,933.9 1221.2,933.8 1223.5,934.0 1225.9,934.5 1228.2,935.2 1230.6,935.8 1233.0,936.3 1235.3,936.7 1237.7,937.1 1240.0,937.3 1242.4,937.6 1244.7,937.6 1247.1,937.7 1249.5,937.7 1251.8,937.7 1254.2,937.6 1256.5,937.6 1258.9,937.4 1261.2,937.2 1263.6,936.8 1265.9,936.5 1268.3,936.2 1270.7,935.9 1273.0,935.6 1275.4,935.3 1277.7,935.0 1280.1,934.7 1280.9,934.6 1280.9,944.6 1280.1,944.6 1277.7,945.0 1275.4,945.3 1273.0,945.7 1270.7,946.0 1268.3,946.4 1265.9,946.7 1263.6,947.1 1261.2,947.5 1258.9,947.8 1256.5,948.0 1254.2,948.1 1251.8,948.2 1249.5,948.2 1247.1,948.3 1244.7,948.3 1242.4,948.2 1240.0,948.1 1237.7,947.8 1235.3,947.5 1233.0,947.2 1230.6,946.7 1228.2,946.1 1225.9,945.5 1223.5,945.0 1221.2,944.9 1218.8,945.0 1216.5,945.5 1214.1,946.0 1211.8,946.5 1209.4,946.7 1207.0,946.7 1204.7,946.7 1202.3,946.7 1200.0,946.7 1197.6,946.7 1195.3,946.5 1192.9,946.2 1190.5,945.7 1188.2,945.2 1185.8,944.9 1183.5,944.7 1181.1,944.5 1178.8,944.4 1176.4,944.3 1174.1,944.2 1171.7,944.2 1169.3,944.2 1167.0,944.2 1164.6,944.3 1162.3,944.5 1159.9,944.7 1157.6,944.9 1155.2,945.1" fill="#ededfc"/>
<line x1="1187.00" y1="968.30" x2="1187.00" y2="880.50" stroke="#000" stroke-width="1" stroke-dasharray="4.8 5.84"/>
<path d="M1155.2,939.1L1156.8,939.2L1158.3,939.3L1159.9,939.4L1161.5,939.5L1163.1,939.6L1164.6,939.7L1166.2,939.8L1167.8,939.8L1169.3,939.9L1170.9,939.9L1172.5,940.0L1174.1,940.0L1175.6,940.0L1177.2,940.0L1178.8,940.0L1180.3,940.1L1181.9,940.1L1183.5,940.1L1185.0,940.2L1186.6,940.4L1188.2,940.7L1189.8,941.3L1191.3,942.0L1192.9,942.5L1194.5,942.7L1196.0,942.3L1197.6,941.4L1199.2,940.1L1200.8,938.5L1202.3,936.6L1203.9,934.6L1205.5,933.1L1207.0,932.4L1208.6,932.3L1210.2,932.5L1211.8,932.9L1213.3,933.2L1214.9,933.4L1216.5,933.5L1218.0,933.2L1219.6,932.8L1221.2,932.2L1222.7,931.7L1224.3,931.2L1225.9,930.7L1227.5,930.1L1229.0,929.7L1230.6,929.3L1232.2,929.1L1233.7,929.0L1235.3,929.0L1236.9,929.0L1238.5,929.1L1240.0,929.2L1241.6,929.3L1243.2,929.4L1244.7,929.5L1246.3,929.6L1247.9,929.8L1249.5,929.9L1251.0,930.0L1252.6,930.2L1254.2,930.4L1255.7,930.6L1257.3,930.9L1258.9,931.3L1260.4,931.8L1262.0,932.4L1263.6,933.0L1265.2,933.5L1266.7,934.0L1268.3,934.5L1269.9,934.9L1271.4,935.3L1273.0,935.7L1274.6,936.0L1276.2,936.4L1277.7,936.7L1279.3,937.0L1280.9,937.2" fill="none" stroke="#ff0000" stroke-width="1.2"/>
<path d="M1155.2,939.0L1156.8,938.9L1158.3,938.7L1159.9,938.6L1161.5,938.5L1163.1,938.4L1164.6,938.3L1166.2,938.2L1167.8,938.2L1169.3,938.2L1170.9,938.2L1172.5,938.2L1174.1,938.2L1175.6,938.3L1177.2,938.4L1178.8,938.5L1180.3,938.6L1181.9,938.7L1183.5,938.8L1185.0,938.9L1186.6,939.1L1188.2,939.3L1189.8,939.7L1191.3,940.0L1192.9,940.4L1194.5,940.7L1196.0,940.8L1197.6,940.9L1199.2,941.0L1200.8,941.0L1202.3,941.0L1203.9,941.0L1205.5,941.1L1207.0,941.1L1208.6,941.1L1210.2,941.0L1211.8,940.9L1213.3,940.6L1214.9,940.2L1216.5,939.9L1218.0,939.6L1219.6,939.3L1221.2,939.3L1222.7,939.4L1224.3,939.6L1225.9,940.0L1227.5,940.4L1229.0,940.9L1230.6,941.3L1232.2,941.6L1233.7,941.9L1235.3,942.1L1236.9,942.3L1238.5,942.5L1240.0,942.7L1241.6,942.8L1243.2,942.9L1244.7,943.0L1246.3,943.0L1247.9,943.0L1249.5,942.9L1251.0,942.9L1252.6,942.9L1254.2,942.9L1255.7,942.8L1257.3,942.7L1258.9,942.6L1260.4,942.4L1262.0,942.2L1263.6,942.0L1265.2,941.7L1266.7,941.5L1268.3,941.3L1269.9,941.1L1271.4,940.9L1273.0,940.6L1274.6,940.4L1276.2,940.2L1277.7,940.0L1279.3,939.7L1280.9,939.6" fill="none" stroke="#0000ff" stroke-width="1.2"/>
<line x1="1155.20" y1="939.03" x2="1280.87" y2="939.03" stroke="#000" stroke-width="1" stroke-dasharray="1 1.3"/>
</g>
<path d="M1186.62,880.50v4M1186.62,968.30v-4M1218.04,880.50v4M1218.04,968.30v-4M1249.45,880.50v4M1249.45,968.30v-4M1155.50,895.13h2.5M1281.50,895.13h-2.5M1155.50,909.77h4M1281.50,909.77h-4M1155.50,924.40h2.5M1281.50,924.40h-2.5M1155.50,939.03h4M1281.50,939.03h-4M1155.50,953.67h2.5M1281.50,953.67h-2.5" stroke="#000" stroke-width="1" fill="none"/>
<path d="M1155.00,880.50H1282.00M1155.00,968.30H1282.00M1155.50,880.00V968.80M1281.50,880.00V968.80" stroke="#000" stroke-width="1" fill="none"/>
<text x="1261.10" y="899.90" class="pn">27</text>
<text x="84.60" y="621.20" class="ax" text-anchor="end">2</text>
<text x="84.60" y="650.47" class="ax" text-anchor="end">1</text>
<text x="84.60" y="679.73" class="ax" text-anchor="end">0</text>
<text x="84.60" y="709.00" class="ax" text-anchor="end">-1</text>
<text x="87.60" y="720.00" class="ax" text-anchor="middle">-5</text>
<text x="119.02" y="720.00" class="ax" text-anchor="middle">0</text>
<text x="150.44" y="720.00" class="ax" text-anchor="middle">5</text>
<text x="181.85" y="720.00" class="ax" text-anchor="middle">10</text>
<text x="213.27" y="720.00" class="ax" text-anchor="middle">15</text>
<text x="121" y="749.90" class="tl">Time (s)</text>
<text transform="translate(59.9,678.00) rotate(-90)" class="x10">x10</text>
<text transform="translate(50.1,655.40) rotate(-90)" class="sup">-2</text>
<text transform="translate(20.9,908.80) rotate(-90)" class="big">Hemoglobin change [mM]</text>
<text x="459.2" y="428.3" class="big">(A) Left hand use with right hand restraint</text>
<text x="395.2" y="955.9" class="big">(B) Direct feeding to mouth with both hands restraint</text>
</svg>
</body></html>
